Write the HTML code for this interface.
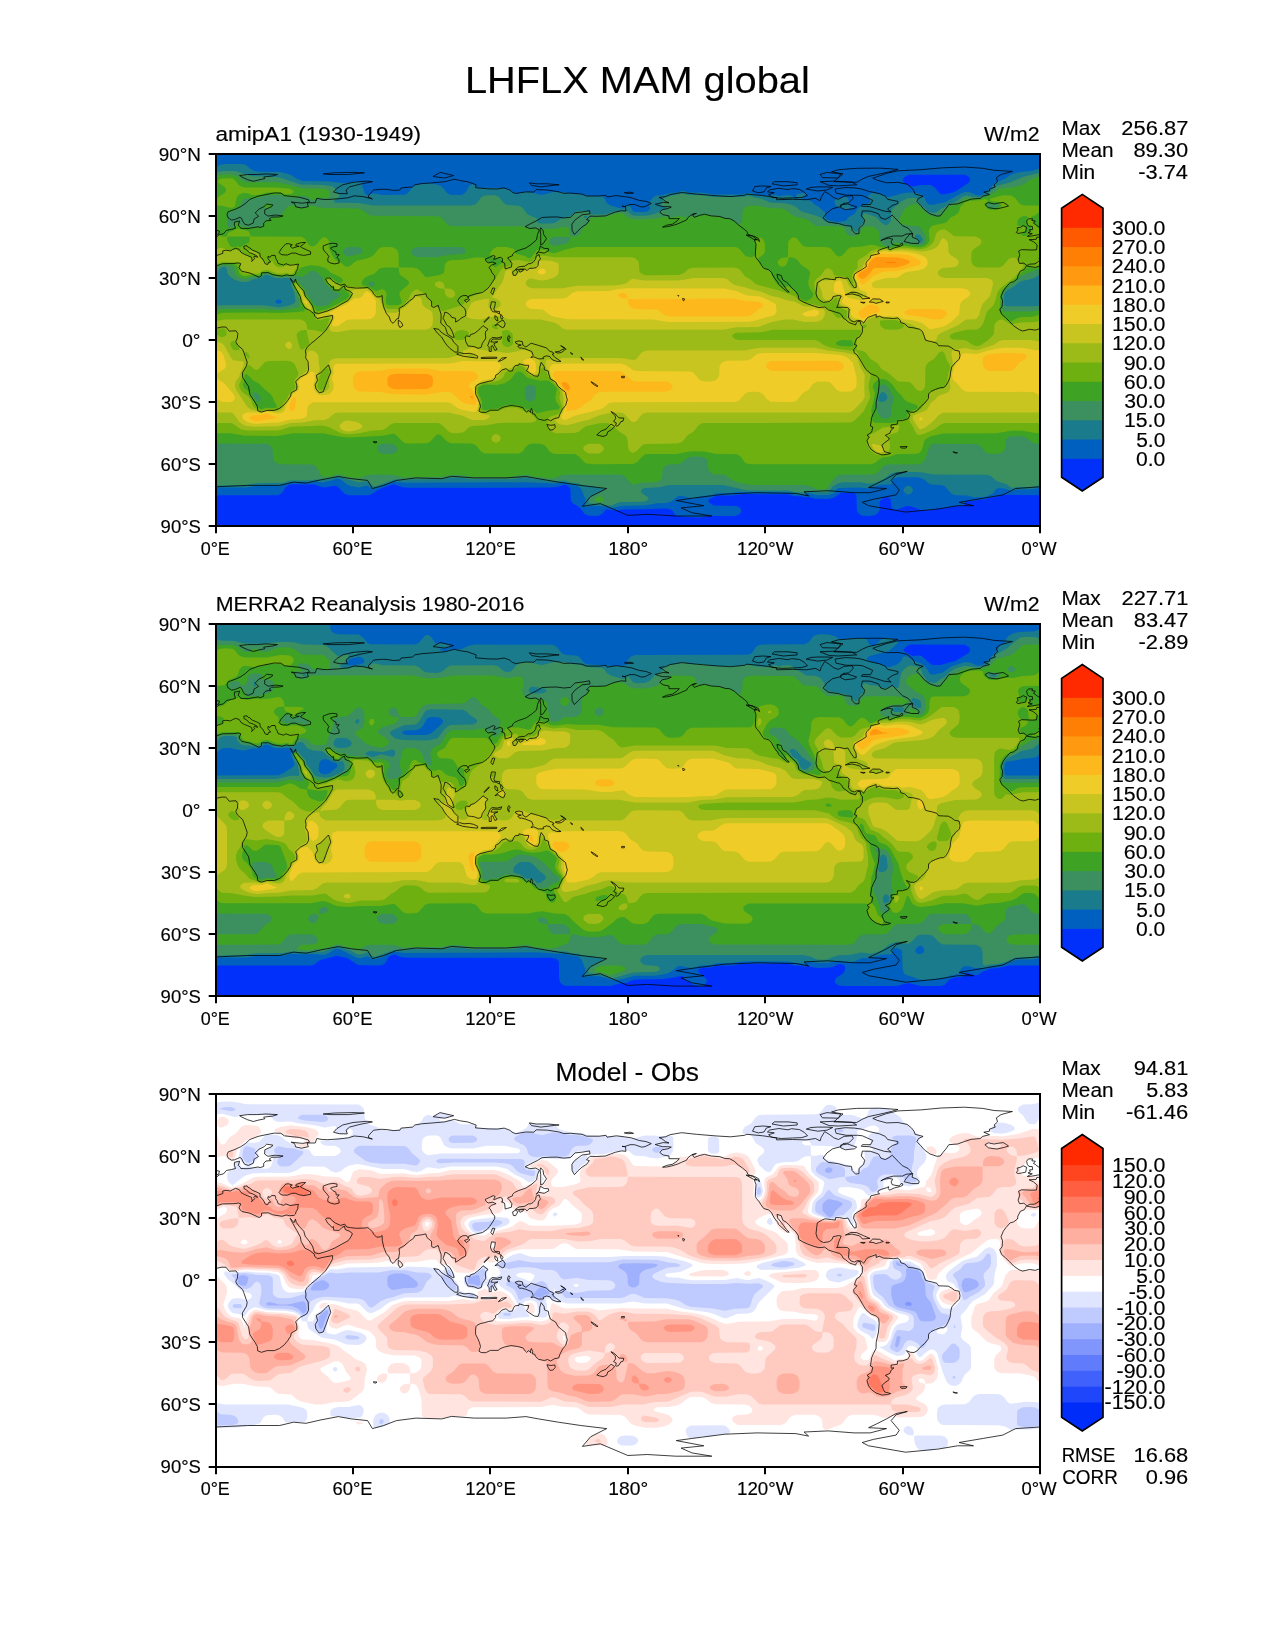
<!DOCTYPE html>
<html><head><meta charset="utf-8"><title>LHFLX MAM global</title>
<style>html,body{margin:0;padding:0;background:#fff}svg{display:block;will-change:transform}text{font-family:"Liberation Sans",sans-serif;fill:#000;stroke:#000;stroke-width:0.15px}</style>
</head><body>
<svg width="1275" height="1650" viewBox="0 0 1275 1650">
<rect width="1275" height="1650" fill="#fff"/>
<clipPath id="ax0"><rect x="215.6" y="153.78" width="824.3" height="372.57"/></clipPath><g clip-path="url(#ax0)" fill-rule="evenodd"><rect x="215.6" y="153.78" width="824.3" height="372.57" fill="#0030fa"/>
<path fill="#0060c0" d="M214.6 152.8 1040.9 152.8 1040.9 495.3 1002.9 494.8 996.9 496.7 990.9 497.4 984.9 499.5 978.9 499.6 972.9 500.9 966.9 500.8 965.3 501.3 964 505.3 962.9 506 950.9 506.4 944.9 508.3 936.9 508.4 932.9 509.8 928.9 510.3 920.9 510.1 912.9 506.9 908.9 506 904.9 506.5 896.8 509.8 894.8 509.8 892.8 508.9 891.5 507.3 890.5 499.3 888.1 497.3 884.8 497.1 881.5 499.3 879.8 501.3 879.5 509.3 879 511.3 877.7 513.3 874.8 515.3 868.8 516 862.8 515.7 860.8 515 858.6 513.3 857.3 511.3 856.8 509.3 856.5 495.3 854.4 493.3 850.8 492.6 840.8 492.7 834.8 497.3 830.8 498.6 826.8 499 814.8 498.7 808.8 497 804.8 497.2 800.8 496.3 794.8 496.2 788.8 494.4 786.8 494.2 742.8 494.1 732.8 495.5 718.8 495.5 714.8 496.4 708.8 499.3 708.7 501.3 710.1 503.3 712.8 505 714.8 505.5 736.8 506.1 739.2 507.3 740.9 509.3 741.3 511.3 740.3 513.3 737.4 515.3 734.8 515.9 708.8 516 700.8 517.6 686.8 516.9 676.8 515.7 674.8 514.5 672.9 511.3 670.8 509.4 664.8 508.4 644.8 509.3 622.7 509.4 614.7 510.4 606.7 509.2 604.7 510.7 602.7 513.5 600 515.3 596.7 516 588.7 515.8 584.7 514.1 579.5 507.3 572.7 503.3 571.3 501.3 570.7 499.3 570.5 489.3 569.6 487.3 566.8 485.3 564.7 484.7 556.7 487 550.7 487.6 408.7 487.7 402.7 487.2 394.7 484.4 392.7 484.3 378.9 489.3 370.7 494.8 366.7 495.3 352.6 495.3 348.6 495.2 344.6 493.7 338.2 487.3 336.6 486.2 334.6 485.8 324.6 487.4 320.6 486.8 314.6 484.4 292.6 484.2 288.6 485.1 285.3 487.3 283.3 491.3 281.7 493.3 278.6 495 276.6 495.3 214.6 495.3ZM908.9 174.7 904.8 176.8 903.3 178.8 902.9 180.8 904.7 182.8 908.9 185.4 910.9 186.3 912.9 186.5 920.9 184.9 930.9 185.1 934.9 187.4 939.1 192.8 940.9 194.1 942.9 194.5 952.9 192.5 956.7 190.8 968.6 182.8 970 180.8 970.1 178.8 968.9 176.8 964.9 174.7Z"/>
<path fill="#1a7b8c" d="M220.4 164.8 224.6 164.1 240.6 164.1 244.6 164.6 246.6 165.5 250.6 169 254.6 171.1 258.6 171.7 278.6 171.9 282.6 172.4 290.6 174.8 296.5 178.8 302.6 181 326.6 181.2 342.6 183 348.6 182.9 354.7 181.6 358.7 182 362.3 182.8 362.3 186.8 363.5 188.8 364.6 192.8 366.7 195.3 368.7 195.1 372.7 193.2 382.7 195.1 404.7 194.8 408 192.8 413 186.8 416.7 184.4 428.7 183.3 436.7 184.4 440.7 185.9 442.7 187.5 446.8 192.8 450.4 194.8 460.7 195 462.7 194.5 465.2 192.8 466.8 190.8 468.7 186.6 470.5 184.8 472.7 184.3 474.7 184.8 476.7 187 478.7 187.7 502.7 187.9 510.7 190.4 514.7 193.3 516.7 193.7 522.7 191.9 528.7 191.9 532.7 192.5 538.7 194.4 542.7 194.8 552.7 192.1 562.7 191.9 572.7 193.8 580.7 193.9 586.7 195.8 600.7 196.3 602.7 196.9 604.7 198.8 606.7 202.9 610.7 205.4 618.7 207.7 622.7 208.4 624.7 207.5 626.7 205.6 628.8 205.6 630.9 206.9 632.8 210.9 634.8 211.9 636.8 212.1 644.8 212 648.3 210.9 650.2 208.9 650.1 206.9 648.8 204.9 649 202.9 652.8 197.7 654.8 196.2 656.8 195.6 660.8 195.6 670.8 193 676.8 192.5 682.8 190.8 688.8 192.5 702.8 192.7 714.8 194.6 740.8 194.6 748.8 192.9 752.8 193.4 756.8 195 766.8 195.8 774.8 195.2 780.8 196.2 782.8 195.4 788.8 195.2 790.8 195.4 794 196.8 794.7 198.8 796.8 198.9 798.7 198.8 795.9 196.8 796.4 194.8 802.8 192.8 804.8 193.4 805.5 194.8 802.8 197.9 801.1 198.8 810.8 201 814.8 204.5 819 206.9 824.8 212.2 825.5 214.9 825.2 216.9 826 218.9 828.8 220.2 836.8 222 845.5 220.9 848.8 217.1 854.8 213.8 857.4 208.9 861.8 204.9 869.7 202.9 870.5 200.9 868.8 198.8 868 196.8 868.8 194.8 872.8 192.5 882.8 194.4 886.8 196.8 888.8 197.2 900.8 193.8 906.9 192.7 910.9 192.6 918.9 193.7 921.8 194.8 923.8 196.8 926.9 203.1 928.9 204.6 930.9 205 932.9 204.7 944.9 202.2 960.9 193.6 964.9 192.1 968.9 192.1 976.9 195.3 978.9 195.5 981.6 194.8 985.3 192.8 994.9 183.2 996.9 181.9 1005 178.8 1010.9 174.7 1018.9 172.3 1032.9 170.8 1038.7 168.8 1040.9 167.2 1040.9 487.6 1036.9 488.6 1030.9 489.3 1016.9 489.5 1012.9 490.6 1010.9 490.6 1002.9 488.3 998.9 488.1 995.9 489.3 993.4 493.3 986.9 496.2 984.9 496.9 973.6 497.3 966.9 495.6 956.9 495.3 952.9 494.5 950.9 493.3 944.9 486.3 940.9 485 930.9 484.5 928.4 483.3 923.8 479.3 920.9 477.9 916.9 477.3 898.8 477.3 894.8 478 892.8 479.2 891.9 481.3 891.8 483.3 890.8 484.5 880.8 484.7 872.8 486.7 868.8 488.5 858.8 487.6 838.8 488 836.3 489.3 835.5 491.3 833.9 493.3 828.8 495 816.8 495.2 808.8 493.3 806.8 493.7 804.8 494.9 794.8 494.2 790.8 492.8 786.8 492.3 742.8 492 736.8 492.1 730.8 493.1 716.8 493.2 710.8 495.2 700.8 496.3 694.8 498.2 690.8 498.2 682.8 496.1 678.8 495.9 676.1 497.3 671.9 501.3 666.8 502.9 656.8 503.2 644.8 505.6 622.7 505.7 612.7 507.8 600.7 505.9 590.7 505.9 586.7 506.7 584.7 505.8 584.4 505.3 585.5 501.3 585.4 499.3 581.5 489.3 579.4 487.3 576.7 485.8 570.7 484.7 564.7 482.5 554.7 483.4 526.7 482.3 404.7 482.8 394.7 481.7 384.7 484.8 374.7 488.7 372.7 488.7 366.7 485.4 362.7 486.8 358.7 487.4 350.6 486.1 346.6 484.2 340.7 479.3 336.6 478.6 330.6 480.8 322.6 482.5 316.6 481.6 310.6 482.3 290.6 482.4 284.6 484.6 276.6 485.5 258.6 485.5 246.6 487.4 218.6 487.5 214.6 488.2 214.6 168.6ZM276.6 300 275.4 301 275.6 303 278.6 303.8 281.5 303 281.7 301 280.6 300.1 278.6 299.4ZM836.7 198.8 844.8 197 846.8 197.6 848.2 198.8 848.6 200.9 848.1 202.9 849.5 204.9 850.8 206.5 853.7 206.9 852.8 208.8 850.8 207.5 849.3 208.9 846.8 209.6 844.8 209.3 837.6 206.9 835.5 204.9 834.6 202.9 834.4 200.9ZM904.8 487.3 906.9 486 908.9 485.8 910.9 486.6 912.9 489.3 912.8 491.3 910.9 493.6 908.9 494.5 906.9 494.2 905.3 493.3 903.7 491.3 903.6 489.3Z"/>
<path fill="#3c9060" d="M215.4 172.8 222.6 171 234.6 171.1 238.6 171.9 246.6 174.8 252.6 176.2 278.6 177.3 300.6 184.4 322.6 184.9 330.6 186 333.3 186.8 334.6 188.1 336.2 192.8 339 194.8 339.1 196.8 333.4 200.9 334.6 202.2 336.6 202.8 358.7 203 372.7 205.5 470.7 205.5 474.7 204.6 476.7 203.2 480.7 198 482.7 196.3 486.7 195.2 494.7 195.3 498.8 196.8 503.7 202.9 506.7 204.9 518.7 205.8 520.7 206.6 522.7 208.1 526.3 212.9 528.7 214.9 536.7 218.2 538.1 222.9 540.7 223.5 550.7 223.5 554.7 222.9 561.1 218.9 570.7 216.1 576.7 211.6 580.7 210.9 586.7 211 588.7 211.8 590.7 214.4 592.7 214.6 604.7 214.5 614.7 211.2 622.7 210.7 626.7 211.1 631.9 214.9 634.8 215.7 644.8 215.8 650.5 214.9 656.8 213.2 660.8 210.4 666.7 208.9 666.7 206.9 660.6 204.9 663.6 198.8 664.8 197.8 672.8 195.2 678.8 194.6 682.8 193.3 688.8 195 702.8 195.2 712.8 197 742.8 197 748.8 195.7 754.8 197.7 761.5 198.8 770.8 202.7 784.8 203.2 792 204.9 796.1 206.9 800.6 210.9 802.8 212.1 813.9 214.9 818.8 216.7 820.8 217.6 824.3 220.9 826.8 222.2 830.8 222.6 834.8 223.8 842.8 224.3 844.8 225.3 848.8 225.9 851.2 226.9 854.2 230.9 856.8 231.7 857.6 230.9 858.9 226.9 863.1 222.9 863.9 220.9 862.7 214.9 864.8 213.2 876.1 216.9 881.8 222.9 884.8 225 886.8 225.1 888.8 223.8 890.7 220.9 891.3 210.9 892.2 208.9 902.2 200.9 906.9 198.4 912.9 197.8 916.9 198.6 919.4 202.9 926.9 210.4 928.9 211.8 930.9 212.5 934.9 212.8 936.9 212 940.8 208.9 944.9 207.1 948.9 203.7 952.9 202.8 956.9 201 962.9 196.5 966.9 195.6 972.9 196.9 978.9 197.2 980.9 196.9 986.7 194.8 996.9 185.7 1009.3 182.8 1023.6 176.8 1040.9 172.4 1040.9 272.5 1036.9 276.4 1034.9 277.6 1030.9 279.1 1020.9 281.2 1018 283 1014.9 286.1 1006.9 290.4 1004.7 293 1004 295 1003.8 299 1004.5 305 1004.9 305.7 1006.9 306.3 1032.9 306.3 1040.9 305.6 1040.9 485.1 1030.9 486.9 1016.9 487.1 1012.9 487.9 1010.9 487.6 1006.9 484.3 996.9 481.3 990.9 476.1 986.9 474.7 934.9 474.6 918.9 472 896.8 472.1 890.8 473.6 883.5 479.3 874.8 483 868.8 483.7 860.8 482.3 842.8 482.3 838.8 482.9 832.8 486.3 828.8 491.3 824.8 492.2 816.8 492.1 806.8 490.7 802.8 492.6 794.8 492.3 788.8 490.6 748.8 490.5 740.9 489.3 736.8 487.9 722.8 485 668.8 485.1 658.8 487.3 644.8 488.1 642 489.3 640.8 491.3 641.9 493.3 647.9 497.3 648.6 499.3 645.9 501.3 642.8 501.8 620.7 502.1 616.7 503.1 612.7 505.1 610.7 505.5 606.7 505.2 602.7 504.3 590.7 503.6 588.7 503 588.6 499.3 589.6 497.3 594.7 493.9 602.2 491.3 604.3 489.3 602.7 488.3 596.7 487.6 592.7 486.3 582.7 485.5 578.7 483.6 570.7 482.5 564.7 480.6 556.7 481.3 546.7 480.7 540.7 479.3 532.7 478.9 528.7 477.5 526.7 477.4 520.7 477.5 516.7 478.5 508.7 479.2 470.7 479.2 460.7 477.5 450.7 477.4 442.7 479.2 410.7 479.2 404.7 480.2 394.7 479.6 374.7 486.5 372.7 486 368.7 481.8 366.7 481.2 358.7 482.3 344.6 478.6 340.6 476.7 336.6 476.4 330.6 478.5 322.6 479.8 316.6 479.4 310.6 480.3 290.6 480.4 282.6 482.7 256.6 483.1 244.6 485 214.6 485.4 214.6 305.8 222.6 305.3 264.6 305.3 278.6 307.5 282.8 307 290.9 305 294.6 303 295.5 301 294.6 293.4 291.1 285 291.6 279 286.6 277.7 282.6 278.3 274.6 277.9 268.6 275.1 266.6 274.7 264.6 274.8 260.6 277.9 254.6 278.8 248.6 281.5 244.6 282.1 240.6 281.7 234.6 279.7 230.7 277 228.6 275 227.5 273 227 269 225.3 267 224.6 266.8 222.1 267 219.7 269 214.6 274.6 214.6 173ZM584.7 216.1 583.8 216.9 584.7 218.1 586.7 217.7 587.3 216.9 586.7 215.7ZM880.8 392.7 878.6 397.2 878.4 399.2 878.8 401.3 880.8 402.1 884.8 401.4 886.9 399.2 887.4 397.2 886.8 395.1 884.8 392.7 882.8 392ZM916.9 234.6 915.5 234.9 914.7 236.9 916.9 238.4 918.9 242.1 920.9 242.8 922.7 240.9 922.5 238.9 920.9 236.1 918.9 234.7Z"/>
<path fill="#3ea224" d="M220.7 174.8 230.6 174.5 234.6 175.2 238.1 176.8 242.8 180.8 246.6 182.1 276.6 182.3 290.6 185.1 302.6 188.5 324.6 188.8 328.9 190.8 329.9 192.8 330 194.8 329.4 196.8 328.6 197.2 324.6 198.5 318.6 197.2 316.6 197.8 314.6 199.5 312.6 200.2 306.6 196.5 302.6 195.7 294.6 197.4 286.6 197 280.6 195.2 268.6 195.1 254.6 198.4 244.6 198.5 241.9 200.9 240.8 204.9 238.6 207.6 234.6 210.5 230.6 211.2 227.9 212.9 227 216.9 227.1 224.9 227.5 226.9 230.6 228 233 226.9 233.9 222.9 236.6 222.1 238.6 223.1 240.6 225.6 242.6 226.7 252.6 227.4 256.6 227 260.6 227.3 262.6 225.6 264.6 222.2 266.6 220.3 270.6 218.1 276.6 216.8 280.5 214.9 282.7 212.9 286.6 207.8 288.6 206.3 292.6 205.2 294.6 205.6 298.6 207.5 304.6 207.9 306.6 207.5 310.6 205.2 318.6 207.3 324.6 208.1 358.7 208.4 363.8 210.9 368.7 215 372.7 215.8 438.7 216.2 442.7 218.5 445.9 222.9 448.1 224.9 452.7 226.2 520.7 226.2 522.7 226.3 528.7 228.3 542.7 229.1 554.7 228.7 564.7 226.7 566.7 227 568.7 228.6 570.7 236.8 576.7 236.2 579 234.9 580.8 232.9 582.1 228.9 583.5 226.9 588.6 222.9 590.2 218.9 592.7 217.3 604.7 217 616.7 213.3 620.7 213 622.7 213.3 626.7 216.9 630.8 218.8 634.8 219.5 644.8 219.5 656.8 218.4 664.8 216.5 670.8 217.6 678.8 216.1 686.8 217.5 690.8 216.3 694.8 216.7 704.8 214 710.8 215.8 716.8 215.9 722.8 217.8 728.8 218.4 732.8 220.3 736.8 223.4 738.8 224.1 741.5 222.9 742.1 220.9 742.6 210.9 744.8 207.6 748.8 205.7 756.8 205.6 768.8 207.9 780.8 208.3 783.7 208.9 787.4 210.9 792.8 215.4 796.8 217 806.8 219.3 809.8 220.9 814.4 224.9 816.8 225.9 840.8 226.2 842.7 226.9 844.7 228.9 846.4 232.9 848.3 234.9 850.8 235.9 856.8 235.4 858.8 234.3 860 232.9 861.7 228.9 864.8 226.7 868.8 226.2 872.8 226.5 874.8 227.4 878.5 230.9 879.4 232.9 879.7 238.9 881.4 242.9 883.2 244.9 886.8 245.7 888.8 246.7 890.8 246.9 894.8 242.5 896.8 242.5 900.8 243.5 912.9 244.2 918.9 245.5 922.9 244.5 925.1 242.9 926.1 240.9 926.1 238.9 924.9 235.2 920.9 228 918.9 226.6 904.9 225.1 900.8 223.2 899.1 220.9 899.3 218.9 903 210.9 904.9 208.7 908.9 205.7 914.9 204 916.9 204.5 926.9 213.6 928.9 214.7 934.9 216.4 938.9 216.4 940.9 215.6 942.9 212.5 948.9 206.7 950.9 205.5 958.9 203.5 964.9 199.1 966.9 198.6 978.9 198.4 986.9 196.6 993.8 192.8 998.9 189.1 1014.9 187 1020.9 185.6 1024.9 183.7 1028.5 180.8 1032.2 178.8 1040.9 175.9 1040.9 267.8 1020.9 276.1 1014.9 281.7 1009.9 285 1004.9 289.4 1002.6 293 1001.9 299 1002.1 309 1002.9 310.7 1004.9 311.6 1032.9 311.5 1040.9 309.8 1040.9 443.6 1034.9 443.4 1032.9 442.7 1025.6 437.2 1022.9 436.2 1010.9 436.3 1008.5 437.2 1006.3 439.2 1005.6 441.2 1005.4 447.2 1004.9 449.2 1003.6 451.2 1000.7 453.2 994.9 453.9 988.9 453.7 986.9 453 984.5 451.2 980.9 446.3 976.9 443.9 932.9 443.8 930.9 444.8 929.2 447.2 925.3 459.2 922.9 462.2 920.9 463.5 916.9 464.2 886.8 464.5 882.8 466.6 877 473.3 872.8 474.5 842.8 474.6 838.8 475.2 836.8 476.2 832.8 480 826.8 488.6 824.8 489.5 820.8 489.6 816.8 489.3 810.8 486.4 804.8 485.1 750.8 484.9 736.8 482.1 732.8 480.4 725.9 475.3 722.8 474.6 714.8 474.5 710.8 472.8 708.2 469.3 707.8 461.3 706.8 459.2 703.6 457.2 698.8 456.6 692.8 456.6 689.2 457.2 685.6 459.2 680.9 463.3 678.8 464 668.8 464.4 666.2 465.3 663.7 467.3 662.6 469.3 662 477.3 661.2 479.3 658.5 481.3 654.8 482.2 642.8 482.6 634.8 484.2 632.8 484.2 630.8 483.3 624.7 476.3 622.7 475.2 618.7 474.6 566.7 474.6 560.7 475.6 554.7 478 548.7 478.6 540.7 477.1 534.7 476.9 530.7 475.5 526.7 475 520.7 475.1 510.7 476.9 504.7 477 472.7 477 460.7 475.1 450.7 475 440.7 477 410.7 477 404.7 477.7 392.7 474.7 372.7 474.6 366.7 475.5 358.7 478.3 346.6 476.8 340.6 474.6 336.6 474.5 330.6 476.4 324.6 476.9 322.6 476.5 320.9 475.3 317.1 467.3 314.6 465.3 312.6 464.5 280.6 464.2 276.6 463.1 274.4 461.3 273.3 459.2 272.6 449.2 271.7 447.2 269.8 445.2 266.6 443.8 214.6 443.6 214.6 310.3 220.6 309.2 226.6 309 264.6 309 278.6 310.2 290 309 298.6 307.2 300 305 298.9 299 297 293 295.4 291 292.8 285 292.8 283 294.4 281 296.6 280.1 298.6 281.4 300.6 284.7 304.6 289 305.9 291 306.6 294.4 310.6 299 312.6 302.6 314.6 305.2 316.6 306.1 324.6 306.1 328 305 332.6 300.7 339.3 297 340.6 295 340.2 293 334.6 292 328.6 286.7 323.3 281 322.6 277.8 322 277 318 273 314.6 271.1 312.6 270.8 310.6 271.3 302.6 277 296.6 276.1 290.6 276.8 286.6 275.9 282.6 276.5 276.6 276.5 266.6 272.9 264.6 273 260.6 276 252.6 276.8 244.6 278.9 240.6 278 236.2 275 235.1 273 234.1 267 232.6 266.1 227.4 265 222.6 264.8 214.6 268.5 214.6 176.6ZM344.6 248.6 342.9 250.9 343.2 252.9 346.6 256.1 348.6 256.4 358.7 254.3 361.7 252.9 362.8 250.9 360.7 248.1 356.7 247 348.6 247ZM368.7 282.5 368.5 285 370.7 286 372.7 286.5 374.1 285 374.3 283 372.7 281.7 370.7 281.4ZM380.7 444.3 378.7 445.5 377.2 447.2 376.9 449.2 377.9 451.2 380.7 453.2 384.7 453.9 392.7 453.7 394.7 452.9 396.7 451.4 397.5 449.2 396.7 447.2 392.7 444.1 384.7 443.6ZM414.7 247.8 412.9 248.9 411.4 250.9 411.3 252.9 412.5 254.9 414.7 256.4 418.7 257.2 436.7 257.2 448.7 254.8 460.7 254.3 464.7 252.9 465.8 250.9 464.8 248.9 462.7 247.6 458.7 246.9 418.7 246.9ZM528.7 384.8 525.3 387.1 524.8 389.1 524.8 395.1 525 397.2 526.7 400.2 528.7 401.4 530.7 401.5 532.7 400.8 534.6 399.2 535.7 397.2 536.1 389.1 535.3 387.1 532.7 385.2ZM554.7 236.7 550.7 238.2 549 240.9 549.5 242.9 550.7 244.3 552.7 245.7 554.7 246 564.7 243.9 567.4 242.9 569.6 240.9 570.6 236.9ZM880.8 385 878.5 387.1 877.9 389.1 877.8 393.1 876 399.2 876.1 407.2 878.8 414.9 880.6 417.2 884.8 418.7 886.8 418.6 890.1 417.2 891 415.2 891.1 409.2 893.2 401.2 893.5 397.2 889.6 389.1 886.8 385.7 884.8 384.5 882.8 384.3ZM988.9 202.7 987 204.9 988 206.9 990.9 208 996.9 207.7 998.2 206.9 998.9 204.9 996.9 203.7ZM252.6 392.8 252.9 395.1 256.6 401.6 258.6 402.6 259.9 401.2 260.6 399.2 260.5 397.2 259.2 395.1 256.6 393 254.6 392.2ZM265.2 204.9 266.6 203.7 268.6 203.3 270.6 203.8 271.7 204.9 271.6 206.9 270.6 207.9 264.6 208.8 263.9 206.9ZM596.5 497.3 598.7 496.6 600.7 496.6 602.1 497.3 603.8 499.3 603.9 501.3 598.7 502 594.8 501.3 594.4 499.3Z"/>
<path fill="#6eb010" d="M220.5 178.8 224.6 178.3 232.6 178.6 235.5 180.8 238.6 184.9 240.6 186.3 244.6 187.6 276.6 187.6 288.6 188.6 290.6 189 293.5 190.8 293.2 192.8 290.6 194 286.6 194.4 280.6 192.6 266.6 192.6 260.6 194.5 254.6 195.2 252.6 195 246.6 193 242.6 193 238.9 194.8 237.1 196.8 235.7 200.9 235.4 204.9 234.5 206.9 232.6 207.8 228.6 207.4 222.6 205.9 216.6 205.5 215.6 204.9 215.7 202.9 216.8 198.8 218.6 196.8 224.6 193 226 190.8 225.8 188.8 224.4 186.8 218.4 182.8 217.8 180.8ZM997.3 196.8 1002.9 195.2 1010.9 195.4 1014.9 197.6 1018.9 202.9 1021.9 204.9 1024.9 205.5 1038.9 205.5 1039.9 206.9 1039.4 210.9 1038.3 212.9 1035.8 214.9 1031 216.9 1031.6 218.9 1034.9 223.9 1037.7 226.9 1040.9 232.4 1040.9 266 1034.9 267.9 1032.9 268.1 1028.9 267.3 1026.9 268 1018.9 274.9 1014.9 279.7 1008.9 283.8 1004.9 287.2 1002 291 1000.3 295 1000.2 305 999.3 309 999.5 311 1002.5 315 1010.9 321.4 1012.6 321 1014.9 319.3 1018.9 317.6 1022.9 316.9 1032.9 316.7 1040.9 314.2 1040.9 433.2 1034.9 433 1022.9 430.7 1014.9 430.6 1008.9 430.9 996.9 433.2 942.9 433.4 930.9 436.2 925.6 439.2 924.2 441.2 922 449.2 920.9 451.6 918.9 453.3 916.9 453.8 896.8 454.2 888.8 456.7 882.8 457.6 879.4 459.2 874.8 463.1 870.8 464.2 750.8 464.2 746.8 463.5 744.8 462.2 740.8 457 738.8 455.2 736.8 454.3 714.8 453.8 704.8 451.6 694.8 451.3 688.8 451.5 676.8 453.9 646.8 454 644.8 454.6 642.8 456 636.8 462.2 632.8 464.1 594.7 464.3 586.7 463.6 584.7 462.4 578.7 456.3 574.7 454.1 556.7 453.9 552.7 453.4 549.5 451.2 544.7 445.3 540.7 443.7 532.7 443.6 528.7 444.6 526.7 446.1 522.7 451.4 518.7 453.6 484.7 453.6 480.8 451.2 476.7 445.9 474.7 444.5 470.7 443.6 450.7 443.3 446.7 441.2 440.8 435.2 438.7 434.2 435.8 435.2 430.9 441.2 427.1 443.2 408.7 443.6 404.7 443 402.1 441.2 396.7 435.6 394.7 434.3 392.7 433.8 382.7 435.7 348.6 437.4 338.6 436.5 324.6 433.6 320.6 433.2 292.6 433.2 280.6 435.6 276.6 435.9 244.6 435.8 230.6 433.2 214.6 433.2 214.6 315 222.6 312.7 264.6 312.6 278.6 313.1 294.6 312.3 304.6 311.2 304.6 309 301.1 303 298.2 293 295.5 289 293.8 285 294 283 294.6 282.2 296.6 281.9 302.9 289 304.1 291 305.4 295 308.9 299 312.6 305.4 316.6 310.7 318.6 310.9 326.6 309.2 331.6 307 346.6 299.2 348.8 297 349.4 295 348.6 292.9 342.6 288.4 338.6 290.4 334.6 290 331.9 287 328.6 284.7 325.5 281 325.4 279 326.6 277.2 328.6 276.8 332.6 278.8 336.6 282 338.6 283 340.6 283.2 343.1 281 342.4 279 340.6 277.3 331.2 273 326.7 269 324.6 267.7 318.6 265.9 310.6 265.3 302.6 267.1 300.6 268.1 296.3 273 292.6 275.5 290.6 275.6 286.6 274.5 282.6 275.4 276.6 275.3 268.6 272 266.6 271.7 262.6 272.3 260.6 274.3 258.6 275.3 250.6 275.2 244.6 276.2 241.2 275 239.2 273 237.8 267 236.6 264.9 232.6 264 222.6 263.6 214.6 266.4 214.6 229 215.4 230.9 218.6 234.7 220.6 236.2 222.6 236.6 226.6 236.7 228 232.9 234.6 229.9 236.6 228.3 247.9 230.9 249.6 232.9 250.6 236.6 300.6 236.8 302.6 237.3 305 238.9 309.1 244.9 310.6 246 312.6 246.3 314.6 245.8 316.6 244.3 320.9 238.9 322.6 237.7 324.6 237.3 326.6 238 329.2 240.9 329.5 242.9 328.6 247.3 331 252.9 334.4 258.9 336.6 260.6 340.6 262.3 344.6 266 346.6 266.8 348.6 266.6 350.6 265.4 353.3 262.9 356.7 260.8 366.7 258.5 370.8 256.9 373.7 254.9 378.5 248.9 380.7 247.6 384.7 246.9 392.7 247.2 396.7 249.4 398.5 252.9 398.8 267 400.7 267.6 412.7 267.6 416.7 268.2 420.4 271 424.7 276.3 426.7 277.2 438.7 275.3 442.7 273.7 443.6 273 444.4 271 444.7 265 445.5 262.9 448.1 260.9 450.7 260.2 462.7 259.8 474.7 257.4 482.7 257.4 484.7 258.4 486.7 261.3 492.3 262.9 493.9 267 494.7 267.2 496.7 266.5 501.7 262.9 501.8 260.9 500.9 258.9 498.7 258.1 494.7 258.1 492.7 256.4 489.8 254.9 490.2 252.9 492.7 249.2 496.7 247.1 506.7 247 512.7 248.4 514.7 250 515.1 252.9 516.7 254.1 524.7 256 528.7 258.2 530.7 258.1 536.7 250.4 538.7 249.3 544.7 249.7 550.7 252.8 554.7 253.2 564.7 249.7 576.7 247.1 580.7 246.9 734.8 247 736.8 247.3 739.6 248.9 744.8 255.2 746.8 256.5 750.8 257.2 752.8 256.9 754.8 255.1 755.6 252.9 755.8 244.9 755 240.9 756.3 238.9 758.8 237.6 760.8 237.6 762.9 238.9 764.8 242.4 765 250.9 764.3 252.9 762.9 254.9 758.8 257.7 758.1 258.9 758.6 260.9 762.6 267 768.8 270.4 770.8 272.3 774.8 281 776.8 283.3 782.8 287.3 784.8 287.8 786.8 286.4 788.8 286.3 795.2 291 798.1 295 798.9 297 800.8 298.8 804.8 300.6 806.8 300.8 810.5 299 812.8 296.6 813.3 295 813.1 293 810 289 808.5 285 808.4 281 810.2 273 809.5 271 807.5 269 801.3 265 796.8 259.2 792.8 257.5 788.8 257.3 786.8 263.9 784.8 266 782.8 266.8 780.8 266.5 778.8 265.2 777.6 262.9 777.9 260.9 780.8 258.3 788 256.9 788.2 242.9 788.8 240.9 790.8 238.5 792.8 237.5 794.8 237.5 796.8 238.6 802.1 244.9 804.8 246.5 808.8 246.9 824.8 246.9 828.8 247.5 831.2 248.9 836.1 254.9 838.8 256.4 840.8 256.3 842.8 255.1 847.9 248.9 850.8 247.3 860.8 246.8 870.8 244.7 874.8 245 880.8 247.3 884.8 247.2 890.8 248.4 898.8 245.7 904.9 245.7 916.9 247.3 920.9 247.3 924.9 245.9 928.5 242.9 929.4 240.9 929.6 238.9 928.7 230.9 929.3 228.9 930.8 226.9 932.9 225.6 944.8 222.9 946.9 221.7 950.9 217.3 955.7 214.9 958.2 212.9 959.3 210.9 960.3 206.9 964.9 202.4 968.8 200.9 980.9 200 984.9 198.9 986.9 199.5 987.7 200.9 985.5 202.9 985 204.9 985.5 206.9 986.9 208.3 988.9 209.5 990.9 209.9 996.9 209.7 1000.7 206.9 1001.6 204.9 998.9 202 990.4 200.9 990 198.8ZM1022.9 216.2 1020.9 217 1018.6 218.9 1017.5 220.9 1017.3 224.9 1018.9 226.1 1022.9 226.1 1025 226.9 1025.7 228.9 1025.3 230.9 1024.9 231.6 1022.2 232.9 1021.3 234.9 1022.9 235.9 1024.9 235.9 1026.9 235.3 1028.9 233.4 1031.3 228.9 1031 226.9 1028.1 224.9 1026.9 222.9 1026.8 220.9 1028.5 216.9 1024.9 216ZM244.6 374.9 244.4 379.1 243.1 385.1 243.6 387.1 248.6 391.6 250.1 395.1 253 399.2 256.6 406.3 260.6 409.3 262.6 409.2 264.6 408.1 266.6 407.8 274.6 407.9 276.8 407.2 276.5 405.2 274.2 401.2 272.7 397.2 270.6 394.1 264.3 389.1 258.6 383.3 252.6 380.1 246.6 373.8ZM228.6 236.6 227 236.9 227.5 240.9 230.6 246.4 232.6 247.3 236.6 246.5 240.6 247.2 244.6 244.3 248.7 242.9 249.6 240.9 249.9 236.9 248.6 236.6ZM380.7 268.3 378.7 269.5 374.7 273.4 366.7 276.5 364.7 277.8 362.3 281 361.8 283 362.2 285 368.7 287.3 374.7 290.6 376.7 290.9 380.7 289.4 382.7 289.3 384.7 290.3 386.6 293 385.7 301 386.7 304.5 388.7 305.2 398.7 305 401.8 303 401.6 301 399.4 295 399.5 293 400.7 291 407.9 285 409.1 283 408.5 281 400.4 275 399.3 273 398.7 267.5 384.7 267.6ZM516.7 372.2 514.7 373.9 510.7 379.5 504.7 383.2 496.7 384.9 484.7 384.6 482.5 385.1 479 387.1 478.2 389.1 478.3 393.1 481.9 401.2 482.2 409.2 482.7 409.8 486.7 410.2 492.7 408.7 496.7 408.8 504.7 405.4 508.7 404.9 516.7 405 518.7 405.4 526.7 409.5 530.7 409.2 532.7 409.6 536.7 413.4 548.7 410.5 558.9 409.2 560 407.2 556 401.2 555.3 397.2 556.9 389.1 554.7 385.7 552.7 383.7 548.7 380.8 546.7 380.4 540.7 380.8 528.7 378.3 526.3 377.1 522.7 373 520.7 371.9 518.7 371.6ZM838.8 340.7 835.8 343.1 837 345.1 840.8 345.9 850.8 346.5 852.8 345.7 853.2 345.1 852.8 343 851.9 341.1 850.8 340.2 842.8 340.1ZM880.8 378.9 878.8 379.4 876.3 381.1 874.8 382.3 873.1 385.1 872.8 387.3 875.1 393.1 873.1 403.2 871.3 409.2 871.7 417.2 872.8 421.5 874.8 422.8 890.8 423 894.8 422.6 898.8 419.8 904.9 419.5 906.9 418.4 907.5 417.2 907.6 413.2 908.9 411.6 916.3 409.2 917.9 407.2 916.9 405.2 906.9 401.4 904.9 399.9 900.8 394.7 896.8 390.9 892.8 385.1 888.8 381.2 884.8 379.1ZM906.9 429 906.9 429.5 907.8 429.2ZM1040.3 200.9 1040.9 199.4 1040.9 205.5 1039.9 204.9ZM214.6 206.9 214.6 205.5 215.6 206.9 214.6 211.8Z"/>
<path fill="#9cbb18" d="M938.3 230.9 940.9 229.7 944.9 229.6 947.6 230.9 952.9 235.2 954.9 236.2 974.9 236.6 977 236.9 980.4 238.9 981.6 240.9 980.9 243.8 978.9 245.8 973.8 248.9 972.2 250.9 971.4 252.9 971.2 258.9 971.8 262.9 973.1 265 976 267 978.9 267.6 998.9 267.4 1002.9 265.7 1008.9 258.7 1012.9 257.4 1014.9 257.5 1016.9 259.1 1020 262.9 1023.2 265 1023.5 267 1017.9 273 1014.9 277.3 1001.8 287 998.9 290.1 997.3 293 994.5 303 992.9 305.7 986.9 311.8 983.4 323 980.8 327 976.9 329.4 966.9 329.8 954.9 332.5 950.1 335.1 949.6 337.1 950.9 338.6 952.9 339.6 964.9 340.3 966.9 340.9 972.6 345.1 976.9 346.2 981 345.1 988.9 339.4 992.9 335.5 994 333.1 994.4 325 995.3 323 998.9 320 1000.9 319.4 1002.9 319.8 1010.9 324.6 1020.9 322.4 1034.9 321.9 1040.9 320.9 1040.9 330.6 1040.2 333.1 1040.9 334.4 1040.9 422.9 944.9 422.9 940.9 424.6 934.4 429.2 922.9 434.3 918.9 435.1 916.9 434.2 914.9 431.3 912.9 426.4 909.4 421.2 910.1 415.2 911.1 413.2 914.9 412.2 920.7 409.2 924.9 403.3 928.4 397.2 928.5 395.1 929.4 393.1 930.9 391.8 934.9 389.9 942.9 388.6 944.9 387.1 946.9 382.6 948.4 373.1 949.8 369.1 950 367.1 949.8 365.1 947.2 361.1 944.3 353.1 942.9 351.6 940.9 351.6 938.8 353.1 933.9 359.1 928.9 362.1 926.9 364.1 925.6 367.1 925.4 369.1 925 387.1 922.9 390.3 920.9 391.1 918.9 391 915.9 389.1 912.9 385 910.9 383.1 908.9 382 898.8 381.4 896.8 380.6 888.8 373.3 881.5 369.1 877.4 363.1 870.4 359.1 866.8 353.8 864.8 351.9 862.8 350.9 856.8 350.1 856.4 341.1 857 339.1 860.9 333.1 861.3 331.1 860.8 330.1 858.8 329.8 852.8 329.7 772.8 329.8 760.8 332.2 736.8 332.7 734.8 333.3 732.4 335.1 732.6 337.1 734.8 339 738.8 340 814.8 340.1 818.8 341.3 823.8 345.1 829.1 347.1 836.8 348.7 856.8 351.3 864.8 367.1 869.7 373.1 870.5 375.1 870.5 377.1 868.9 383.1 868.5 387.1 870.4 397.2 863.7 411.2 854.8 420.3 850.8 422.6 702.8 423.1 698.8 425.1 693.9 431.2 687.6 435.2 682.8 441.2 680.8 442.6 676.8 443.5 644.8 443.9 642.2 445.2 636.2 451.2 632.8 452.9 630.8 452.1 628.4 449.2 627.5 439.2 626.8 437.2 625.2 435.2 618.9 431.2 614.7 427.3 610.7 426.9 608.7 423.5 608 423.2 600.7 422.9 586.7 426.1 584.2 427.2 578.7 431.7 574.7 433.1 556.7 433.2 554.7 433 551.3 431.2 548 427.2 547.6 423.2 548 419.2 549.4 417.2 550.7 416.4 556.7 414.7 558.7 413.4 560.7 411 562.4 407.2 559.7 399.2 559.4 397.2 560.1 393.1 559.2 389.1 556.1 385.1 548.3 377.1 546.7 372.6 542.7 367.1 541.1 369.1 540.5 373.1 539.4 375.1 536.7 376.8 534.7 376.9 530.7 375.6 528.7 374.4 527.5 373.1 524.7 367.8 520.7 365.8 516.7 366.7 512.7 370.2 506.7 371.7 504.9 373.1 503.5 377.1 501.4 379.1 498.7 380.5 490.7 382.8 484.7 382.8 479.3 385.1 477.1 387.1 476.7 388.3 476.8 393.1 480.3 401.2 480.2 409.2 481 411.2 482.7 412 488.7 412.1 492.7 410.9 498.7 411 506.7 407.5 516.7 407.5 520.9 409.2 526.7 412.5 530.7 412.4 536.3 419.2 535.6 421.2 532.7 422.3 528.7 422.8 498.7 422.9 486.7 425.2 472.7 425.9 469.1 427.2 464.9 431.2 462.7 432.5 456.7 433.2 450.7 432.7 448.3 431.2 442.4 425.2 438.7 423.1 394.7 422.9 390.7 424.3 386.7 427.7 382.7 429.9 370.7 430.7 360.7 432.9 348.6 434.3 344.6 434 340.6 432.9 328.6 427 322.6 425.5 290.6 426.7 280.6 430 276.6 430.6 246.6 430.6 240.6 429.2 232.6 423.6 230.6 423 214.6 422.9 214.6 321.3 224.6 319.4 300.6 319.6 304.1 321 306 323 306.8 325 307.2 329 308.6 329.7 314.6 330.2 322.6 332.2 324.6 331.3 326.1 329 329.6 319 328.6 318.2 326.6 318.1 320.6 319.9 316.6 319.4 314.4 317 314.5 315 316.6 313.3 325.6 311 330.6 309 346.5 301 348.6 299.3 350.7 297 351.3 295 350.6 292.4 346.3 289 345.6 287 346.6 285.7 350.6 287.1 358.7 287 368.7 288.4 372.3 291 376.7 295.4 380.7 295.9 381.8 297 384.7 306.9 386.7 308.6 388.7 309 396.7 308.9 404.1 305 408.5 299 411.3 293 414.7 289.9 416.7 289.3 424.7 293.4 426.3 295 428.7 299.1 430.9 301 432.7 305.4 436.7 306.2 439.9 309 440.7 310.4 442.7 311.2 462.7 305.1 467.8 299 470.5 297 478.7 294.1 486.7 289 490.7 283.8 495.3 279 501.6 269 504.7 266.8 508.7 266.6 510.7 265.2 511.7 260.9 512.7 260.2 518.7 260 530.7 262.2 533 260.9 536.7 256.8 538.7 255.9 542.7 255.4 554.7 257.2 630.8 257.3 634.8 258.1 638 260.9 638.9 262.9 639.4 271 640.6 273 644.5 275 646.8 275.3 678.8 275.1 683.9 273 688.8 268.7 692.8 267.7 732.8 267.6 736.8 268 738.8 269 740.8 270.8 744.8 275.9 750.8 279.7 754.3 283 757.9 285 780.8 290.9 790.8 294.7 794.8 296.3 798.8 300.2 804.8 303.1 812.8 304.2 818.8 306.1 822.8 305.6 824.8 306.3 830.8 311 836.8 317.6 838.8 318 840.8 317.2 842.8 317.5 844.8 318.9 846.8 319.4 847.2 319 846.6 315 847.1 311 840.8 307.7 837.8 305 837 303 837.8 299 836.8 298.1 834.8 298.5 830.8 301.8 828.8 302.8 824.8 303 822.8 302.6 820.8 301 817.6 297 814.7 287 814.2 283 816.4 279 821.3 275 824.8 269.8 826.8 268.6 828.8 268.5 830.8 269.4 832.5 271 834 275 834.8 275.5 846.8 277.3 849 279 850.8 282.1 852.8 284.1 853.5 283 853.1 281 852 279 851.9 275 854.8 270.4 856.8 269 857.8 267 857.3 262.9 857.9 260.9 859.8 258.9 866.6 254.9 870.8 251 876.8 249.3 884.8 248.3 890.8 249.5 894.8 248.4 900.8 247.5 908.9 247.9 918.9 249.3 924.9 248.4 928.9 246.6 932.8 242.9 933.9 240.9 936.4 232.9ZM218.6 328.8 216.2 331.1 215.9 333.1 217 335.1 220.6 336.9 222.6 337.1 224.6 336.6 226.5 335.1 226.6 331.1 224.6 328.4 222.6 328.2ZM232.6 340.7 230.5 343.1 230.5 345.1 231.3 347.1 232.6 349 234.6 350.2 238.6 349.9 239.6 349.1 238.8 347.1 234.6 341.6ZM244.6 352.3 244.3 353.1 245.3 355.1 248.6 358.7 249.5 357.1 248.6 354 246.6 352.1ZM268.6 360.9 264.6 362.3 258.7 369.1 256.6 370 254.6 369.6 250.6 365.7 248.6 365 246.6 366.9 242.4 373.1 242.1 377.1 239.1 385.1 239.2 387.1 241.5 391.1 244.6 393.9 246.6 394.7 250.8 399.2 252.7 405.2 253.9 407.2 260.6 410.9 266.6 409.5 276.6 409.9 278.5 409.2 280.6 407.5 283.3 403.2 286.7 399.2 289.7 393.1 291.5 391.1 294.8 389.1 295.5 387.1 294.2 383.1 294.2 381.1 298.2 375.1 298.4 373.1 295.1 365.1 293.5 363.1 290.6 361.3 286.6 360.8ZM300.6 330.4 297.2 333.1 296.5 335.1 299.5 347.1 300.6 349 302.6 349.8 308.7 345.1 309.6 343.1 307.9 337.1 306.6 329.7ZM324.6 368.7 318.7 377.1 318.7 381.1 317.6 385.1 317.6 387.1 318.6 389.5 320.6 390.3 322.6 389.9 325.2 387.1 326.8 379.1 329.1 373.1 329.2 371.1 328.4 369.1 326.6 367.6ZM458.7 330.5 456.7 331.2 454.6 333.1 454.1 337.1 454.9 339.1 456.7 339.9 462.7 339.9 468.5 335.1 469.1 333.1 466.7 331.1 462.7 330.1ZM492.7 304.7 492.7 305.2 493.1 305ZM502.7 330.8 502.2 331.1 501.9 333.1 502.6 337.1 502 343.1 502.9 345.1 504.7 346.3 506.7 347.1 508.7 347 512.2 345.1 513.1 343.1 512.8 335.1 511.8 333.1 508.7 330.6 506.7 330ZM862.8 324.8 862.3 325 862.2 327 862.8 328.6 864.8 328.1 866.1 327 867.1 325ZM880.8 320.5 879.9 321 880.2 325 881.5 327 884.8 329.2 888.8 329.7 896.8 329.6 900.8 328.7 903.8 327 903.7 325 896.8 320.2 888.8 320ZM492.7 324.4 491.9 325 492 327 492.7 327.9 495.1 329 498.8 329 494.7 324ZM217.5 248.9 220.6 247.6 230.6 250.5 236.6 249.8 242.6 253.6 248.6 256.2 252.6 258.6 255 256.9 255 254.9 254.6 254.2 250.6 253.4 248.5 250.9 248.6 250.5 250.6 250.3 256.6 252.8 258.6 254.4 261.6 258.9 266.6 263.8 268.6 264 270.5 262.9 270.6 261.8 272.6 261 273.2 262.9 274.7 265 276.6 266.5 278.6 267.3 282.6 267 286.6 265.5 294.6 264.2 296.2 265 296.8 267 293.4 273 290.6 273.9 286.6 272.7 282.6 273.6 276.6 273.5 268.6 270.1 266.6 269.9 262.6 270.4 258.6 273.5 244.6 273.2 241.9 271 240.6 267.9 240.3 265 239.5 262.9 238.6 262.2 222.6 261.8 216.6 263.9 214.6 263.9 214.6 260.6 215.8 252.9 216.3 250.9ZM1040.6 250.9 1040.9 250.2 1040.9 263.9 1038.9 263.9 1036.6 262.9 1038.9 260.6ZM270.4 258.9 271.5 258.9 270.6 260.2ZM328.3 279 332.6 280.7 336.6 284 339.4 285 340.6 287 338.6 289 335.8 289 332.6 285.9 328.5 283 327.1 281ZM435 283 438.7 281.2 440.7 281.4 442.7 282.4 444.3 285 444.7 288.5 450.7 288.8 454 291 455.2 293 454.7 295.8 452.7 297.6 450.7 298.1 447.7 297 445.8 295 444.9 293 444.6 289 438.7 287.9 436.7 287 434.8 285ZM294.9 285 296.6 283.4 303.1 291 304.1 295 309.2 301 313.4 309 313.5 311 312.6 312.1 310.6 311.8 308.6 310.7 302.6 303.9 299.4 293 296.5 289ZM897.1 425.2 899 425.2 899.5 427.2 898.1 431.2 896.8 432.5 890.8 434.2 888.9 435.2 888.6 437.2 889.3 439.2 890.2 447.2 888 453.2 880.8 454.9 876.8 454.8 874.8 453.9 870.2 449.2 867.4 445.2 867.4 441.2 868.8 435.8 870.8 434.2 874.8 432.6 882.8 427.4 890.8 426.6ZM493.1 435.2 494.7 434.3 496.7 434 499.1 435.2 500.6 437.2 500.7 438.8 499.5 441.2 496.7 442.7 494.7 442.5 492.7 441.2 491.5 439.2 491.6 437.2ZM585.1 445.2 588.7 443.7 598.7 443.8 600.7 444.6 602.7 446.2 603.5 447.2 603.9 449.2 602.7 451.4 598.7 453.6 588.7 453.6 584.9 451.2 583.4 449.2 583.4 447.2Z"/>
<path fill="#c8c420" d="M941.9 238.9 942.9 238.2 944.9 238.9 946.9 240.9 948 242.9 948.5 250.9 949.1 252.9 950.9 255.2 956.9 259.1 958.4 260.9 958.8 262.9 957.8 265 954.9 267 942.9 267.9 940.9 268.7 938.3 271 937.7 273 938.9 275.3 940.9 277 944.9 277.9 986.9 278.1 990.9 279.5 992.5 281 993.3 283 990.3 295 988.9 297.4 982.9 303.5 981.3 307 979.2 315 976.9 318.5 974.9 319.3 966.9 319.6 964.9 320.3 958.5 325 940.9 333.1 937.9 335.1 936.8 339.1 935.3 341.1 930.9 341.9 928.9 341.5 924.9 337.8 923 333.1 918.9 328.5 910.9 324.2 902.9 321.7 900.8 320.7 898.8 318.8 896.8 318.1 884.8 318.1 878.8 316.9 874.8 316.8 868.5 319 864.8 322.2 862.8 322.3 858.8 320.7 852.8 320.5 850.8 318.8 848.8 315 848.7 313 849.3 311 849 309 842.8 306.4 840.8 305 839.3 303 840.2 297 838.8 296.2 834.8 296.1 828.8 300 826.8 300.2 823.8 299 822.7 297 821.6 291 819.1 285 819.2 283 820.8 281.3 822.8 280.6 832.8 279.9 838.8 278.1 842.8 278.5 844.8 279.1 846.8 280.8 848.6 285 850.8 287.8 852.8 288.6 854.8 288.1 855.9 285 855.3 281 853.5 277 853.6 275 854.6 273 862.7 267 864.1 262.9 865.4 260.9 872.8 253.6 877.9 250.9 884.8 249.5 890.8 250.6 900.8 249.3 908.9 249.8 920.9 251.5 926.9 250.9 932.9 249.2 936.9 246.9 938.5 244.9 940.9 239.9ZM852.8 290 850.8 291.6 850.5 293 850.8 293.4 860.8 297.6 863.6 297 862.8 295ZM540.4 260.9 542.7 260.2 552.4 260.9 557.8 262.9 558.9 265 558.6 273 557.5 275 554.7 277.3 546.7 279.9 540.7 280.4 530.7 278.6 528.7 279.1 526.4 281 525.6 283 526.2 285 528.7 287.3 532.7 288.3 562.7 288.3 576.7 285.7 612.7 285.4 620.7 284.7 624.7 283.7 626.6 283 630.8 279.6 632.8 278.7 644.8 280.5 676.8 280.6 682.8 280.1 692.8 278 722.8 278 726.8 279 731.4 283 734.9 285 744.8 287.2 752.8 289.8 760.8 291.5 770.8 295.8 778.8 297.5 786.8 300.2 794.8 301.8 802.8 305.8 804.8 306.4 812.8 306.6 818.8 308.3 822.8 308.8 824.9 311 824.9 315 822.7 319 820.8 320.5 816.8 321.8 804.8 321.9 792.8 319.5 784.8 319.4 770.8 322.2 758.8 326.9 736.8 327.2 724.8 329.5 720.8 329.7 566.7 329.7 562.7 328.5 558.7 325 554.7 322.7 540.7 319.5 508.7 319.2 500.7 316.5 496.7 315.8 480.7 319.4 472.7 319.1 468.7 318.1 467.1 317 466.3 315 466.6 313 470.3 305 471.6 303 474.7 301.3 484.7 299 488.7 298.8 489.2 299 489.1 301 488.2 305 488.6 307 490.7 309.3 492.7 309.9 494.7 309.6 499.3 307 500.6 305 500.7 303 499.6 301 496.7 299.1 491.1 297 492.7 296.4 498.7 287 501.9 283 503.5 279 504.9 273 505.7 271 506.7 270.2 510.7 269.3 511.8 271 511.5 273 512.5 275 514.7 276.1 516.7 275.2 518.8 273 522.9 271 535.5 267 536.7 265.9 538.7 262.1ZM298.2 289 298.6 288.2 299.5 289 298.6 289.8ZM362.6 289 366.7 289 368.7 289.8 372.7 293 374.7 296 376.7 297.8 380 299 383.2 309 386.7 312.2 388.7 312.7 396.7 312.7 398.7 312 401.6 309 406.7 305.7 414.7 297.1 416.7 296.6 420 297 421.6 299 421.9 303 422.7 305.1 424.7 307.3 431 311 432.5 313 433.1 319 432.5 325 431.2 327 428.7 328.9 424.7 329.7 350.6 329.7 338.6 332 334.6 332.1 330.6 331 329.4 329 329.6 325 331.9 319 331.7 317 330.6 316.3 326.6 316 320.6 317.9 318.6 317.8 316.8 317 317 315 322.6 313 326.6 312.2 348.4 301 352.2 297 352.9 295 352.2 291 352.6 290 354.7 289.4ZM299.7 291 300.6 290 304 297 306.6 299.4 308.6 302.2 311 307 311.3 309 310.6 309.5 308.6 308.9 306.6 307.1 303.4 303 301.5 295 300.6 294ZM999.3 341.1 1002.9 340.1 1030.9 340.1 1040.9 342 1040.9 412.5 942.9 412.8 938.9 415 933 421.2 925.9 427.2 920.9 429.5 918.9 428.7 912.9 419.2 912.6 417.2 913.4 415.2 924.9 411.1 927.2 409.2 930.9 402.8 934.9 399.7 937 397.2 940.2 395.1 946.9 392.9 948.9 391.3 950.2 389.1 950.6 387.1 949.8 383.1 950 375.1 951.4 371.1 953 363.1 951.4 355.1 952 351.1 952.9 350.2 964.9 348.1 974.9 350 978.9 349.8 993.3 345.1ZM214.6 343.1 214.6 341.6 220.6 342.8 222.6 343.8 224.6 346.1 230.6 357 232.6 359.7 234.6 360.6 242.6 361.2 244 363.1 243.2 367.1 240.3 373.1 239.1 377.1 236 381.1 235 385.1 235.1 387.1 236.9 391.1 247.6 407.2 250.6 409.2 260.6 412.1 262.6 411.9 266.6 410.5 276.6 411.5 280.6 410.2 282.6 408.3 291.8 393.1 297 389.1 297.5 387.1 296.2 383.1 296.6 380.5 300.6 376 306.9 371.1 307.7 369.1 307.6 363.1 306.1 359.1 306.1 355.1 306.6 353.4 308.5 351.1 310.6 350.5 313.8 351.1 316.6 353 318 355.1 318.5 357.1 318.7 363.1 320 369.1 316.6 377.1 316.7 381.1 315.9 383.1 315.5 387.1 315.9 389.1 317.4 391.1 320.6 392.6 322.6 392.6 326 391.1 328.2 389.1 329.3 387.1 329.1 379.1 331.2 373.1 331.4 371.1 328.7 363.1 330.6 360.3 332.8 359.1 336.6 358.2 448.7 358 456.7 355.4 460.7 355.6 463.6 355.1 463.6 353.1 462.7 351.1 472.7 346.9 478.7 349.4 486.7 350.6 490.7 351.8 496.7 351.4 506.7 352.9 512.7 352.3 522.7 350 526.7 350.3 528.7 350.9 530.7 352.4 532.5 355.1 534.7 356.8 538.7 358.7 540.1 361.1 538.8 367.1 538.6 371.1 538.1 373.1 536.7 374.7 534.7 375.2 530.7 374 527.8 371.1 526.3 367.1 522.7 364.5 518.7 363.5 514.7 365.2 510.7 368.5 504.7 368.8 501.6 371.1 497.7 377.1 491.4 381.1 482.7 382.1 476.7 385.8 475.8 387.1 475.6 391.1 476.5 395.1 479.3 401.2 479.2 411.2 480.7 413.1 482.7 413.9 489.6 415.2 489.5 417.2 486.9 419.2 484.7 419.9 472.7 420 469.9 419.2 462.7 415.7 448.7 412.6 338.6 412.5 334.6 413.3 328.6 418.3 324.6 419.9 314.6 420.2 302.6 422.6 290.6 423 278.6 426.2 254.6 426.8 246.6 425.9 242.6 424.4 238.6 421.2 234.6 415.2 232.6 413.1 230.6 412.6 214.6 412.5ZM466.7 354.7 465.8 355.1 470.7 357.3 474.6 357.1 475.1 355.1 470.7 354ZM286 343.1 288.6 341.4 290.6 342.1 292.1 345.1 291.8 347.1 290.6 348.8 288.6 349.2 285.8 347.1 285.2 345.1ZM751.9 349.1 760.8 347.8 814.8 347.8 826.8 350.2 844.8 352.6 854.8 355.1 856.9 357.1 860.2 367.1 864.8 375.1 864.3 387.1 864.7 397.2 862.8 400.6 854.6 409.2 850.8 412 848.8 412.4 646.8 412.6 642.8 413.8 640.8 415.5 636.8 420.7 634.8 421.9 632.8 422 630.8 421.1 624.7 414.2 622.7 413.1 618.7 412.6 608.7 413.3 598.7 415.4 588.7 419.7 580.7 421.4 572.7 424.1 566.7 425.2 560.7 424.6 557.6 423.2 555.5 421.2 555.6 419.2 558.7 416.7 563.2 409.2 563.7 405.2 563.3 399.2 562.5 393.1 561.7 391.1 558.7 386.7 549.9 377.1 549 373.1 545.9 367.1 545.4 363.1 545.9 361.1 546.7 360.1 548.7 359.2 556.7 361 558.7 360.3 560.7 358.5 562.7 358.1 618.7 358.1 624.7 358.4 632.8 360.1 634.8 359.8 636.8 358.6 640.8 353.4 642.8 351.7 646.8 350.5 744.8 350.4ZM344.2 421.2 348.6 420.4 356.7 422 359.4 423.2 362 425.2 362.3 427.2 359.3 429.2 352.6 430.9 348.6 431.6 344.6 430.9 341.3 429.2 339.7 427.2 339.9 425.2 340.6 423.9ZM871.6 445.2 872.8 443.8 878.8 444.9 880.8 446 882.8 448.2 883.2 451.2 880.8 452.7 876.8 452.1 873.9 449.2Z"/>
<path fill="#f0cc28" d="M884.3 250.9 890.8 251.9 894.8 251.3 906.9 251.7 914 252.9 920.7 254.9 924.9 256.8 926.8 258.9 927.8 262.9 927.3 265 926.1 267 922.9 269.2 918.9 270.3 906.9 272 904.2 273 898.8 276.8 896.8 277.7 886.8 278.1 874.8 280.9 872.3 283 871.8 285 872.8 287.3 876.8 288.3 960.9 288.3 966.3 289 969.2 291 970.2 293 969.9 295 968.2 297 962.9 300.2 960.5 303 959.9 305 959.4 313 958.4 315 952.2 321 946.6 325 942.9 326.7 930.9 329.2 928.9 328.8 924.8 325 920.9 322.5 912.9 320.2 902.9 319.2 898.8 316.8 896.8 316.2 884.8 316.2 874.8 314.9 866.8 318.3 864.8 320.4 862.8 320.7 858.8 318.9 854.8 318.2 852.8 317.2 851.2 315 850.7 313 851.1 309 849.8 307 848.8 306.1 845.3 305 842.3 303 842 301 844 297 842.6 295 840.8 294.1 834.7 293 833.9 291 833.9 285 834.5 283 836.8 281 838.8 280.4 841.5 281 845.5 295 848.8 298 860.8 300.4 864.8 299.6 867.2 297 867 293 864.8 291.4 860.8 289.9 858.8 288.1 857.6 283 854.8 277 854.8 275 856.8 272.1 862.1 269 864.4 267 865.7 262.9 872.8 255.4 878.8 252.2ZM870.8 300.3 870.8 301.3 876.8 303.5 879.1 303 881.6 301 880.8 300 878.8 299.2 872.8 299.3ZM540.2 269 542.7 268.4 544.7 269.5 545.9 271 545.7 273 542.7 274.5 540.7 274.4 537.9 273 537.8 271ZM618.1 289 626.7 288.3 724.8 288.6 736.8 291.2 746.8 295.5 758.8 296.3 762.8 297.6 774.2 303 776 305 776.5 311 776 313 774.2 315 772.8 315.8 762.8 318.2 754.8 320.8 748.8 321.8 668.8 322 652.8 319.4 566.7 319.3 554.7 316.8 550.7 315.5 542.7 309.6 530.7 308.7 527.4 307 525.9 305 525.8 303 527 301 530.7 298.9 562.7 298.6 566.7 297.6 572.1 293 576.7 291.2 608.7 290.9ZM364.2 293 366.7 291.1 370.4 293 376.1 301 375.7 313 375.1 315 373.6 317 370.7 318.9 368.7 319.3 350.6 319.4 346.6 319.9 338.6 325.7 334.6 326.6 332.6 326 332.2 325 332.3 323 334.1 319 334.4 317 332.6 314.8 328.7 313 346.6 304.1 354.7 298.3 358.7 298.2 360.7 297.5 362.7 295.8ZM304.4 301 304.6 300.2 306.6 301.8 307.1 303 306.6 304.6 304.6 302.2ZM808.5 311 814.8 309.5 818.8 311 819.1 313 818.1 315 814.8 316.5 806.8 316.4 802.7 315 802.7 313ZM995.4 349.1 1002.9 347.8 1020.9 347.8 1026.9 348.4 1034.9 350.2 1040.9 350.4 1040.9 398.4 1036.9 393.5 1032.9 391.9 968.9 391.8 964.9 391.3 961.6 389.1 958.7 385.1 952.9 379.6 952 375.1 954.3 367.1 956.9 362.2 959.4 359.1 960.9 354.8 962.9 353.7 964.9 353.3 976.9 353.9 986.9 350.9ZM214.6 351.1 214.6 350.4 216.6 350.4 220.6 351.2 223.5 355.1 226.2 365.1 225.9 367.1 224.4 369.1 218.2 373.1 216.8 375.1 216.7 377.1 218.6 379.8 224.6 383.6 228.9 389.1 232.6 392.8 234.9 397.2 234.6 399.3 232.6 401.6 228.6 402.2 220.6 401.6 217.2 399.2 214.6 395.5ZM762.3 353.1 814.8 353 838.8 354.7 842.8 355.6 846.3 357.1 849.2 359.1 852.8 363.1 856.5 377.1 856.7 383.1 856.1 387.1 854.8 389.1 850.8 391.5 840.8 391.7 836.8 390.1 830.8 383.1 828.8 382.1 824.8 381.5 816.8 381.8 812.8 384.1 808.8 389.4 802.8 393.2 796.8 400.2 794.8 401.4 790.8 402.1 770.8 401.8 766.8 399.3 763.8 395.1 760.8 392.7 758.8 392 752.8 391.8 748.8 392 745.8 393.1 738.8 400.8 734.8 402.1 612.7 402.2 608.7 403.2 604.2 407.2 600.7 409.2 574.7 415.8 567.3 419.2 564.7 419.9 561.8 419.2 561.1 417.2 564.4 409.2 566.4 399.2 565.8 397.2 564.2 393.1 561.7 389.1 551.3 377.1 549.5 369.1 550.7 365.8 552.7 364.2 554.7 364 558.7 364.1 564.7 363.4 620.7 363.5 625.9 365.1 632.8 370.1 636.8 371.1 690.8 371.4 693.8 373.1 698.7 379.1 700.8 380.6 704.8 381.4 710.8 381.4 714.8 380.7 717.1 379.1 718.6 377.1 719.2 375.1 719.5 367.1 720.8 364.1 722.8 362.1 726.8 360.8 746.8 360.6 750.8 359 756.8 354.3ZM526.2 359.1 530.7 358.6 534.7 361.1 535.6 363.1 536 369.1 535.9 371.1 534.7 373.1 532.7 373.2 530.7 372.5 528.7 370.1 527.9 367.1 523.8 363.1 523 361.1ZM462 361.1 494.7 361.2 496.7 361.6 498.7 362.8 500.9 365.1 500.9 367.1 495.4 375.1 493.9 377.1 491.4 379.1 482.7 380.5 475.4 385.1 474.4 387.1 475 393.1 478.5 403.2 476.7 410.6 474.7 412 472.7 412 460.7 409.4 456.2 407.2 450.7 403 446.7 402.2 316.6 402.2 312.6 402.6 308.8 405.2 307.6 407.2 307.3 409.2 307 415.2 305.7 417.2 300.6 419 290.6 419.4 278.6 422.6 266.6 423 256.6 424 251.2 423.2 246.6 421.6 243.3 419.2 242.2 417.2 242.4 415.2 244.2 413.2 246.6 412.5 256.6 412.6 260.6 413.2 266.6 411.6 278.6 413.6 282.6 412.4 284.6 410.3 286.2 405.2 292.6 394.4 297.6 391.1 298.9 389.1 299.4 387.1 298.3 383.1 298.4 381.1 300.6 378.7 308.6 373.7 310.6 371.8 312.6 371.5 314.8 373.1 314.6 380.5 313.7 383.1 313.4 387.1 313.7 389.1 316.3 393.1 318.6 394.7 322.6 395.3 328.6 394.4 330.7 393.1 333.4 389.1 333.8 385.1 332 379.1 331.9 377.1 333.5 373.1 333.4 367.1 334.4 365.1 336.6 363.8 448.7 363.4 454.7 362.8ZM920.1 417.2 921.6 417.2 922.9 419.2 920.9 420.6 918.8 419.2Z"/>
<path fill="#fdb81c" d="M876.2 254.9 880.8 253.6 882.8 253.6 906.9 254.8 910.9 255.9 917.5 258.9 920.3 260.9 921 262.9 919.1 265 916.9 265.8 898.8 270.5 894.8 271.2 884.8 271.5 880.8 272.5 872.8 276.5 864.8 283.8 862.8 284.5 860.8 283.4 856.8 278 856 275 857.3 273 864.8 268.2 865.9 267 867.1 262.9 868.8 260.9 872.8 256.9ZM620.3 293 624.3 293 627 295 627.6 297 626.7 298.6 622.7 298.4 619.6 297 618.3 295ZM627.8 299 734.8 298.7 746.8 301.2 758.8 301.7 761.9 303 763.3 305 762.4 307 756.8 310.5 751.5 315 746.8 316.5 670.8 316.6 666.8 316.1 664.3 315 658.8 310.4 656.8 309.5 636.8 309 632.8 308.4 630.4 307 628.8 305 628.1 303ZM867.9 305 872.8 304.5 878.8 306.8 879.6 309 879.5 311 878.8 311.9 870.8 314.2 862.8 318.5 860.3 317 858.5 315 858.1 313 859.4 311 864.8 307.6ZM905.3 311 906.9 310 910.9 309.1 940.9 309.1 944.9 310.4 946.9 313 946.6 315 942.9 318.6 940.9 319.2 932.9 319.3 920.9 316.8 906.4 315 904.2 313ZM1001.9 353.1 1020.9 353.2 1022.9 353.5 1026.2 355.1 1026.8 357.1 1025.4 359.1 1019.2 363.1 1014.4 369.1 1010.9 370.9 990.9 371.1 986.9 370.2 984.9 368.7 982.9 365.1 982.7 359.1 983.4 357.1 986.1 355.1 988.9 354.3ZM770.8 361.1 836.8 360.8 838.8 361.2 841.9 363.1 843.6 365.1 843.9 367.1 842.6 369.1 840.8 370.3 836.8 371.1 772.8 371.1 768.8 369.9 766.3 367.1 766.2 365.1 767.4 363.1ZM530.5 365.1 530.9 365.1 531.5 367.1 531.4 369.1 530.7 369.5ZM388.9 369.1 394.7 368.5 426.7 368.6 440.7 371.1 470.7 371.1 474.7 372.1 477.8 375.1 478.1 377.1 477.2 379.1 470.7 383 469 385.1 469.3 387.1 472.7 389.9 476.7 400.6 476.7 403.6 474.7 404.7 472.7 404.7 466.7 403.7 462.7 402.4 458.5 399.2 452.7 393.2 448.7 391.9 440.7 391.9 426.7 394.4 392.7 394.3 380.7 392 358.7 391.5 354.9 389.1 353.6 387.1 353 383.1 353.2 377.1 353.9 375.1 356.7 372.3 360.7 371.2 380.7 371ZM552.7 373.1 554.7 371.4 556.7 371.1 618.7 371.1 622.7 372.2 629.9 379.1 632.8 380.9 636.8 381.5 666.8 381.6 670.8 383.4 672.2 385.1 672.6 387.1 671.6 389.1 668.8 391.1 664.8 391.8 602.7 391.8 598.7 392.3 596.7 393.2 594.7 395.1 590.7 400.2 584.7 403.9 580.7 407.5 576.7 409.5 566.7 411.3 566.5 407.2 568.5 401.2 568.3 397.2 564.5 391.1 553.2 377.1 552.5 375.1ZM294.3 397.2 295.1 397.2 295.7 399.2 295.4 407.2 294.4 409.2 292.6 410.7 290.6 410.9 289.7 409.2 289 405.2 292.6 398.3ZM253.1 415.2 262.6 414.8 266.6 413.3 272.6 416 277.2 417.2 274.6 418.3 256.6 421.2 254.6 421 250.4 419.2 249.5 417.2Z"/>
<path fill="#ff9a10" d="M876.1 256.9 898.8 257.6 904.9 258.9 908.9 260.6 909.4 260.9 909.7 262.9 905.3 265 896.8 267.4 874.8 267.9 872.8 269 870.3 273 864.8 278.3 862.8 279.1 860.8 278.5 858.8 277 857.8 275 859.1 273 866.2 269 867.7 267 869 262.9 872.8 258.9ZM390.3 375.1 392.7 374.2 396.7 373.8 426.7 374 430.2 375.1 432.4 377.1 433 379.1 432.7 385.1 431.3 387.1 426.7 389 396.7 389.2 392.7 388.8 389.2 387.1 387.7 385.1 387.4 379.1 388 377.1ZM561.5 383.1 562.7 382.1 564.7 381.9 566.7 382.6 568.7 384.4 569.9 387.1 569.7 389.1 568.7 390.8 566.7 390.5 564.7 388.9 562.1 385.1ZM469.9 397.2 470.7 396.1 472.7 396.2 473.1 397.2 472.7 398.7Z"/>
<path fill="#ff7f05" d="M884.7 262.9 886.8 262.1 890.8 261.9 894.8 262.1 897 262.9 890.8 263.3Z"/><path d="M202.1 266.0L200.0 269.5L196.1 271.1L193.6 275.9L193.2 278.8L189.3 281.7L185.8 282.7L181.7 287.3L179.0 291.0L176.7 296.6L178.3 300.7L177.8 306.5L175.5 309.6L177.4 314.4L181.3 317.7L185.4 321.6L189.3 325.8L195.0 329.7L198.4 331.0L205.3 329.3L211.0 330.1L217.9 327.9L221.8 327.0L225.9 327.0L229.3 331.2L231.6 331.0L236.0 330.8L237.8 333.4L237.4 338.0L235.7 341.5L237.6 345.0L242.6 349.4L243.8 352.5L247.2 362.2L246.5 365.9L242.4 372.8L242.6 377.3L246.3 383.1L248.6 386.6L249.9 394.5L252.9 399.1L255.0 402.2L257.3 406.3L257.7 410.6L261.4 412.1L267.1 410.4L274.4 410.4L279.5 408.4L284.3 404.6L287.7 400.5L290.7 396.0L291.2 392.8L296.7 389.7L296.9 385.6L295.7 381.5L300.3 377.1L306.7 373.8L308.6 370.1L308.1 361.8L305.6 357.7L306.0 354.6L305.4 350.4L307.2 347.3L310.6 343.8L314.1 341.1L320.9 335.3L325.5 330.8L330.1 323.5L332.6 318.5L332.6 315.4L323.2 317.1L317.5 318.5L314.7 316.3L314.3 314.0L309.9 310.5L304.9 308.0L301.2 301.4L300.3 296.6L296.9 290.4L292.3 282.3L290.2 278.2L293.9 282.5L295.5 279.0L296.2 282.1L299.6 286.7L303.8 291.0L305.1 296.0L309.0 300.7L312.5 305.9L314.5 312.5L318.6 313.6L327.1 311.1L335.1 307.8L342.0 303.8L347.9 300.7L350.2 297.8L352.5 293.5L349.8 291.2L345.2 289.4L344.5 285.8L342.0 287.3L339.2 290.2L333.7 290.0L333.5 286.5L331.9 287.3L330.3 285.2L327.8 283.1L325.5 279.0L326.9 278.0L330.1 278.0L332.1 280.5L335.8 283.1L340.8 285.2L344.7 284.0L346.8 286.9L350.7 287.5L356.4 288.1L363.3 287.9L367.9 287.5L369.7 289.1L372.4 291.4L373.6 293.9L376.6 297.0L380.5 296.6L382.1 295.4L382.3 300.3L383.7 306.9L386.2 313.2L389.2 316.9L390.8 321.4L393.1 323.3L394.7 321.6L396.9 318.7L398.5 318.7L399.5 312.5L399.0 308.4L404.0 305.7L409.8 300.7L413.7 298.0L414.8 295.6L418.2 295.1L422.4 294.5L425.8 293.7L426.9 297.2L431.5 301.2L431.7 306.5L434.0 307.4L438.2 305.3L439.3 309.0L441.1 314.2L441.1 318.3L440.7 323.1L445.3 327.2L447.5 334.1L452.6 337.4L454.2 337.2L452.4 331.8L449.8 327.2L446.6 325.0L444.6 320.8L443.0 318.3L444.3 314.8L444.8 312.3L446.9 312.5L450.3 315.0L451.7 317.3L455.6 318.3L455.6 322.1L459.5 319.8L460.6 318.5L465.6 315.8L465.9 312.1L464.7 308.4L460.6 304.9L457.6 300.7L459.9 297.2L462.9 295.6L466.8 295.6L468.2 298.0L468.8 296.0L475.5 293.9L482.4 292.5L487.4 288.9L489.7 286.2L492.7 281.7L494.7 278.4L494.7 275.9L492.0 272.8L490.4 269.1L488.8 267.6L491.5 265.1L496.1 263.5L492.7 262.0L488.1 262.9L485.8 260.8L485.3 259.1L489.2 257.5L493.3 255.4L495.2 256.4L493.6 259.3L494.3 259.5L497.9 257.9L500.4 257.3L502.3 258.3L502.5 261.4L501.4 261.6L504.6 263.1L505.2 268.9L507.5 268.2L511.4 267.0L511.9 263.5L509.6 260.2L507.5 257.9L512.6 255.6L512.6 254.2L514.6 252.3L518.5 250.4L525.9 248.0L532.0 243.8L536.6 239.7L537.5 234.5L539.4 229.9L535.7 227.9L529.7 228.5L525.2 226.6L530.9 223.5L537.3 220.4L541.9 217.5L548.8 217.1L556.8 216.9L563.6 217.9L570.5 217.3L575.1 212.8L582.6 211.9L589.5 210.7L590.0 213.8L582.0 214.8L574.6 220.4L571.9 224.2L572.1 230.4L574.4 234.5L578.1 230.6L582.0 227.1L586.8 223.9L589.3 220.4L586.5 219.6L590.0 216.1L596.4 216.3L605.5 215.9L610.6 213.8L615.2 212.1L621.6 210.7L625.9 211.1L625.5 206.6L622.0 206.1L624.3 206.6L630.0 204.5L634.6 204.5L641.5 207.0L644.9 206.6L651.3 203.5L646.1 201.4L639.2 200.4L631.2 197.7L624.3 196.6L616.3 195.6L607.1 197.0L606.0 195.2L599.1 196.0L586.5 196.0L582.0 194.1L570.5 193.1L563.6 193.3L559.1 191.9L547.6 190.0L536.2 189.6L533.9 192.1L525.9 191.9L515.6 193.5L512.1 192.1L509.8 190.0L504.1 187.9L497.2 189.0L488.1 188.8L475.5 187.7L476.2 184.8L467.5 181.7L460.6 180.7L454.4 179.2L444.6 181.7L433.1 182.8L421.7 183.6L414.8 184.8L412.5 186.9L401.1 187.9L399.9 190.0L393.1 190.4L387.3 189.4L381.6 189.2L373.6 190.0L368.8 195.2L368.3 197.2L372.4 198.9L363.3 196.6L354.1 195.8L348.4 197.7L339.2 198.7L327.8 199.5L322.1 199.3L316.8 198.3L315.2 202.8L307.2 202.8L308.3 206.6L301.5 208.0L295.7 206.8L294.6 203.5L291.2 202.0L302.6 203.2L309.5 202.0L308.3 199.7L299.2 197.2L291.2 196.4L284.3 195.6L280.9 193.1L274.4 192.9L266.0 194.6L258.0 196.2L249.9 199.3L245.4 203.5L240.8 206.6L235.1 209.3L228.2 211.7L227.0 214.8L228.2 217.9L231.6 220.0L234.6 219.6L239.9 217.3L241.5 218.2L242.6 220.8L244.7 224.2L248.3 225.2L253.2 223.1L254.1 219.0L258.6 216.3L255.2 212.8L259.1 209.0L264.1 206.6L266.7 204.1L272.8 204.9L271.7 206.6L264.8 209.7L264.6 213.8L268.0 216.1L275.1 215.0L283.1 215.9L279.7 216.9L271.7 217.1L269.2 219.0L271.2 220.4L266.0 220.8L263.7 223.1L263.7 226.2L260.2 227.5L258.0 226.8L248.1 228.5L240.8 228.3L240.3 227.3L238.3 225.2L239.6 221.0L234.4 222.1L234.4 225.2L235.5 228.3L231.6 229.3L226.4 230.4L223.6 233.7L219.3 234.7L216.1 237.2L212.6 237.2L211.9 239.3L204.8 239.7L209.2 241.7L212.9 244.9L212.2 249.8L207.6 250.0L197.3 249.6L194.3 251.1L195.5 254.8L193.8 260.0L195.2 263.5L199.6 263.1L201.9 265.1L203.2 265.3L205.5 264.1L210.6 263.9L214.2 261.6L215.6 260.0L214.9 258.3L217.4 255.2L222.9 253.3L222.7 250.9L225.9 250.2L230.5 250.9L232.8 249.4L235.7 248.2L239.2 249.4L241.0 252.3L244.5 254.4L247.7 255.6L251.5 257.3L252.2 260.4L251.5 261.4L253.6 259.8L254.8 258.3L253.6 257.3L254.5 256.2L257.7 257.3L256.8 255.8L252.2 253.5L249.3 252.7L246.7 249.8L244.0 248.4L243.8 246.1L247.0 245.7L247.7 246.9L249.9 248.0L252.2 250.0L256.8 251.9L260.0 253.5L260.0 256.7L261.9 258.1L263.7 260.8L265.3 263.9L267.8 264.5L268.5 262.4L270.6 262.0L269.4 260.4L267.8 258.3L268.0 256.4L270.1 257.3L271.5 255.4L275.1 255.4L275.6 257.3L275.6 258.3L277.0 260.4L278.1 263.5L280.2 264.1L283.6 265.1L285.9 263.7L290.0 265.3L293.5 264.9L297.1 264.3L298.5 264.1L297.8 266.6L297.8 268.7L296.0 271.8L295.5 273.8L294.1 275.3L289.6 275.5L286.6 274.9L282.0 276.1L272.8 274.7L268.3 272.6L261.6 272.8L261.4 275.9L259.1 277.3L249.9 273.0L241.9 271.3L240.3 269.7L239.0 267.6L240.8 263.7L238.5 262.9L233.9 263.5L222.5 263.7L215.6 266.0L211.0 267.4ZM1026.4 266.0L1024.3 269.5L1020.4 271.1L1017.9 275.9L1017.5 278.8L1013.6 281.7L1010.1 282.7L1006.0 287.3L1003.3 291.0L1001.0 296.6L1002.6 300.7L1002.1 306.5L999.8 309.6L1001.7 314.4L1005.6 317.7L1009.7 321.6L1013.6 325.8L1019.3 329.7L1022.7 331.0L1029.6 329.3L1035.3 330.1L1042.2 327.9L1046.1 327.0L1050.2 327.0L1053.6 331.2L1055.9 331.0L1060.3 330.8L1062.1 333.4L1061.7 338.0L1060.0 341.5L1061.9 345.0L1066.9 349.4L1068.1 352.5L1071.5 362.2L1070.8 365.9L1066.7 372.8L1066.9 377.3L1070.6 383.1L1072.9 386.6L1074.2 394.5L1077.2 399.1L1079.3 402.2L1081.6 406.3L1082.0 410.6L1085.7 412.1L1091.4 410.4L1098.7 410.4L1103.8 408.4L1108.6 404.6L1112.0 400.5L1115.0 396.0L1115.5 392.8L1121.0 389.7L1121.2 385.6L1120.0 381.5L1124.6 377.1L1131.0 373.8L1132.9 370.1L1132.4 361.8L1129.9 357.7L1130.3 354.6L1129.7 350.4L1131.5 347.3L1134.9 343.8L1138.4 341.1L1145.2 335.3L1149.8 330.8L1154.4 323.5L1156.9 318.5L1156.9 315.4L1147.5 317.1L1141.8 318.5L1139.0 316.3L1138.6 314.0L1134.2 310.5L1129.2 308.0L1125.5 301.4L1124.6 296.6L1121.2 290.4L1116.6 282.3L1114.5 278.2L1118.2 282.5L1119.8 279.0L1120.5 282.1L1123.9 286.7L1128.1 291.0L1129.4 296.0L1133.3 300.7L1136.8 305.9L1138.8 312.5L1142.9 313.6L1151.4 311.1L1159.4 307.8L1166.3 303.8L1172.2 300.7L1174.5 297.8L1176.8 293.5L1174.1 291.2L1169.5 289.4L1168.8 285.8L1166.3 287.3L1163.5 290.2L1158.0 290.0L1157.8 286.5L1156.2 287.3L1154.6 285.2L1152.1 283.1L1149.8 279.0L1151.2 278.0L1154.4 278.0L1156.4 280.5L1160.1 283.1L1165.1 285.2L1169.0 284.0L1171.1 286.9L1175.0 287.5L1180.7 288.1L1187.6 287.9L1192.2 287.5L1194.0 289.1L1196.7 291.4L1197.9 293.9L1200.9 297.0L1204.8 296.6L1206.4 295.4L1206.6 300.3L1208.0 306.9L1210.5 313.2L1213.5 316.9L1215.1 321.4L1217.4 323.3L1219.0 321.6L1221.2 318.7L1222.8 318.7L1223.8 312.5L1223.3 308.4L1228.3 305.7L1234.1 300.7L1238.0 298.0L1239.1 295.6L1242.5 295.1L1246.7 294.5L1250.1 293.7L1251.2 297.2L1255.8 301.2L1256.0 306.5L1258.3 307.4L1262.5 305.3L1263.6 309.0L1265.4 314.2L1265.4 318.3L1265.0 323.1L1269.6 327.2L1271.8 334.1L1276.9 337.4L1278.5 337.2L1276.7 331.8L1274.1 327.2L1270.9 325.0L1268.9 320.8L1267.3 318.3L1268.6 314.8L1269.1 312.3L1271.2 312.5L1274.6 315.0L1276.0 317.3L1279.9 318.3L1279.9 322.1L1283.8 319.8L1284.9 318.5L1289.9 315.8L1290.2 312.1L1289.0 308.4L1284.9 304.9L1281.9 300.7L1284.2 297.2L1287.2 295.6L1291.1 295.6L1292.5 298.0L1293.1 296.0L1299.8 293.9L1306.7 292.5L1311.7 288.9L1314.0 286.2L1317.0 281.7L1319.0 278.4L1319.0 275.9L1316.3 272.8L1314.7 269.1L1313.1 267.6L1315.8 265.1L1320.4 263.5L1317.0 262.0L1312.4 262.9L1310.1 260.8L1309.6 259.1L1313.5 257.5L1317.6 255.4L1319.5 256.4L1317.9 259.3L1318.6 259.5L1322.2 257.9L1324.7 257.3L1326.6 258.3L1326.8 261.4L1325.7 261.6L1328.9 263.1L1329.5 268.9L1331.8 268.2L1335.7 267.0L1336.2 263.5L1333.9 260.2L1331.8 257.9L1336.9 255.6L1336.9 254.2L1338.9 252.3L1342.8 250.4L1350.2 248.0L1356.3 243.8L1360.9 239.7L1361.8 234.5L1363.7 229.9L1360.0 227.9L1354.0 228.5L1349.5 226.6L1355.2 223.5L1361.6 220.4L1366.2 217.5L1373.1 217.1L1381.1 216.9L1387.9 217.9L1394.8 217.3L1399.4 212.8L1406.9 211.9L1413.8 210.7L1414.3 213.8L1406.3 214.8L1398.9 220.4L1396.2 224.2L1396.4 230.4L1398.7 234.5L1402.4 230.6L1406.3 227.1L1411.1 223.9L1413.6 220.4L1410.8 219.6L1414.3 216.1L1420.7 216.3L1429.8 215.9L1434.9 213.8L1439.5 212.1L1445.9 210.7L1450.2 211.1L1449.8 206.6L1446.3 206.1L1448.6 206.6L1454.3 204.5L1458.9 204.5L1465.8 207.0L1469.2 206.6L1475.6 203.5L1470.4 201.4L1463.5 200.4L1455.5 197.7L1448.6 196.6L1440.6 195.6L1431.4 197.0L1430.3 195.2L1423.4 196.0L1410.8 196.0L1406.3 194.1L1394.8 193.1L1387.9 193.3L1383.4 191.9L1371.9 190.0L1360.5 189.6L1358.2 192.1L1350.2 191.9L1339.9 193.5L1336.4 192.1L1334.1 190.0L1328.4 187.9L1321.5 189.0L1312.4 188.8L1299.8 187.7L1300.5 184.8L1291.8 181.7L1284.9 180.7L1278.7 179.2L1268.9 181.7L1257.4 182.8L1246.0 183.6L1239.1 184.8L1236.8 186.9L1225.4 187.9L1224.2 190.0L1217.4 190.4L1211.6 189.4L1205.9 189.2L1197.9 190.0L1193.1 195.2L1192.6 197.2L1196.7 198.9L1187.6 196.6L1178.4 195.8L1172.7 197.7L1163.5 198.7L1152.1 199.5L1146.4 199.3L1141.1 198.3L1139.5 202.8L1131.5 202.8L1132.6 206.6L1125.8 208.0L1120.0 206.8L1118.9 203.5L1115.5 202.0L1126.9 203.2L1133.8 202.0L1132.6 199.7L1123.5 197.2L1115.5 196.4L1108.6 195.6L1105.2 193.1L1098.7 192.9L1090.3 194.6L1082.3 196.2L1074.2 199.3L1069.7 203.5L1065.1 206.6L1059.4 209.3L1052.5 211.7L1051.3 214.8L1052.5 217.9L1055.9 220.0L1058.9 219.6L1064.2 217.3L1065.8 218.2L1066.9 220.8L1069.0 224.2L1072.6 225.2L1077.5 223.1L1078.4 219.0L1082.9 216.3L1079.5 212.8L1083.4 209.0L1088.4 206.6L1091.0 204.1L1097.1 204.9L1096.0 206.6L1089.1 209.7L1088.9 213.8L1092.3 216.1L1099.4 215.0L1107.4 215.9L1104.0 216.9L1096.0 217.1L1093.5 219.0L1095.5 220.4L1090.3 220.8L1088.0 223.1L1088.0 226.2L1084.5 227.5L1082.3 226.8L1072.4 228.5L1065.1 228.3L1064.6 227.3L1062.6 225.2L1063.9 221.0L1058.7 222.1L1058.7 225.2L1059.8 228.3L1055.9 229.3L1050.7 230.4L1047.9 233.7L1043.6 234.7L1040.4 237.2L1036.9 237.2L1036.2 239.3L1029.1 239.7L1033.5 241.7L1037.2 244.9L1036.5 249.8L1031.9 250.0L1021.6 249.6L1018.6 251.1L1019.8 254.8L1018.1 260.0L1019.5 263.5L1023.9 263.1L1026.2 265.1L1027.5 265.3L1029.8 264.1L1034.9 263.9L1038.5 261.6L1039.9 260.0L1039.2 258.3L1041.7 255.2L1047.2 253.3L1047.0 250.9L1050.2 250.2L1054.8 250.9L1057.1 249.4L1060.0 248.2L1063.5 249.4L1065.3 252.3L1068.8 254.4L1072.0 255.6L1075.8 257.3L1076.5 260.4L1075.8 261.4L1077.9 259.8L1079.1 258.3L1077.9 257.3L1078.8 256.2L1082.0 257.3L1081.1 255.8L1076.5 253.5L1073.6 252.7L1071.0 249.8L1068.3 248.4L1068.1 246.1L1071.3 245.7L1072.0 246.9L1074.2 248.0L1076.5 250.0L1081.1 251.9L1084.3 253.5L1084.3 256.7L1086.2 258.1L1088.0 260.8L1089.6 263.9L1092.1 264.5L1092.8 262.4L1094.9 262.0L1093.7 260.4L1092.1 258.3L1092.3 256.4L1094.4 257.3L1095.8 255.4L1099.4 255.4L1099.9 257.3L1099.9 258.3L1101.3 260.4L1102.4 263.5L1104.5 264.1L1107.9 265.1L1110.2 263.7L1114.3 265.3L1117.8 264.9L1121.4 264.3L1122.8 264.1L1122.1 266.6L1122.1 268.7L1120.3 271.8L1119.8 273.8L1118.4 275.3L1113.9 275.5L1110.9 274.9L1106.3 276.1L1097.1 274.7L1092.6 272.6L1085.9 272.8L1085.7 275.9L1083.4 277.3L1074.2 273.0L1066.2 271.3L1064.6 269.7L1063.3 267.6L1065.1 263.7L1062.8 262.9L1058.2 263.5L1046.8 263.7L1039.9 266.0L1035.3 267.4ZM282.0 254.8L287.3 255.0L291.8 253.1L295.7 253.1L299.2 254.6L303.8 255.4L310.6 254.2L310.6 251.7L306.5 249.8L302.6 248.0L300.3 246.5L303.1 244.4L305.6 242.4L301.5 242.6L296.2 244.2L295.7 245.7L299.2 246.3L296.4 246.9L292.5 248.2L290.0 246.1L292.3 244.9L288.4 243.6L285.9 243.8L283.6 246.3L281.1 249.0L279.7 251.5L279.0 252.3L279.7 253.3ZM323.2 245.9L328.9 243.8L332.8 243.2L337.0 243.8L337.0 246.3L333.1 246.9L330.5 248.0L333.1 250.6L335.8 251.9L336.3 254.8L339.2 254.6L337.0 257.3L338.8 259.5L339.2 262.9L334.7 263.9L330.8 263.1L327.8 261.4L327.8 258.7L328.9 256.4L326.7 253.5L324.4 251.1L323.2 249.0ZM203.0 236.4L207.6 236.0L213.3 234.9L218.6 234.1L219.5 231.0L216.3 230.4L215.1 227.3L211.9 225.2L211.0 224.2L209.2 223.3L211.0 221.0L207.6 220.6L208.3 218.8L204.2 218.8L202.3 221.0L203.0 224.2L204.6 226.2L208.0 226.4L208.3 229.5L205.3 229.7L206.0 231.8L203.7 232.8L208.0 233.7L205.8 234.5ZM1027.3 236.4L1031.9 236.0L1037.6 234.9L1042.9 234.1L1043.8 231.0L1040.6 230.4L1039.4 227.3L1036.2 225.2L1035.3 224.2L1033.5 223.3L1035.3 221.0L1031.9 220.6L1032.6 218.8L1028.5 218.8L1026.6 221.0L1027.3 224.2L1028.9 226.2L1032.3 226.4L1032.6 229.5L1029.6 229.7L1030.3 231.8L1028.0 232.8L1032.3 233.7L1030.1 234.5ZM1025.7 232.0L1026.2 229.3L1026.6 227.1L1023.2 225.6L1020.4 227.3L1017.0 227.9L1018.1 229.9L1016.3 232.4L1018.1 233.5L1021.6 232.8ZM988.4 207.6L984.9 204.5L988.4 202.6L994.1 203.9L998.7 203.0L1003.3 202.4L1006.7 204.5L1008.5 205.9L1004.4 207.2L997.1 208.8L993.0 208.4ZM239.6 175.5L247.7 174.5L256.8 174.5L266.0 173.9L277.4 174.5L272.8 175.9L263.7 177.0L264.8 178.6L258.0 180.1L253.4 181.3L247.7 179.7L241.9 177.0ZM333.5 192.1L337.0 188.3L342.7 184.8L353.0 182.3L366.7 181.1L372.4 181.7L359.9 184.2L349.5 186.9L346.1 190.0L347.3 193.7L339.2 193.5ZM433.1 176.5L440.0 172.4L453.7 175.5L444.6 178.0ZM323.2 173.9L334.7 172.8L353.0 172.4L364.4 172.8L348.4 174.5L330.1 174.5ZM529.3 182.8L536.2 183.8L547.6 183.8L559.1 184.8L554.5 185.2L540.7 186.9L531.6 185.4ZM624.3 192.7L630.0 192.1L633.5 193.1L627.8 193.5ZM540.7 227.7L543.0 230.4L543.7 234.5L546.5 238.6L543.0 243.8L540.7 244.9L540.7 240.7L540.7 234.5L540.1 229.7ZM536.2 254.2L539.1 250.6L540.3 246.1L544.2 248.4L548.3 248.6L548.8 250.6L544.2 253.1L538.5 252.1ZM515.6 269.1L519.0 266.8L524.7 266.2L528.8 263.5L530.0 263.9L533.2 262.2L535.5 259.3L536.2 256.0L539.1 254.6L539.6 257.3L540.7 258.3L538.5 261.4L538.0 265.6L536.2 267.6L533.4 268.2L529.3 268.4L527.0 270.7L525.2 269.1L521.3 269.1L515.6 269.7ZM512.6 271.8L513.3 275.3L515.6 275.5L517.8 271.8L515.6 269.9ZM518.5 270.7L520.1 272.2L523.1 270.7L523.6 269.3L520.1 269.7ZM492.7 287.9L494.9 288.3L492.7 294.5L490.8 292.5ZM464.5 300.3L468.6 298.7L469.8 299.7L466.3 302.4ZM398.3 320.0L401.5 322.5L402.9 325.6L399.9 327.6L398.3 324.5ZM491.5 301.8L495.4 302.0L494.9 305.9L493.8 309.0L494.9 311.1L499.5 311.5L499.5 314.0L496.1 312.1L492.7 311.7L491.5 310.1L490.4 306.9ZM494.9 325.6L498.4 322.5L503.0 320.0L505.2 323.5L504.1 327.0L502.5 327.6L499.5 326.0L498.4 324.5ZM500.7 314.2L503.0 317.3L501.8 319.4L500.7 317.7ZM484.2 322.5L489.2 317.7L488.8 316.7L484.2 321.6ZM494.9 315.6L497.2 317.3L497.9 321.0L496.1 320.2L494.9 318.3ZM465.2 337.0L466.6 335.9L469.8 336.5L470.4 334.7L474.3 333.4L477.8 330.8L480.1 328.7L483.0 325.6L485.1 327.2L488.1 329.3L485.8 331.2L485.3 333.9L485.8 338.0L484.6 340.1L482.4 343.2L481.2 347.3L478.2 348.3L474.3 346.7L471.4 346.3L467.9 345.9L465.6 341.1ZM433.8 328.5L438.8 329.3L441.1 332.2L445.3 334.9L448.0 336.3L452.1 339.0L453.7 342.1L457.9 346.3L457.9 352.1L454.9 352.1L449.8 348.3L446.9 345.2L444.6 342.1L441.6 337.0L437.7 333.4ZM456.7 354.1L459.5 352.5L464.0 353.7L469.3 353.3L473.7 354.3L477.8 356.2L477.5 358.1L469.8 357.2L462.9 356.2ZM481.2 357.5L488.1 357.2L496.8 357.2L496.8 358.3L488.1 358.5L481.2 358.5ZM498.4 361.4L501.8 358.1L506.4 357.5L501.8 360.3ZM489.2 351.4L489.2 347.3L487.6 345.9L489.9 339.7L492.2 337.4L497.2 338.0L501.8 336.8L500.7 339.2L492.7 339.0L490.8 341.9L493.8 342.1L497.9 341.7L493.8 343.8L495.4 346.9L497.2 349.4L494.9 350.4L493.8 348.3L492.7 345.7L491.1 346.1L491.3 351.4ZM507.5 338.0L508.7 335.5L510.3 337.0L508.7 339.0L509.4 341.7L508.0 340.7ZM515.6 341.7L519.0 340.9L522.4 341.7L522.9 345.2L525.9 347.1L531.1 343.2L538.5 345.4L546.5 347.9L549.4 351.0L553.3 352.5L554.0 353.9L552.2 354.1L554.5 357.0L560.9 361.4L556.8 361.4L552.2 359.7L549.9 356.6L546.5 355.8L543.0 357.2L543.7 358.7L538.5 358.9L533.9 356.8L530.9 357.5L533.2 355.2L531.6 351.4L525.9 349.2L521.3 347.9L519.7 348.3L517.8 346.1L521.3 345.0L518.5 344.6L515.6 343.0ZM555.2 351.9L559.1 351.4L563.6 348.8L564.3 350.4L561.3 352.5L557.9 353.1ZM560.7 345.7L564.8 347.9L565.9 349.8L564.8 348.3ZM570.5 352.5L572.8 354.1L571.7 354.3ZM580.8 357.2L583.8 360.1L582.0 359.7ZM591.1 381.7L594.5 383.5L598.0 386.2L596.8 386.4L592.3 383.5ZM621.6 376.3L624.5 376.3L624.3 377.7L621.6 377.7ZM682.7 298.3L685.0 299.3L683.4 300.9L682.7 299.3ZM677.7 295.4L678.8 295.6L678.6 296.2ZM476.9 385.2L480.1 383.5L483.5 382.7L488.1 381.5L492.7 380.6L495.6 377.3L495.6 375.3L498.6 373.6L501.8 370.1L505.9 368.6L509.1 371.1L512.3 370.9L514.0 367.0L515.1 365.7L519.0 365.1L519.2 363.7L524.7 365.3L528.8 365.3L528.1 368.0L526.5 370.7L529.3 372.8L534.3 375.9L538.0 376.3L539.6 372.1L539.8 367.0L541.2 362.4L544.2 366.6L544.4 369.7L548.3 371.1L548.8 374.2L550.4 379.0L555.6 381.9L557.9 386.2L561.3 389.1L565.5 392.4L566.4 396.6L567.3 399.7L565.7 405.3L562.5 409.0L559.7 414.6L558.8 417.7L554.5 418.5L550.6 420.8L547.6 419.3L544.2 420.4L538.5 419.1L535.7 416.4L534.6 414.0L532.3 413.8L532.7 411.5L531.4 408.4L530.4 410.4L530.9 412.7L528.8 410.4L526.5 412.1L525.2 410.9L522.9 407.7L517.8 406.3L511.0 405.5L504.1 406.9L499.5 408.8L498.4 410.2L490.4 410.2L485.8 412.5L481.2 412.3L478.9 411.1L480.5 406.3L479.4 402.2L477.8 398.4L475.7 394.3L475.5 390.8L475.9 386.6ZM546.9 424.5L551.0 425.3L554.9 424.7L555.2 427.4L552.9 429.9L549.9 430.1L548.3 427.6ZM611.0 411.5L614.7 413.5L617.4 416.2L619.0 417.9L623.9 418.1L622.9 421.2L620.9 421.6L619.0 424.9L616.8 426.2L615.6 425.5L616.3 422.9L613.6 421.4L615.6 418.7L615.2 415.6L611.7 412.5ZM611.0 424.1L614.7 426.4L611.3 429.9L607.8 431.8L606.7 435.1L603.2 436.5L599.6 435.7L596.8 434.9L601.0 431.1L606.0 429.1L608.3 426.6ZM328.5 364.9L330.8 372.1L328.9 376.3L325.5 385.6L323.2 391.8L319.1 392.8L315.9 388.7L315.2 384.6L317.5 380.4L316.3 375.3L320.9 372.6L325.5 368.0ZM215.6 486.8L247.7 485.4L279.7 485.4L293.5 482.1L306.0 483.1L320.9 479.8L338.3 476.5L351.4 478.7L367.6 480.4L372.4 488.5L383.7 485.4L396.5 480.4L416.0 477.9L441.8 478.7L451.4 476.3L474.3 477.9L506.4 477.9L525.9 476.5L538.5 478.7L558.4 482.1L580.8 485.4L606.7 488.5L590.7 496.5L582.4 506.3L600.3 503.6L627.8 515.4L647.2 514.3L675.8 516.0L711.8 516.0L691.9 512.7L681.1 507.9L703.8 505.7L676.3 500.5L692.3 498.2L724.8 494.1L757.1 492.7L795.8 493.4L808.6 495.9L804.1 491.8L828.1 490.7L854.0 492.7L870.2 492.7L886.5 488.5L868.6 487.5L876.6 483.7L886.5 478.7L896.1 473.4L907.3 471.3L896.1 474.6L891.1 480.4L899.3 490.1L896.1 494.9L873.4 499.2L862.2 502.3L868.6 505.7L905.7 512.1L938.0 509.0L957.5 505.7L973.5 505.7L959.1 502.3L983.3 498.2L1002.8 494.9L1015.6 488.5L1039.9 486.8M681.6 192.5L696.4 194.1L717.0 195.8L730.8 196.6L744.5 195.2L746.8 194.1L762.8 195.6L776.6 197.7L776.6 199.7L792.6 199.3L806.3 199.7L815.5 198.3L820.1 200.8L821.2 197.2L824.7 191.5L829.2 194.1L833.8 197.7L838.4 199.3L844.1 196.2L852.1 195.6L853.3 198.3L848.7 202.8L843.0 203.5L840.7 206.6L832.7 208.6L827.0 212.8L823.1 217.9L828.1 222.1L838.4 223.5L845.3 225.6L851.5 226.2L852.1 230.4L855.6 233.9L859.0 233.5L859.0 228.3L863.6 224.2L864.7 220.0L861.3 215.9L862.4 210.9L870.5 211.1L878.5 213.8L880.8 217.9L885.3 219.4L889.9 216.9L892.2 215.0L897.9 221.0L902.5 225.6L908.2 228.3L911.7 232.4L912.4 233.5L906.0 234.1L902.5 236.0L893.4 236.0L886.5 237.6L880.8 240.7L883.1 239.5L888.8 238.2L892.7 239.1L891.1 241.7L892.2 244.4L894.5 245.1L899.1 245.7L901.8 242.8L903.0 244.9L900.2 246.3L894.5 247.8L889.5 250.0L888.3 248.4L888.8 246.5L886.5 247.5L881.9 249.0L878.5 250.4L877.8 252.1L879.6 253.5L876.2 254.4L870.9 255.6L870.0 258.3L867.0 261.4L865.9 263.5L866.3 266.6L862.4 269.3L857.9 271.8L854.4 274.2L853.5 278.0L856.0 283.1L856.3 287.3L854.4 287.9L852.1 284.8L850.3 282.1L848.0 278.0L844.1 278.4L839.5 277.3L835.4 277.6L835.4 279.8L831.5 279.4L825.1 278.6L822.4 279.6L817.3 282.7L816.7 287.3L816.0 293.5L817.3 297.6L820.1 300.7L823.5 302.4L829.2 301.6L832.2 299.1L833.1 296.6L838.4 295.4L841.2 296.0L839.5 299.7L838.4 302.8L837.7 305.9L836.6 307.4L843.0 307.2L847.6 307.6L849.2 309.0L848.7 314.2L848.5 317.5L851.0 320.8L854.4 321.9L857.4 320.4L861.3 320.8L862.9 322.5L863.6 323.1L867.0 318.1L868.6 317.1L873.9 315.2L876.2 314.4L876.2 317.3L879.2 316.1L883.5 317.9L888.8 318.1L893.4 318.5L897.9 317.9L900.2 320.4L900.7 322.5L904.8 323.9L908.2 327.2L914.0 327.9L919.7 329.3L922.4 331.4L924.3 336.3L925.4 340.1L928.8 341.1L931.1 341.5L936.9 343.2L938.5 345.7L943.7 345.9L948.3 346.1L951.7 347.9L954.7 350.2L959.1 351.0L960.0 355.6L959.3 359.1L955.2 362.8L951.7 367.0L950.6 372.1L950.1 376.9L948.3 381.5L946.0 385.6L943.7 387.5L940.3 387.7L935.7 389.3L931.1 391.4L928.6 393.9L928.4 398.6L924.7 403.2L920.4 406.9L917.4 410.4L914.0 412.3L910.5 412.1L906.4 410.4L908.9 413.5L909.8 415.6L907.8 418.9L902.5 420.6L897.5 420.8L897.3 424.1L891.1 424.9L891.1 428.0L894.0 427.6L891.1 430.1L889.9 433.2L885.3 435.3L888.8 437.8L889.2 439.4L884.9 442.5L881.9 445.2L883.1 448.3L883.5 449.6L884.7 451.8L890.6 453.3L887.6 454.3L881.9 454.9L876.2 452.9L871.6 449.8L868.6 445.6L867.0 440.5L869.3 436.9L867.0 435.3L871.6 432.2L872.8 427.0L870.5 426.0L870.9 422.9L871.6 417.7L873.4 413.5L876.0 408.4L876.2 402.2L877.3 397.0L878.5 391.8L879.2 383.5L878.7 378.1L876.2 375.9L870.9 373.8L865.9 369.5L863.1 364.9L860.2 359.7L857.2 355.0L854.0 352.5L853.7 349.4L856.0 347.1L856.7 345.2L854.4 344.6L855.6 341.1L856.7 338.4L859.5 337.0L862.4 332.2L862.4 326.6L860.8 324.5L860.2 321.4L857.9 321.4L856.3 322.9L855.6 325.0L853.3 324.1L849.9 322.9L848.3 321.9L845.3 319.4L843.4 318.3L841.8 315.2L839.5 313.2L837.3 312.7L833.8 311.5L828.8 310.1L824.7 306.9L818.9 307.6L814.4 306.3L807.5 303.8L802.9 301.8L798.8 299.3L798.3 295.6L796.0 291.8L791.5 287.7L789.2 284.8L786.4 282.1L782.8 280.0L781.2 275.5L777.0 274.2L777.7 278.0L781.2 282.1L783.5 285.2L786.4 289.4L789.2 292.0L787.3 291.8L783.0 288.3L778.4 284.2L777.7 282.1L774.8 278.6L772.7 274.9L771.5 272.4L768.6 269.7L763.8 268.4L760.8 264.3L759.4 261.8L756.4 258.3L755.3 256.2L755.5 251.1L756.0 244.4L754.4 239.9L758.3 239.7L759.4 241.7L758.7 238.6L754.8 236.6L748.0 234.5L746.8 231.4L742.2 227.7L738.8 225.2L734.2 221.0L729.6 218.6L725.1 218.4L719.8 216.5L711.3 215.9L704.5 214.2L699.9 215.3L694.2 217.3L692.3 214.2L696.4 213.4L690.7 215.3L687.7 217.9L686.6 220.0L681.6 222.1L677.0 224.2L671.3 225.8L666.7 226.8L662.6 227.1L666.7 225.2L672.4 224.2L677.0 221.0L679.3 218.6L675.8 218.6L669.0 218.6L669.0 215.9L663.2 214.8L659.8 212.4L662.1 209.7L667.8 208.6L671.3 207.0L667.8 206.6L662.6 206.6L658.7 205.5L655.2 204.3L663.2 202.4L669.0 202.8L665.5 201.4L662.1 198.7L659.1 197.5L665.5 196.6L670.1 194.6L675.8 193.5ZM872.8 178.2L886.5 173.4L897.9 170.8L920.8 169.7L941.4 167.9L964.3 167.0L982.7 168.3L994.1 170.3L1012.4 171.4L1001.0 174.5L996.4 177.6L997.5 181.7L994.1 184.8L995.3 186.9L989.5 189.0L989.5 191.0L983.8 192.1L989.5 194.6L982.7 196.2L980.4 198.3L971.2 199.1L964.3 201.4L957.5 203.9L948.8 204.5L946.0 208.6L942.6 212.8L940.3 215.9L936.9 216.1L930.0 213.8L924.3 209.7L920.8 205.5L916.9 201.4L918.5 198.3L923.1 196.2L915.1 194.1L914.0 191.0L911.7 187.9L907.1 184.2L897.9 182.3L886.5 182.8L877.3 180.3ZM891.1 211.9L884.2 211.1L875.0 208.2L869.3 206.6L861.3 206.1L862.4 204.5L870.5 204.5L872.8 200.4L862.4 195.6L857.9 195.2L846.4 195.2L836.1 193.1L835.0 189.0L845.3 187.5L854.4 187.9L861.3 189.0L869.3 191.5L879.6 193.7L885.3 196.2L887.6 199.3L897.9 201.4L897.9 203.5L892.2 205.5L887.6 209.0ZM772.0 197.2L781.2 198.3L792.6 197.9L801.8 197.5L807.5 195.6L804.1 192.1L799.5 189.4L791.5 188.6L788.0 189.6L778.9 188.3L769.7 189.8L767.4 191.9L774.3 192.7L768.6 194.6ZM752.5 191.0L758.3 192.7L764.0 191.9L766.3 187.9L770.9 186.5L762.8 185.9L754.8 186.5ZM833.8 181.7L856.7 182.3L862.4 179.0L868.2 176.5L884.2 173.0L891.1 171.4L897.9 169.3L879.6 168.1L856.7 168.3L838.4 169.7L831.5 171.8L843.0 173.9L838.4 177.6ZM856.7 184.8L838.4 185.9L829.2 185.4L820.1 181.7L833.8 181.1L852.1 182.1ZM772.0 183.8L783.5 185.9L797.2 184.8L797.2 182.8L788.0 181.7L774.3 181.7ZM806.3 189.0L817.8 191.0L827.0 190.0L832.7 187.3L827.0 186.9L817.8 186.9L810.9 187.3ZM822.4 177.6L838.4 178.0L840.7 173.9L827.0 172.4L820.1 174.5ZM840.7 204.9L847.6 203.9L856.7 207.0L854.4 208.6L845.3 209.7L840.7 207.6ZM904.1 241.5L911.7 243.4L918.5 243.4L919.2 241.5L917.4 239.3L912.1 237.0L912.8 233.5L909.4 234.5L906.0 238.6ZM746.1 234.9L752.5 236.0L757.1 239.7L753.7 239.3ZM845.3 294.9L851.0 292.3L856.7 292.5L863.6 295.6L870.0 298.3L862.4 298.9L861.3 297.2L859.0 295.6L852.1 293.9L847.6 294.5ZM869.3 302.0L872.8 298.9L879.6 299.1L883.3 301.4L879.6 302.4L875.7 303.4L873.9 302.4ZM860.6 302.2L865.2 302.4L863.6 303.2ZM886.0 302.0L889.5 302.2L888.8 302.9L886.0 302.8ZM900.2 446.7L907.1 446.5L906.0 448.1L901.4 448.1ZM952.9 451.8L957.5 452.9L955.2 453.1ZM373.6 441.5L377.0 441.9L375.9 442.9L373.6 442.5Z" fill="none" stroke="#000" stroke-opacity="0.95" stroke-width="0.8"/></g>
<clipPath id="ax1"><rect x="215.6" y="623.87" width="824.3" height="372.57"/></clipPath><g clip-path="url(#ax1)" fill-rule="evenodd"><rect x="215.6" y="623.87" width="824.3" height="372.57" fill="#0030fa"/>
<path fill="#0060c0" d="M214.6 622.9 1040.9 622.9 1040.9 965.4 1008.9 965.6 996.9 968.3 990.9 968.4 988.9 969 986.9 970.2 982.9 971.4 978.9 974.6 976.9 975.3 972.9 974.8 966.9 972.6 965.7 973.4 964.9 975.4 962.9 976.7 954.9 977.6 950.9 978.7 949.6 979.4 944.9 984.7 940.9 986 920.9 986 908.9 983.1 906.1 983.4 898.8 985.6 894.8 986.1 844.8 986.1 838.7 985.4 835.8 983.4 834.8 981.4 835.2 979.4 836.8 977.4 842.8 973.6 844.5 971.4 845.2 967.4 844.6 965.4 840.8 964.1 838.8 964.1 834.8 966.2 830.8 967.5 820.8 968.1 814.8 967.7 808.8 965.9 804.8 966.7 800.8 965.8 794.8 965.6 786.8 963.6 742.8 963.8 732.8 965.6 716.8 965.8 710.8 967.6 702.8 967.8 698.8 969.3 697.9 971.4 704.9 977.4 706.6 979.4 706.9 981.4 704.4 985.4 702.8 986.4 700.8 986.6 692.8 984.6 688.8 981 685 979.4 682.8 976.1 680.8 975.9 670.8 978 662.8 979 634.8 979.6 630.8 980.7 626.7 982.9 620.7 983.2 610.7 985.9 564.7 985.8 561 983.4 559.7 981.4 559.1 977.4 558.7 961.4 556.7 959 550.7 957.8 406.7 957.7 400.7 956.9 394.7 954.5 390.7 955.4 388.2 957.4 386.4 961.4 384.7 963.4 382.7 964.7 378.7 965.4 358.7 965.1 356.7 964.3 348.6 958.8 344.6 957.4 336.6 955.8 328.6 958.1 321.7 959.4 318.6 961.1 314.6 964.4 310.6 965.4 214.6 965.4ZM910.9 644.6 908.9 645 905.9 646.9 903.9 648.9 903.4 650.9 910.9 655.3 912.9 656 918.9 655.4 920.9 655.7 922.9 656.9 930.9 664.2 932.9 665.1 940.9 665.1 948.9 662.4 955.5 660.9 966.9 654.1 968.6 652.9 970 650.9 970.1 648.9 968.9 646.9 964.9 644.8Z"/>
<path fill="#1a7b8c" d="M215.6 622.9 330.1 622.9 330.4 628.9 331.4 630.9 334.6 633.4 338.6 634.2 358.7 634.5 362.6 636.9 367.5 642.9 370.7 644.3 414.7 644.4 418.7 642.9 424.7 635.9 426.7 635.1 428.7 635.2 431.2 636.9 435.1 642.9 436.7 643.4 440.7 643 448.7 644.3 449.6 644.9 448.7 648 442.7 648.2 439.9 648.9 440.7 650.4 442.7 651.1 446.4 650.9 448.7 649.5 460.7 649.6 468.7 645.7 474.7 644.6 552.7 644.8 556.7 646.8 560.7 652 562.7 653.7 566.7 654.9 576.7 655.4 579.3 656.9 584.3 662.9 586.7 664.2 612.7 665.9 620.7 665.9 626.5 664.9 627.5 660.9 628.8 658.7 630.8 656.6 634.8 655.1 746.8 654.8 748.8 654.5 751.8 652.9 755.9 646.9 758.8 645.1 762.8 644.6 804.8 644.3 808.8 642.1 812.8 636.9 814.8 635.3 818.8 634.3 826.8 634.3 830.8 634.9 834.8 636.2 839.9 638.9 842.8 639.5 852.8 637.9 862.8 638.1 865.9 638.9 867.9 640.9 868.8 643.6 870.3 644.9 872.8 645.5 875.3 644.9 881.7 638.9 884.8 638.1 888.8 638 897.4 640.9 898 642.9 889.1 650.9 870.8 655.7 867.9 656.9 866.9 658.9 868.7 660.9 874.8 662.3 876.8 663.4 882.8 664.4 886.8 666.9 888.8 667.3 896.8 664.8 901.1 660.9 903 656.9 904.9 656.2 906.9 656.4 914.9 661.5 920.9 663.3 922.9 664.5 927 668.9 928.9 672.4 930.9 674.6 932.9 674.8 942.9 672.5 950.9 666.5 964.9 662.1 970.9 662.7 976.9 665.4 978.9 665.6 981.8 664.9 984.9 663.2 992.9 654.9 996.5 650.9 998.9 646.9 1000.9 645.1 1005.3 642.9 1005.9 638.9 1008.9 635.6 1012.9 633.6 1018.9 632.1 1032.9 631.5 1036.2 630.9 1039.2 628.9 1039.8 626.9 1039.9 622.9 1040.9 622.9 1040.9 752.6 1036.9 756.8 1034.9 757.8 1022.9 758.7 1016.9 760.2 1006.9 761.7 1004.9 763.5 1004.2 769.1 1004.9 774.7 1006.9 775.4 1040.9 775.4 1040.9 957.7 1036.9 958.7 1030.9 959.4 1016.9 959.6 1004.9 964.2 1000.9 965 998.9 965.9 990.9 966.5 984.9 968.3 974.9 968.1 968.9 966.2 964.9 966 962.9 966.9 960.9 969 959 973.4 956.9 974.3 948.9 975.9 944.9 977.9 936.9 978.4 930.9 980.1 926.9 980.2 918.9 979.5 912.9 976.9 906.9 975.2 904.1 973.4 902.6 969.4 902.1 951.4 900.7 949.4 896.8 947.8 894.8 948.1 892.8 949.4 891.8 953.4 890.8 954.6 880.8 954.8 876.8 956.2 872.8 956.8 868.8 958.6 862.8 958.1 852.8 962 848.8 962.1 838.8 960.7 828.8 962.8 818.8 963.1 806.8 961.6 804.8 963.1 802.8 963.5 794.8 963.1 788.8 961.4 744.8 961.3 736.8 962 732.8 963.1 716.8 963.2 710.8 965 698.8 965.8 694.8 967.7 692.8 968 688.8 967.8 680.8 965.9 678.8 966 676.8 966.9 671.4 971.4 666.9 973.4 662.8 974.5 654.8 975.7 634.8 975.8 622.7 979 614.7 980.2 610.7 979.6 600.7 976.4 590.7 976 586.7 977 584.7 976.6 583.7 975.4 585.3 971.4 585.4 969.4 581.5 959.4 579.4 957.4 576.7 956 568.7 955.2 564.7 953.8 556.7 953.8 540.7 952.6 528.7 952.3 404.7 952.9 394.7 951.8 390.7 953 382.7 956.9 374.7 959.3 372.7 959.1 368.7 956.8 366.7 956.6 360.7 958.3 356.7 957.8 340.8 949.4 336.6 948.7 334.6 949.3 328.6 953.3 324.6 954.8 320.6 954.8 314.6 954 302.6 954.3 290.6 953.8 284.6 955.5 258.6 955.6 246.6 957.5 218.6 957.6 214.6 958.3 214.6 775.4 278.6 775.2 283.5 773.1 292.6 767.2 294.4 765.1 294.3 763.1 291.1 755.1 291.1 753.1 292.6 749.1 286.6 747.8 282.6 748.3 274.6 748 268.3 745.1 266.6 744.8 264.6 744.9 260.6 748 252.6 748.6 244.6 750.5 240.6 750.2 230.6 748.1 222.6 748.3 218.6 750.6 214.6 754.9 214.6 629.1 215.5 626.9ZM324.6 759 322.6 759.5 320.6 761 319.3 763.1 318.6 769.1 318.8 771.1 320.3 773.1 324.6 774.4 329.8 773.1 336.6 767.6 337.7 765.1 335.9 763.1 332.6 762.1 328.6 760.1ZM358.7 656.9 350.6 658.4 348.4 660.9 347.5 664.9 348.6 665.4 358.7 664.5 363.8 662.9 364.2 660.9 363.4 658.9 360.9 656.9ZM428.7 717.5 426.7 719.2 422.7 726.3 420.7 728.2 416.7 729.9 404.7 730.6 403.4 731 401.9 733 404.7 734.6 406.7 734.9 422.7 735 426.7 734.9 431.5 733 440.7 725 442.4 723 443.1 721 441.9 719 438.7 717.3 432.7 717ZM918.9 946.1 917 947.4 915.5 949.4 915.4 951.4 917.2 953.4 918.9 954.1 920.9 954 922.9 952.9 924.1 951.4 924.4 949.4 922.9 946.8 920.9 945.8Z"/>
<path fill="#3c9060" d="M1024.6 636.9 1034.9 637.1 1040.9 639.3 1040.9 741.6 1036.9 745.6 1032.9 748.5 1020.9 751.2 1014.9 754.7 1006.9 758.4 1004.9 760.5 1002.9 763.9 1002.5 773.1 1003.3 777.1 1004.9 779 1040.9 779.1 1040.9 955.2 1030.9 957 1014.9 957.6 1006.5 961.4 998.9 963.8 988.9 964.7 984.9 965.6 983.8 965.4 982.7 963.4 982.6 953.4 982 949.4 980.8 947.4 978.9 945.8 974.9 944.7 942.9 944.4 938.9 942.2 934.4 937.3 930.9 934.9 922.9 934.4 918.9 935 916.9 936.1 911.8 941.4 908.9 943.5 906.9 943.8 896.8 942.2 892.8 942.9 888.8 944.8 883.2 949.4 874.8 953.1 868.8 953.8 864.8 952.8 860.8 952.6 850.8 954.8 838.8 955.3 832.8 956.9 827.7 959.4 824.8 959.8 816.8 959.5 810.8 956.5 802.8 955.1 646.8 955.1 642.8 956.4 640.8 958.5 640.3 959.4 640.4 961.4 641.9 963.4 644.8 965 656.8 965.9 659.3 967.4 660 969.4 657.3 971.4 654.8 971.8 632.8 972.4 615.8 977.4 612.7 977.9 610.7 977.7 600.7 974.5 588.7 973.2 588.3 971.4 588.6 969.4 589.6 967.4 594.7 964 601.8 961.4 603.9 959.4 602.7 958.6 596.7 957.7 592.7 956.4 582.7 955.6 578.7 953.7 570.7 953 566.7 951.6 546.7 950.8 540.7 949.4 532.7 949 528.7 947.6 520.7 947.6 516.7 948.6 508.7 949.3 470.7 949.2 460.7 947.6 450.7 947.5 442.7 949.2 410.7 949.3 404.7 950.3 394.7 949.7 374.7 956.9 372.7 956.2 368.7 952.5 366.7 952.4 362.7 954 358.7 954.6 356.7 954 350.6 950.6 344.6 948.6 342.5 947.4 336.6 946.6 322.6 951.8 316.6 951.4 310.6 952.3 302.6 952.3 290.6 951.4 282.6 953.1 256.6 953.2 244.6 955.1 214.6 955.5 214.6 779.1 276.6 779.1 290.6 775.7 298.6 775.9 299.3 775.1 298.7 769.1 297 763.1 295.4 761.1 292.8 755.1 292.9 753.1 294.6 751.1 296.6 750.7 298.6 751.9 300.6 754.9 304.6 759.1 305.9 761.1 306.6 764.5 310.6 769.1 314.6 775.3 316.6 776.3 324.6 777.7 330.6 777.1 340.3 773.1 342.6 771.6 344.6 769.1 344.7 767.1 344 763.1 342.6 761.1 338.6 761.5 334.6 760.9 328.6 756.6 322.6 751.2 312.6 750.5 308.6 749.1 306.6 747.5 303.5 743.1 300.6 741.9 298.6 742.3 294.6 745.9 292.6 746.7 286.6 746 282.6 746.6 276.6 746.6 266.6 743 264.6 743.1 260.6 746 258.6 746.6 254.6 746.5 248.6 745.4 244.6 745.4 240.6 744.3 237.5 741 236.5 737 232.6 736.1 224.6 736 220.8 737 214.6 743.7 214.6 638.4 220.6 640.5 234.6 641.1 244.6 643.6 262.6 643.7 278.6 641.9 288.6 641.9 294.6 642.6 302.6 644.4 324.6 645 327.9 646.9 336.6 655.3 338.6 655.9 340.6 655.8 346.6 654.3 349.1 654.9 344.6 662.3 340 664.9 340 666.9 344.6 668.6 348.6 668.6 352.6 667.3 354.7 667.2 362.7 666.9 366.7 667.4 372.7 663.4 374.7 663.3 382.7 665.2 414.7 665.4 418.7 666.9 423.3 670.9 426.7 672.5 436.7 672.9 438.7 672.7 442.7 671.1 447.6 666.9 450.7 665.5 492.7 665.3 496.7 665.8 498.8 666.9 503.5 670.9 506.7 672.2 508.7 672.1 511.5 670.9 516.5 664.9 520.7 662.4 522.7 662 530.7 662.2 538.7 664.5 542.7 664.9 552.7 662.2 562.7 662.1 572.7 663.9 580.7 664.7 584.7 666.6 586.7 667 600.7 667.7 604.3 668.9 606.7 672.9 610.7 675.5 622.7 679.1 624.7 678.9 626.7 676.7 628.8 676.6 632.8 682.2 636.8 683.3 644.8 683.1 649.6 681 654.9 674.9 656.8 673.5 660.8 672.2 662.1 670.9 662.8 668.9 664.8 666.5 670.8 664.4 676.8 663.9 682.8 662.1 688.8 663.9 702.8 664 712.8 665.9 742.8 665.9 748.8 664.2 756.8 666.6 762.8 667 768.8 666.7 774.8 665.3 776.8 665.5 778.8 666.5 780.8 666.5 782.8 665.5 788.8 665.3 790.8 665.5 792.8 666.9 793.8 668.9 798.8 670.8 804.8 674.8 806.8 675.4 814.8 675.7 818.8 676.9 820.8 678.5 824.3 683 824.8 688.4 826.8 690.7 836.8 692.9 842.8 693.4 850.8 696.5 854.7 701 856.8 701.2 858.8 697 862.8 692.8 863.6 691 863.5 689 862.4 685 862.8 683.9 864.8 683.2 870.8 685.2 876.8 685.8 880.8 687.7 884.8 688.8 890.8 686.5 892.8 686.6 896.8 688.6 898.9 687 899.9 679 901.4 672.9 904.3 668.9 908.9 665.7 910.9 665.4 919 666.9 921.1 668.9 923 674.9 926.9 680.3 928.9 681.9 934.9 682.9 936.9 682.1 940.7 679 944.9 677 948.9 672.8 954.4 668.9 956.9 668 964.9 665.7 978.9 667.4 986.7 664.9 990.9 659.8 996.9 654 1006.3 648.9 1018.2 638.9 1020.9 637.6ZM254.6 680.4 254.1 681 253.8 685 254.6 687.1 256 685ZM302.6 674.8 302 674.9 304.6 676.2 306.4 674.9 304.6 673.6ZM336.6 738.3 334.6 740.1 333.5 743.1 333.7 745.1 335.5 747.1 338.6 748 346.6 747.8 348.9 747.1 351.3 745.1 351.8 743.1 350.7 741 346.6 738.1 340.6 737.7ZM356.7 719.3 355.2 721 355.5 723 356.7 723.6 358.7 723.3 359.4 721 358.7 719.1ZM370.7 751 368.7 751.3 365.5 753.1 366.2 755.1 372.7 757.2 380.7 754.6 382.7 754.6 392.7 757 394.7 755.2 395.2 753.1 394.7 750.7 392.7 749.3 382.7 751.9ZM426.7 710.2 424.7 712.1 419.4 721 416.7 723.8 414.7 724.5 404.7 725 400.7 726.5 391.1 731 389.7 733 390.9 735 394.7 738.2 402.7 740.1 424.7 740.4 430.7 739.9 436.7 738.4 438.7 737 444.6 729 448.7 725.8 450.7 725 472.7 724.4 476.1 723 477.3 721 476.2 719 470.7 715.5 465.9 711 462.7 709.8 430.7 709.3ZM518.7 862.7 515.5 865.2 513.9 867.2 513.3 871.2 514.9 873.3 518.7 874.1 526.7 878.8 530.7 878.4 532.7 878.9 535.4 881.3 536.7 883.2 538.7 883.3 540.7 882.6 545.3 879.3 546.1 877.3 545 875.3 538.7 870.3 534 865.2 530.7 862.7 528.7 862.1 524.7 861.9 520.7 862.1ZM532.7 686.6 530.7 687 529 689 528.6 691 530.7 693.1 534.7 693.6 542.7 693.3 544.7 692.5 546.6 691 544.7 688.8ZM790.8 748.9 789.6 751.1 790.6 753.1 792.8 756.9 796.8 759.1 798.3 761.1 800.8 767.8 802.8 769.2 804.8 769.6 806.8 769.3 811.2 765.1 811.2 763.1 802 757.1 796.8 750.9 794.8 749.4 792.8 748.7ZM882.8 854.6 880.8 855.9 879.4 859.2 879.5 863.2 878.4 869.2 878.8 871.4 880.8 872.2 884.8 871.5 886.8 869.4 887.7 867.2 886.7 857.2 884.8 855ZM892.8 708.1 892.3 709 892.7 711 894.8 712.1 900.8 712.1 902.9 711.4 904.3 709 902.9 707.4 900.8 707.3 894.8 707.3ZM912.9 698.1 911.9 699 911.9 701 912.9 705.2 914.9 706.9 918.9 708.2 920.9 708.1 921.3 705 920.5 701 917.9 699ZM988.9 674.9 990.9 676 994.9 676.7 996.9 674.9 990.9 674.5ZM884.8 894.4 883 897.3 882.8 899.3 883 901.3 884.8 903.8 888.8 901.4 889.4 899.3 888.8 895.9 886.8 894.3ZM884.8 908 884.4 909.3 884.8 909.7 885.4 909.3ZM352.9 652.9 354.7 652.4 357 652.9 354.7 654.3Z"/>
<path fill="#3ea224" d="M214.6 644.9 232.6 644.8 238.1 646.9 242.9 650.9 246.6 652.1 250.6 651.3 252.6 649.2 254.6 648.7 256.7 648.9 258.6 650.2 262.6 651.5 266.6 652 278.6 647.4 288.6 647.3 293.9 648.9 300.6 653.8 302.6 654.6 322.6 655.1 324.6 655.7 328.4 658.9 329.6 660.9 330 662.9 329.9 666.9 328.2 668.9 324.6 670 318.6 668.1 316.6 668.6 314.6 669.9 312.6 668.8 308.6 664.8 304.6 663.3 300.6 663.4 298.6 664.4 297.1 666.9 300.2 668.9 301.5 670.9 300.6 671.8 296.6 671.2 294.6 671.7 293.6 672.9 294.2 674.9 296.6 677.6 300.6 679.1 306.6 678.8 310.6 675.7 312.6 675.5 412.7 675.6 424.7 677.9 430.7 678.3 440.7 678 452.7 675.6 492.7 675.6 506.7 678.1 510.7 677.8 518.7 676.2 520.7 676.7 522.7 678.3 524 681 522.1 691 522.7 693.4 524.7 696.7 526.7 698.2 528.7 698.8 540.7 699.3 545.4 701 546.7 702.1 547.5 705 547.9 711 550.2 719 551.2 721 552.7 722 554.7 722.2 558.6 721 564.7 717.3 574.7 716.9 576.7 716.5 579.3 715 581 713 581.7 711 582.2 699 583.4 697 587.6 693 588.6 691 588.8 689 590.7 686.4 604.7 685.9 614.7 682.6 620.7 682.2 624.1 683 628.8 686.7 632.8 688.3 646.8 688.4 656.8 686 658.8 684.8 661.1 681 666.8 679.8 670.8 675.8 672.8 675.6 690.8 675.9 692.8 676.8 694.8 678.6 696.6 683 698.8 684.9 704.8 684.1 710.8 685.9 716.8 686 722.8 687.9 728.8 688.5 732.8 690.4 736.8 693.5 738.8 694.2 740.8 693.6 742.1 691 742.8 680.5 744.8 677.7 746.8 676.4 752.8 675.6 792.8 676 794.9 677 802.8 684.6 804.8 685.5 814.8 686.1 816.8 686.7 818.8 688 824.8 694.6 826.8 695.7 828.8 696.1 838.8 695.6 840.8 695.9 842.8 696.8 844.8 699 846.8 703.5 848.8 705.3 850.8 706 856.8 705.3 858.8 704.2 861.6 699 864.8 696.7 868.8 696.3 894.8 696.3 900.8 697 906.9 699.5 907.8 701 906.8 703 902.9 704.6 890.8 704.8 886.8 706.9 884.8 707.3 881.9 709 880.5 711 880.2 713 880.7 715 882.8 716.1 890.8 717.4 896.8 715.4 906.9 714.5 910.3 713 909 711 909.1 709 910.9 708.7 916.6 711 916.9 713 918.9 715 920.9 714.7 922.9 713.5 924.9 711 925.4 705 924.8 699 922.9 695.6 914.6 691 906.9 684.1 906 681 906.9 678.3 908.9 676.1 914.9 673.9 916.9 673.8 918.9 675 926.9 683.7 928.9 684.8 934.9 686.5 938.9 686.5 940.9 685.7 942.9 682.7 950.7 674.9 956.8 672.9 962.9 669.7 966.9 668.6 980.9 668.5 986.9 667.5 988.9 666.6 996.9 658.8 1008.9 655.8 1012.9 654.1 1020.3 646.9 1022.9 645.1 1026.9 644.6 1040.9 644.6 1040.9 736.9 1034.9 739.5 1030.9 740.5 1026.9 743.4 1020.9 746.2 1014.9 751.8 1008.9 754.9 1004.9 758.1 1001.8 763.1 1001.4 765.1 1001.2 779.1 1002.9 781.9 1004.9 782.7 1040.9 782.6 1040.9 913.7 1034.9 913.4 1032.9 912.8 1030.7 911.3 1025.8 905.3 1022.9 903.9 1008.9 907.1 1006.3 909.3 1005.6 911.3 1005.4 917.3 1004.9 919.3 1003.6 921.3 996.9 925.8 992.5 931.3 990.9 932.8 988.9 933.6 986.9 933.3 984.9 932 981.4 927.3 978.9 925.2 971.2 923.3 970.8 919.3 970 917.3 966.9 914.5 962.9 913.7 932.9 913.7 930.9 914.1 928.4 915.3 923.5 921.3 920.9 923.2 916.9 924 896.8 924.3 892.8 926.8 889.5 931.3 886.8 933.4 882.8 934.3 862.8 934.6 858.8 936.8 855.4 941.4 853.2 943.4 848.8 944.7 714.8 944.5 710.8 942.9 709.4 941.4 708.8 939.4 709.6 937.3 710.8 936.1 715.4 933.3 717.6 931.3 717.7 929.3 716.8 928.6 714.8 927.3 700.8 924.1 686.8 924 680.8 924.1 677.1 925.3 674.8 927.3 672 931.3 668.8 933.7 666.8 934.2 656.8 934.6 654.8 935.3 652.2 937.3 649.4 941.4 647.2 943.4 642.8 944.7 622.7 944.5 618.7 942.6 614.7 937.3 612.7 935.6 610.7 935 600.7 936.8 590.7 937 584.7 936.6 574.7 934.5 570.7 934.4 570.1 939.4 569.1 941.4 567.1 943.4 554.7 948 550.7 948.5 546.7 948.6 540.7 947.2 534.7 947 530.7 945.6 526.7 945.1 520.7 945.2 510.7 947 504.7 947.1 472.7 947.1 460.7 945.2 450.7 945.1 440.7 947.1 410.7 947.1 404.7 947.7 392.7 944.8 372.7 944.7 368.7 945.1 364.7 946.2 358.7 950 352.6 948 346.6 946.9 340.6 944.7 336.6 944.6 330.6 946.8 322.6 948.8 320.6 949.1 316.6 948.7 310.6 950.2 304.6 950.3 297.7 949.4 297.7 947.4 300.6 945.4 302.6 944.8 310.6 944.7 314.6 944 316.6 942.7 317.6 941.4 317.9 939.4 317 937.3 314.6 935.4 312.6 934.6 296.6 934.3 290.6 934.6 288.6 935.2 285.9 937.3 283 941.4 280.8 943.4 276.6 944.6 214.6 944.7 214.6 934.3 252.6 934.3 256.6 933.7 259.8 931.3 264.6 925.5 270.6 921.6 271.9 919.3 271.5 917.3 269.7 915.3 266.6 913.9 264.6 913.7 214.6 913.6 214.6 782.6 276.6 782.6 290.6 779.4 300.6 781.2 302.6 781.1 304.1 779.1 301 773.1 298.2 763.1 295.5 759.1 293.8 755.1 294 753.1 294.6 752.4 296.6 752.1 302.9 759.1 304.1 761.1 305.4 765.1 308.9 769.1 312.6 775.5 314.6 778 316.6 779.4 324.6 779.9 328.6 779.3 344.9 773.1 347.3 771.1 349.5 767.1 349.7 765.1 349 763.1 344.6 758.3 342.6 757.8 338.6 760.1 336.6 760.2 334.6 759.6 332.1 757.1 328.6 754.8 325.2 751.1 324.8 749.1 325.5 747.1 326.6 745.9 338.6 752.7 340.6 753.4 344.6 753.3 348.6 755.8 358.7 756.3 366.7 757.3 368.7 757.8 372.7 759.9 374.7 760.1 380.7 758.8 384.7 759.6 387.3 761.1 388.7 762.5 389.7 765.1 389.3 767.1 386.3 773.1 386.7 777.5 388.7 778.8 394.7 779.1 396.7 778.6 398.7 777.1 401.2 775.1 402.4 773.1 399.9 767.1 399.4 763.1 402.5 751.1 404.7 748.7 406.7 748.1 414.7 748.2 418.7 749.7 421.6 753.1 424.7 761.1 428.7 765 430.7 765.7 432.2 763.1 430.5 755.1 431 751.1 432.2 749.1 434.5 747.1 440.7 743.7 447.4 733 450.7 730.5 454.7 730 472.7 729.9 482.7 728.3 484.7 729 486.7 731.2 490.7 732 492.6 733 494.7 737 500.4 733 500.9 731 499.8 727 500.6 721 499.2 719 493 715 488.2 709 481.9 705 476.7 698.7 474.7 697.4 472.7 697.1 470.7 697.9 464.7 703 462.7 703.6 428.7 704 424.7 704.9 420.7 707.8 416.7 714.9 414.7 716.5 412.7 717 400.7 717 398.7 715 397.9 711 396.5 709 394.7 707.8 392.7 707.4 390.7 708.2 388.4 711 388.7 713.2 390 715 392.7 716.5 398.2 717 398.6 719 397.8 721 395.7 723 392.7 724.4 382.8 727 379.9 729 378.1 731 377.9 733 384.7 737.1 388.6 741 389 743.1 387.7 745.1 382.7 747.5 378.7 747.5 368.7 745 365.1 743.1 361.1 739 356 735 354.8 733 356.2 731 360.7 729.1 362.7 727.2 363.7 725 364.4 721 364.3 713 363.7 711 360.7 707.9 358.7 707.3 356.7 707.9 355.2 709 350.6 713.8 346.6 716.6 336.6 717.3 333.8 719 333.2 721 333.1 725 329 735 326.7 743.1 324.6 745.1 313.7 745.1 310.6 743.1 308.6 740.6 306.6 739.1 302.6 738.1 300.6 738.2 298.6 739.3 292.6 745.3 290.6 745.6 286.6 744.6 282.6 745.5 276.6 745.4 268.6 742.1 266.6 741.7 262.6 742.4 259.5 745.1 256.6 745.5 248.6 743.3 242.6 742.3 241 741 239.6 739 238.6 735 236.6 734.2 222.6 734.2 214.6 737.5ZM250.6 674 248.6 675.4 246.6 681.9 244.6 684.9 242.6 685.5 240.6 684.5 238.6 681.7 237 681 232.6 681.4 229.6 683 228.5 685 228.6 687 230.6 689.3 232.6 689.7 238.6 687 240.6 686.7 242.6 689 245.7 695 246.6 695.7 252.6 696.5 256.6 695.7 260.6 696.2 264.6 693.9 268.6 692.9 270.6 691.9 273.6 689 274.8 687 272.3 681 268.6 679.4 266.6 679.2 262.6 679.9 261.7 679 262.4 674.9 260.6 673.8 254.6 673.2ZM298.6 715 294.6 718.6 292.6 718.6 288.6 715.3 286.6 715 284.6 715.6 282.6 718 282 721 284.6 722.8 286.6 723.3 298.6 722.9 304.6 724.5 309.2 723 308.7 721 302.6 718.1 301.7 717 301.4 715 300.6 714.4ZM516.7 855.1 506.7 861.5 480.7 862 479.8 863.2 479.8 865.2 480.7 868.6 482 871.2 482.7 879.8 486.7 880.3 492.7 878.8 496.7 878.7 504.7 874.8 506.7 874.5 516.7 875.6 518.7 876.1 526.7 880.8 530.7 880.5 532.1 881.3 534.7 885.5 537.7 887.3 542.7 888.8 548.3 887.3 552.7 883.6 556.7 882.3 558.7 881 559.6 879.3 559.1 877.3 554.7 874.5 544.7 863.6 536.7 857.8 532.7 856.3 528.7 855.6 520.7 854.6ZM596.7 708.2 594.5 711 594.6 713 596.7 715.5 598.7 716.2 600.7 715.9 603.6 713 603.7 711 602.5 709 600.7 707.8 598.7 707.4ZM770.8 728.6 769.4 731 769.3 733 770.8 734.6 775.7 737 777.8 739 784.8 750.9 788.8 753.9 790.8 757.1 796 761.1 799.6 769.1 803.2 771.1 806.8 771.8 811.1 771.1 812.8 770 814.7 767.1 814.8 763 804.8 748.2 798.3 741 796 739 790.8 735.9 786.8 730.8 784.8 728.9 782.8 727.9 774.8 727.4 772.8 727.6ZM874.8 847.2 874.5 849.2 877.5 853.2 877.1 857.2 877.5 863.2 875.9 869.2 875.6 879.3 873.5 885.3 873.5 889.3 874.3 893.3 876.5 897.3 877.9 901.3 880.6 911.3 882.8 913.5 884.8 913.4 886.8 912.8 888.3 911.3 888.8 909.3 887.2 905.3 890.9 901.3 891.2 895.3 892.9 891.3 891.5 887.3 891.1 881.3 893.6 867.2 891 857.2 888.8 853.2 886.8 850.9 884.8 849.5 878.8 848.8ZM902.9 916.7 901.4 917.3 902.9 918.8 905 917.3ZM988.9 671.5 987.1 672.9 986.4 674.9 987.7 677 988.9 677.7 992.9 678.3 996.9 678 998.7 677 999.9 674.9 998.9 673.4 996.9 672.6 992.9 672.5ZM1008.9 666.8 1007.2 668.9 1007.9 670.9 1010.9 672.2 1014.7 670.9 1015.3 668.9 1013.7 666.9 1010.9 666.1ZM252.6 862.5 252.3 865.2 256.6 875.3 260.4 879.3 262.6 879.3 264.6 878.2 266.6 877.9 274.6 878 276.8 877.3 276.5 875.3 274.2 871.2 272.6 867 271.5 865.2 269.3 863.2 264.6 861.9 254.6 861.9ZM310.6 915 308.5 917.3 308.2 919.3 308.6 920.3 310.6 922.6 312.6 923.3 314.6 922.8 316.7 921.3 317.9 919.3 318.6 915.3 316.6 913.7 312.6 914.1ZM322.6 907 319.6 909.3 318.7 913.3 320.6 913.6 324.6 913.2 327.7 911.3 328.3 909.3 326.6 907.6 324.6 906.8ZM380.7 914.3 378.7 915.6 377.2 917.3 376.9 919.3 377.9 921.3 380.7 923.3 384.7 924 392.7 923.7 394.7 923 396.7 921.4 397.5 919.3 396.7 917.3 392.7 914.1 384.7 913.7ZM540.7 917.2 537.8 919.3 538.2 921.3 540.7 923.1 546.7 924 547.6 925.3 548.7 930.4 551.8 933.3 554.7 934.2 564.7 934.3 568.7 934.3 570.5 933.3 569.7 929.3 568.3 927.3 564.7 924.6 560.7 924 548.7 924 547.6 923.3 547.4 921.3 546.5 919.3 543.4 917.3ZM579.9 683 582.7 683 581.4 685 578.7 686.3 577.7 685ZM564.4 697 566.7 697.1 568.7 698.7 569.4 701 568.7 703.6 566.7 705.4 564.7 706 562.7 705.4 560.7 703.5 560 701 561 699ZM940.4 925.3 942.9 924.3 950.9 924 970.9 924 971.2 925.3 970.7 929.3 969.6 931.3 967.1 933.3 962.9 934.3 956.9 934.3 944.9 934.3 942.9 933.8 939.5 931.3 938.1 929.3 938.4 927.3ZM1009.7 935.3 1014.9 934.4 1040.9 934.3 1040.9 944.7 1014.9 944.7 1010.9 944.2 1008.9 943.2 1007 941.4 1006.4 939.4 1007.2 937.3ZM596.5 967.4 602.7 965.6 620.7 965.5 624.7 967.2 625.5 969.4 622.9 971.4 616.7 973.1 612.7 975.1 610.7 975.5 602.7 972.9 594.8 971.4 594.4 969.4Z"/>
<path fill="#6eb010" d="M219.4 648.9 224.6 648.3 232.6 648.7 235.5 650.9 238.6 655 240.6 656.3 244.6 657.6 266.6 657.6 280.6 655 288.6 655.2 290.6 655.9 292.6 657.5 293.7 658.9 293.9 660.9 290.9 664.9 288.6 665.8 284.6 665.4 280.6 664 268.6 663.9 266.6 664 262.6 665.4 254.6 666.9 244.6 665.7 242.6 666.3 239.7 668.9 237.8 674.9 235.9 677 228.6 680.2 224.6 684.7 222.6 685.6 214.6 686 214.6 671.6 215.5 668.9 215.7 652.9 216.3 650.9ZM1040.6 650.9 1040.9 686 1028.9 685.8 1022.9 686.2 1020.9 687 1018.9 688.7 1017.9 691 1019.2 695 1018.2 701 1018.9 702.7 1024.9 701.7 1026.9 699.4 1028.9 699.1 1029.8 705 1030.9 706.1 1034.9 706.1 1038.9 704.6 1040.9 704.8 1040.9 715.8 1038.9 715.2 1036.9 716.3 1034.9 719.3 1032.9 719.9 1028.9 719.7 1028 711 1026.9 709 1024.9 707.6 1022.9 707.2 1020.9 707.7 1018.9 709.5 1017.9 711 1017.6 713 1018.9 717 1020.9 719 1022.9 719.8 1026.9 720.2 1028 721 1027.6 723 1026.2 725 1024.9 726.1 1020.9 727.7 1019.5 729 1019.3 731 1020.9 732.7 1025.8 735 1025.7 737 1022.8 741 1015.7 749.1 1012.9 751.3 1006.9 754.1 1003.5 757.1 1002.1 759.1 1000.1 763.1 999.8 765.1 999.8 775.1 999.2 779.1 999.3 781.1 1002.9 786 1008.9 790.7 1010.9 791.6 1012.6 791.1 1016.9 788.3 1020.9 787.2 1040.9 786.9 1040.9 899.8 1034.9 894 1030.9 893 1024.9 893 1022.9 893.5 1016.9 897.9 1012.9 900 998.9 903.1 988.9 903.5 976.9 905.8 962.9 903.3 944.9 903.3 932.9 905.7 920.9 906.9 916.9 906.3 912.9 904.2 910.9 901.3 908.9 896.8 906.9 895.9 903.1 907.3 900.8 910.8 896.8 913.1 892.8 912.5 890 907.3 889.7 905.3 892.3 901.3 892.8 895.3 895.9 893.3 898.8 890.3 900.8 890 904.9 890.6 906.9 889.8 907.1 887.3 903.7 881.3 900.9 873.3 898.2 863.2 890.8 849.5 886.8 845.3 878.8 842 876.3 837.2 874.8 835.6 866.3 833.2 864.9 831.2 863.3 825.2 860.8 823.6 859.6 825.2 860.8 829.6 862.8 832.6 863.9 833.2 865.4 837.2 869.4 843.2 870.8 852.3 872.8 858.6 875 863.2 872.9 873.3 871.4 877.3 869.8 895.3 871.5 899.3 872.1 903.3 874.8 906.8 878 915.3 883.1 919.3 883.6 921.3 882.9 923.3 880.8 924.2 878.8 924.3 876.1 923.3 868.8 916 867.9 913.3 867.8 905.3 866.8 903.9 864.8 903.4 748.8 903.5 744.8 905.4 743.5 907.3 743.3 909.3 744.8 911.6 750.8 915.4 752.3 917.3 752.7 919.3 750.8 922.2 746.8 923.8 724.8 923.6 712.8 920.8 709.5 919.3 704.8 915.2 700.8 913.8 658.8 913.7 654.8 914.6 652.8 916.1 648.8 921.3 646.8 922.9 642.8 924 636.8 924 632.8 923.4 630.8 922.3 624.9 917.3 620.7 916.9 616.7 918.9 612.7 922.8 602.7 930.1 598.7 931.5 590.7 931.7 586.7 931.2 582.6 929.3 573.3 921.3 568.7 916.3 564.7 913.9 554.7 913.5 542.7 911.2 536.7 911.8 528.7 913.6 486.7 913.6 484.6 913.3 481.1 911.3 476.7 905.6 474.7 904.2 470.7 903.3 428.7 903.4 424.7 905 419.4 911.3 416.7 913.1 408.7 913.6 404.7 913.1 402.1 911.3 396.7 905.7 394.7 904.3 392.7 903.9 380.7 905.9 360.7 906 346.6 906.9 336.6 906 326.6 901.8 322.6 901 310.6 903.3 224.6 903.3 220.6 902.7 218.6 901.7 214.6 897.5 214.6 786.9 276.6 786.9 280.6 786.4 288.6 783.6 290.6 783.4 295.2 785.1 300.6 788.8 306.6 789.5 307.9 795.1 309.1 797.1 311.8 799.1 318.6 801.3 320.6 801.5 322.6 800.9 324.9 799.1 326.6 796 327.7 791.1 326.6 790 318.6 790.7 307.3 789.1 307.5 787.1 309.7 783.1 302.1 773.1 299.4 763.1 296.5 759.1 294.9 755.1 296.6 753.6 303.1 761.1 304.1 765.1 309.2 771.1 314.6 781.4 316.6 782.4 326.6 781.4 338.2 777.1 346.6 776 348.4 775.1 349.8 773.1 351.7 767.1 351.2 763.1 348.8 759.1 352.6 758.1 358.7 758.1 366.7 758.6 374.7 762.5 380.7 762.5 382.7 763.2 383.8 765.1 383.9 775.1 384.6 779.1 392.7 789.9 394.7 790 396.7 788.8 398.5 785.1 400.2 779.1 405.3 775.1 408.8 769.1 410.8 763.1 412.7 760.6 414.7 759.7 416.7 760.5 418.7 762.2 424.7 764.2 428.7 768.7 430.7 769.7 434.7 770.9 438.7 769.6 440.7 769.9 446.5 775.1 454.7 777.2 456.7 778.2 458.4 781.1 459.2 785.1 460.7 786.1 462.7 785.8 464.7 782.5 464.9 779.1 463.7 769.1 462.7 768 458.7 767.7 457.6 767.1 454.7 761.8 452.7 759.8 448.7 758.5 440.7 758.2 438.7 757.3 437.2 755.1 437.1 753.1 438.7 751.3 444.7 748 448.7 741 450.7 738.7 452.7 737.8 486.7 738 492.7 743.5 494.7 744 496.7 743 499.2 739 502.8 735 504.1 733 504.7 729.9 506.7 728.2 510.7 727.4 518.7 727.5 528.7 729.7 530.7 729 534.7 723.1 536.7 721.2 538.7 720.9 544.7 722 550.4 725 552.7 725.6 556.7 725.5 566.7 723.9 576.7 724.7 598.7 724.8 612.7 727.3 654.8 727.5 659.1 729 664 735 666.8 737 670.8 737.7 678.8 737.5 682.8 735.4 686.8 730.2 690.8 727.7 750.8 727.2 752.8 725.3 754.6 721 755.2 715 754.9 711 756.1 709 760.8 706.1 766.8 704.6 770.8 704.2 774.8 705.4 776.9 707 778.3 709 778.9 713 778.2 715 776.6 717 770.8 720 767.6 723 763.2 731 762.7 733 763 735 764.3 737 770.8 740.5 772.8 742.4 776 751.1 782.8 758.6 784.8 760 786.3 759.1 786.3 755.1 786.8 754.8 790.9 759.1 794.1 761.1 796.7 765.1 797.9 769.1 798.8 770.1 802.8 772.3 806.8 773.4 810.8 773.6 818.8 775.6 820.2 775.1 820.9 773.1 817.8 767.1 814.8 756.2 809.3 745.1 808.4 741 810.8 731 811.2 723 812.8 719.8 814.8 718.1 818.8 717 838.8 717.2 842.7 719 847.5 725 848.8 726 850.8 726.4 853.4 725 858.8 719.4 860.8 718.1 862.8 717.8 865.6 719 869.5 723 870.8 723.2 876.5 721 878.8 719.6 884.8 718.4 890.8 719.3 894.8 718 900.8 717 908.9 717.1 918.9 718 920.9 717.6 924.9 715.6 927.8 713 929.3 709 929.5 703 930.3 699 930.9 697.8 932.9 696.5 962.9 696.3 966.9 695.4 968.9 694 970.3 691 969.5 689 961.4 683 960.2 681 959.8 679 960.1 677 961.7 674.9 963.8 672.9 966.9 671.4 976.9 670.3 981.9 670.9 982.9 671.8 983.6 674.9 984.9 677 988.9 679.8 990.9 680.1 996.9 680 1002.9 677.4 1012.9 678 1022.9 675.9 1032.9 675.5 1035.1 674.9 1038 672.9 1039.3 670.9 1039.8 668.9 1040 652.9ZM246.6 845.1 244.6 845.4 242.3 853.2 242 857.2 242.9 859.2 244.6 861.2 246.6 862.4 251.3 869.2 252.8 875.3 254.1 877.3 260.6 881 266.6 879.6 276.6 879.9 278.5 879.3 280.6 877.5 283.3 873.3 286.7 869.2 287.2 867.2 286.6 862.8 280.6 846.8 278.6 845.3 276.6 844.9 266.6 844.4 264.2 845.2 258.6 849.7 256.6 850.7 254.6 850.9 252.6 850.2 249.6 847.2ZM508.7 851.1 504.7 852.6 498.7 853.8 490.7 854.7 484.7 854.6 482.5 855.2 478.7 857.4 477.9 859.2 477.5 863.2 480.4 871.2 480.5 879.3 481.4 881.3 484.7 882.3 488.7 882.2 492.7 881 496.7 881.1 498.7 880.6 504.7 876.9 506.7 876.4 516.7 876.9 521.8 879.3 526.7 882.8 528.7 882.7 530.7 883.3 531.6 885.3 534.7 888.2 546.5 893.3 546.3 897.3 547.1 899.3 550.7 902.5 552.7 902.8 554.7 901.7 556 899.3 556.1 897.3 553.6 891.3 553.9 889.3 558.7 885.2 561.8 879.3 561.9 877.3 560.7 875.5 558.2 873.3 555.6 869.2 554.9 865.2 556.8 859.2 556.1 857.2 554.5 855.2 548.7 850.9 546.7 850.5 538.7 852.3 532.7 852.8 526.7 852.1 518.7 849.4 514.7 849.5ZM602.7 895.1 596.7 897 595.1 899.3 596.7 901.2 604.7 899.8 607 897.3 607.1 895.3ZM826.8 803.6 825.1 805.1 826.8 806.4 828.8 807 830.8 806.4 831.8 805.1 828.8 803.3ZM838.8 810.9 837.5 813.2 838.2 815.2 840.8 816.5 850.8 817.6 852.9 817.2 853.4 815.2 852.8 812.9 850.8 810.3 842.8 810.2ZM278.1 697 280.6 697.6 282.6 699.4 283.6 701 284.6 706.7 300.6 706.9 304.6 709 300.6 710.5 294.6 714.9 292.6 714.9 290.6 713.1 284.9 711 284.3 707 282.6 706.7 278.6 707 276.6 707.9 275.2 709 273.9 711 274.6 713.9 278.3 717 279.2 723 280.6 724.4 286.6 726.2 290.6 725.4 298.6 725.4 305.7 729 306.2 731 304.7 733 298.6 735.1 292.6 743.4 290.6 743.9 286.6 742.9 282.6 743.8 276.6 743.7 268.6 740.3 266.6 740 262.6 740.4 258.6 743.6 254.6 743.3 250.6 741.7 244.6 740.5 242.6 739.6 240.1 733 238.6 731.9 222.6 732.2 214.6 734.7 214.6 731.3 216.1 727 218.6 724.5 222.6 723 223.9 719 222.6 717.6 214.6 715.2 214.6 704.6 217 705 218.6 706.5 220.6 706.5 223.9 705 229 701 236.6 697.4 242.6 699.2 246.6 699.8 256.6 698.7 260.6 699.3 268.6 698.7ZM370.4 719 372.7 718.7 374.5 721 374.2 723 372.7 724.7 370.7 725.5 369.3 723 369.4 721ZM1040.4 727 1040.9 726.4 1040.9 734.4 1032.9 735.9 1031.4 735 1034.9 734.1 1038.9 731.3ZM380.3 743.1 380.7 742.6 380.9 743.1ZM327.7 749.1 328.6 748.9 332.6 750.8 336.6 753.7 339.6 755.1 340.3 757.1 338.6 758.7 337.3 759.1 334.6 758 332.6 755.9 328.5 753.1 326.9 751.1Z"/>
<path fill="#9cbb18" d="M942.7 707 953.7 707 956.9 708.4 959 711 959.8 717 959 723 957.6 725 950.4 731 949.5 733 950.3 735 952.9 736.9 956.9 737.7 1016.9 737.7 1018.9 738.1 1019.7 739 1019.2 741 1015.2 747.1 1012.9 749.2 1008.9 750.1 1000.9 748.5 998.9 748.8 995.7 751.1 994.6 753.1 994.1 757.1 994.2 793.1 994.9 795.4 996.9 797.9 998.9 798.9 1000.9 798.9 1002.9 797.8 1005.2 795.1 1006.9 794.2 1010.9 794.9 1022.9 792.3 1040.9 792.2 1040.9 888.6 1038.9 887.1 1034.9 885.5 1022.9 885.4 1018.2 887.3 1010.9 892.5 1008.9 892.9 988.9 893.2 986.9 893.9 979.8 899.3 976.9 900 974.1 899.3 966.9 893.9 964.9 893.6 954.9 895.4 942.9 895.8 930.9 900.7 922.9 902.7 918.9 902.6 916.9 901.5 914.8 899.3 912.9 895.3 911.4 891.3 910.5 885.3 911 883.3 917.1 879.3 918.2 877.3 916.9 875.2 908.9 871.8 906.9 869.6 906.1 867.2 906.9 864 912 859.2 913 857.2 912.6 855.2 910.9 853.2 908.9 852.1 898.8 851.4 896.8 850.2 892.8 844.9 889.1 841.2 883.5 837.2 879.2 833.2 870.4 829.2 864.8 820 862.8 818.5 858.8 817.6 856.8 815.4 856.2 813.2 856.8 809.5 860.8 803.5 862.8 802 872.8 797.8 876.8 797.2 884.8 797.2 896.8 799.4 900.8 798.8 903.8 797.1 903.9 795.1 896.8 790.2 884.8 790 874.8 787.1 868.8 789 864.8 792.3 860.8 791.9 858.8 792.3 858.3 793.1 859.8 795.1 860.1 797.1 858.8 799.6 840.8 799.7 832.8 797.8 826.8 797.4 816.8 799.5 806.8 799.9 798.8 801.7 792.8 802.5 726.8 802.6 704.8 803.7 698.8 805.1 698.3 807.2 700.8 809.3 704.8 810.1 814.8 810.2 828.8 813.4 833.6 817.2 838.8 820 850.8 823 854.8 824.8 856.8 827 859.7 835.2 860.9 837.2 864.8 841.2 865.9 843.2 868.1 857.2 868.1 865.2 864.8 878.7 863.5 881.3 858.6 885.3 854.8 890.3 850.8 892.7 646.8 893 642.8 894.2 640.8 896 636.8 901.1 634.8 902.4 628.8 903.3 627.7 901.3 626.9 897.3 625.5 895.3 622.7 893.4 617.3 891.3 614 887.3 610.7 885.9 608.7 886.1 600.7 889.6 590.7 891.9 584.7 894 574.7 896.4 572.7 897.3 566.7 902.1 564.7 902.2 562.7 900.3 557.3 891.3 557.6 889.3 559.3 887.3 563.2 879.3 562.7 875.9 559.7 871.2 558.1 867.2 559.5 861.2 559.4 859.2 556.6 855.2 549.9 849.2 548.3 847.2 546.7 842.8 542.7 838.8 540.5 845.2 538.7 847.3 534.7 849.2 530.7 849.9 526.7 848.9 523.8 847.2 520.7 843.3 517.8 841.2 516.7 840.9 512.7 841.8 506.7 841.6 504.7 841.9 502.7 843.2 499.9 847.2 492.7 851.9 490.7 852.7 483.5 853.2 478.7 855.7 476.7 858.6 476.3 863.2 479.5 871.2 479.7 881.3 480.7 882.8 482.7 883.8 489.7 885.3 490.1 887.3 488.7 889.9 486.7 891.7 484.7 892.6 428.7 892.8 424.7 891.3 420 887.3 416.7 885.8 406.7 885.3 404.7 885.5 400.4 887.3 395.8 891.3 390.7 894.3 384.7 899.2 382.7 900 378.7 900.6 360.7 900.6 350.6 902.7 346.6 903 336.6 900.8 333.3 899.3 326.6 894.3 324.6 893.6 312.6 895.5 290.6 895.6 278.6 896.5 254.6 897 240.6 895.1 232.6 893.2 222.6 892.7 220.6 891.9 214.6 887.1 214.6 792.2 278.6 792.3 282.6 793.8 286.6 797.6 292.6 801.3 300.6 809.1 306.6 811.5 310.6 811.4 316.6 808.4 325.5 801.1 327.2 799.1 331.9 789.1 332.1 787.1 330.6 785.9 326.6 785.4 321 787.1 319 787.1 318.5 785.1 326.6 784 327.2 783.1 336.6 779.6 338.6 779.4 346.6 781.4 350.6 780.6 352.6 779.4 354.5 777.1 355.5 773.1 354 765.1 352.4 761.1 354.7 760.1 356.7 760 366.7 760.4 368.7 761 376.7 766.9 380.7 768.4 382.5 779.1 385.9 785.1 390.7 791.7 392.7 792.8 395 793.1 398.7 796.9 400.7 797.7 402.7 796.7 403.8 795.1 403.3 793.1 400.2 789.1 402.3 781.1 408.4 777.1 414.7 767.5 420.7 765.8 422.7 765.8 424.7 766.7 426.7 769.6 431 773.1 432.7 776.4 436.7 776.8 438.7 778.5 440.7 781.5 442.7 782.3 446.7 781.7 450.7 782.3 452.7 784 456.7 789.8 458.7 790.2 462.7 788.9 465.3 787.1 467.6 783.1 470.7 773 472.7 769.5 487 759.1 490.3 753.1 494.1 749.1 498.7 745.7 502.3 739 504.7 736.8 508.7 736.1 512.7 733.9 514.7 733.6 518.4 735 518.1 739 520.7 739.3 524.7 737.6 528.7 737.2 530.7 736.2 534.7 735.9 535.9 735 540.1 727 540.7 726.4 542.7 726 552.7 728.4 564.7 727.6 576.7 729.9 596.7 730.1 600.7 730.8 604.5 733 608.7 736.7 612.9 739 618.7 745.9 620.7 747.1 622.7 747.4 634.8 745.4 710.8 745.4 716.8 745.8 726.8 748 746.8 748.2 750.8 749.8 754.3 753.1 758.8 755.4 770.8 758.1 778.8 759 784.8 762.6 786.8 763 790.8 761.2 793.6 763.1 794.9 765.1 795.9 769.1 798.8 772.1 802.8 773.9 810.8 775.5 816.8 777.7 818.8 778 822.8 777.2 826.8 778.4 830 781.1 832.1 787.1 834.8 790.3 838.8 791.7 842.8 790.9 846 791.1 848.8 792.6 850.8 794.4 852.8 795.1 854.8 794.3 856.1 793.1 852.8 792.1 850.8 790.7 849.6 789.1 847.7 785.1 847.9 781.1 846.9 779.1 842.8 777.7 838 773.1 838.8 769.1 836.8 767.3 834.8 767.7 828.8 771.5 825.8 771.1 823.5 769.1 821.6 761.1 818.8 754.5 818 749.1 815.2 745.1 814.5 743.1 814.8 741 816.8 737.8 824.8 729.5 826.8 728.4 828.8 728.2 830.8 729.1 836.8 735.2 840.8 737.5 850.8 737.5 854.8 735.8 858.6 731 860.8 729.1 868.8 727.1 872.8 724.2 878.8 721.6 884.8 720.3 890.8 720.7 894.8 719.7 900.8 719.1 908.9 719.3 916.9 720.5 920.9 720.5 926.9 718 934.2 713 940.9 707.7ZM942.9 821.7 940.3 825.2 937.1 837.2 936.9 839.2 938.9 841.2 946.9 841 948.9 839.8 951 835.2 950.9 832.4 947 823.2 944.9 821.5ZM232.6 810.8 230.6 811.5 228.8 813.2 228.2 815.2 229.4 817.2 232.6 819.8 234.6 820.4 238.6 819.7 239 819.2 238.4 817.2 234.6 812.4ZM246.6 839.1 244.6 839.7 241.3 843.2 240.3 847.2 237.4 851.2 236 855.2 236 859.2 236.9 863.2 238.6 867.2 240 869.2 244.6 872.9 248.6 878 250.6 879.3 260.6 882.2 262.6 882 266.6 880.6 276.6 881.6 280.6 880.3 282.6 878.4 288.5 869.2 290.6 862.9 292.6 860.7 294.9 859.2 295.4 857.2 294.7 855.2 292.6 852.2 288.9 849.2 286.6 845.2 284.7 843.2 280.6 841.6 266.6 838.9 256.6 840.5ZM460.7 800.8 456.7 802.9 455.6 805.1 455.4 807.2 456.7 809.5 460.7 810.1 462.7 809.5 464.2 807.2 468.1 803.1 466.7 801.2 464.7 800.6ZM492.7 772.9 490.5 775.1 490.7 775.9 492.7 777 494.7 775.1 493.6 773.1ZM930.9 842.1 927.3 845.2 926.7 847.2 928.9 850.1 930.9 850.9 932.9 850.8 935.3 849.2 936.3 847.2 936.8 843.2 934.9 841.2ZM768.3 711 770.8 710.6 771.3 711 771.1 713 768.8 713.4 767.8 713ZM758.4 719 758.8 718 760.8 718.4 761.6 721 760.8 724 758.8 725.9 757.5 725 757.3 723ZM523.1 735 524.7 734.5 527.2 735 526.7 735.6 524.7 735.8ZM336.4 757.1 336.6 756.7 337.1 757.1ZM298.2 759.1 298.6 758.3 299.5 759.1 298.6 759.9ZM299.7 761.1 300.6 760 304 767.1 306.6 769.5 308.6 772.3 310.9 777.1 310.6 779.5 308.6 778.9 306.6 777.2 303.3 773.1 301.5 765.1 300.6 764.1ZM505.2 879.3 508.7 878.7 516.7 879 517.7 879.3 519.7 881.3 518.7 882.2 516.7 882.5 506.7 882.3 504.3 881.3ZM894.4 897.3 894.8 896.4 896.8 895.7 898.8 896.3 899.2 897.3 898.9 899.3 896.8 902.3 894.8 902.4ZM620.2 905.3 622.7 903.8 626.7 903.3 627.6 905.3 627.2 907.3 625.7 909.3 622.7 910.3 620.7 910.2 618.8 909.3 618.5 907.3ZM585.1 915.3 588.7 913.8 598.7 913.9 600.7 914.6 602.7 916.4 603.4 917.3 603.4 919.3 601.9 921.3 598.7 923.5 594.7 924 588.7 923.7 584.9 921.3 583.4 919.3 583.4 917.3Z"/>
<path fill="#c8c420" d="M935.7 719 942.9 717.7 945.6 719 946.9 721 946.6 723 944.9 725.2 938.9 729.9 935 735 932.4 737 928.9 738.6 922.9 739.9 898.8 742 893.2 743.1 884.8 748.3 874.6 751.1 872.3 753.1 871.8 755.1 872.6 757.1 874.8 758.2 876.8 758.4 976.9 758.7 980.8 761.1 982 763.1 982.6 767.1 982.4 773.1 981.7 775.1 980.1 777.1 973.8 781.1 972.4 783.1 972.3 785.1 974.9 788.3 979.6 791.1 981.3 793.1 981.7 795.1 980.7 797.1 976.9 799.5 954.9 800 940.9 803.2 937.9 805.1 937 807.2 936.8 815.2 932.9 827.7 930.9 830.4 922.9 838.2 920.9 839.8 916.9 841.2 898.8 841.1 896.8 840.4 886.4 831.2 880.8 828.5 874.8 827 872.8 825.5 868.3 813.2 868.3 807.2 869.5 805.1 872.9 803.1 876.8 802.5 882.8 802.5 886.8 803.1 888.8 804.2 894.8 809 896.8 809.9 906.9 809.9 908.9 808.9 910.1 807.2 911.6 799.1 912.6 797.1 912.9 795.1 910.4 793.1 902.4 791.1 898.8 788.6 896.8 788.2 884.8 788.1 874.8 785.2 870.8 786.3 866.8 788.4 864.8 790.5 862.8 790.8 858.8 789.3 854.8 789.3 852.8 788.7 850.6 785.1 850.5 779.1 848.8 776.9 844.8 775.1 842 773.1 841.4 771.1 842.8 767.1 840.9 765.1 834.3 763.1 833.4 751.1 832.8 750.2 828.8 749.7 826.8 748.7 824.2 745.1 823.6 743.1 824.7 741 826.8 739.4 828.8 739.2 830.8 740.4 833.2 743.1 834.8 748.2 838.8 748.2 842.8 749 845 751.1 845.4 763.1 845.8 765.1 847.5 767.1 850.8 768.6 862.8 770.1 865.7 769.1 867.2 767.1 867.5 765.1 867.1 763.1 864.8 761.6 858 759.1 856.8 757.5 855.6 753.1 853.3 749.1 852.9 745.1 853.6 743.1 854.8 741.9 862.9 737 864.2 733 865.7 731 872.8 725.5 874.8 724.4 880.8 722.9 888.8 722.8 898.8 721.4 908.9 721.7 920.9 724.4 924.9 723.3 930.9 720.3ZM870.8 769 869.4 771.1 870.8 772.5 876.8 774.2 879.9 773.1 881.7 771.1 880.8 769.9 878.8 769.1ZM542 731 544.7 730.6 554.7 731.6 562.7 731.2 566.7 731.9 569 733 570.3 735 570.1 743.1 568.7 745.3 566.7 746.9 564.7 747.8 554.7 748.2 542.7 750.6 518.7 751 514.3 753.1 509.7 757.1 506.7 758.2 498.7 758.2 493 755.1 494.7 752.7 501.1 749.1 502.3 747.1 504.1 741 505.6 739 512.7 737.5 513.9 739 512.6 743.1 514.7 745.6 516.7 744.5 518.7 742.1 522.7 740.7 528.7 739.6 530.7 738.6 536.7 737.5 539.6 733ZM633 751.1 638.8 750.7 712.8 750.8 716.8 752 724.8 755.5 736.8 758.2 746.8 758.5 758.8 761.1 768.8 765.3 780.8 768.2 785.8 771.1 790.6 777.1 792.8 778.4 796.8 779.1 812.8 778.7 821.7 781.1 822.2 783.1 820.8 786.3 818.8 788.2 814.8 789.4 804.8 789.9 802.4 791.1 797.8 795.1 792.8 797 726.8 797.2 714.8 799.6 700.8 800.1 688.8 802.5 670.8 802.5 634.8 802.5 618.7 799.8 532.7 799.8 528.7 798.8 526.7 797.3 522.7 792 520.7 790.5 516.7 789.5 508.7 789.3 504.7 788.2 502.1 783.1 501.8 777.1 502.6 773.1 504.7 770.5 507.9 769.1 530.7 768.4 544.1 765.1 547.3 763.1 550.7 760 554.7 758.5 620.7 758.2 622.7 757.4 628.8 752.9ZM304.4 771.1 304.6 770.3 306.6 771.9 307.1 773.1 306.6 774.4 304.6 772.3ZM366.8 771.1 368.7 769.8 370.7 769.4 372.7 770.1 374 771.1 375.1 773.1 374.8 775.1 372.7 777.5 370.7 778.3 368.7 778 367.2 777.1 365.7 775.1 365.5 773.1ZM446.8 789.1 448.7 787.2 450.7 787.7 452.7 789.4 453.7 791.1 455 795.1 453.1 799.1 451.4 809.2 452.7 811.2 457 815.2 458.7 818.2 460.7 819.8 462.7 820 466.7 819 468.1 817.2 466.5 813.2 466.7 809.1 468.5 807.2 477.5 801.1 482.7 796.8 484.7 796.8 486.5 799.1 485.3 809.2 482.4 815.2 482.1 817.2 482.4 819.2 484.7 820.3 486.7 819.9 487.3 819.2 488.2 813.2 490.7 809.6 492.7 809 493.7 809.2 494.4 815.2 495.4 817.2 498.7 819.8 502.7 820.5 506.7 820.3 509.7 819.2 512 817.2 516 811.2 518.7 809.8 522.7 810.7 530.7 813.9 536.7 814.7 550.7 820.1 554.7 820.4 562.7 818.8 566.7 820.4 568.7 820.5 620.7 820.4 624.7 818.8 630.8 811.8 632.8 810.7 636.8 810.2 678.8 810.4 682.8 812.5 686.3 817.2 688.5 819.2 692.8 820.5 710.8 820.5 720.8 818.5 726.8 817.9 826.8 818.1 844.8 826.2 851.4 831.2 852.8 833.2 855.1 839.2 856.8 841.3 860.8 843.7 862.8 845.6 863.6 849.2 863.7 857.2 862.8 859.9 860.8 861.5 840.8 862 836.8 863.6 835.2 865.2 834.2 867.2 833.8 875.3 832.8 878.6 830.3 881.3 826.8 882.5 626.7 882.6 608.7 880.3 603.1 881.3 594.7 884 586.7 885.7 576.7 890 566.7 892.1 564.7 892 562.7 890.9 561.5 889.3 561.5 887.3 564.3 879.3 564.3 877.3 560.9 867.2 561.7 861.2 561.3 859.2 558.1 855.2 549.8 847.2 548.7 842.9 544.7 837.3 542.7 835.2 540.7 835.6 539.9 837.2 539.1 843.2 537.9 845.2 536.7 846.2 534.7 846.8 530.7 846.9 527.7 845.2 524.7 837.8 520.7 835 518.7 834.8 514.7 836.3 512.7 838.1 510.7 839 504.7 838.6 500.7 840.9 495.9 847.2 490.9 851.2 482.7 852.2 478.7 854.4 476.7 856.3 475.6 859.2 475.5 863.2 475.8 865.2 478.7 872 478.9 875.3 477.6 883.3 476.7 884.4 474.7 884.9 470.7 884.9 458.7 882.6 428.7 882.5 420.7 880.7 414.7 880 402.7 880.2 390.7 882.6 326.6 882.6 322.6 883.6 316.6 888.4 312.6 890 290.6 890.4 278.6 892.8 268.6 893 256.6 894.1 252.6 893.6 246.6 891.7 242 889.3 240.1 887.3 240.6 885.2 242.6 883.5 244.6 882.8 254.6 882.6 260.6 883.3 266.6 881.7 278.6 883.7 282.6 882.5 284 881.3 285.2 879.3 286.2 875.3 289.9 869.2 292.4 863.2 295.3 861.2 297.1 859.2 297.5 857.2 295.6 851.2 296.6 849.2 298.6 846.7 305.3 843.2 307 841.2 307.3 839.2 306.3 833.2 304.5 827.2 305.4 819.2 307.1 817.2 314.6 812.7 318.6 811.9 319.6 813.2 319.6 815.2 320.9 817.2 324.6 820 326.6 820.4 434.7 820.5 440.7 820.1 444.7 818.6 445.6 817.2 445.7 815.2 445.2 813.2 442.2 809.2 439.1 803.1 440.7 802.6 442.7 803.4 444.7 803.6 445.4 803.1 444.9 799.1 445.3 797.1 446.6 795.1ZM324.6 838.6 318.2 845.2 317.2 847.2 317.6 851.2 316.6 854.2 316.5 857.2 317.3 859.2 318.6 860.6 320.6 861.4 322.6 861 324.9 859.2 326.3 857.2 327.4 849.2 329.6 843.2 329.7 841.2 328.6 838.5 326.6 837.3ZM334.4 791.1 336.6 789.7 338.6 789.5 368.7 789.6 372.7 791 374.7 793.1 375.5 795.1 375.9 799.1 374.7 799.8 350.6 799.8 346.6 800.3 344.6 801.4 340 807.2 336.6 809.5 332.6 810.1 324.6 810.3 320.6 811.5 320.2 811.2 322.4 807.2 328 801.1 332.6 792.9ZM499.2 791.1 500.7 789.9 502.7 789.5 504.7 790 505.6 793.1 505.2 795.1 502.7 796.9 497.7 795.1 497.8 793.1ZM240 801.1 242.6 800.3 244.6 800.4 246.6 801.3 248.5 803.1 249.1 805.1 248.3 807.2 244.6 809.7 240.6 809.9 238.6 807.3 238.2 805.1 238.6 802.5ZM265.2 801.1 266.6 800.6 268.6 800.9 271.4 803.1 272 805.1 271.2 807.2 268.6 809.1 266.6 809.4 264.6 808.6 262.6 806.1 262.3 805.1 262.9 803.1ZM375.9 801.1 376.7 799.8 394.7 799.8 400.7 800.8 406.7 799.8 414.7 799.9 418.7 801.5 420.2 803.1 420.8 805.1 420 807.2 418.7 808.4 414.7 810 382.7 810 380 809.2 377.5 807.2 376.4 805.1ZM963.9 811.2 968.9 810.2 1030.9 810.2 1034.9 810.7 1036.9 811.8 1040.9 815.9 1040.9 875.8 1038.9 877.8 1034.9 879.6 1020.9 880.2 1008.9 882.6 966.9 882.7 962.9 884.2 959.4 887.3 954.9 889.8 942.9 890.3 936.5 891.3 932.9 892.3 925.7 897.3 922.9 898.5 920.9 898.9 918.9 898.1 916.9 895.4 915.3 891.3 914.3 887.3 914.6 885.3 916.2 883.3 922.7 879.3 924.7 877.3 928.8 867.2 929 865.2 930.9 862.3 932.9 860.7 936.9 858.8 942.9 857.7 945.1 855.2 946.9 852.1 949.9 843.2 958 829.2 959 823.2 958.5 817.2 960.9 813.6ZM286 813.2 288.6 811.3 290.6 811.4 293.1 813.2 294.5 815.2 294.2 817.2 292.6 818.8 290.6 819.9 284.6 820.5 284.4 817.2ZM214.6 815.2 214.6 813.7 225.9 825.2 226.8 827.2 227 833.2 227 863.2 226.6 867.2 224.6 870.1 218.6 873.9 214.6 877.8ZM266.2 821.2 268.6 820.6 274.6 820.5 282.6 820.5 284.3 821.2 284.2 833.2 283.5 835.2 280.6 836.9 278.6 837.1 276.6 836.7 273.4 835.2 264.4 829.2 262.7 827.2 262.4 825.2 263.4 823.2ZM344 895.3 346.6 893.8 348.6 894.1 350.5 895.3 350.8 897.3 348.6 898.4 346.6 898.6 343.8 897.3Z"/>
<path fill="#f0cc28" d="M876.7 725 880.6 725 884.8 725.8 896.8 724.2 906.9 724.8 910.9 726 922 731 922.7 733 919.6 735 914.9 736.4 890.8 740 880.8 742.8 872.8 746.6 864.8 753.9 862.8 754.8 860.8 754.3 858.8 752.5 855 747.1 854.8 745.1 855.9 743.1 862.9 739 864.9 737 865.9 733 867.5 731 872.8 726.6ZM538.8 739 540.7 738.1 544.1 739 546 741 545.8 743.1 542.7 744.8 540.7 745.3 521.9 745.1 522.9 743.1 528.7 742 529.9 741 532.7 740.3 536.7 740ZM507.8 741 508.7 740.7 510 741 510.1 745.1 508.7 746.7 507.4 745.1 506.9 743.1ZM633.7 759.1 638.8 758.4 656.8 758.9 660.2 761.1 663.1 765.1 666.8 768 668.8 768.6 674.8 768.8 680.8 767.9 682.8 766.5 686.9 761.1 690.8 758.7 712.8 758.6 726.8 761.9 729.2 763.1 733.8 767.1 736.8 768.5 758.8 769 772.8 772.4 774.2 773.1 776 775.1 776.5 777.1 776.4 783.1 775.8 785.1 774.3 787.1 770.8 789.2 726.8 789.5 722.8 790.8 716.3 795.1 712.8 795.9 700.8 796.2 688.8 797.1 670.8 797.2 634.8 797 629.4 795.1 624.7 791.1 622.7 790.2 610.7 792 600.7 792.1 584.7 789.5 542.7 789.3 540.7 788.7 538.4 787.1 536.9 785.1 536.3 783.1 536.2 777.1 536.7 775.1 538.5 773.1 542.7 771.5 556.7 768.8 620.7 768.6 624.7 767.1 630.8 761ZM896.8 769.1 952.9 768.9 956.9 770.5 959 773.1 959.7 777.1 959.6 783.1 959 785.1 957.5 787.1 950.9 791.4 946.7 795.1 942.9 796.9 930.9 799.3 928.9 798.9 926.9 797.4 924.3 793.1 920.9 790.1 912.9 787.5 908.9 787 902.9 787.7 896.8 786.2 884.8 786 874.8 782.4 870.8 784.1 862.8 788.7 859.8 787.1 858 785.1 858 783.1 858.8 781.7 860.8 780.1 862.8 779.4 882.8 779.1 886.8 778.2 888.8 776.8 893.3 771.1ZM917.2 801.1 918.9 799.7 920.9 800 922.9 801.5 923.7 803.1 922.9 808.3 920.9 809.4 918.9 808.6 917.2 805.1ZM308.9 821.2 310.6 820.7 312.6 821 314.6 822.2 317.5 825.2 318.4 827.2 318.6 833.2 318 837.2 316.6 839.3 312.6 841.1 310.6 838.9 309.1 835.2 307.1 827.2 307.8 823.2ZM965.1 821.2 970.9 820.5 1032.9 820.8 1034.9 821.6 1038.8 825.2 1039.9 829.2 1039.7 835.2 1038.9 837.2 1037.3 839.2 1034.9 840.6 1030.9 841.2 1014.9 841.2 1010.9 841.7 1008.2 843.2 1003.3 849.2 1000.9 850.8 996.9 851.5 976.9 851.9 974.2 853.2 969.3 859.2 966.9 861 962.9 861.9 954.9 861.7 952.9 861.1 950.2 859.2 949.1 857.2 949.3 855.2 951.8 845.2 952.9 843.3 958.8 837.2 961.1 829.2 961.7 825.2 962.9 822.5ZM728.1 823.2 826.8 823.3 831.4 825.2 840.8 832.2 843.9 835.2 845.2 839.2 845.1 845.2 844.5 847.2 842.8 849.4 840.8 850.5 838.8 850.7 836.1 849.2 830.8 842.9 828.8 842.1 826.8 842.2 824.8 843.4 820.2 849.2 816.8 851.2 782.8 851.8 779.6 853.2 774.7 859.2 770.8 861.6 748.8 861.7 744.8 859.9 738.8 852.9 734.8 851.6 724.8 851.1 721.6 849.2 716.8 843.2 714.8 842 710.8 841.2 702.8 841 699.1 839.2 697.7 837.2 697.5 835.2 698.7 833.2 700.8 831.8 702.8 831.1 710.8 830.8 714.8 830.1 721 825.2 724.8 823.5ZM214.6 827.2 214.6 825.4 215.4 827.2 215.6 831.2 215.4 835.2 214.6 837.3ZM526.1 829.2 528.7 828.5 532.7 828.6 536.7 830.2 537.7 831.2 538.1 833.2 537.4 841.2 536.7 843.5 534.7 844.7 532.7 844.6 530.7 844.3 528.7 842.5 527 837.2 523.1 833.2 522.7 831.2ZM336.1 831.2 494.1 831.2 496.7 831.6 499.2 833.2 500.9 835.2 500.7 837.2 495.7 843.2 493.2 847.2 491 849.2 482.7 850.5 476.1 855.2 475.1 857.2 474.6 863.2 477.6 873.3 476.7 878.5 474.7 879.6 471.7 879.3 468 877.3 466.5 875.3 463.5 865.2 460.7 862.4 458.7 862 442.7 861.9 438.7 862.3 436.7 863.2 434.7 864.9 430.7 870.1 426.7 872 302.6 872.4 298.6 874 292.6 880.8 290.6 881 289.7 879.3 289 875.3 292.6 866.5 294.6 864 298 861.2 299.1 859.2 299.4 857.2 298.2 853.2 298.1 851.2 300.6 848.4 304.6 847 307.6 847.2 312.6 851.9 314.3 859.2 315.3 861.2 318.6 864 324.6 864.5 328.1 863.2 330.6 861.3 332.6 857.2 332.5 855.2 330.9 849.2 332.7 841.2 331.6 835.2 332.6 832.9ZM562.5 831.2 616.7 830.9 622.7 831.4 625.5 833.2 630.3 839.2 636.8 843.3 640.8 848.5 642.8 850.3 646.8 851.5 666.8 851.7 670.5 853.2 672.4 855.2 673.3 857.2 673.5 863.2 673.1 867.2 671.9 869.2 669.4 871.2 664.8 872.2 600.7 872.3 596.7 873.7 592.8 877.3 588.7 879.4 574.7 882.5 566.7 882.2 566.1 877.3 564.1 869.2 564.2 861.2 563.5 859.2 562.1 857.2 551.3 847.2 549.7 841.2 548 837.2 548 835.2 548.7 833.7 550.7 832.3 558.7 832.9ZM253.1 885.3 262.6 884.8 266.6 883.3 272.6 886.1 277.3 887.3 274.6 888.4 256.6 891.3 254.6 891.1 250.4 889.3 249.5 887.3ZM919.6 887.3 920.9 886.5 922.9 887 923 889.3 920.9 890.5 919.7 889.3Z"/>
<path fill="#fdb81c" d="M874 727 876.8 726.5 884.8 728.4 898.8 727.7 904.9 729 908.9 730.7 909.4 731 909.7 733 902.9 735.3 884.8 737.8 876.8 739.4 872.8 741.1 864.8 748.4 862.8 749.4 860.8 749 858.8 747.8 856.8 745.1 858.1 743.1 865.2 739 866.5 737 867.4 733 869.1 731ZM596.1 781.1 598.7 779.6 600.7 779.2 608.7 779.2 612.7 780.4 614.7 783.1 613.5 785.1 610.7 786.3 600.7 786.6 596.2 785.1 595 783.1ZM529.1 835.2 530.7 834.4 532.7 836.5 533.2 839.2 532.7 841.2 530.6 841.2ZM367.1 843.2 368.7 842.1 372.7 841.2 414.7 841.3 418.7 842.9 420.7 845.2 421.6 849.2 421.5 855.2 421.1 857.2 419.8 859.2 416.9 861.2 414.7 861.8 370.7 861.7 368.7 861 366.3 859.2 365.1 857.2 364.6 855.2 364.7 847.2 365.4 845.2ZM552.6 843.2 554.7 841.4 564.7 841.5 567.8 843.2 569.3 845.2 569.4 847.2 568.2 849.2 566.7 850.4 564.7 851.4 560.7 852.1 558.2 851.2 553.2 847.2 552.4 845.2ZM470.5 853.2 472.7 852.2 474.7 853.2 473.2 857.2 472.9 863.2 473.6 867.2 474.7 869 474.7 870.8 472.7 870.7 470.7 867.3 468.6 859.2 468.3 857.2 468.7 855.2Z"/>
<path fill="#ff9a10" d="M874 729 876.5 729 882.8 732.2 889.3 733 870.8 735.4 870 735 869.8 733 871.3 731Z"/><path d="M202.1 736.1L200.0 739.6L196.1 741.2L193.6 746.0L193.2 748.9L189.3 751.8L185.8 752.8L181.7 757.4L179.0 761.1L176.7 766.7L178.3 770.8L177.8 776.6L175.5 779.7L177.4 784.5L181.3 787.8L185.4 791.7L189.3 795.9L195.0 799.8L198.4 801.0L205.3 799.4L211.0 800.2L217.9 797.9L221.8 797.1L225.9 797.1L229.3 801.3L231.6 801.0L236.0 800.8L237.8 803.5L237.4 808.1L235.7 811.6L237.6 815.1L242.6 819.5L243.8 822.6L247.2 832.3L246.5 836.0L242.4 842.9L242.6 847.4L246.3 853.2L248.6 856.7L249.9 864.6L252.9 869.1L255.0 872.2L257.3 876.4L257.7 880.7L261.4 882.2L267.1 880.5L274.4 880.5L279.5 878.5L284.3 874.7L287.7 870.6L290.7 866.0L291.2 862.9L296.7 859.8L296.9 855.7L295.7 851.6L300.3 847.2L306.7 843.9L308.6 840.2L308.1 831.9L305.6 827.7L306.0 824.6L305.4 820.5L307.2 817.4L310.6 813.9L314.1 811.2L320.9 805.4L325.5 800.8L330.1 793.6L332.6 788.6L332.6 785.5L323.2 787.2L317.5 788.6L314.7 786.4L314.3 784.1L309.9 780.6L304.9 778.1L301.2 771.4L300.3 766.7L296.9 760.5L292.3 752.4L290.2 748.3L293.9 752.6L295.5 749.1L296.2 752.2L299.6 756.8L303.8 761.1L305.1 766.1L309.0 770.8L312.5 776.0L314.5 782.6L318.6 783.7L327.1 781.2L335.1 777.9L342.0 773.9L347.9 770.8L350.2 767.9L352.5 763.6L349.8 761.3L345.2 759.4L344.5 755.9L342.0 757.4L339.2 760.3L333.7 760.1L333.5 756.5L331.9 757.4L330.3 755.3L327.8 753.2L325.5 749.1L326.9 748.1L330.1 748.1L332.1 750.5L335.8 753.2L340.8 755.3L344.7 754.1L346.8 757.0L350.7 757.6L356.4 758.2L363.3 758.0L367.9 757.6L369.7 759.2L372.4 761.5L373.6 764.0L376.6 767.1L380.5 766.7L382.1 765.4L382.3 770.4L383.7 777.0L386.2 783.2L389.2 787.0L390.8 791.5L393.1 793.4L394.7 791.7L396.9 788.8L398.5 788.8L399.5 782.6L399.0 778.5L404.0 775.8L409.8 770.8L413.7 768.1L414.8 765.7L418.2 765.2L422.4 764.6L425.8 763.8L426.9 767.3L431.5 771.2L431.7 776.6L434.0 777.5L438.2 775.4L439.3 779.1L441.1 784.3L441.1 788.4L440.7 793.2L445.3 797.3L447.5 804.2L452.6 807.5L454.2 807.3L452.4 801.9L449.8 797.3L446.6 795.0L444.6 790.9L443.0 788.4L444.3 784.9L444.8 782.4L446.9 782.6L450.3 785.1L451.7 787.4L455.6 788.4L455.6 792.1L459.5 789.9L460.6 788.6L465.6 785.9L465.9 782.2L464.7 778.5L460.6 775.0L457.6 770.8L459.9 767.3L462.9 765.7L466.8 765.7L468.2 768.1L468.8 766.1L475.5 764.0L482.4 762.5L487.4 759.0L489.7 756.3L492.7 751.8L494.7 748.5L494.7 746.0L492.0 742.9L490.4 739.2L488.8 737.7L491.5 735.2L496.1 733.6L492.7 732.1L488.1 733.0L485.8 730.9L485.3 729.2L489.2 727.6L493.3 725.5L495.2 726.5L493.6 729.4L494.3 729.6L497.9 728.0L500.4 727.4L502.3 728.4L502.5 731.5L501.4 731.7L504.6 733.2L505.2 739.0L507.5 738.3L511.4 737.1L511.9 733.6L509.6 730.3L507.5 728.0L512.6 725.7L512.6 724.3L514.6 722.4L518.5 720.5L525.9 718.0L532.0 713.9L536.6 709.8L537.5 704.6L539.4 700.0L535.7 698.0L529.7 698.6L525.2 696.7L530.9 693.6L537.3 690.5L541.9 687.6L548.8 687.2L556.8 687.0L563.6 688.0L570.5 687.4L575.1 682.9L582.6 682.0L589.5 680.8L590.0 683.9L582.0 684.9L574.6 690.5L571.9 694.2L572.1 700.5L574.4 704.6L578.1 700.7L582.0 697.1L586.8 694.0L589.3 690.5L586.5 689.7L590.0 686.2L596.4 686.4L605.5 686.0L610.6 683.9L615.2 682.2L621.6 680.8L625.9 681.2L625.5 676.7L622.0 676.2L624.3 676.7L630.0 674.6L634.6 674.6L641.5 677.1L644.9 676.7L651.3 673.5L646.1 671.5L639.2 670.4L631.2 667.8L624.3 666.7L616.3 665.7L607.1 667.1L606.0 665.3L599.1 666.1L586.5 666.1L582.0 664.2L570.5 663.2L563.6 663.4L559.1 662.0L547.6 660.1L536.2 659.7L533.9 662.2L525.9 662.0L515.6 663.6L512.1 662.2L509.8 660.1L504.1 658.0L497.2 659.1L488.1 658.9L475.5 657.8L476.2 654.9L467.5 651.8L460.6 650.8L454.4 649.3L444.6 651.8L433.1 652.8L421.7 653.7L414.8 654.9L412.5 657.0L401.1 658.0L399.9 660.1L393.1 660.5L387.3 659.5L381.6 659.3L373.6 660.1L368.8 665.3L368.3 667.3L372.4 669.0L363.3 666.7L354.1 665.9L348.4 667.8L339.2 668.8L327.8 669.6L322.1 669.4L316.8 668.4L315.2 672.9L307.2 672.9L308.3 676.7L301.5 678.1L295.7 676.9L294.6 673.5L291.2 672.1L302.6 673.3L309.5 672.1L308.3 669.8L299.2 667.3L291.2 666.5L284.3 665.7L280.9 663.2L274.4 663.0L266.0 664.6L258.0 666.3L249.9 669.4L245.4 673.5L240.8 676.7L235.1 679.3L228.2 681.8L227.0 684.9L228.2 688.0L231.6 690.1L234.6 689.7L239.9 687.4L241.5 688.2L242.6 690.9L244.7 694.2L248.3 695.3L253.2 693.2L254.1 689.1L258.6 686.4L255.2 682.9L259.1 679.1L264.1 676.7L266.7 674.2L272.8 675.0L271.7 676.7L264.8 679.8L264.6 683.9L268.0 686.2L275.1 685.1L283.1 686.0L279.7 687.0L271.7 687.2L269.2 689.1L271.2 690.5L266.0 690.9L263.7 693.2L263.7 696.3L260.2 697.6L258.0 696.9L248.1 698.6L240.8 698.4L240.3 697.3L238.3 695.3L239.6 691.1L234.4 692.2L234.4 695.3L235.5 698.4L231.6 699.4L226.4 700.5L223.6 703.8L219.3 704.8L216.1 707.3L212.6 707.3L211.9 709.4L204.8 709.8L209.2 711.8L212.9 714.9L212.2 719.9L207.6 720.1L197.3 719.7L194.3 721.2L195.5 724.9L193.8 730.1L195.2 733.6L199.6 733.2L201.9 735.2L203.2 735.4L205.5 734.2L210.6 734.0L214.2 731.7L215.6 730.1L214.9 728.4L217.4 725.3L222.9 723.4L222.7 720.9L225.9 720.3L230.5 720.9L232.8 719.5L235.7 718.3L239.2 719.5L241.0 722.4L244.5 724.5L247.7 725.7L251.5 727.4L252.2 730.5L251.5 731.5L253.6 729.8L254.8 728.4L253.6 727.4L254.5 726.3L257.7 727.4L256.8 725.9L252.2 723.6L249.3 722.8L246.7 719.9L244.0 718.5L243.8 716.2L247.0 715.8L247.7 717.0L249.9 718.0L252.2 720.1L256.8 722.0L260.0 723.6L260.0 726.7L261.9 728.2L263.7 730.9L265.3 734.0L267.8 734.6L268.5 732.5L270.6 732.1L269.4 730.5L267.8 728.4L268.0 726.5L270.1 727.4L271.5 725.5L275.1 725.5L275.6 727.4L275.6 728.4L277.0 730.5L278.1 733.6L280.2 734.2L283.6 735.2L285.9 733.8L290.0 735.4L293.5 735.0L297.1 734.4L298.5 734.2L297.8 736.7L297.8 738.7L296.0 741.9L295.5 743.9L294.1 745.4L289.6 745.6L286.6 745.0L282.0 746.2L272.8 744.7L268.3 742.7L261.6 742.9L261.4 746.0L259.1 747.4L249.9 743.1L241.9 741.4L240.3 739.8L239.0 737.7L240.8 733.8L238.5 733.0L233.9 733.6L222.5 733.8L215.6 736.1L211.0 737.5ZM1026.4 736.1L1024.3 739.6L1020.4 741.2L1017.9 746.0L1017.5 748.9L1013.6 751.8L1010.1 752.8L1006.0 757.4L1003.3 761.1L1001.0 766.7L1002.6 770.8L1002.1 776.6L999.8 779.7L1001.7 784.5L1005.6 787.8L1009.7 791.7L1013.6 795.9L1019.3 799.8L1022.7 801.0L1029.6 799.4L1035.3 800.2L1042.2 797.9L1046.1 797.1L1050.2 797.1L1053.6 801.3L1055.9 801.0L1060.3 800.8L1062.1 803.5L1061.7 808.1L1060.0 811.6L1061.9 815.1L1066.9 819.5L1068.1 822.6L1071.5 832.3L1070.8 836.0L1066.7 842.9L1066.9 847.4L1070.6 853.2L1072.9 856.7L1074.2 864.6L1077.2 869.1L1079.3 872.2L1081.6 876.4L1082.0 880.7L1085.7 882.2L1091.4 880.5L1098.7 880.5L1103.8 878.5L1108.6 874.7L1112.0 870.6L1115.0 866.0L1115.5 862.9L1121.0 859.8L1121.2 855.7L1120.0 851.6L1124.6 847.2L1131.0 843.9L1132.9 840.2L1132.4 831.9L1129.9 827.7L1130.3 824.6L1129.7 820.5L1131.5 817.4L1134.9 813.9L1138.4 811.2L1145.2 805.4L1149.8 800.8L1154.4 793.6L1156.9 788.6L1156.9 785.5L1147.5 787.2L1141.8 788.6L1139.0 786.4L1138.6 784.1L1134.2 780.6L1129.2 778.1L1125.5 771.4L1124.6 766.7L1121.2 760.5L1116.6 752.4L1114.5 748.3L1118.2 752.6L1119.8 749.1L1120.5 752.2L1123.9 756.8L1128.1 761.1L1129.4 766.1L1133.3 770.8L1136.8 776.0L1138.8 782.6L1142.9 783.7L1151.4 781.2L1159.4 777.9L1166.3 773.9L1172.2 770.8L1174.5 767.9L1176.8 763.6L1174.1 761.3L1169.5 759.4L1168.8 755.9L1166.3 757.4L1163.5 760.3L1158.0 760.1L1157.8 756.5L1156.2 757.4L1154.6 755.3L1152.1 753.2L1149.8 749.1L1151.2 748.1L1154.4 748.1L1156.4 750.5L1160.1 753.2L1165.1 755.3L1169.0 754.1L1171.1 757.0L1175.0 757.6L1180.7 758.2L1187.6 758.0L1192.2 757.6L1194.0 759.2L1196.7 761.5L1197.9 764.0L1200.9 767.1L1204.8 766.7L1206.4 765.4L1206.6 770.4L1208.0 777.0L1210.5 783.2L1213.5 787.0L1215.1 791.5L1217.4 793.4L1219.0 791.7L1221.2 788.8L1222.8 788.8L1223.8 782.6L1223.3 778.5L1228.3 775.8L1234.1 770.8L1238.0 768.1L1239.1 765.7L1242.5 765.2L1246.7 764.6L1250.1 763.8L1251.2 767.3L1255.8 771.2L1256.0 776.6L1258.3 777.5L1262.5 775.4L1263.6 779.1L1265.4 784.3L1265.4 788.4L1265.0 793.2L1269.6 797.3L1271.8 804.2L1276.9 807.5L1278.5 807.3L1276.7 801.9L1274.1 797.3L1270.9 795.0L1268.9 790.9L1267.3 788.4L1268.6 784.9L1269.1 782.4L1271.2 782.6L1274.6 785.1L1276.0 787.4L1279.9 788.4L1279.9 792.1L1283.8 789.9L1284.9 788.6L1289.9 785.9L1290.2 782.2L1289.0 778.5L1284.9 775.0L1281.9 770.8L1284.2 767.3L1287.2 765.7L1291.1 765.7L1292.5 768.1L1293.1 766.1L1299.8 764.0L1306.7 762.5L1311.7 759.0L1314.0 756.3L1317.0 751.8L1319.0 748.5L1319.0 746.0L1316.3 742.9L1314.7 739.2L1313.1 737.7L1315.8 735.2L1320.4 733.6L1317.0 732.1L1312.4 733.0L1310.1 730.9L1309.6 729.2L1313.5 727.6L1317.6 725.5L1319.5 726.5L1317.9 729.4L1318.6 729.6L1322.2 728.0L1324.7 727.4L1326.6 728.4L1326.8 731.5L1325.7 731.7L1328.9 733.2L1329.5 739.0L1331.8 738.3L1335.7 737.1L1336.2 733.6L1333.9 730.3L1331.8 728.0L1336.9 725.7L1336.9 724.3L1338.9 722.4L1342.8 720.5L1350.2 718.0L1356.3 713.9L1360.9 709.8L1361.8 704.6L1363.7 700.0L1360.0 698.0L1354.0 698.6L1349.5 696.7L1355.2 693.6L1361.6 690.5L1366.2 687.6L1373.1 687.2L1381.1 687.0L1387.9 688.0L1394.8 687.4L1399.4 682.9L1406.9 682.0L1413.8 680.8L1414.3 683.9L1406.3 684.9L1398.9 690.5L1396.2 694.2L1396.4 700.5L1398.7 704.6L1402.4 700.7L1406.3 697.1L1411.1 694.0L1413.6 690.5L1410.8 689.7L1414.3 686.2L1420.7 686.4L1429.8 686.0L1434.9 683.9L1439.5 682.2L1445.9 680.8L1450.2 681.2L1449.8 676.7L1446.3 676.2L1448.6 676.7L1454.3 674.6L1458.9 674.6L1465.8 677.1L1469.2 676.7L1475.6 673.5L1470.4 671.5L1463.5 670.4L1455.5 667.8L1448.6 666.7L1440.6 665.7L1431.4 667.1L1430.3 665.3L1423.4 666.1L1410.8 666.1L1406.3 664.2L1394.8 663.2L1387.9 663.4L1383.4 662.0L1371.9 660.1L1360.5 659.7L1358.2 662.2L1350.2 662.0L1339.9 663.6L1336.4 662.2L1334.1 660.1L1328.4 658.0L1321.5 659.1L1312.4 658.9L1299.8 657.8L1300.5 654.9L1291.8 651.8L1284.9 650.8L1278.7 649.3L1268.9 651.8L1257.4 652.8L1246.0 653.7L1239.1 654.9L1236.8 657.0L1225.4 658.0L1224.2 660.1L1217.4 660.5L1211.6 659.5L1205.9 659.3L1197.9 660.1L1193.1 665.3L1192.6 667.3L1196.7 669.0L1187.6 666.7L1178.4 665.9L1172.7 667.8L1163.5 668.8L1152.1 669.6L1146.4 669.4L1141.1 668.4L1139.5 672.9L1131.5 672.9L1132.6 676.7L1125.8 678.1L1120.0 676.9L1118.9 673.5L1115.5 672.1L1126.9 673.3L1133.8 672.1L1132.6 669.8L1123.5 667.3L1115.5 666.5L1108.6 665.7L1105.2 663.2L1098.7 663.0L1090.3 664.6L1082.3 666.3L1074.2 669.4L1069.7 673.5L1065.1 676.7L1059.4 679.3L1052.5 681.8L1051.3 684.9L1052.5 688.0L1055.9 690.1L1058.9 689.7L1064.2 687.4L1065.8 688.2L1066.9 690.9L1069.0 694.2L1072.6 695.3L1077.5 693.2L1078.4 689.1L1082.9 686.4L1079.5 682.9L1083.4 679.1L1088.4 676.7L1091.0 674.2L1097.1 675.0L1096.0 676.7L1089.1 679.8L1088.9 683.9L1092.3 686.2L1099.4 685.1L1107.4 686.0L1104.0 687.0L1096.0 687.2L1093.5 689.1L1095.5 690.5L1090.3 690.9L1088.0 693.2L1088.0 696.3L1084.5 697.6L1082.3 696.9L1072.4 698.6L1065.1 698.4L1064.6 697.3L1062.6 695.3L1063.9 691.1L1058.7 692.2L1058.7 695.3L1059.8 698.4L1055.9 699.4L1050.7 700.5L1047.9 703.8L1043.6 704.8L1040.4 707.3L1036.9 707.3L1036.2 709.4L1029.1 709.8L1033.5 711.8L1037.2 714.9L1036.5 719.9L1031.9 720.1L1021.6 719.7L1018.6 721.2L1019.8 724.9L1018.1 730.1L1019.5 733.6L1023.9 733.2L1026.2 735.2L1027.5 735.4L1029.8 734.2L1034.9 734.0L1038.5 731.7L1039.9 730.1L1039.2 728.4L1041.7 725.3L1047.2 723.4L1047.0 720.9L1050.2 720.3L1054.8 720.9L1057.1 719.5L1060.0 718.3L1063.5 719.5L1065.3 722.4L1068.8 724.5L1072.0 725.7L1075.8 727.4L1076.5 730.5L1075.8 731.5L1077.9 729.8L1079.1 728.4L1077.9 727.4L1078.8 726.3L1082.0 727.4L1081.1 725.9L1076.5 723.6L1073.6 722.8L1071.0 719.9L1068.3 718.5L1068.1 716.2L1071.3 715.8L1072.0 717.0L1074.2 718.0L1076.5 720.1L1081.1 722.0L1084.3 723.6L1084.3 726.7L1086.2 728.2L1088.0 730.9L1089.6 734.0L1092.1 734.6L1092.8 732.5L1094.9 732.1L1093.7 730.5L1092.1 728.4L1092.3 726.5L1094.4 727.4L1095.8 725.5L1099.4 725.5L1099.9 727.4L1099.9 728.4L1101.3 730.5L1102.4 733.6L1104.5 734.2L1107.9 735.2L1110.2 733.8L1114.3 735.4L1117.8 735.0L1121.4 734.4L1122.8 734.2L1122.1 736.7L1122.1 738.7L1120.3 741.9L1119.8 743.9L1118.4 745.4L1113.9 745.6L1110.9 745.0L1106.3 746.2L1097.1 744.7L1092.6 742.7L1085.9 742.9L1085.7 746.0L1083.4 747.4L1074.2 743.1L1066.2 741.4L1064.6 739.8L1063.3 737.7L1065.1 733.8L1062.8 733.0L1058.2 733.6L1046.8 733.8L1039.9 736.1L1035.3 737.5ZM282.0 724.9L287.3 725.1L291.8 723.2L295.7 723.2L299.2 724.7L303.8 725.5L310.6 724.3L310.6 721.8L306.5 719.9L302.6 718.0L300.3 716.6L303.1 714.5L305.6 712.5L301.5 712.7L296.2 714.3L295.7 715.8L299.2 716.4L296.4 717.0L292.5 718.3L290.0 716.2L292.3 714.9L288.4 713.7L285.9 713.9L283.6 716.4L281.1 719.1L279.7 721.6L279.0 722.4L279.7 723.4ZM323.2 716.0L328.9 713.9L332.8 713.3L337.0 713.9L337.0 716.4L333.1 717.0L330.5 718.0L333.1 720.7L335.8 722.0L336.3 724.9L339.2 724.7L337.0 727.4L338.8 729.6L339.2 733.0L334.7 734.0L330.8 733.2L327.8 731.5L327.8 728.8L328.9 726.5L326.7 723.6L324.4 721.2L323.2 719.1ZM203.0 706.5L207.6 706.0L213.3 705.0L218.6 704.2L219.5 701.1L216.3 700.5L215.1 697.3L211.9 695.3L211.0 694.2L209.2 693.4L211.0 691.1L207.6 690.7L208.3 688.9L204.2 688.9L202.3 691.1L203.0 694.2L204.6 696.3L208.0 696.5L208.3 699.6L205.3 699.8L206.0 701.9L203.7 702.9L208.0 703.8L205.8 704.6ZM1027.3 706.5L1031.9 706.0L1037.6 705.0L1042.9 704.2L1043.8 701.1L1040.6 700.5L1039.4 697.3L1036.2 695.3L1035.3 694.2L1033.5 693.4L1035.3 691.1L1031.9 690.7L1032.6 688.9L1028.5 688.9L1026.6 691.1L1027.3 694.2L1028.9 696.3L1032.3 696.5L1032.6 699.6L1029.6 699.8L1030.3 701.9L1028.0 702.9L1032.3 703.8L1030.1 704.6ZM1025.7 702.1L1026.2 699.4L1026.6 697.1L1023.2 695.7L1020.4 697.3L1017.0 698.0L1018.1 700.0L1016.3 702.5L1018.1 703.6L1021.6 702.9ZM988.4 677.7L984.9 674.6L988.4 672.7L994.1 674.0L998.7 673.1L1003.3 672.5L1006.7 674.6L1008.5 676.0L1004.4 677.3L997.1 678.9L993.0 678.5ZM239.6 645.6L247.7 644.6L256.8 644.6L266.0 643.9L277.4 644.6L272.8 646.0L263.7 647.1L264.8 648.7L258.0 650.2L253.4 651.4L247.7 649.7L241.9 647.1ZM333.5 662.2L337.0 658.4L342.7 654.9L353.0 652.4L366.7 651.2L372.4 651.8L359.9 654.3L349.5 657.0L346.1 660.1L347.3 663.8L339.2 663.6ZM433.1 646.6L440.0 642.5L453.7 645.6L444.6 648.1ZM323.2 643.9L334.7 642.9L353.0 642.5L364.4 642.9L348.4 644.6L330.1 644.6ZM529.3 652.8L536.2 653.9L547.6 653.9L559.1 654.9L554.5 655.3L540.7 657.0L531.6 655.5ZM624.3 662.8L630.0 662.2L633.5 663.2L627.8 663.6ZM540.7 697.8L543.0 700.5L543.7 704.6L546.5 708.7L543.0 713.9L540.7 714.9L540.7 710.8L540.7 704.6L540.1 699.8ZM536.2 724.3L539.1 720.7L540.3 716.2L544.2 718.5L548.3 718.7L548.8 720.7L544.2 723.2L538.5 722.2ZM515.6 739.2L519.0 736.9L524.7 736.3L528.8 733.6L530.0 734.0L533.2 732.3L535.5 729.4L536.2 726.1L539.1 724.7L539.6 727.4L540.7 728.4L538.5 731.5L538.0 735.6L536.2 737.7L533.4 738.3L529.3 738.5L527.0 740.8L525.2 739.2L521.3 739.2L515.6 739.8ZM512.6 741.9L513.3 745.4L515.6 745.6L517.8 741.9L515.6 740.0ZM518.5 740.8L520.1 742.3L523.1 740.8L523.6 739.4L520.1 739.8ZM492.7 758.0L494.9 758.4L492.7 764.6L490.8 762.5ZM464.5 770.4L468.6 768.8L469.8 769.8L466.3 772.5ZM398.3 790.1L401.5 792.6L402.9 795.7L399.9 797.7L398.3 794.6ZM491.5 771.9L495.4 772.1L494.9 776.0L493.8 779.1L494.9 781.2L499.5 781.6L499.5 784.1L496.1 782.2L492.7 781.8L491.5 780.1L490.4 777.0ZM494.9 795.7L498.4 792.6L503.0 790.1L505.2 793.6L504.1 797.1L502.5 797.7L499.5 796.1L498.4 794.6ZM500.7 784.3L503.0 787.4L501.8 789.5L500.7 787.8ZM484.2 792.6L489.2 787.8L488.8 786.8L484.2 791.7ZM494.9 785.7L497.2 787.4L497.9 791.1L496.1 790.3L494.9 788.4ZM465.2 807.1L466.6 806.0L469.8 806.6L470.4 804.8L474.3 803.5L477.8 800.8L480.1 798.8L483.0 795.7L485.1 797.3L488.1 799.4L485.8 801.3L485.3 803.9L485.8 808.1L484.6 810.2L482.4 813.3L481.2 817.4L478.2 818.4L474.3 816.8L471.4 816.4L467.9 816.0L465.6 811.2ZM433.8 798.6L438.8 799.4L441.1 802.3L445.3 805.0L448.0 806.4L452.1 809.1L453.7 812.2L457.9 816.4L457.9 822.2L454.9 822.2L449.8 818.4L446.9 815.3L444.6 812.2L441.6 807.1L437.7 803.5ZM456.7 824.2L459.5 822.6L464.0 823.8L469.3 823.4L473.7 824.4L477.8 826.3L477.5 828.2L469.8 827.3L462.9 826.3ZM481.2 827.5L488.1 827.3L496.8 827.3L496.8 828.4L488.1 828.6L481.2 828.6ZM498.4 831.5L501.8 828.2L506.4 827.5L501.8 830.4ZM489.2 821.5L489.2 817.4L487.6 816.0L489.9 809.7L492.2 807.5L497.2 808.1L501.8 806.8L500.7 809.3L492.7 809.1L490.8 812.0L493.8 812.2L497.9 811.8L493.8 813.9L495.4 817.0L497.2 819.5L494.9 820.5L493.8 818.4L492.7 815.7L491.1 816.2L491.3 821.5ZM507.5 808.1L508.7 805.6L510.3 807.1L508.7 809.1L509.4 811.8L508.0 810.8ZM515.6 811.8L519.0 811.0L522.4 811.8L522.9 815.3L525.9 817.2L531.1 813.3L538.5 815.5L546.5 818.0L549.4 821.1L553.3 822.6L554.0 824.0L552.2 824.2L554.5 827.1L560.9 831.5L556.8 831.5L552.2 829.8L549.9 826.7L546.5 825.9L543.0 827.3L543.7 828.8L538.5 829.0L533.9 826.9L530.9 827.5L533.2 825.3L531.6 821.5L525.9 819.3L521.3 818.0L519.7 818.4L517.8 816.2L521.3 815.1L518.5 814.7L515.6 813.1ZM555.2 822.0L559.1 821.5L563.6 818.8L564.3 820.5L561.3 822.6L557.9 823.2ZM560.7 815.7L564.8 818.0L565.9 819.9L564.8 818.4ZM570.5 822.6L572.8 824.2L571.7 824.4ZM580.8 827.3L583.8 830.2L582.0 829.8ZM591.1 851.8L594.5 853.6L598.0 856.3L596.8 856.5L592.3 853.6ZM621.6 846.4L624.5 846.4L624.3 847.8L621.6 847.8ZM682.7 768.3L685.0 769.4L683.4 771.0L682.7 769.4ZM677.7 765.4L678.8 765.7L678.6 766.3ZM476.9 855.3L480.1 853.6L483.5 852.8L488.1 851.6L492.7 850.7L495.6 847.4L495.6 845.3L498.6 843.7L501.8 840.2L505.9 838.7L509.1 841.2L512.3 841.0L514.0 837.1L515.1 835.8L519.0 835.2L519.2 833.8L524.7 835.4L528.8 835.4L528.1 838.1L526.5 840.8L529.3 842.9L534.3 846.0L538.0 846.4L539.6 842.2L539.8 837.1L541.2 832.5L544.2 836.6L544.4 839.8L548.3 841.2L548.8 844.3L550.4 849.1L555.6 852.0L557.9 856.3L561.3 859.2L565.5 862.5L566.4 866.7L567.3 869.8L565.7 875.4L562.5 879.1L559.7 884.7L558.8 887.8L554.5 888.6L550.6 890.9L547.6 889.4L544.2 890.5L538.5 889.2L535.7 886.5L534.6 884.0L532.3 883.8L532.7 881.6L531.4 878.5L530.4 880.5L530.9 882.8L528.8 880.5L526.5 882.2L525.2 880.9L522.9 877.8L517.8 876.4L511.0 875.6L504.1 877.0L499.5 878.9L498.4 880.3L490.4 880.3L485.8 882.6L481.2 882.4L478.9 881.2L480.5 876.4L479.4 872.2L477.8 868.5L475.7 864.4L475.5 860.9L475.9 856.7ZM546.9 894.6L551.0 895.4L554.9 894.8L555.2 897.5L552.9 900.0L549.9 900.2L548.3 897.7ZM611.0 881.6L614.7 883.6L617.4 886.3L619.0 888.0L623.9 888.2L622.9 891.3L620.9 891.7L619.0 895.0L616.8 896.3L615.6 895.6L616.3 892.9L613.6 891.5L615.6 888.8L615.2 885.7L611.7 882.6ZM611.0 894.2L614.7 896.5L611.3 900.0L607.8 901.8L606.7 905.2L603.2 906.6L599.6 905.8L596.8 905.0L601.0 901.2L606.0 899.2L608.3 896.7ZM328.5 835.0L330.8 842.2L328.9 846.4L325.5 855.7L323.2 861.9L319.1 862.9L315.9 858.8L315.2 854.7L317.5 850.5L316.3 845.3L320.9 842.7L325.5 838.1ZM215.6 956.9L247.7 955.5L279.7 955.5L293.5 952.1L306.0 953.2L320.9 949.9L338.3 946.6L351.4 948.8L367.6 950.5L372.4 958.6L383.7 955.5L396.5 950.5L416.0 948.0L441.8 948.8L451.4 946.4L474.3 948.0L506.4 948.0L525.9 946.6L538.5 948.8L558.4 952.1L580.8 955.5L606.7 958.6L590.7 966.6L582.4 976.4L600.3 973.7L627.8 985.5L647.2 984.4L675.8 986.1L711.8 986.1L691.9 982.8L681.1 978.0L703.8 975.7L676.3 970.6L692.3 968.3L724.8 964.2L757.1 962.8L795.8 963.5L808.6 966.0L804.1 961.9L828.1 960.8L854.0 962.8L870.2 962.8L886.5 958.6L868.6 957.6L876.6 953.8L886.5 948.8L896.1 943.5L907.3 941.4L896.1 944.7L891.1 950.5L899.3 960.2L896.1 965.0L873.4 969.3L862.2 972.4L868.6 975.7L905.7 982.2L938.0 979.1L957.5 975.7L973.5 975.7L959.1 972.4L983.3 968.3L1002.8 965.0L1015.6 958.6L1039.9 956.9M681.6 662.6L696.4 664.2L717.0 665.9L730.8 666.7L744.5 665.3L746.8 664.2L762.8 665.7L776.6 667.8L776.6 669.8L792.6 669.4L806.3 669.8L815.5 668.4L820.1 670.9L821.2 667.3L824.7 661.5L829.2 664.2L833.8 667.8L838.4 669.4L844.1 666.3L852.1 665.7L853.3 668.4L848.7 672.9L843.0 673.5L840.7 676.7L832.7 678.7L827.0 682.9L823.1 688.0L828.1 692.2L838.4 693.6L845.3 695.7L851.5 696.3L852.1 700.5L855.6 704.0L859.0 703.6L859.0 698.4L863.6 694.2L864.7 690.1L861.3 686.0L862.4 681.0L870.5 681.2L878.5 683.9L880.8 688.0L885.3 689.5L889.9 687.0L892.2 685.1L897.9 691.1L902.5 695.7L908.2 698.4L911.7 702.5L912.4 703.6L906.0 704.2L902.5 706.0L893.4 706.0L886.5 707.7L880.8 710.8L883.1 709.6L888.8 708.3L892.7 709.1L891.1 711.8L892.2 714.5L894.5 715.1L899.1 715.8L901.8 712.9L903.0 714.9L900.2 716.4L894.5 717.8L889.5 720.1L888.3 718.5L888.8 716.6L886.5 717.6L881.9 719.1L878.5 720.5L877.8 722.2L879.6 723.6L876.2 724.5L870.9 725.7L870.0 728.4L867.0 731.5L865.9 733.6L866.3 736.7L862.4 739.4L857.9 741.9L854.4 744.3L853.5 748.1L856.0 753.2L856.3 757.4L854.4 758.0L852.1 754.9L850.3 752.2L848.0 748.1L844.1 748.5L839.5 747.4L835.4 747.6L835.4 749.9L831.5 749.5L825.1 748.7L822.4 749.7L817.3 752.8L816.7 757.4L816.0 763.6L817.3 767.7L820.1 770.8L823.5 772.5L829.2 771.7L832.2 769.2L833.1 766.7L838.4 765.4L841.2 766.1L839.5 769.8L838.4 772.9L837.7 776.0L836.6 777.5L843.0 777.2L847.6 777.7L849.2 779.1L848.7 784.3L848.5 787.6L851.0 790.9L854.4 791.9L857.4 790.5L861.3 790.9L862.9 792.6L863.6 793.2L867.0 788.2L868.6 787.2L873.9 785.3L876.2 784.5L876.2 787.4L879.2 786.1L883.5 788.0L888.8 788.2L893.4 788.6L897.9 788.0L900.2 790.5L900.7 792.6L904.8 794.0L908.2 797.3L914.0 797.9L919.7 799.4L922.4 801.5L924.3 806.4L925.4 810.2L928.8 811.2L931.1 811.6L936.9 813.3L938.5 815.7L943.7 816.0L948.3 816.2L951.7 818.0L954.7 820.3L959.1 821.1L960.0 825.7L959.3 829.2L955.2 832.9L951.7 837.1L950.6 842.2L950.1 847.0L948.3 851.6L946.0 855.7L943.7 857.6L940.3 857.8L935.7 859.4L931.1 861.5L928.6 864.0L928.4 868.7L924.7 873.3L920.4 877.0L917.4 880.5L914.0 882.4L910.5 882.2L906.4 880.5L908.9 883.6L909.8 885.7L907.8 889.0L902.5 890.7L897.5 890.9L897.3 894.2L891.1 895.0L891.1 898.1L894.0 897.7L891.1 900.2L889.9 903.3L885.3 905.4L888.8 907.9L889.2 909.5L884.9 912.6L881.9 915.3L883.1 918.4L883.5 919.6L884.7 921.9L890.6 923.4L887.6 924.4L881.9 925.0L876.2 923.0L871.6 919.9L868.6 915.7L867.0 910.5L869.3 907.0L867.0 905.4L871.6 902.3L872.8 897.1L870.5 896.1L870.9 892.9L871.6 887.8L873.4 883.6L876.0 878.5L876.2 872.2L877.3 867.1L878.5 861.9L879.2 853.6L878.7 848.2L876.2 846.0L870.9 843.9L865.9 839.5L863.1 835.0L860.2 829.8L857.2 825.1L854.0 822.6L853.7 819.5L856.0 817.2L856.7 815.3L854.4 814.7L855.6 811.2L856.7 808.5L859.5 807.1L862.4 802.3L862.4 796.7L860.8 794.6L860.2 791.5L857.9 791.5L856.3 793.0L855.6 795.0L853.3 794.2L849.9 793.0L848.3 791.9L845.3 789.5L843.4 788.4L841.8 785.3L839.5 783.2L837.3 782.8L833.8 781.6L828.8 780.1L824.7 777.0L818.9 777.7L814.4 776.4L807.5 773.9L802.9 771.9L798.8 769.4L798.3 765.7L796.0 761.9L791.5 757.8L789.2 754.9L786.4 752.2L782.8 750.1L781.2 745.6L777.0 744.3L777.7 748.1L781.2 752.2L783.5 755.3L786.4 759.4L789.2 762.1L787.3 761.9L783.0 758.4L778.4 754.3L777.7 752.2L774.8 748.7L772.7 745.0L771.5 742.5L768.6 739.8L763.8 738.5L760.8 734.4L759.4 731.9L756.4 728.4L755.3 726.3L755.5 721.2L756.0 714.5L754.4 710.0L758.3 709.8L759.4 711.8L758.7 708.7L754.8 706.7L748.0 704.6L746.8 701.5L742.2 697.8L738.8 695.3L734.2 691.1L729.6 688.7L725.1 688.4L719.8 686.6L711.3 686.0L704.5 684.3L699.9 685.3L694.2 687.4L692.3 684.3L696.4 683.5L690.7 685.3L687.7 688.0L686.6 690.1L681.6 692.2L677.0 694.2L671.3 695.9L666.7 696.9L662.6 697.1L666.7 695.3L672.4 694.2L677.0 691.1L679.3 688.7L675.8 688.7L669.0 688.7L669.0 686.0L663.2 684.9L659.8 682.4L662.1 679.8L667.8 678.7L671.3 677.1L667.8 676.7L662.6 676.7L658.7 675.6L655.2 674.4L663.2 672.5L669.0 672.9L665.5 671.5L662.1 668.8L659.1 667.5L665.5 666.7L670.1 664.6L675.8 663.6ZM872.8 648.3L886.5 643.5L897.9 640.8L920.8 639.8L941.4 637.9L964.3 637.1L982.7 638.4L994.1 640.4L1012.4 641.5L1001.0 644.6L996.4 647.7L997.5 651.8L994.1 654.9L995.3 657.0L989.5 659.1L989.5 661.1L983.8 662.2L989.5 664.6L982.7 666.3L980.4 668.4L971.2 669.2L964.3 671.5L957.5 674.0L948.8 674.6L946.0 678.7L942.6 682.9L940.3 686.0L936.9 686.2L930.0 683.9L924.3 679.8L920.8 675.6L916.9 671.5L918.5 668.4L923.1 666.3L915.1 664.2L914.0 661.1L911.7 658.0L907.1 654.3L897.9 652.4L886.5 652.8L877.3 650.4ZM891.1 682.0L884.2 681.2L875.0 678.3L869.3 676.7L861.3 676.2L862.4 674.6L870.5 674.6L872.8 670.4L862.4 665.7L857.9 665.3L846.4 665.3L836.1 663.2L835.0 659.1L845.3 657.6L854.4 658.0L861.3 659.1L869.3 661.5L879.6 663.8L885.3 666.3L887.6 669.4L897.9 671.5L897.9 673.5L892.2 675.6L887.6 679.1ZM772.0 667.3L781.2 668.4L792.6 668.0L801.8 667.5L807.5 665.7L804.1 662.2L799.5 659.5L791.5 658.6L788.0 659.7L778.9 658.4L769.7 659.9L767.4 662.0L774.3 662.8L768.6 664.6ZM752.5 661.1L758.3 662.8L764.0 662.0L766.3 658.0L770.9 656.6L762.8 656.0L754.8 656.6ZM833.8 651.8L856.7 652.4L862.4 649.1L868.2 646.6L884.2 643.1L891.1 641.5L897.9 639.4L879.6 638.2L856.7 638.4L838.4 639.8L831.5 641.9L843.0 643.9L838.4 647.7ZM856.7 654.9L838.4 656.0L829.2 655.5L820.1 651.8L833.8 651.2L852.1 652.2ZM772.0 653.9L783.5 656.0L797.2 654.9L797.2 652.8L788.0 651.8L774.3 651.8ZM806.3 659.1L817.8 661.1L827.0 660.1L832.7 657.4L827.0 657.0L817.8 657.0L810.9 657.4ZM822.4 647.7L838.4 648.1L840.7 643.9L827.0 642.5L820.1 644.6ZM840.7 675.0L847.6 674.0L856.7 677.1L854.4 678.7L845.3 679.8L840.7 677.7ZM904.1 711.6L911.7 713.5L918.5 713.5L919.2 711.6L917.4 709.4L912.1 707.1L912.8 703.6L909.4 704.6L906.0 708.7ZM746.1 705.0L752.5 706.0L757.1 709.8L753.7 709.4ZM845.3 765.0L851.0 762.3L856.7 762.5L863.6 765.7L870.0 768.3L862.4 769.0L861.3 767.3L859.0 765.7L852.1 764.0L847.6 764.6ZM869.3 772.1L872.8 769.0L879.6 769.2L883.3 771.4L879.6 772.5L875.7 773.5L873.9 772.5ZM860.6 772.3L865.2 772.5L863.6 773.3ZM886.0 772.1L889.5 772.3L888.8 773.0L886.0 772.9ZM900.2 916.8L907.1 916.5L906.0 918.2L901.4 918.2ZM952.9 921.9L957.5 923.0L955.2 923.2ZM373.6 911.6L377.0 912.0L375.9 913.0L373.6 912.6Z" fill="none" stroke="#000" stroke-opacity="0.95" stroke-width="0.8"/></g>
<clipPath id="ax2"><rect x="215.6" y="1093.95" width="824.3" height="372.57"/></clipPath><g clip-path="url(#ax2)" fill-rule="evenodd"><rect x="215.6" y="1093.95" width="824.3" height="372.57" fill="#8096fc"/>
<path fill="#9fb0fd" d="M214.6 1092.9 1040.9 1092.9 1040.9 1467.5 214.6 1467.5ZM906.9 1302.1 905.2 1303.3 905.5 1305.3 908.9 1306.1 911.7 1305.3 911.5 1303.3 910.9 1302.7 908.9 1301.8ZM966.9 1284.9 966.5 1285.2 966.9 1285.7 967.7 1285.2Z"/>
<path fill="#bfcafe" d="M214.6 1092.9 1040.9 1092.9 1040.9 1467.5 214.6 1467.5ZM242.6 1275.2 240.6 1275.4 238.6 1276.8 237.8 1281.2 238.3 1283.2 240.6 1285.3 244.6 1285.8 245.8 1285.2 247.2 1283.2 248.5 1277.2 244.7 1275.2ZM302.6 1301.2 290.6 1304 286.6 1304.5 278.6 1304.6 275 1303.3 268.6 1302 266.3 1303.3 267 1305.3 268.6 1305.6 286.6 1305.6 292.6 1306.3 298.6 1308.9 302.6 1313.2 304.6 1312.9 306.2 1311.3 306.9 1309.3 305.5 1303.3 304.6 1301.8ZM320.6 1280.6 314.6 1283.2 312.6 1285.6 310.5 1289.2 310.6 1289.8 312.6 1290.5 322.6 1290.5 326.6 1289.2 328.6 1287.2 329.2 1285.2 328.4 1283.2 324.6 1280.5 322.6 1280.2ZM390.7 1274.5 389.1 1275.2 387.5 1277.2 387.3 1281.2 387.7 1285.2 388.7 1287.2 390.9 1289.2 392.7 1289.9 394.7 1289.8 402.7 1288.2 414.7 1287.7 416.7 1286.7 417.8 1285.2 417.7 1283.2 416.7 1281.4 408.7 1275.2 402.7 1273.6 394.7 1273.6ZM476.7 1275.1 470 1277.2 468.7 1278.1 467.9 1279.2 467.8 1281.2 468.7 1283.5 474.7 1284.6 476.7 1285.5 478.7 1285.7 479.4 1285.2 480.3 1283.2 480.1 1279.2 478.7 1275.5ZM538.7 1288.5 533.8 1293.3 533.9 1295.3 536.7 1296.8 540.7 1297.8 544.7 1294.7 548.7 1293.9 549.4 1293.3 546.7 1290.3 542.7 1287.6 540.7 1287.4ZM618.7 1265.1 618.7 1267.5 624.7 1271.6 626.7 1273.8 627.7 1277.2 627.8 1283.2 628.5 1285.2 630.8 1286.9 632.8 1287.5 635.3 1287.2 638.4 1285.2 639.1 1283.2 639.5 1275.2 640.5 1273.2 642.6 1271.2 646.8 1269.2 654.9 1267.2 658.1 1265.2 656.8 1264.3 652.8 1263.5 634.8 1263.2 622.7 1263.6ZM826.8 1168 825.6 1169.1 824.8 1171.1 826.8 1172.7 829.4 1173.1 832.4 1171.1 832.3 1169.1 830.8 1167.8 828.8 1167.3ZM896.8 1261.7 896.1 1263.2 896.8 1265.3 900.8 1266.2 902.9 1265.6 903 1265.2 900.8 1264.7ZM906.9 1268.4 906 1269.2 906.3 1275.2 904.9 1279.6 902.9 1281.8 900.8 1282.8 892.7 1285.2 891.3 1287.2 891.3 1295.3 893.6 1303.3 894.8 1305.3 898 1307.3 912.9 1310.9 914.9 1311.8 916.5 1313.3 918.9 1318.7 920.9 1321 926.9 1321.6 932.9 1321 935.2 1319.3 935.9 1317.3 935.5 1315.3 930.9 1302.4 926.5 1297.3 925.7 1295.3 925 1283.2 921.8 1277.2 920.9 1273.2 918.9 1271 916.9 1270ZM964.9 1278.3 962.9 1279.9 962.2 1281.2 961.4 1285.2 962.9 1290.4 964.9 1292.4 968.9 1291.6 974.9 1288.8 977.4 1287.2 978.8 1285.2 978.6 1283.2 977.3 1281.2 974.9 1279.5 968.9 1278.1ZM324.6 1311.3 320.3 1315.3 318.9 1317.3 318.3 1325.3 320.6 1329.3 322.6 1327.7 323.9 1323.3 328.1 1313.3 328.2 1311.3 326.6 1310.1ZM828.8 1198.9 826.8 1199.9 823.4 1203.1 822.5 1205.1 822.4 1209.1 822.8 1211.1 826.5 1215.1 828.8 1216.7 830.8 1216.9 833.4 1215.1 835.2 1211.1 842.1 1205.1 842.4 1203.1 838.3 1201.1ZM896.8 1336.8 895 1345.3 896 1347.3 896.8 1347.7 898.8 1345 900.8 1337.3 898.8 1335.9Z"/>
<path fill="#dfe5fe" d="M214.6 1092.9 1040.9 1092.9 1040.9 1411.4 1038.8 1409.4 1034.9 1407.5 1030.9 1407.1 1022.9 1407.3 1018.4 1409.4 1017.2 1411.4 1017 1417.4 1017 1423.5 1017.7 1425.5 1020.9 1426.6 1024.9 1427.2 1030.9 1427.1 1040.9 1425.3 1040.9 1467.5 214.6 1467.5 214.6 1425.6 232.6 1425.1 237.8 1423.5 238.3 1421.5 237.9 1419.4 236.6 1417.5 234.6 1415.9 230.6 1414.8 220.6 1414.2 218.6 1413.1 214.6 1409.5ZM220.6 1108.3 219.6 1109 230.6 1111.3 234.1 1111 235.5 1109 232.6 1107.4 230.6 1107.1 224.6 1107.2ZM246.6 1146.2 244.6 1147.1 243.5 1149 242.4 1155 242.5 1157 244.7 1161.1 246.6 1162.5 248.6 1163 250.6 1162.3 252.4 1161.1 255.2 1157 255.3 1149 248.6 1146.4ZM276.6 1146.9 274.6 1149 274 1151 275.1 1153 278.6 1155.2 279.8 1157 277.2 1161.1 277.4 1163.1 278.4 1165.1 280.6 1166.3 286.6 1166.4 290.6 1165.4 302 1155 303.3 1153 302.9 1151 298.6 1150.2 294.6 1148.4 286.6 1147.9 278.6 1146.3ZM302.6 1114.8 300.6 1115.3 298.3 1117 298.5 1119 304.6 1120.5 322.6 1121.9 326.8 1121 328.4 1119 326.6 1116.1 322.6 1114.7ZM356.7 1146.9 354.4 1149 353.8 1151 354.7 1153.1 365.8 1161.1 370.7 1162.6 382.7 1163.7 404.7 1163.8 414.7 1165.5 416.7 1165.2 418.7 1163.7 420.2 1161.1 418.7 1158.7 411.8 1153 408.7 1148.7 406.7 1147 404.7 1146.1 362.7 1145.7 358.7 1146ZM440.7 1158.8 438.7 1159.1 435.8 1161.1 438 1163.1 440.7 1163.3 454.7 1162.4 494.7 1162.4 504.7 1163.3 508.7 1164 512.7 1165.9 516.8 1171.1 520.3 1173.1 532.7 1176.6 534.7 1175 535.2 1173.1 535.2 1171.1 534.7 1170.8 526.7 1170.1 525.3 1169.1 524 1167.1 524.8 1163.1 524.5 1161.1 522.7 1159.6 520.7 1159ZM450.7 1135.9 448.7 1138.2 448.8 1141 450.7 1142.5 452.7 1142.9 472.7 1142.8 476.6 1141 477.3 1139 475.8 1137 472.7 1135.6 454.7 1135.4ZM524.7 1132.8 522.7 1133 514.9 1137 514.2 1139 515.3 1141 524.7 1145.7 526.7 1148.5 528.1 1153 529.3 1155 530.7 1156 534.7 1157.1 536.7 1157.2 542.7 1156.1 554.7 1156.8 564.7 1156.5 568.5 1155 571.8 1149 574.7 1146.6 576.7 1145.9 586.7 1145.5 588.7 1145 591.5 1143 592.8 1141 592.6 1139 580.7 1135.4 566.7 1134.4 561.7 1133 552.7 1132.4 542.7 1135 538.7 1134.6 530.7 1132.4ZM656.8 1147 654.8 1147.2 652.8 1148.5 652.3 1149 652.5 1151 654.8 1152.4 656.8 1152.9 658.8 1152 660.8 1149.8 664.2 1149 660.8 1147.2ZM758.8 1186.2 756.8 1190.2 756.6 1193.1 756.8 1193.9 758.8 1195.3 760.8 1193.2 761.1 1191.1 760.8 1189.1ZM782.8 1261.1 773.6 1263.2 770.6 1265.2 774.8 1266.7 780.8 1267.6 785.9 1267.2 793.8 1265.2 794.3 1263.2 792.8 1262.5 788.8 1261.5ZM820.8 1162.8 816.8 1166.8 815.9 1169.1 815.9 1171.1 817.5 1173.1 818.8 1173.9 828.8 1178.9 830.8 1179 840.8 1176.9 844.8 1176.7 845.2 1171.1 844.8 1169.1 842.8 1166.9 840.8 1165.8 834.8 1164.4 830.8 1162.9 822.8 1162ZM840.8 1128.8 838.8 1129.1 837.2 1131 838.8 1132.6 842.8 1132.1 844 1131ZM892.8 1136.7 892.1 1137 892.7 1139 894.8 1140 895.7 1141 896 1143 892.1 1147 890.9 1149 890.1 1155 888.4 1157 884.8 1158.9 880.8 1157.8 876.8 1155.9 873.4 1157 871.9 1159 868.8 1165.7 866.8 1167.4 862.8 1169.1 858.8 1174.3 856.8 1175.4 845.3 1177.1 845.5 1179.1 846.6 1181.1 850.7 1183.1 860.8 1184.2 864.8 1185.2 868.2 1187.1 870.8 1191.1 872.8 1191.9 875.9 1191.1 877.5 1189.1 878 1187.1 877.2 1181.1 877.9 1179.1 879.3 1177.1 882.8 1174.9 884.8 1174.4 892.8 1174.3 900.8 1175.9 903.1 1177.1 905.9 1181.1 908.9 1182.5 914.9 1182.3 916.6 1181.1 915.2 1179.1 912.4 1177.1 911.5 1171.1 911.9 1167.1 913.7 1161.1 914.1 1151 916.1 1141 916.3 1139 915.6 1137 910.9 1135.5 908.9 1135.4 896.8 1135.5ZM950.9 1344.4 946.9 1349.5 942.9 1353.6 942.2 1355.3 942 1357.4 942.9 1360.9 944.9 1362.8 950.9 1363 954.9 1362.4 956.9 1361.3 958.6 1359.4 959.5 1357.4 959.7 1351.3 958.9 1347.3 954.9 1343.7 952.9 1343.4ZM986.9 1254 983 1259.2 980 1261.2 976.9 1262.2 966.9 1263.3 964.9 1264.1 963.3 1265.2 960.4 1269.2 954.1 1273.2 952.7 1275.2 957.3 1281.2 958.6 1287.2 961.7 1293.3 962.9 1299.2 964.9 1300.1 966.9 1299 970.9 1296.2 978.9 1292 984 1287.2 985 1285.2 985.1 1283.2 983.4 1275.2 984.1 1273.2 989.8 1267.2 991.1 1263.2 990.7 1255.2 988.9 1253.3ZM386.7 1271.1 378.7 1272.5 348.6 1272.6 336.6 1273.4 330.6 1272.6 328.6 1272.9 314.6 1280.9 307.3 1289.2 304.6 1294 290.6 1298 286.6 1298.3 278.6 1298 276.4 1297.3 273.7 1295.3 272.9 1293.3 272.8 1279.2 272.4 1277.2 268.8 1275.2 256.6 1274.9 244.6 1273.1 232.6 1274.6 231.5 1275.2 234.6 1278.3 235.8 1283.2 238.6 1286.1 242.6 1288.5 246.6 1288.9 250.6 1287.6 254.6 1282.7 256.6 1281.5 258.6 1282.2 259.7 1283.2 260.9 1285.2 261.3 1287.2 261.4 1293.3 259.1 1303.3 260 1305.3 263.3 1307.3 268.6 1308.5 282.6 1308.7 292.6 1309.7 298.6 1312.4 302.6 1316 304.6 1315.4 307.5 1313.3 309.4 1309.3 309.2 1305.3 310.6 1301.2 316.6 1298.3 322.6 1297 326.6 1296.8 358.7 1298.4 362.7 1299.7 364.7 1301.1 368.7 1306.6 370.7 1307.6 372.7 1307.2 380.5 1301.3 386.7 1298.4 392.7 1297.3 404.7 1293.3 416.7 1292.8 420.7 1291.3 422.9 1289.2 426.7 1281.4 431.4 1277.2 431.5 1275.2 428.7 1273.2 426.7 1272.8 416.7 1272.4 404.7 1270.1 400.7 1270.5 392.7 1270ZM448.7 1269.2 447.6 1271.2 447.9 1273.2 446.8 1275.2 440.6 1275.2 442.2 1279.2 446.7 1286 448.7 1287.7 454.7 1290.7 456.3 1289.2 456.3 1287.2 455.6 1285.2 450.7 1279.2 450.2 1277.2 451.3 1275.2 451.1 1273.2ZM492.7 1220.7 488.7 1221.8 474.7 1222.6 472.7 1223.8 472.2 1225.2 472.5 1227.2 473.4 1229.2 474.7 1230.3 476.7 1231.1 478.7 1231.2 484.7 1229.2 490.7 1226.2 494.7 1226.6 498.7 1225.5 502.4 1223.1 501.2 1221.1 498.7 1220.2 496.7 1219.8ZM514.7 1261 506.7 1262.8 502.7 1262.1 500.7 1262.7 500 1263.2 499.6 1265.2 502.7 1267.1 508.7 1268.9 518.7 1267.3 528.7 1267.2 534.7 1267.8 542.7 1269.7 552.7 1270.1 556.7 1272.1 560.7 1277.4 562.7 1279 564.7 1279.6 576.7 1277.8 588.7 1280.1 608.7 1280.3 612.7 1281.5 614.6 1283.2 615.4 1285.2 614.7 1287.4 612.8 1289.2 610.7 1290.2 588.7 1290.7 576.7 1293.1 568.7 1292 566.7 1291.1 564.7 1288.9 562.7 1288 560.9 1289.2 559.9 1291.3 560.7 1293.2 562.7 1294.4 564.7 1297.2 566.7 1298 620.7 1298.1 624.3 1297.3 630.8 1294.1 634.8 1293.7 644.8 1297.9 666.8 1298.3 674.8 1299.5 680 1301.3 686.1 1305.3 690.8 1306.7 712.8 1308.5 724.8 1310.7 734.8 1308.8 746.8 1308.3 748.8 1307.5 750.5 1305.3 752.2 1299.3 754 1295.3 755.5 1293.3 762.6 1287.2 762.8 1285.2 758.8 1283.3 748.8 1283.8 736.8 1283 724.8 1283.9 692.8 1283.9 666.8 1282.7 660.8 1281.7 654.5 1279.2 652.4 1277.2 652.3 1275.2 654.8 1273.2 666.8 1267.8 670.8 1267.2 676.8 1267 678.8 1266.6 680.9 1265.2 676.8 1263.3 668.8 1262.4 656.8 1259.7 622.7 1259.6 610.7 1262 606.7 1262.2 532.7 1262.4 528.7 1262.1 518.7 1260.1ZM828.8 1189.7 826.8 1191.4 822.8 1197 817.4 1201.1 815.9 1203.1 815.2 1207.1 815.3 1211.1 816.8 1213.1 825.1 1217.1 828.8 1218.3 832.8 1218.1 836.8 1216.1 843.6 1215.1 850.8 1207.7 852 1205.1 851.9 1203.1 850.2 1201.1 848.8 1200.5 834.8 1195.4ZM862.8 1323.3 862 1325.3 862.8 1327.6 872.8 1330.9 874.8 1330.2 875.4 1327.3 874.8 1324.7 864.8 1322.7ZM894.8 1260.3 893.1 1261.2 892.6 1263.2 893.4 1267.2 894.8 1268.9 898.8 1270.7 900.8 1272.2 901.8 1275.2 900.9 1277.2 898.3 1279.2 894.8 1279.8 890.8 1278.3 887.8 1275.2 884.8 1273.9 874.8 1274.6 874 1275.2 873.1 1277.2 873.3 1283.2 874.1 1287.2 874.8 1289.3 876.8 1292 882.8 1297 888.8 1305.3 896.8 1309.8 908.9 1312.9 912.6 1315.3 913.6 1317.3 913.9 1319.3 913.9 1325.3 913.4 1327.3 912.1 1329.3 908.9 1331.2 898.8 1329.8 896.8 1330.6 894.8 1333.4 889.8 1347.3 891 1349.3 894.2 1351.3 896.8 1352.2 898.8 1351.8 901.7 1349.3 904.7 1343.3 906.6 1341.3 908.9 1340.2 910.9 1340.2 916.9 1342.8 919.6 1345.3 920.9 1347.4 922.9 1348.3 925.5 1345.3 928.8 1337.3 928.9 1335.3 931.4 1331.3 936.9 1327.5 940.9 1326.8 944.1 1325.3 948 1321.3 949.4 1319.3 949.7 1317.3 948.9 1315.2 946.9 1314.1 942.9 1313.5 940.9 1312.4 938.3 1309.3 933.7 1299.3 932.7 1295.3 933.2 1291.3 934.5 1287.2 934.1 1285.2 928.9 1283.1 926.9 1281.6 923.7 1277.2 922.7 1273.2 920.9 1270.7 918.9 1268.7 914.2 1267.2 908.9 1264.4 900.8 1262.1 898.8 1260.5 896.8 1259.8ZM952.9 1376.3 952.5 1377.4 952.9 1378.3 954.9 1378.8 955.5 1377.4 954.9 1375.8ZM954.9 1324.8 954.1 1325.3 953.5 1327.3 954.9 1328.8 955.5 1327.3ZM232.6 1305.3 233 1307.3 234.6 1308.1 240.6 1308.3 242 1307.3 241.8 1305.3 240.6 1304.1 234.6 1304ZM326.6 1308 317.8 1315.3 316.7 1317.3 316.7 1321.3 315.7 1323.3 315.6 1327.3 316.4 1329.3 318.1 1331.3 320.6 1332.4 322.6 1331.9 324.6 1328.3 325.7 1323.3 329.7 1313.3 329.9 1311.3 329 1309.3 328.6 1308.6ZM348.6 1335.1 346.6 1335.4 344.6 1337.3 347.9 1339.3 352.6 1339.6 357.6 1339.3 358.7 1338.7 359.5 1337.3 356.7 1335.9ZM380.7 1419.1 379.2 1421.5 379.5 1423.5 380.7 1424.1 382.8 1423.5 383.8 1421.5 382.7 1419.2ZM482.7 1268.5 476.7 1272.9 466.6 1277.2 465.8 1279.2 465.8 1281.2 466.2 1283.2 468 1285.2 470.7 1286.2 474.7 1286.6 476.7 1287.5 478.7 1287.7 480.7 1286.9 482.8 1283.2 484.6 1277.2 485 1269.2ZM490.7 1282.1 488.6 1285.2 490.7 1287.5 493 1285.2 493.1 1283.2 492.7 1282.6ZM504.7 1312.8 503.4 1313.3 503.4 1315.3 504.7 1315.8 508.7 1316.1 511.1 1315.3 510.6 1313.3ZM508.7 1279.1 506.2 1283.2 506.3 1285.2 512.7 1288.4 514.7 1290 516.5 1293.3 518.7 1299.6 520.7 1299.9 524.7 1297.7 528.7 1296.9 530.7 1297.1 536.7 1299.3 540 1301.3 540.7 1302.5 542.7 1300.9 544.3 1297.3 546.7 1296.2 548.7 1296.4 552.7 1298.6 555.1 1299.3 555 1297.3 552.7 1293.3 548.9 1289.2 546 1283.2 543 1281.2 540.7 1281.3 532.7 1284.6 528.7 1284.9 518.7 1281.5 512.7 1281.8 510.7 1281ZM836.8 1274.9 836.8 1275.5 838.8 1276.5 840.8 1276.2 842.2 1275.2 840.8 1273.8 838.8 1273.5ZM468.7 1294.9 467.8 1295.3 469.7 1297.3 474 1297.3 474.2 1295.3 472.7 1294.7Z"/>
<path fill="#ffffff" d="M214.6 1092.9 1040.9 1092.9 1040.9 1102.3 1032.9 1104.2 1022.9 1104.6 1019 1107 1018 1109 1018.3 1111 1020 1113 1022.9 1115.2 1026.9 1121.8 1028.9 1123.5 1030.9 1124.3 1034.9 1124.2 1036.7 1123 1039.5 1117 1040.9 1115.3 1040.9 1402.9 1034.9 1401.9 1024.9 1401.8 1010.9 1403.7 1008.9 1403 1007.1 1401.4 1004.3 1397.4 1000.9 1394.8 996.9 1394.1 978.9 1394.1 974.7 1395.4 972.5 1397.4 968.9 1402.2 964.9 1404.2 944.9 1404.5 940.9 1405.4 938.5 1407.4 937.3 1409.4 936.9 1415.4 937.2 1419.4 938 1421.5 939.9 1423.5 942.9 1424.9 998.9 1425.2 1004.9 1426.5 1010.9 1429.8 1012.9 1430 1016.9 1429.3 1030.9 1429.6 1040.9 1427.8 1040.9 1467.5 214.6 1467.5 214.6 1428.4 218.6 1427.7 236.6 1427.4 252.6 1425.4 259.2 1423.5 261.3 1421.5 263.3 1417.4 266.2 1415.4 268.6 1414.9 276.6 1414.8 279.5 1415.4 282.4 1417.4 284.6 1421.6 286.6 1422.5 302.6 1422.1 305 1421.5 306.6 1419.9 307.2 1417.4 307 1411.4 305.8 1409.4 302 1407.4 288.6 1404.5 224.6 1404.4 214.6 1402.5 214.6 1118.4 217 1115 218.6 1114.1 222.6 1113.7 234.6 1116.9 246.6 1114.6 262.6 1114.7 268.6 1115.7 270.6 1116.5 275 1121 278.6 1122 290.6 1121.6 298.6 1123.2 314.6 1125.3 324.6 1127.4 334.6 1126 336.4 1127 335.1 1129 334.8 1131 336.6 1133.5 338.6 1134 344.6 1133.8 346.2 1133 348.6 1129.2 350.6 1128.7 352.7 1131 352.7 1133 351.3 1135 348.6 1137.2 346.6 1137.8 338.6 1138 332.6 1140.3 320.6 1141 320.8 1143 323.6 1145 326.6 1145.7 334.6 1145.8 338.6 1147.5 340.1 1149 340.7 1151 339.9 1153 337.4 1155 334.6 1155.9 314.6 1155.9 312.5 1155 310.1 1151 308.6 1149.5 298.6 1148.2 292.6 1144 286.1 1141 282.2 1137 276.6 1135.1 266.6 1134.6 264.6 1135.9 260 1141 258.6 1141.9 254.6 1142.7 248.6 1142.5 246.6 1143.1 241.6 1147 240.3 1149 238.6 1157 242.8 1163.1 247.4 1167.1 242.6 1167.6 241.4 1167.1 240.6 1165.9 240.1 1163.1 238.6 1161.6 236.6 1161.5 233.8 1163.1 233.5 1165.1 234 1167.1 233.1 1169.1 229.3 1171.1 227.6 1173.1 227.1 1177.1 228 1181.1 230.6 1184.1 232.6 1185.3 243.1 1177.1 246.9 1175.1 252.6 1173.5 266.6 1172.7 288.7 1173.1 295.4 1171.1 302.6 1166.7 306.6 1166.4 324.6 1166.8 326.6 1167.7 330.8 1171.1 334.6 1172.5 336.6 1172.6 341.2 1171.1 344.6 1167.9 348.6 1165.8 356.7 1164.1 360.7 1164.4 382.7 1168.9 402.7 1169 406.7 1169.7 412.7 1171.6 416.7 1172.1 420.8 1171.1 426.7 1167.6 428.7 1167.2 438.7 1168.7 450.7 1166.5 496.7 1166.6 506.7 1168.8 514.7 1174.5 522.7 1178.2 528.7 1182.4 532.7 1181.5 534.7 1180 536.6 1177.1 536.9 1175.1 538.7 1171.4 540.7 1171.7 541.1 1171.1 538.7 1170.9 534.7 1168.9 528.7 1168.4 526.5 1167.1 527 1165.1 528.7 1163.4 540.7 1158.4 544.7 1158.2 556.7 1159.2 568.7 1158.7 570.7 1158.2 575.3 1153 576.7 1151.9 578.7 1151.3 586.7 1151.4 588.7 1152.1 590.7 1154.2 592.7 1154.4 604.7 1154 614.7 1151.3 626.7 1150.4 628.8 1151.1 632.8 1154.6 634.8 1155.7 644.8 1156.3 650.8 1157.8 656.8 1158.4 668.8 1156.3 670.4 1155 672.9 1151 673.5 1145 673.2 1137 670.8 1135.7 660.8 1136.2 654.8 1135.4 644.8 1135.5 634.8 1138.3 628.8 1137.9 622.7 1136.1 600.7 1136 588.7 1134.9 580.7 1132.8 572.7 1132.6 564.5 1131 558.9 1129 555.2 1125 552.7 1123.5 542.7 1124.5 534.7 1123.7 530.7 1122.2 529.3 1123 527 1127 524.9 1129 516.7 1132.9 514.7 1132.7 510.7 1130.4 502.7 1128.1 478.7 1127.9 476.7 1127.2 474.7 1124.9 472.7 1124.2 460.7 1124.2 454.7 1121 450.7 1119.9 448.7 1119.7 446.7 1121.1 444.7 1121.5 440.7 1121.3 440 1121 439.3 1119 442.7 1118.2 448.7 1118 449.6 1115 448.7 1114.4 440.7 1113.1 432.7 1115.9 428.7 1115.1 426.7 1115.3 423.9 1117 421.6 1121 419.5 1123 410.7 1127.5 402.7 1128.1 396.7 1129.9 382.7 1129.8 376.7 1126.9 370.7 1124.9 368.7 1123.4 364.8 1119 363.8 1109 362.5 1107 358.7 1104.6 246.6 1104.3 236.6 1102.2 230.6 1101.6 220.6 1101.8 214.6 1102.8ZM710.8 1136.6 709.2 1137 708 1139 707.9 1149 708.3 1151 710.8 1153.4 714.8 1153.7 718.4 1153 719.3 1151 719.1 1139 716.8 1136.9 714.8 1136.4ZM828.8 1104.8 826.8 1105.2 824.8 1106.5 821.6 1111 818.8 1113.4 816.8 1114.3 762.8 1114.7 758.8 1115.2 755.9 1117 751.8 1123 744.8 1127 742.8 1130.1 742.6 1133 744.8 1134.2 748.8 1134.5 750.8 1135.5 752.3 1137 755.6 1143 761.7 1147 763.7 1149 764.3 1151 763.5 1153 758.8 1157 757.6 1159 757.3 1161.1 758.8 1164.5 760.8 1166.7 765.6 1171.1 766.8 1171.6 768.8 1171.9 770.8 1171.5 774.7 1165.1 776.8 1163.6 782.8 1162.2 792.8 1162 796.8 1161.4 804.8 1156.5 810.8 1156.1 811 1169.1 811.4 1171.1 814.8 1175.2 823.5 1181.1 824.3 1183.1 823 1189.1 821.5 1193.1 814.8 1199.6 812.6 1203.1 811.5 1211.1 812.4 1213.1 815.8 1215.1 828.8 1219.3 832.8 1219.2 838.8 1217.1 846.8 1217.8 848.6 1219.1 850.8 1223.9 852.8 1225.2 853.9 1223.1 852.4 1219.1 852 1215.1 853 1213.1 856.7 1209.1 857.1 1207.1 855.9 1201.1 852.8 1198.2 843.5 1195.1 839.1 1193.1 837.9 1191.1 838.8 1188.4 840.8 1187.3 848.8 1187.1 858.8 1188.7 862.8 1190.3 867.4 1195.1 868.8 1195.7 875.9 1193.1 883 1189.1 883.6 1187.1 883.2 1183.1 884.1 1181.1 884.8 1180.5 888.8 1179.7 892.8 1177.4 896.8 1177.8 898.7 1179.1 900.8 1184.2 902.1 1185.1 908.9 1186.6 916.9 1184.6 918.8 1183.1 919.8 1181.1 919.4 1179.1 917.1 1175.1 917.4 1171.1 918.9 1168.2 924.9 1161.9 926.6 1157 926.4 1155 919.3 1143 919.1 1141 920.9 1136.9 919.3 1135 914.9 1132.2 906.9 1124.2 902.9 1121.3 900.3 1117 894 1113 889 1109 882.8 1108 874.8 1108 870.8 1108.8 868.4 1111 867.5 1115 865.9 1117 862.8 1118.8 852.8 1115.1 840.8 1114.7 836.8 1113.7 836 1113 835.8 1111 836.9 1109 835.6 1107 832.8 1105.6ZM988.9 1247.2 984.9 1249 976.9 1256.7 964.9 1260 960.9 1262 950.9 1269.4 947 1273.2 946 1275.2 945.8 1277.2 946.9 1280.3 948.9 1281.9 952.9 1283.2 954.9 1285.5 955.5 1287.2 958.9 1290.1 960.2 1293.3 960.4 1299.3 959.6 1301.3 954.9 1306.4 950.9 1308.4 944.9 1308.6 942.9 1308 940.9 1306.2 936.9 1299.3 936 1295.3 936.9 1292.4 940 1287.2 934.9 1282.7 928.6 1281.2 925 1277.2 924 1273.2 920.9 1268.5 918.9 1266.6 910.9 1262 908.9 1261.4 902.9 1261.4 898.8 1259.1 896.8 1258.7 893.8 1259.2 890.1 1261.2 888.8 1267 886.8 1269.2 874.8 1271.3 871.6 1273.2 870.2 1275.2 869.9 1277.2 870.4 1283.2 871.9 1291.3 873.5 1295.3 880.8 1300.2 884.4 1305.3 886.6 1307.3 896.8 1312.4 906.7 1315.3 908.9 1317.3 908.9 1319.3 906.9 1321.9 898.8 1324.1 896.8 1325 894.8 1327.2 892.7 1331.3 890.2 1339.3 886.8 1344.3 884.8 1345.7 879.1 1347.3 882.8 1348.9 890.8 1353.6 896.8 1356 903.1 1355.3 904.9 1353.8 906.9 1348 908.9 1345.8 912.9 1345.9 916.5 1347.3 916.9 1349.3 916.2 1351.3 916.5 1353.3 918.9 1356.9 920.9 1357.1 924.9 1353.2 928.9 1350.3 930.9 1349.6 932.9 1349.7 934.9 1350.5 937.2 1353.3 942.9 1372.7 946.5 1381.4 948 1383.4 950.9 1385.3 954.9 1386 957 1385.4 960.1 1383.4 961.5 1381.4 964.1 1375.4 970.2 1369.4 971 1367.4 971.2 1363.4 970.8 1347.3 968.9 1344.5 962.9 1339.9 960.9 1337.3 960.8 1335.3 962.4 1327.3 960.6 1317.3 960.9 1315.3 966.9 1308.8 969.1 1305.3 972.7 1301.3 984.9 1294.2 993.2 1285.2 994 1283.2 994.4 1275.2 996.9 1265.2 996.8 1255.2 995.5 1251.2 994.1 1249.2 990.9 1247.4ZM998.9 1122.5 994.9 1124.2 990.9 1128.4 990.4 1129 990.3 1131 990.9 1131.6 993.9 1133 1000.9 1133.8 1005.8 1133 1012.6 1131 1015 1129 1014.3 1127 1010.9 1124.8 1004.9 1123.1ZM1032.9 1213 1030.9 1214.6 1030.5 1215.1 1030.9 1215.6 1032.9 1216.8 1034.9 1216.3 1036.3 1215.1 1035.6 1213.1ZM382.7 1267.1 348.6 1267.4 336.6 1269.6 330.6 1269.1 324.6 1273.6 314.6 1278.9 308.6 1286.2 304.6 1290.4 302.6 1291.7 290.6 1292.8 286.6 1292.1 283.1 1289.2 281.4 1285.2 279.9 1277.2 278.8 1275.2 276.6 1274.2 268.6 1272.8 256.6 1272.5 246.6 1271.6 230.6 1272.6 225.5 1271.2 224.6 1271.6 224.3 1273.2 224.7 1275.2 227.8 1279.2 232.6 1282.8 240.6 1290 244.6 1291.9 249.9 1293.3 251.8 1295.3 251.6 1297.3 250.6 1298.5 246.6 1300.6 240.6 1298.3 234.6 1298.3 232.6 1298.8 230.6 1300.2 228.4 1303.3 227.8 1305.3 228.1 1307.3 230.6 1311.3 232.6 1313 238.6 1313.9 242.6 1315.9 244.6 1316.2 248.6 1310.6 252.6 1307.9 254.6 1307.3 256.6 1307.4 266.6 1310.2 286.6 1311 294.6 1312.5 299.4 1315.3 302 1321.3 306.6 1321.6 307.9 1327.3 309.1 1329.3 321.2 1337.3 324.6 1338.3 334.6 1339.6 346.6 1344.5 356.7 1345 360.7 1344.4 364.7 1342.1 366.4 1339.3 366.5 1337.3 365.2 1335.3 360.7 1332.7 348.6 1330 344.6 1330.6 336.6 1334.1 334.6 1334.4 328.6 1333.4 326.6 1332.4 326.4 1329.3 327.2 1323.3 328.2 1319.3 330.9 1313.3 331.1 1311.3 328.6 1306.7 326.6 1306.5 316.6 1313.8 315.1 1315.3 314 1319.3 312.6 1321.4 307.2 1321.3 308.1 1317.3 312.5 1311.3 315.4 1305.3 317 1303.3 320.6 1300.9 322.6 1300.2 326.6 1299.9 336.6 1301.1 348.6 1303.4 356.7 1303.6 358.7 1304 360.6 1305.3 366.7 1311.5 368.7 1312.7 370.7 1313.1 372.7 1312.7 380.7 1309 386.7 1304 390.7 1301.8 404.7 1297.6 448.7 1297.2 454.7 1295.6 458.7 1296.8 464.7 1296.9 470.7 1298.8 474.7 1298.5 476.7 1297.3 476.4 1295.3 474.7 1293.5 472.7 1292.6 464.7 1292.7 460.7 1290.9 459.3 1289.2 458.5 1285.2 457.4 1283.2 454.2 1279.2 454.4 1275.2 453.7 1273.2 450.7 1268.6 448.7 1266.8 446.7 1266.7 445.8 1267.2 444.7 1269.1 442.7 1270.9 436.7 1268.3 426.7 1267.3 406.7 1266.6 400.7 1268.6 394.7 1266.5ZM496.7 1217 472.7 1219.9 470.2 1221.1 468.7 1222.9 468.5 1225.2 470.4 1229.2 472.7 1231.7 474.7 1232.7 478.7 1233.2 482.7 1232.5 488.7 1229.7 490.7 1229.8 492.7 1230.9 496.7 1228.6 506.7 1225.3 509.3 1223.1 509.8 1221.1 508.9 1219.1 506.7 1217.8ZM512.7 1255.1 508.7 1256.9 505.2 1259.2 500.7 1260.3 497.1 1263.2 495.8 1265.2 496.8 1267.2 499.1 1269.2 500.6 1273.2 499.3 1275.2 496.7 1276.6 490.7 1277.6 488.7 1279.4 487.3 1279.2 487.1 1273.2 488 1269.2 487.1 1267.2 484.7 1265.8 482.7 1266.2 476.7 1271.6 472.7 1273.5 466.7 1275.3 464.4 1277.2 463.8 1279.2 464.2 1283.2 465.3 1285.2 468.7 1287.7 476.7 1289 480.7 1288.6 482.4 1287.2 484.7 1283.9 486.7 1285.6 487.3 1287.2 488.7 1288.9 490.7 1290.2 492.7 1289.5 496.5 1289.2 497.4 1287.2 496.7 1285 498.7 1283.5 499.5 1285.2 501.6 1287.2 511.4 1293.3 517.3 1303.3 517.9 1305.3 514.9 1309.3 512.7 1310.9 504.7 1310.4 500.7 1312.2 498 1315.3 497.8 1317.3 498.7 1318.2 500.7 1318.8 508.7 1319.3 518.7 1317.5 528.7 1317.1 529.4 1315.3 527.3 1313.3 524.7 1307.6 522.8 1305.3 522.8 1303.3 524.9 1301.3 530.7 1300 534.8 1301.3 536.7 1303.3 537.8 1307.3 537.6 1315.3 538.3 1317.3 540.7 1317.7 545.2 1317.3 546.7 1316.6 547.5 1315.3 547.5 1313.3 546.6 1309.3 547 1305.3 545.7 1299.3 546.7 1298.2 548.7 1298.2 556.7 1302.2 558.7 1302.4 560.7 1301.7 566.7 1303.4 620.7 1303.5 632.8 1301.6 644.8 1303.4 666.8 1303.6 684.8 1309 708.8 1312.5 714.8 1314.3 722.8 1317.8 724.8 1318.4 726.8 1318.2 736.8 1314.1 748.8 1313.6 752.8 1312 755.3 1309.3 758.8 1302.4 774.1 1287.2 774.2 1285.2 771.5 1283.2 762.8 1279.2 758.8 1278.1 748.8 1280 744.8 1279.7 736.8 1278 724.8 1280.1 692.8 1280.2 686.8 1279.6 678.8 1277.7 668 1277.2 664.9 1275.2 667.3 1273.2 676.8 1272.6 680.8 1271.8 690.7 1267.2 692.8 1265.2 690.2 1263.2 684.7 1261.2 664.8 1256.6 654.8 1256 624.7 1255.9 608.7 1256.9 532.7 1256.9 528.7 1256.2 520.7 1253.3 518.7 1253.2ZM542.7 1176.6 542 1179.1 542.7 1180.5 544.2 1179.1ZM554.7 1212.5 553.3 1213.1 552.7 1215.1 554.7 1216.7 557.2 1215.1 557.1 1213.1ZM582.7 1156 580.7 1157.7 574.7 1160.3 572.3 1163.1 571.7 1169.1 572.7 1171.8 574.7 1172.8 576.7 1171.4 580.7 1166.3 584.7 1163.7 586.7 1161.6 587.7 1157 586.7 1155.1 584.7 1155.1ZM758.8 1179.9 756.8 1181.4 756.4 1183.1 755.1 1195.1 756.8 1197.2 758.8 1197.8 760.8 1196.7 762 1195.1 763.1 1191.1 760.8 1181.8ZM768.8 1218.3 767 1221.1 767 1223.1 768.8 1224.5 770.8 1225 772.8 1223.2 772.3 1221.1 770.8 1217.9ZM778.8 1259 761.6 1263.2 756.9 1265.2 756.8 1267.2 758.8 1268.9 760.8 1269.7 782.8 1269.8 798.8 1267.7 806.2 1265.2 804.6 1263.2 794.8 1258 792.8 1257.4ZM830.8 1268.9 828.8 1269.8 826.8 1271.7 825.7 1275.2 826.2 1277.2 828.8 1280.4 834.8 1282.1 838.8 1282.5 842.8 1281.3 852.8 1277.4 856.7 1275.2 858.3 1273.2 858.6 1271.2 856.8 1270 850.8 1269.6 840.8 1267.6 836.8 1267.7ZM862.8 1312.9 860.8 1314.7 858.6 1319.3 857.2 1325.3 857.6 1327.3 860.8 1330.8 869.1 1335.3 872.8 1339.3 874.8 1336.7 876.5 1333.3 878 1325.3 877.4 1323.3 874.8 1320 868.8 1317 864.8 1313.5ZM904.9 1427.4 903.6 1429.5 903.7 1431.5 905.2 1433.5 908.9 1435.2 912.9 1435.5 913.9 1433.5 913.7 1431.5 913.1 1429.5 911.6 1427.5 908.9 1426 906.9 1426.2ZM926.9 1435.5 914.9 1435.5 914 1437.5 914.9 1443.5 916.8 1447.5 918.9 1449.5 922.9 1450.5 930.9 1450.4 936.9 1448.6 944.9 1447.9 947.6 1445.5 948.1 1441.5 947.4 1439.5 944.9 1436.8 940.9 1435.5ZM334.6 1367 333.8 1367.4 332.5 1369.4 334.6 1371.6 336.6 1371.3 337.4 1369.4 336.7 1367.4ZM356.7 1405.3 348.6 1406.9 338.6 1407.1 334.6 1407.7 331.5 1409.4 330.3 1411.4 330.4 1415.4 332.6 1416.6 340.6 1416.5 346.6 1418.3 360.4 1417.4 362.3 1415.4 363.2 1413.4 363.8 1409.4 362.8 1407.4 360.7 1405.6 358.7 1405ZM378.7 1413.1 375.2 1415.4 373.3 1419.4 373.2 1425.5 374.7 1427.7 376.7 1428.1 382.7 1427.1 388.7 1423.5 389.8 1421.5 389.3 1417.4 386.7 1414.2 382.7 1412.6ZM620.7 1436.3 619 1437.5 617.4 1439.5 617.1 1441.5 617.9 1443.5 620.7 1445.3 624.7 1445.8 632.8 1445.6 636.8 1443.6 638.1 1441.5 638 1439.5 636.8 1437.7 632.8 1435.7 624.7 1435.5ZM690.8 1425.4 687.3 1427.5 685.9 1429.5 685.6 1431.5 686.9 1435.5 688.9 1437.5 690.8 1438.2 694.8 1438.4 700.8 1436.5 710.8 1436.4 716.8 1434.5 726.8 1434 728.5 1433.5 730.2 1431.5 729.4 1429.5 726.8 1426.9 724.8 1425.6 722.8 1425.2ZM867.4 1127 870.8 1125.8 874.8 1125.5 877.7 1127 879 1129 879.1 1131 876.8 1132.2 872.8 1132.5 868.8 1135 868 1137 869 1139 871 1141 870.9 1143 868.2 1145 869.9 1147 873.2 1149 872.8 1150 871.3 1151 866.8 1150.2 865.1 1151 864.4 1153 865.1 1159 864.9 1161.1 863.8 1163.1 859.3 1167.1 856.8 1171.4 854.7 1171.1 850.8 1166.6 842.8 1163.4 836.8 1162.5 832.8 1161.1 826.8 1160 825.4 1159 822.8 1154.8 812.8 1156 810.9 1155 810.8 1145.5 804.8 1145.2 801.8 1143 802.8 1141 806.8 1140.8 808.8 1141.3 810.7 1143 810.9 1145 812.8 1145.7 828.8 1145.9 840.8 1148.1 844.8 1149.5 848.8 1149.5 852.8 1148.2 854.3 1147 854.4 1145 856.6 1139 857.2 1131 858.8 1130.1 862.8 1129.5ZM802.4 1135 804.8 1134.5 805.1 1135 802.8 1135.4ZM424.7 1137 428.7 1135.5 436.7 1135.4 438.7 1136 440.7 1138.1 443.9 1145 446.7 1147.1 450.7 1148.3 472.7 1148.4 486.7 1145.7 504.7 1145.7 518.7 1148.8 520.4 1151 518.7 1152.9 516.7 1153.3 440.7 1153.4 428.7 1155.2 426.7 1154.8 424.7 1153.5 422.5 1151 421.8 1149 422 1141 422.8 1139ZM264.5 1145 266.6 1143.7 268.6 1143.5 270.6 1144.3 271.2 1145 270.6 1147.4 266.9 1149 264.9 1151 265.2 1153 273.3 1157 272.3 1163.1 270.6 1166.8 268.6 1168.3 266.6 1168.8 260.6 1168.4 256.6 1167.4 252.6 1167.7 249.6 1167.1 254.2 1163.1 257.1 1159 258.2 1157 258 1153 258.6 1150.7 260.6 1148.1ZM518 1273.2 522.7 1272.6 530.7 1272.9 534.5 1275.2 534.3 1277.2 531.4 1281.2 528.7 1281.3 524.7 1279 518.8 1277.2 516.7 1275.9 515.9 1275.2ZM486.4 1281.2 486.7 1279.5 487.1 1281.2 486.7 1282.5ZM573.2 1285.2 574.7 1284.2 576.7 1283.8 579.3 1285.2 576.7 1287.1 574.7 1286.6ZM553.9 1289.2 555 1289.2 555.7 1291.3 554.7 1292ZM946.8 1327.3 947.5 1329.3 946.8 1331.3 944.9 1333.4 942.9 1334.2 940.9 1334.2 937.7 1333.3 936.9 1332.5 936.5 1331.3 938.8 1329.3 942.9 1328.8Z"/>
<path fill="#ffe4e0" d="M220.2 1117 224 1117 227.7 1119 228.9 1121 228.6 1122.7 226.6 1125.4 222.6 1127.2 220.6 1127.4 218.6 1126.8 217.6 1125 217.4 1121 218 1119ZM241.1 1127 244.6 1125.3 246.6 1125 256.6 1125.7 258.8 1127 260.4 1129 261.1 1131 260.8 1133 254.6 1137.3 250.6 1138.3 246.6 1140.5 238.6 1146.9 237.2 1149 235.4 1157 234.4 1159 232.6 1160.5 230.6 1160.8 228.6 1159.9 224.6 1155.8 222.6 1155.9 214.6 1158 214.6 1129.4 216.6 1132.2 219 1141 220.6 1143.7 222.6 1144.7 224.6 1144.1 225.7 1143 228.1 1139 230 1137 236.3 1133ZM280.5 1127 290.6 1125.2 306.6 1127.2 313.9 1129 317.5 1131 318.5 1133 318.2 1135 316.6 1136.8 314.3 1141 312.6 1142.2 308.6 1142.7 307.1 1147 304.6 1147.7 300.6 1147.3 296.6 1145 295.6 1143 296.6 1142.3 298.6 1143.9 300.6 1144.2 302.6 1143.6 305.4 1141 303.5 1139 300.6 1138.5 294.6 1138.8 290.6 1137.2 286.6 1136.4 282.6 1134.1 274.1 1131 275.2 1129ZM1032.4 1129 1036.9 1128.9 1038.9 1129.4 1040.9 1132.2 1040.9 1157.6 1028.7 1159 1026.3 1161.1 1024.9 1164.1 1021 1167.1 1020.1 1169.1 1020.3 1171.1 1021 1173.1 1022.9 1175.6 1036.9 1176.5 1038.7 1177.1 1036.9 1177.9 1036.3 1179.1 1036.7 1181.1 1040.9 1181.9 1040.9 1209.4 1034.9 1210.2 1026.9 1209.6 1022.9 1210.8 1020 1213.1 1018.6 1215.1 1016.9 1221.1 1017.2 1223.1 1018.3 1225.2 1020.9 1227.4 1024.9 1228.5 1030.9 1228.5 1032.9 1228.2 1034.9 1227.2 1038.8 1221.1 1040.9 1218.9 1040.9 1268 1038.4 1265.2 1032.9 1263.3 1022.9 1263.3 1016.9 1264.5 1012.9 1265.9 1010.9 1265.9 1008.9 1264.7 1003.4 1259.2 1000.6 1255.2 999.1 1251.2 1000.3 1243.2 998.9 1239.3 990.9 1238.9 986.9 1240.4 971.1 1253.2 958.9 1259 946.9 1265.8 939 1273.2 937.5 1275.2 936.4 1279.2 930.9 1280 928.7 1279.2 926.8 1277.2 925.8 1273.2 921.9 1265.2 919.8 1263.2 916.9 1261.6 908.9 1258.7 902.9 1259.7 898.8 1258.1 896.8 1257.9 890.8 1259 888.8 1260 887 1261.2 885.5 1265.2 882.8 1266.8 872.8 1269.3 868.8 1272.3 867.2 1275.2 868.6 1287.2 870.6 1295.3 871.9 1297.3 878.8 1301.9 882.9 1307.3 884.8 1308.8 893.6 1313.3 896.7 1315.3 898.5 1317.3 891.1 1327.3 888.4 1337.3 886.8 1340.2 884.8 1341.8 878.8 1342.2 876.8 1340.7 876.4 1339.3 879.5 1325.3 879 1323.3 876.8 1319.6 874.8 1317.5 868.8 1314.3 860.8 1306.4 858.8 1307.3 853.8 1317.3 853.1 1323.3 853.4 1327.3 854.4 1329.3 856.8 1332.1 864.5 1337.3 865.5 1339.3 867.6 1347.3 866.8 1349.9 862.7 1353.3 861.2 1355.3 860.7 1357.4 862.8 1359.8 866.8 1360.2 868.8 1359.6 871.5 1353.3 873.1 1351.3 874.8 1350.3 878.5 1351.3 894.8 1360.5 898.8 1359.3 906.9 1358.2 908 1357.4 908.3 1353.3 908.9 1352.4 910.9 1351.9 912.9 1353.1 916.6 1359.4 918.9 1360.8 920.9 1360.8 922.9 1359.9 928.9 1354.4 930.9 1353.6 932.9 1354.3 935.1 1357.4 937.9 1367.4 937.8 1375.4 936.4 1379.4 932.9 1382.7 930.9 1383.4 926.9 1383.7 925.3 1383.4 925.1 1381.4 923.8 1379.4 920.9 1378.3 918.5 1379.4 918.9 1381.5 920.9 1383.1 924.9 1383.7 925.2 1387.4 923.5 1391.4 916.4 1397.4 916.1 1399.4 918.9 1401.3 924.9 1404 926.9 1406.2 927.9 1409.4 926.6 1413.4 924.6 1415.4 920.9 1417 898.8 1417.4 892.8 1415.5 888.7 1417.4 884.8 1418 876.8 1415.5 872.8 1414.8 852.8 1414.8 848.8 1416.1 846.8 1417.8 842.8 1423 840.8 1424.4 826.8 1429.8 824.8 1429.5 822.6 1427.5 822.3 1421.5 821.8 1419.4 820.5 1417.4 817.6 1415.4 814.8 1414.8 796.8 1414.8 792.8 1415.5 789.9 1417.4 785 1423.5 780.8 1425 738.8 1425 736.8 1424.6 732.9 1421.5 732 1419.4 732.8 1417.4 734.8 1415.8 736.8 1415 746.8 1414.6 750.8 1412.9 752.2 1411.4 752.4 1409.4 751.1 1407.4 748.8 1405.6 744.8 1404.5 714.8 1404.3 710.8 1402.7 706.9 1399.4 703.2 1397.4 700.8 1396.9 694.8 1396.8 690.8 1397 688.8 1397.8 686 1399.4 681.1 1403.4 676.8 1405.4 668.8 1406.9 656.8 1407.3 653.3 1409.4 655.3 1411.4 664.8 1413.7 668.8 1415.2 671.6 1417.4 672.6 1419.4 672.2 1421.5 668.8 1424.6 664.8 1426.2 656.8 1427.7 644.8 1427.7 634.8 1425.6 630.7 1423.5 624.7 1416.5 620.7 1414.9 588.7 1414.6 584.7 1413 580.5 1409.4 576.7 1407.6 562.7 1406.8 552.7 1405 540.7 1407 472.7 1407.3 468.5 1409.4 466.7 1414.9 464.7 1416.3 448.7 1416.5 442.7 1418.4 426.7 1418.2 423.9 1417.4 421.9 1415.4 421.4 1399.4 418.7 1389.4 416.7 1385.7 414.7 1384.3 410.7 1383.7 409.5 1389.4 408.7 1390.8 406.7 1392.7 404.7 1393.4 402.7 1392.9 400.8 1391.4 399.8 1389.4 400.1 1387.4 402.7 1384.9 404.7 1384.1 410.2 1383.4 409.8 1373.4 388.7 1373.4 387.4 1371.4 388.2 1367.4 390.7 1364.5 394.7 1363.1 402.7 1363.1 404.7 1363.4 408 1365.4 409.4 1367.4 410.7 1373.4 414.7 1373 416.7 1372.2 420 1369.4 421.2 1367.4 421.6 1361.4 421.3 1359.4 419.8 1357.4 414.7 1355.5 392.7 1355.2 383.3 1353.3 379.3 1351.3 377.2 1349.3 376.2 1347.3 375.8 1339.3 375.2 1337.3 371.7 1333.3 368.7 1330.9 364.7 1329.4 356.7 1327.6 348.6 1324.7 344.6 1325.4 336.6 1328.7 332.6 1328.1 330.6 1327.1 329.2 1325.3 328.8 1323.3 329.4 1319.3 331.9 1313.3 332.1 1311.3 329.6 1305.3 330.6 1303.7 336.6 1304.7 346.6 1308.3 356.7 1310.6 358.7 1311.8 366.7 1319.4 368.7 1320.5 370.7 1320.5 384.7 1311.9 392 1305.3 402.7 1301.5 406.7 1301 448.7 1300.9 462.7 1299.1 470.7 1300.4 474.7 1300.2 476.9 1299.3 478.6 1297.3 477.7 1293.3 478.3 1291.3 480.7 1290.6 484.7 1288.6 490.7 1292.4 498.7 1290.9 500.7 1291.2 505.2 1293.3 508.7 1295.6 514.5 1303.3 515 1305.3 512.5 1309.3 508.7 1309.7 504.7 1308.8 500.7 1310.4 497.4 1313.3 495.7 1315.3 494.2 1319.3 494.7 1320.2 496.7 1321.5 506.7 1321.6 522.7 1320.3 530.7 1320.4 540.7 1321.4 546.7 1320.3 548.7 1318.9 549.4 1317.3 550 1309.3 551.7 1303.3 552.7 1302.9 561.4 1307.3 564.7 1308.4 586.7 1307.8 592.7 1308.5 598.7 1310.4 620.7 1307.9 634.8 1308.6 666.8 1308.8 678.8 1311.2 692.8 1312.9 700.8 1314.5 709.6 1317.3 722.8 1323.2 726.8 1324 738.8 1321.7 768.8 1321.6 782.8 1318.9 804.8 1318.9 814.8 1320.7 816.8 1320.2 818.4 1317.3 817.5 1315.3 814.8 1314.2 804.8 1314 792.8 1311.5 784.8 1311.3 780.8 1310.4 778.8 1308.9 776.8 1305.3 776.6 1299.3 777.7 1295.3 780.8 1292.2 782.8 1291 792.8 1290.4 802.8 1288.1 836.8 1288 842.8 1287 852.8 1281.7 859.6 1275.2 861.1 1273.2 861.3 1271.2 860.5 1267.2 858.8 1265.3 852.8 1265.6 844.8 1263.8 828.8 1262.5 816.8 1263 806.8 1260 800.8 1257.2 798.1 1255.2 796 1251.2 795.2 1237.2 794.8 1235.1 793.6 1233.2 790.8 1230.9 788.8 1231.3 786.8 1232.8 784.8 1232.5 780.8 1230 778.8 1227.9 772.8 1216.6 770.8 1214.3 768.8 1213.8 764.9 1215.1 757.5 1219.1 755.4 1221.1 755.3 1223.1 757.8 1225.2 768.8 1230.1 774.8 1232 776.8 1233.3 780.8 1237.3 785.8 1241.2 787.3 1243.2 787.9 1245.2 787.9 1251.2 786.9 1253.2 782.8 1255.2 762.8 1260.1 744.8 1263.6 720.8 1264.2 704.8 1263.6 700.8 1262.8 666.8 1251.9 632.8 1251.6 618.7 1249.2 576.7 1249 574.7 1248.3 568.7 1244.3 564.7 1243 560.7 1244.1 554.7 1248.3 552.7 1249 520.7 1249.2 512.4 1251.2 507.5 1253.2 503.1 1257.2 500.7 1258.2 498.7 1258.2 496.7 1256.9 495.3 1257.2 494.5 1259.2 495 1261.2 492.7 1262.8 488.7 1262.2 486.7 1260.8 482.7 1263.4 477.6 1269.2 475 1271.2 468.7 1272.9 456.7 1272.5 454.7 1271.3 451.8 1267.2 448.7 1264.4 446.7 1264.1 442.7 1265.4 440.7 1264.6 439.1 1263.2 436.7 1259.9 434.7 1259.5 428.7 1259.7 416.7 1262 406.7 1262.1 404.7 1262.9 403.7 1265.2 400.7 1267.1 398.7 1266.3 394.9 1263.2 392.7 1262.9 388.7 1261.2 386.7 1261.1 380.7 1262.2 372.7 1262.9 346.6 1263.4 338.6 1265.7 330.6 1266.9 326.3 1271.2 322.6 1273.6 312.8 1275.2 310.9 1281.2 308.6 1284.7 304.6 1288.1 302.6 1289.1 300.6 1289.2 292.6 1288.4 288.6 1286.8 285.7 1283.2 282.3 1275.2 278.6 1272.3 268.6 1270.9 246.6 1270.1 242.6 1270.2 236.6 1271.2 230.6 1271.1 228.6 1270.4 224.6 1267.5 218.6 1268.2 216.6 1268 214.6 1265.8 214.6 1221 218.6 1217.3 225.7 1213.1 226.8 1211.1 227 1209.1 225.3 1207.1 222.6 1206.9 218.6 1208.9 214.6 1209.8 214.6 1181.5 222.6 1183.4 230.6 1187.6 232.6 1187.8 243.5 1183.1 250.6 1178.9 254.6 1177.2 258.6 1176.8 288.6 1176.7 302.6 1174.2 312.6 1174.2 324.6 1176.5 337.4 1177.1 340.6 1178 346.6 1182.2 348.6 1181.9 350.5 1179.1 352.5 1173.1 354.4 1171.1 358.7 1169.3 370.7 1170.3 380.7 1173.7 382.7 1173.9 402.7 1173.3 416.7 1175.2 428.7 1173.2 438.7 1173.1 450.7 1170.1 492.7 1169.9 498.7 1170.7 506.7 1173.9 519.7 1181.1 521.4 1183.1 522.7 1186.2 524.7 1186.6 534.7 1182.2 538.1 1179.1 538.7 1174.6 539.7 1175.1 539 1177.1 541 1183.1 542.7 1184.6 545 1183.1 546.4 1181.1 546.5 1179.1 545.9 1177.1 544.2 1175.1 542.7 1170.1 540.7 1168.7 529.9 1167.1 529.7 1165.1 540.7 1160.4 542.7 1160.1 547.5 1161.1 548.7 1161.9 556.7 1168.6 558.1 1171.1 557.8 1173.1 552.7 1178.6 551.4 1181.1 551.1 1183.1 551.6 1185.1 552.7 1186.4 554.7 1187 562.7 1187.1 574.7 1184.5 578.9 1183.1 580.7 1181.1 579.7 1175.1 580.4 1171.1 582.7 1167.8 588.5 1163.1 590.7 1157.6 592.7 1156.6 604.7 1156 608.7 1154.6 614.7 1153.7 620.7 1154 624.3 1155 626.7 1156.8 628.9 1159 632.8 1164.7 634.8 1166 664.8 1166.4 668.8 1165.6 674.8 1162.4 676.9 1161.1 678.8 1157.4 680.8 1156.6 684.8 1157.2 690.8 1155.2 694.8 1155.5 702.8 1153.4 704.8 1153.4 710.8 1155.8 718.8 1156 722.8 1157.1 724.8 1156.6 730.8 1153.6 736.8 1152.6 744.8 1154.2 748.8 1156.9 755.1 1169.1 755.7 1171.1 755.3 1173.1 752.9 1177.1 752.4 1179.1 754 1185.1 753 1195.1 753.7 1197.1 756.8 1199.8 758.8 1200.6 760.8 1199.8 764 1195.1 764.9 1191.1 764.1 1183.1 764.8 1179.1 766.8 1176.9 772.8 1174.3 778.5 1167.1 780.8 1165.8 784.8 1165.1 796.8 1165.2 802.8 1165.8 804.8 1166.9 808.5 1173.1 810.3 1175.1 817.5 1181.1 818.9 1183.1 818.3 1191.1 817.3 1193.1 812 1199.1 809.7 1203.1 807.8 1211.1 808.3 1213.1 810.8 1215.1 814.8 1216.7 826.8 1219.8 832.8 1219.9 838.8 1217.9 844.8 1218.8 847.2 1221.1 848.8 1225.8 850.8 1227.7 852.8 1228.1 854.8 1227.5 855.8 1225.2 855.3 1221.1 853.6 1217.1 853.7 1215.1 854.8 1213 859.3 1209.1 860.6 1207.1 861.2 1201.1 862.8 1199 866.8 1198.8 874.8 1194.4 880.8 1192.7 888.8 1191.6 894.8 1189.5 898.8 1189.2 906.9 1190.2 910.9 1190.1 920.9 1187.5 924.9 1187.1 926.3 1181.1 930.9 1175.7 932.1 1173.1 934.4 1165.1 936.3 1161.1 937 1157 942.9 1152.9 944.9 1152.6 950.9 1153.2 954.9 1152.9 958.4 1151 959.5 1149 959.3 1147 956.5 1145 950.9 1143 949.1 1141 949.5 1139 952.9 1135.9 958.9 1133.8 964.9 1132.9 968.9 1133.4 976.9 1136.4 978.9 1136.7 984.9 1135.5 1002.9 1136.4 1018.9 1133.8ZM482.7 1296.2 481.7 1297.3 484.7 1298.5 490.7 1298.2 493.8 1297.3 492.7 1296.4 490.7 1296 484.7 1295.7ZM562.7 1335.6 562.9 1339.3 564.7 1340.9 565.3 1339.3 564.7 1336.1ZM576.7 1356.9 575.8 1357.4 574.7 1359.4 575.8 1361.4 576.7 1362.3 580.7 1363 586.7 1362.5 590.5 1359.4 590.7 1357.4 586.7 1355.8ZM758.8 1346.3 757.8 1347.3 757.8 1349.3 758.8 1350.8 760.8 1350.8 762.6 1349.3 763 1347.3 760.8 1346.1ZM242.6 1240 241 1241.2 240.7 1243.2 242.6 1244.2 244.6 1244.5 247.6 1243.2 247.4 1241.2 246.6 1240.5 244.6 1239.6ZM278.6 1240 277.5 1241.2 277.6 1243.2 278.6 1243.7 281.5 1243.2 281.7 1241.2 280.6 1240.3ZM426.7 1221.7 425.2 1223.1 425.3 1225.2 426.7 1226.7 428.7 1226 429.5 1223.1 428.7 1222.1ZM542.7 1186.6 540.7 1187.1 539.7 1189.1 539.6 1191.1 540.7 1192.3 544.7 1192.9 546.7 1192.3 548.4 1191.1 548.7 1189.1 546.7 1187.6ZM564.7 1198.8 562.7 1200.7 560.2 1205.1 558.7 1206.2 552.7 1208.6 549.6 1211.1 548.1 1213.1 546.3 1217.1 544.7 1219.2 542.7 1220.3 538.7 1220.4 530.7 1218.3 528.7 1216.7 527.1 1213.1 524.7 1211.9 518.7 1210.8 514.7 1211.7 513.6 1209.1 509 1203.1 506.7 1201.5 504.7 1201.6 503.7 1203.1 502.7 1209.8 502 1211.1 499.2 1213.1 492.7 1214.3 484.7 1214.8 470.7 1217.6 467.5 1219.1 465.3 1221.1 464.4 1223.1 464.7 1225.2 467.3 1229.2 472.7 1233.9 476.7 1235.1 482.7 1235.6 484.7 1235.4 488.7 1232.9 492.7 1233.5 496.7 1230.9 508.7 1228.1 512.7 1226.2 518.7 1221.4 520.7 1221.2 522.7 1221.5 529.2 1225.2 532.7 1225.7 552.7 1225.8 574.7 1224.7 580.2 1223.1 581.7 1221.1 581.9 1215.1 581.3 1213.1 578.7 1210.2 572.7 1205.5 568.7 1201.1 566.7 1199.5ZM926.9 1187.1 925.7 1189.1 926.9 1191.1 928.9 1192.1 930.9 1192 931.4 1191.1 930.9 1188.8 928.9 1187.4ZM974.9 1208.7 964.9 1210.8 960.8 1213.1 959.9 1215.1 959.8 1219.1 959.9 1221.1 960.8 1223.1 964.6 1225.2 966.9 1225.1 970.5 1223.1 974.9 1219.3 978.9 1217 980.9 1215.3 981.8 1213.1 980.9 1210.7 978.9 1209 976.9 1208.4ZM492.7 1243.1 490.6 1245.2 492.7 1247.3 494.5 1245.2ZM930.9 1229.1 921 1231.2 917.3 1233.2 918.3 1235.2 920.9 1235.8 928.9 1236 932.9 1235.2 935.2 1233.2 934.8 1231.2 932.9 1229.6ZM927.3 1147 930.9 1146.2 933.3 1147 935.5 1149 936.5 1151 936.7 1153 934.9 1154.8 929.8 1153 927.8 1151 926.7 1149ZM214.6 1271.2 214.6 1270.7 216.4 1275.2 225.9 1285.2 226.8 1287.2 227 1293.3 223.6 1303.3 223.5 1305.3 224.8 1309.3 227.3 1313.3 230.6 1316.3 232.6 1317.2 238.6 1318.2 241 1319.3 243.2 1323.3 244.6 1329.2 245.3 1323.3 248.4 1315.3 250.6 1312.3 254.6 1309.9 256.6 1309.7 266.6 1311.9 286.6 1313 296.6 1315 298.7 1317.3 297.5 1321.3 299.7 1327.3 299.7 1329.3 298.4 1333.3 298.4 1335.3 300.6 1338.4 302.6 1339.4 312.6 1339.9 330.6 1343.5 336.5 1345.3 340.1 1347.3 344.6 1351.2 350.6 1354.9 354.7 1358.7 361.7 1361.4 364.8 1363.4 366.2 1365.4 367 1369.4 364.7 1379.4 364.3 1387.4 363.8 1389.4 362.5 1391.4 352.3 1399.4 348.6 1401.2 344.6 1401.8 334.6 1402 322.6 1404.4 314.6 1404.4 300.6 1401.3 296.8 1399.4 292.6 1395.6 290.6 1394.6 278.6 1393.8 276.6 1392.9 270.6 1387.7 268.6 1386.9 254.6 1386.3 242.6 1383.8 234.6 1383.8 222.6 1386.1 218.6 1385.5 216.6 1384.5 214.6 1382.6ZM334.6 1361.2 321.3 1367.4 320.3 1369.4 321.3 1371.4 326.6 1375.5 332.6 1381.7 334.6 1382.8 336.6 1383 346.6 1381 350.6 1379.4 350.8 1377.4 345.8 1371.4 343.3 1365.4 341.9 1363.4 338.6 1361.3ZM698.3 1271.2 704.8 1269.9 722.8 1269.9 726.8 1270.9 729 1273.2 727.9 1275.2 722.8 1276.4 692.8 1276.2 688.8 1275.2 690.2 1273.2ZM746.3 1271.2 748.8 1271.3 750.8 1272.9 750.5 1275.2 748.8 1275.7 745.2 1275.2 744.1 1273.2ZM793.4 1271.2 804.8 1270 814.8 1270 817.5 1271.2 818.7 1273.2 819 1275.2 818.6 1277.2 817.3 1279.2 814.8 1280.9 808.8 1282.4 800.8 1282.9 782.8 1282.7 770.3 1277.2 768.5 1275.2 772.6 1273.2 774.8 1272.9ZM1009 1271.2 1010.9 1270.2 1014.9 1269.4 1020.9 1270.3 1036.9 1270.2 1038.9 1270.7 1040.9 1275.4 1040.9 1384.5 1038.9 1382.6 1035.3 1377.4 1032.9 1376.1 1020.9 1373.4 1000.9 1373.2 996.9 1371.5 995.1 1369.4 994.3 1367.4 994.2 1359.4 994.7 1357.4 996 1355.3 1000.9 1350.4 1001.4 1347.3 998.9 1345.2 990.9 1343.3 986.5 1341.3 978.9 1333.8 973.1 1329.3 971.8 1327.3 971.2 1323.3 971.4 1317.3 974.9 1306.2 976.9 1304.2 984.9 1302.1 988.9 1300.2 993.3 1293.3 1000.6 1287.2 1002.2 1285.2 1005.5 1275.2ZM947.2 1289.2 950.9 1288 952.9 1288.3 956.9 1290.4 958.9 1292.5 959.3 1297.3 959 1299.3 956.9 1302.1 952.9 1304.8 948.9 1304.7 942.9 1302.8 940.9 1300.5 939.3 1297.3 939.1 1295.3 940.9 1292.3 942.9 1290.8ZM322.6 1303.3 324.6 1302.8 328.4 1303.3 326.6 1304.1 326.1 1305.3 322.6 1307.9 320.6 1308.8 319.2 1307.3 320 1305.3ZM527.1 1303.3 530.7 1302.8 532.7 1303.7 534 1305.3 534.6 1307.3 534.6 1311.3 533.5 1313.3 530.7 1313.5 528.3 1311.3 527.3 1307.3 526 1305.3ZM378.6 1375.4 382.7 1373.6 386.7 1373.4 387.3 1375.4 386.5 1379.4 384.7 1381.7 382.7 1382.8 380.7 1382.8 378.2 1381.4 377 1379.4 377.1 1377.4ZM356.4 1421.5 362.7 1422.8 363.2 1423.5 358.7 1424.4 356.3 1423.5ZM593.1 1435.5 596.7 1434.1 600.7 1433.6 604.7 1435.4 607.3 1439.5 607.6 1443.5 606.7 1445 604.7 1445.8 590.7 1445 586.7 1445.4 586.1 1443.5 587.9 1439.5 589.5 1437.5Z"/>
<path fill="#ffcac0" d="M290.1 1129 300.6 1129.4 305.9 1131 307.9 1133 309.2 1137 308.6 1137.5 302.6 1136.4 296.6 1136.6 286 1133 285.7 1131ZM1028.8 1137 1032.9 1136.3 1034.9 1137.3 1036 1139 1038.8 1149 1038.3 1151 1036.9 1152 1032.9 1153.5 1022.9 1155.7 1018.9 1156 1017 1155 1016.6 1151 1015.6 1149 1013.3 1147 1010.9 1146.4 1008.9 1146.9 1006.8 1149 1006.8 1151 1008.2 1153 1010.9 1155.1 1012.9 1155.8 1016.9 1156 1016.6 1161.1 1014.2 1171.1 1014.6 1175.1 1016.2 1181.1 1016.2 1183.1 1014.9 1185.3 1010.9 1186.9 1002.9 1187.1 998.9 1187.8 996.7 1189.1 991.9 1195.1 988.9 1196.9 976.9 1198.1 968.9 1203.7 954.9 1207.6 950.9 1210.7 944.9 1216.9 942.9 1218 938.9 1219.4 930.7 1221.1 908 1231.2 904.8 1233.2 904.1 1235.2 905.5 1237.2 910.9 1239.8 918.9 1241.3 928.9 1241.5 936.9 1240.6 942.9 1238.7 945.4 1237.2 950.2 1231.2 952.9 1229.4 954.9 1229.2 964.9 1231 976.9 1229.1 978.9 1229.7 980.7 1231.2 981.4 1233.2 980.6 1235.2 976.9 1238.3 974.9 1238.8 966.9 1238.9 964.9 1239.4 962 1241.2 960.5 1243.2 959.9 1245.2 959.7 1251.2 958.9 1253.2 956.7 1255.2 940 1263.2 932.9 1268 930.9 1268.5 928.9 1266.6 926.6 1263.2 923.8 1261.2 912.9 1256.8 908.9 1255.8 906.9 1256 902.9 1257.5 896.8 1257 892.8 1257.6 880.8 1260.6 879.8 1261.2 878.7 1263.2 868.8 1268.3 864.8 1272.3 862.8 1269.7 861.4 1265.2 858.8 1263.5 850.8 1263.4 846.8 1261.9 834.8 1259.8 828.8 1257.7 826.8 1257.6 816.8 1259.2 808.8 1257.1 804.8 1255.5 802.2 1253.2 800.6 1249.2 799.4 1243.2 797.3 1239.2 796.5 1235.2 794.6 1231.2 790.8 1228.2 786.8 1223.8 784.2 1223.1 785.5 1227.2 784.8 1228.7 782.8 1227.8 780.5 1225.2 779.6 1223.1 782.7 1221.1 781.8 1217.1 780.8 1215.6 778.8 1214.8 776.8 1217.3 774.8 1216.2 772.8 1213.5 770.8 1212 764.6 1209.1 762.4 1207.1 761.7 1205.1 761.9 1203.1 766 1195.1 766.7 1191.1 766.8 1183.1 767.4 1181.1 768.8 1179.5 776.8 1176.5 778.8 1171.1 780.6 1169.1 782.8 1168 790.8 1167.7 796.8 1168.5 800.8 1170.4 802.8 1172 812.1 1181.1 813.5 1183.1 814.1 1185.1 814.3 1191.1 813.5 1193.1 807.6 1201.1 804.8 1207.4 802.4 1211.1 802.3 1213.1 809.7 1217.1 818.8 1219.4 830.8 1220.7 834.8 1220.2 838.8 1218.7 842.3 1219.1 845 1221.1 846.5 1227.2 848.8 1230.4 850.8 1231.4 854.8 1231.8 856.8 1230.9 857.6 1227.2 857.3 1223.1 854.9 1217.1 854.9 1215.1 855.9 1213.1 863.1 1207.1 864.6 1203.1 866.3 1201.1 874.8 1195.4 878.8 1194.7 886.8 1195.1 898.8 1193.3 918.9 1193.9 930.9 1196.9 932.9 1196.3 934.6 1195.1 936 1193.1 936.4 1191.1 934.6 1181.1 937.2 1171.1 939.2 1167.1 942.9 1163.8 950.9 1159.6 962.9 1157 966.9 1155.3 969.6 1153 970.6 1151 970 1147 966.9 1142.3 963.7 1141 964.2 1139 966.9 1138.7 978.9 1139.3 984.9 1138.7 988.9 1139.4 1002.9 1139.8 1020.9 1138.3ZM988.9 1141.7 987.1 1143 986.1 1145 987.1 1147 988.9 1148.3 992.9 1148.9 996.9 1148.7 1000.2 1147 1001.5 1145 998.9 1143.4 992.9 1142.9ZM230.4 1151 232.6 1150.9 233.3 1153 232.6 1157 230.6 1157.8 228.5 1155 228.7 1153ZM607.6 1157 610.7 1156.3 615.7 1157 621.5 1159 624 1161.1 625 1163.1 627.6 1173.1 627.7 1175.1 626.7 1176.7 590.7 1176.7 588.7 1176.2 586.7 1174.6 585.5 1171.1 586.3 1169.1 592.6 1163.1 594.6 1159 598.7 1158.2 604.7 1157.9ZM699.8 1157 704.8 1155.8 710.8 1157.8 716.8 1157.9 722.8 1159.5 728.8 1158.4 734.8 1156.6 738.8 1156.9 742.7 1159 744.5 1161.1 749 1169.1 749.5 1171.1 748.8 1173 742.8 1167.7 734.8 1164.7 732.8 1164.4 726.8 1166 722.8 1166.4 692.8 1166.4 686.8 1165.3 685.2 1163.1 686.9 1161.1 690.8 1158.2 694.8 1158.4ZM536.4 1165.1 540.7 1164.3 542.7 1164.7 546.3 1167.1 548.3 1169.1 549.4 1171.1 548.7 1174.2 546.7 1174.7 544.3 1169.1 542.7 1167.3 540.7 1166.2 538.7 1166.2ZM447.3 1175.1 454.7 1174.2 492.7 1174.2 496.7 1174.7 510.3 1181.1 512.8 1183.1 516.7 1189.1 520.7 1190.2 522.7 1189.8 530.7 1185.6 534.7 1184.6 536.7 1183.3 537.5 1185.1 536.2 1191.1 536.8 1193.1 538.7 1195.1 540.7 1195.8 550.7 1196.8 552.7 1197.4 554.6 1199.1 555.2 1201.1 554.5 1203.1 548.7 1207.8 542.7 1213.9 540.7 1214.6 536.7 1213.3 532.7 1209.8 530.9 1209.1 526.7 1209.3 522.7 1208.8 514.7 1205.8 512.7 1204.4 509.8 1201.1 506.7 1195.9 492.8 1201.1 493.7 1203.1 492.8 1205.1 488.7 1209.6 476.7 1213.2 466.7 1215.2 462.8 1217.1 460.7 1220.7 460.2 1223.1 461.3 1227.2 462.7 1229.6 464.7 1231.4 470.6 1235.2 472.7 1237.9 474.7 1239.3 482.7 1241.1 484.7 1240.8 489.4 1237.2 496.7 1233.2 510.7 1231.7 518.7 1229.3 530.7 1231.1 550.7 1231.2 564.7 1228.6 578.7 1228.1 589.9 1225.2 592.7 1223.1 593.3 1221.1 593.4 1215.1 592.7 1212.4 590.7 1209.7 584.8 1205.1 579.1 1199.1 573.9 1195.1 572.7 1193.1 573.9 1191.1 576.7 1190 588.7 1187.2 618.7 1187.1 622.7 1186.5 625.1 1185.1 626.7 1183.1 627.4 1181.1 627.7 1177.1 628.8 1176.8 736.8 1177 738.8 1177.7 740.7 1179.1 742.1 1183.1 742.2 1219.1 742.9 1223.1 744.8 1225.5 748.8 1228.7 760.8 1231.9 763.5 1233.2 769 1237.2 775.2 1243.2 776.5 1247.2 776.4 1251.2 775.2 1253.2 771.1 1255.2 758.8 1258.2 736.8 1260.8 712.8 1260.7 702.8 1259.6 694.6 1257.2 689 1255.2 679.3 1249.2 672.8 1247.3 666.8 1246.6 636.8 1246.5 632.8 1246 630.6 1245.2 624.7 1240.5 620.7 1239 600.7 1238.9 590.7 1241 580.7 1241.5 576.7 1241.3 564.7 1238.9 532.7 1238.9 528.7 1239.8 524.4 1243.2 520.3 1245.2 506.7 1249.9 499.9 1255.2 494.7 1255.6 490.7 1258.2 486.7 1256.5 484.7 1256.6 480.7 1258.3 477.5 1261.2 474.7 1269.2 472.7 1270 470.7 1270.1 456.7 1265.1 454.7 1263 452.6 1259.2 448.7 1254.9 446.7 1254.2 444.7 1254.9 442.7 1257.2 440.7 1255.4 436.7 1248.9 432.7 1249.5 428.7 1249.1 424.7 1250.8 419.5 1255.2 416.7 1256.3 400.7 1256.9 396.7 1259.6 394.7 1260.3 392.7 1260.1 388.7 1256.8 386.7 1256.3 370.7 1259.4 346.6 1259.9 334.6 1263.1 330.6 1265 326.6 1269.7 322.6 1272.4 320.6 1272.8 314.6 1271.7 312.6 1271.9 310.6 1273 309.1 1275.2 308.7 1281.2 307.8 1283.2 305.9 1285.2 302.6 1286.3 296.1 1285.2 290.6 1282.8 288.6 1280.8 283.8 1273.2 278.6 1270.1 268.6 1269.1 244.6 1268.5 236.6 1269.7 230.6 1269.7 224.6 1264.5 220.6 1262.1 214.6 1260.4 214.6 1243.9 218.6 1240.5 220.6 1239.7 222.6 1239.8 224.6 1240.9 229.8 1245.2 232.6 1246.4 242.6 1248.8 246.6 1248.4 256.7 1245.2 260.9 1243.2 264.6 1240.4 266.6 1239.9 268.6 1241.2 272.6 1245.3 276.6 1247.2 280.6 1247.5 286.6 1246.3 290.6 1244.8 292.5 1243.2 294.3 1239.2 297.1 1235.2 297.3 1233.2 286.6 1226.3 284.6 1223.1 283.2 1219.1 274.6 1217.6 269.5 1215.1 266.6 1214.3 264.6 1214.5 260.6 1217.5 258.6 1218 254.6 1218 250.6 1217.1 238.6 1218.1 238.4 1215.1 236.6 1207.1 227.5 1205.1 222.6 1205 218.6 1206.8 214.6 1207.8 214.6 1184.1 222.6 1186.3 230.1 1189.1 232.6 1189.2 236.6 1187.6 240.6 1187 244.6 1185 250.6 1184.1 255.4 1181.1 258.6 1180.6 292.6 1180.2 302.6 1179 310.6 1179.4 314.6 1180 322.6 1183.8 328.6 1183.6 334.6 1181 336.6 1181.4 344.6 1186.1 350.6 1188.1 351.8 1189.1 354.3 1193.1 356.7 1195 360.7 1195.8 368.7 1194 370.8 1193.1 372 1191.1 371.5 1189.1 368.7 1186.6 358.7 1184 357.3 1183.1 356.8 1181.1 357.6 1179.1 358.7 1177.8 360.7 1176.9 368.7 1176.9 380.7 1179.1 392.7 1176.9 402.7 1176.8 416.7 1177.9 428.7 1176.8 438.7 1176.7ZM490.7 1242.6 489.1 1245.2 489.3 1247.2 490.7 1248.6 492.7 1248.8 494.7 1247.2 495.7 1245.2 495.4 1243.2 494.7 1242.2 492.7 1241.7ZM654.8 1208.9 652 1211.1 650.7 1215.1 650.7 1221.1 651.4 1223.1 654.3 1225.2 658.8 1225.8 678.8 1225.8 690.8 1227.9 692.8 1227.2 695 1225.2 695.6 1223.1 694.8 1221.1 692.8 1219.3 690.8 1218.5 668.8 1218 664.8 1216.2 658.8 1209.3 656.8 1208.5ZM264.6 1188.7 262.5 1191.1 262.6 1195.1 264.6 1198.6 266.6 1198.8 268.6 1195.8 272.1 1193.1 271.8 1191.1 268.6 1188.2 266.6 1187.9ZM426.7 1219 423.3 1221.1 422.2 1223.1 422 1225.2 423.2 1229.2 424.7 1230.7 426.7 1231.2 428.7 1230.5 430.7 1228.4 432.3 1225.2 432.4 1223.1 430.7 1220.3 428.7 1219.1ZM1035.4 1185.1 1036.9 1184.1 1040.9 1184.6 1040.9 1207.4 1034.9 1208.4 1030.9 1207.5 1026.3 1205.1 1022.9 1201.1 1019.2 1199.1 1017.6 1193.1 1018.1 1191.1 1018.9 1190.1 1020.9 1189 1032.9 1188 1034.2 1187.1ZM997.9 1209.1 1000.9 1208.7 1004.2 1211.1 1008.8 1221.1 1008.8 1223.1 1007.3 1225.2 1002.9 1227.9 1000.9 1228.2 997.7 1227.2 995.5 1225.2 994.5 1223.1 994.5 1213.1 995.5 1211.1ZM230.1 1219.1 236.6 1218.2 238.5 1219.1 238.1 1223.1 237.1 1225.2 235 1227.2 232.6 1228.2 226.6 1228.5 222.6 1228.2 220.6 1227.1 219.5 1225.2 219.7 1223.1 220.6 1222.1 222.6 1220.9ZM1005.4 1239.2 1008.9 1238.9 1012.9 1239.8 1019.8 1245.2 1024.9 1246.4 1034.9 1246 1037.1 1245.2 1040.9 1242.2 1040.9 1260.8 1034.9 1259.7 1024.9 1259.6 1018.9 1260.5 1012.9 1263.1 1010.9 1263.3 1008.9 1262.1 1002.9 1255.9 1000.9 1251.2 1001 1249.2 1002.1 1247.2 1003.9 1241.2ZM782.1 1275.2 802.8 1274.1 804.8 1274.2 807.6 1275.2 805 1277.2 800.8 1277.5 783.5 1277.2ZM862.7 1275.2 864.1 1277.2 864.7 1279.2 868.8 1297.3 870.8 1299.6 877.1 1303.3 881.5 1309.3 890.8 1314.3 892.3 1315.3 893.3 1317.3 892.7 1319.3 887.3 1327.3 885.1 1337.3 882.8 1338.5 880.8 1338.5 879.1 1337.3 880.8 1325.3 880.4 1323.3 876.8 1317.3 870.8 1314.2 865.4 1309.3 862.8 1305.4 858.8 1301.3 852.6 1293.3 852.3 1291.3 854.5 1283.2 857.3 1279.2ZM1011.5 1281.2 1014.9 1280.3 1032.9 1280.5 1034.9 1281.3 1037.4 1283.2 1039.1 1285.2 1039.8 1287.2 1040 1303.3 1040.9 1306.2 1040.9 1374.5 1038.9 1372.6 1031.3 1369.4 1024.9 1364.3 1022.9 1363.4 1012.9 1362.9 1008.6 1361.4 1006.8 1359.4 1006.3 1357.4 1008.1 1349.3 1007.8 1347.3 1006.7 1345.3 1002.9 1341.8 995.2 1337.3 986.9 1330.5 983.8 1327.3 982.9 1325.3 982.9 1317.3 984.9 1313.7 986.9 1312.2 990.9 1311.3 998.9 1311.1 1010.9 1308.4 1013.7 1307.3 1015.4 1305.3 1014.6 1303.3 1012.9 1302 1010.9 1301.2 1000.9 1300.6 998.9 1299.3 998 1297.3 998.9 1294.8 1004.7 1291.3 1006.7 1289.2 1009.7 1283.2ZM214.6 1285.2 215.5 1287.2 216 1305.3 223.5 1315.3 225.8 1317.3 229.7 1319.3 236.3 1321.3 238.6 1323.2 241.9 1335.3 242.9 1337.3 244.6 1338.9 246.6 1339.2 248.6 1337.9 248.6 1333.3 247.6 1327.3 248.2 1323.3 251 1315.3 254.6 1312.2 258.6 1312.1 268.6 1313.9 280.6 1314.3 294.6 1316.5 296.4 1317.3 295.7 1321.3 298 1327.3 297.9 1329.3 293.9 1335.3 293.8 1337.3 294.6 1339.3 298.6 1343.1 302.6 1344.8 322.6 1346 327.8 1347.3 329.7 1349.3 330.1 1351.3 329.9 1355.3 329 1357.4 324.6 1360 300.6 1366.4 298.4 1367.4 290.6 1372.9 278.6 1374 271.6 1379.4 268.6 1380.6 260.6 1381.1 254.6 1380.5 250.6 1378.7 244.6 1374.2 240.6 1373.4 232.6 1373.7 230.6 1374.6 224.8 1379.4 222.6 1380.1 220.6 1379.8 214.6 1372.6ZM808.3 1293.3 836.8 1293.2 840.8 1293.7 844.2 1295.3 852.7 1303.3 853.2 1305.3 852.8 1307.3 850.8 1310.2 848.8 1311.1 838.8 1311.9 836.5 1313.3 835 1315.3 834.9 1317.3 836.8 1319.9 842.8 1323.8 847.1 1329.3 855.5 1337.3 856.6 1339.3 856.4 1347.3 854.6 1353.3 854.1 1357.4 855.3 1361.4 858.8 1364.4 862.8 1365.5 866.8 1365.4 870.9 1361.4 872.8 1357.5 874.8 1354.9 876.8 1355.4 880.8 1358 894.8 1363.6 896.8 1363.3 898.8 1361.3 900.8 1360.7 906.9 1360.3 910.9 1358.1 912.8 1359.4 914.9 1362.3 918.9 1363.9 920.9 1363.8 924.9 1362.3 928.9 1359 930.9 1358 932.4 1359.4 935 1367.4 934.4 1371.4 932.9 1373.9 930.9 1375.2 928.9 1375.2 922.9 1373.9 918.9 1373.7 913.6 1375.4 911.9 1377.4 911.5 1379.4 912.9 1387.4 912.6 1389.4 911.1 1391.4 906.9 1394.5 895.8 1397.4 892.6 1399.4 891.4 1401.4 891.1 1403.4 892.8 1404.4 906.9 1404.5 918.9 1407.3 921 1409.4 919.4 1411.4 916.9 1412 902.9 1412 895.1 1411.4 891.9 1409.4 890.8 1404.5 762.8 1404.4 758.8 1403.4 750.8 1395.8 746.8 1394.2 738.8 1394.1 726.8 1396.5 716.8 1396.7 712.8 1396.1 702.8 1391.9 698.8 1391.4 690.8 1391.7 670.8 1400.6 666.8 1401.7 654.8 1402 642.8 1404.4 622.7 1404.6 610.7 1407 588.7 1406.9 576.7 1402.3 564.7 1401.6 554.8 1397.4 552.7 1397.2 550.7 1397.5 544.7 1400.5 540.7 1401.7 472.7 1401.5 468.7 1399.8 463.9 1395.4 460.7 1394.2 430.7 1394 428.7 1393.7 426.7 1392.3 424.7 1388.3 422.7 1379.4 423.5 1377.4 430.6 1371.4 432.7 1368 433 1359.4 432.5 1357.4 431.2 1355.3 426.7 1352.4 418.7 1350.4 394.7 1349.9 390.7 1348.9 388.4 1347.3 387.5 1345.3 387.2 1339.3 386.7 1337.3 378.8 1329.3 377.5 1327.3 378 1325.3 379.8 1323.3 395.4 1309.3 398.2 1307.3 402.7 1305.2 406.7 1304.6 450.7 1304.5 472.7 1303.5 476.7 1302.7 480.7 1300.7 494.7 1299.9 496.7 1298.2 500.7 1301.9 502.7 1302.2 506.7 1301.3 511.6 1305.3 511.4 1307.3 508.7 1307.9 504.7 1306.9 502.7 1307.5 498.7 1309.7 494.7 1313 492.7 1313.6 486.7 1311.8 484.7 1311.7 481.6 1313.3 480.1 1315.3 480.2 1317.3 483 1321.3 490.7 1324.1 494.7 1325 522.7 1322.9 530.7 1323.1 540.7 1324.9 544.7 1324.8 548.7 1323.6 550.7 1322 551.8 1319.3 552.7 1313.4 554.7 1312.3 564.7 1313.7 576.7 1311.4 588.7 1311.8 592.7 1313.5 595 1315.3 598.7 1319.9 600.7 1320.3 608.7 1314.8 614.7 1312.7 620.7 1311.6 624.7 1311.8 634.8 1313.8 666.8 1313.9 690.8 1315.5 697.7 1317.3 702.7 1319.3 715.5 1325.3 718.2 1327.3 719.2 1329.3 719.8 1337.3 720.9 1339.3 723.4 1341.3 726.8 1342.3 746.8 1342.5 748.8 1343.2 750.2 1345.3 749.9 1349.3 748.8 1351.2 746.8 1352.4 716.8 1352.7 712.8 1353.3 709.9 1355.3 708.9 1357.4 709.2 1359.4 710.8 1361.2 714.8 1362.9 736.8 1363.4 740 1365.4 744.8 1371.3 746.8 1372.6 750.8 1373.4 756.8 1373.4 760.8 1372.5 764.2 1369.4 764.9 1367.4 765.4 1359.4 766.2 1357.4 774.8 1349.8 775.7 1347.3 774.8 1345.2 770.8 1342.3 766.8 1340.9 756.8 1339.1 754.7 1337.3 755.2 1335.3 757.3 1333.3 760.8 1332.1 770.8 1331.7 772.8 1330.9 780.1 1325.3 784.8 1324.4 804.8 1324.5 808.8 1326.1 814.8 1330.9 818.8 1331.9 820.8 1332 822.4 1331.3 822.7 1327.3 825 1317.3 824 1313.3 822.8 1311.7 820.8 1310.2 816.8 1308.8 804.8 1308.2 802.4 1307.3 800.2 1305.3 799.6 1303.3 799.9 1297.3 801.3 1295.3 802.8 1294.4ZM560.7 1322.8 559.1 1325.3 559.1 1329.3 557.2 1333.3 556.8 1337.3 557.7 1339.3 560.8 1343.3 562.7 1344.8 564.7 1344.8 567.2 1341.3 567.6 1339.3 567.3 1333.3 569.2 1327.3 568.4 1325.3 564.7 1322.4 562.7 1322.2ZM610.7 1343 608.7 1343.5 606.5 1345.3 605.4 1347.3 604.7 1352.9 588.7 1350.3 576.7 1352.7 572.7 1354 570.5 1355.3 568.7 1357.4 568.1 1359.4 568.2 1361.4 569.3 1365.4 570.5 1367.4 572.7 1369.1 576.7 1370.5 584.7 1370.7 588.7 1369.6 594.9 1363.4 603.8 1357.4 604.8 1353.3 610.7 1351.8 614 1349.3 615.1 1347.3 614.6 1345.3 612.7 1343.7ZM644.8 1353.1 641.2 1355.3 640.4 1357.4 641.3 1359.4 642.8 1360.9 644.8 1362.3 646.8 1362.9 678.8 1362.8 680.8 1362.1 682.8 1360.5 683.7 1359.4 684 1357.4 682.8 1355.1 678.8 1352.9ZM822.8 1332 821.9 1337.3 820.8 1339.3 812.8 1345.1 811.8 1347.3 812.8 1349.9 814.8 1351.6 816.8 1352.4 824.8 1352.7 828.8 1352.1 832.5 1349.3 833.5 1347.3 833.8 1339.3 832.5 1335.3 828.8 1332.6ZM947.5 1293.3 952.9 1291.3 956.9 1292.6 957.6 1295.3 957 1299.3 954.9 1301.4 952.9 1301.9 944.9 1298.4 943.5 1297.3 943.3 1295.3ZM334.3 1309.3 334.6 1308.9 336.6 1309.2 345.9 1313.3 349.5 1315.3 350.2 1317.3 338.6 1322.9 336.6 1323.5 332.6 1322.5 331.5 1321.3 330.8 1319.3ZM355.5 1367.4 356.7 1366.8 358.7 1366.7 359.6 1367.4 360.3 1369.4 358.7 1371.7 356.7 1371.1 355.2 1369.4ZM345.7 1387.4 348.6 1387.2 350.6 1388.6 351.1 1389.4 348.6 1392.3 346.6 1393 343.6 1391.4 343.2 1389.4ZM644.6 1415.4 655.3 1417.4 659.1 1419.4 657.8 1421.5 656.8 1421.9 652.8 1422.3 644.8 1422 643 1421.5 640.8 1419.4 641.3 1417.4 642.8 1416.1ZM595.8 1439.5 598.7 1439 599.8 1439.5 601 1441.5 598.7 1442.5 594.6 1441.5Z"/>
<path fill="#ffafa0" d="M986.7 1157 990.9 1156.1 998.9 1156.4 1003 1159 1004.3 1161.1 1004 1163.1 1002 1165.1 998.9 1166.2 982.9 1166.3 983.2 1161.1 984.3 1159ZM952.6 1167.1 956.9 1166.4 976.9 1166.4 980.9 1166.4 982.7 1167.1 982.6 1179.1 981.7 1183.1 978.9 1186 973.7 1189.1 966.9 1195.9 962.9 1197.4 956.9 1197.5 952.9 1198.2 950.9 1199.4 945.5 1205.1 935.8 1213.1 908.9 1225.4 894.8 1228.5 864.8 1228.4 862.8 1228.1 860.8 1226.9 856.3 1217.1 856.1 1215.1 857.3 1213.1 863 1209.1 864.8 1207.1 866.8 1202.6 874.8 1196.6 876.8 1196.3 886.8 1197.3 896.8 1196.2 908.9 1196.2 918.9 1197.4 930.9 1200.7 934.9 1200.2 936.9 1199.2 939 1197.1 940.5 1193.1 940 1181.1 940.9 1173.1 941.8 1171.1 942.9 1169.8 944.9 1168.8ZM784.4 1171.1 790.8 1170.7 794.8 1171.3 804.8 1179.4 808.2 1183.1 809.2 1185.1 810.2 1189.1 810.3 1191.1 809.7 1193.1 800.3 1205.1 794.8 1209.6 790.8 1210.5 776.8 1210.4 770.8 1209.3 767 1207.1 765.8 1205.1 765.7 1203.1 768 1195.1 769.3 1185.1 770.8 1182.2 772.8 1182.1 774.3 1183.1 778.8 1187.3 784.6 1191.1 788.5 1195.1 790.8 1196.3 794.8 1197 796.8 1196.5 798.4 1195.1 799 1193.1 798.7 1191.1 797.4 1189.1 794.8 1187.6 790.8 1186.3 788.8 1184.3 786.8 1177.9 782.8 1173.1ZM390.8 1181.1 396.7 1180.4 416.7 1180.9 438.7 1180.5 452.7 1179.5 494.7 1179.6 499 1181.1 501.1 1183.1 501.7 1185.1 501.8 1189.1 500.3 1193.1 498.6 1195.1 496.7 1196.3 494.7 1196.6 492.7 1195.9 486.7 1197.5 485.2 1199.1 485.1 1201.1 486.1 1203.1 485.5 1205.1 474.7 1209.6 470.7 1210.3 462.7 1210.5 460.2 1211.1 456.9 1213.1 456.1 1215.1 456.1 1223.1 458.7 1233.3 459.8 1235.2 465.2 1237.2 469.2 1243.2 469.8 1245.2 467.6 1253.2 465.3 1257.2 462.7 1259 458.7 1260.3 456.7 1259.8 452.7 1254 450.7 1252.1 446.7 1251.1 442.7 1251.7 438.7 1246.9 436.7 1245.7 432.6 1245.2 430 1237.2 430.4 1235.2 434.4 1227.2 435 1223.1 434.4 1221.1 432.7 1218.7 430.1 1217.1 426.7 1216.5 424.6 1217.1 421.7 1219.1 420.3 1221.1 417.7 1229.2 416.7 1230.4 412.1 1233.2 410.7 1235 409.4 1239.2 406 1245.2 398.7 1251 394.7 1251.9 382.7 1251.9 372.5 1255.2 368.7 1255.8 346.6 1256.3 334.6 1259.9 330.6 1263 325.7 1269.2 322.6 1271.2 314.6 1269.1 310.6 1269.6 308.6 1270.9 306.6 1273.5 304.6 1279.9 302.6 1281.9 300.6 1282 298.6 1281.5 292.6 1278.8 290.6 1277.4 285.1 1271.2 281.9 1269.2 278.6 1268 244.6 1266.8 232.6 1267.8 230.7 1267.2 228.6 1261.5 226.6 1259.2 222.6 1257.2 214.6 1255.9 214.6 1251.2 220.6 1249.9 232.6 1251.9 242.6 1252.7 246.6 1252 256.6 1249.1 266.6 1247.2 274.6 1249.7 278.6 1250.3 288.6 1249.4 294.8 1247.2 300.6 1241.8 301.9 1243.2 304.6 1244.7 307.1 1245.2 308.6 1244.2 310.6 1239.1 312.6 1239 316.5 1241.2 322.4 1249.2 324.6 1250.1 327.3 1249.2 329.2 1247.2 330.9 1243.2 332.3 1241.2 339.2 1237.2 340.3 1235.2 339 1233.2 326.1 1229.2 322.6 1227.6 316.1 1221.1 312.6 1219.1 310.6 1219.6 308.8 1221.1 305.8 1227.2 304.6 1228.6 302.6 1228.7 298.6 1225.7 294.6 1225.2 293.4 1223.1 293.9 1219.1 286.6 1216.1 276.6 1216.1 274.6 1215.6 268.6 1212.6 266.6 1212.3 262.6 1213.1 260.6 1215.4 258.6 1216.1 254.6 1215.8 248.6 1213.6 242.6 1212.5 240.9 1211.1 239.6 1209.1 238.6 1205 236.6 1204.2 222.6 1203.7 216.6 1206 214.6 1206.2 214.6 1186.6 230.6 1190.4 232.6 1190.4 236.6 1188.9 240.6 1189.2 242.6 1188.5 244.6 1186.9 246.6 1186.5 248.6 1187.1 256.6 1191.5 258.6 1193.4 262.1 1199.1 266.6 1203.1 269 1203.1 270.3 1201.1 270.6 1198.6 272.2 1199.1 273.3 1203.1 274.6 1204.9 276.6 1206.5 278.6 1207.2 280.6 1206.2 281.4 1205.1 280.7 1203.1 281 1201.1 282.4 1199.1 283 1197.1 280.6 1195.3 278.9 1193.1 278.6 1191.1 281.3 1185.1 284.6 1183 288.6 1182.6 292.6 1184.2 294.6 1184.2 298.6 1182 302.6 1181.4 305.1 1183.1 306.6 1185.3 312.9 1185.1 316.6 1187 320.6 1190.3 323.3 1187.1 324.6 1186.5 326.6 1187.8 328.6 1191.6 330.6 1192 332.6 1191.3 335.3 1189.1 338.6 1188.9 346.6 1190.9 354.2 1197.1 356.7 1198.1 360.7 1198.5 378.2 1197.1 379.3 1191.1 380.7 1188.2 386.5 1183.1ZM426.7 1188.8 425.7 1191.1 426.5 1193.1 428.7 1193.6 430.1 1193.1 431.4 1191.1 430.7 1189.6 428.7 1188.3ZM380.7 1198.9 379.9 1199.1 379.1 1201.1 378.9 1211.1 378 1215.1 376.7 1217.3 374.7 1219.1 370.3 1221.1 368.2 1223.1 367.9 1225.2 370.7 1227.7 372.7 1228.3 380.7 1225.7 383.8 1223.1 384.3 1221.1 384.3 1215.1 383.2 1205.1 382.7 1201.8ZM1037.3 1187.1 1038.9 1186.6 1040.9 1187.2 1040.9 1206 1034.9 1206.7 1032.9 1206.1 1029.4 1203.1 1025.2 1197.1 1021.3 1193.1 1024.3 1191.1 1034.9 1189.5ZM528.8 1189.1 530.7 1188.3 531.7 1189.1 532.3 1193.1 534.3 1199.1 533.4 1201.1 530.7 1202.2 520.7 1203.4 516.6 1203.1 513.1 1201.1 512.3 1199.1 512.7 1198.4 514.7 1197.6 520.7 1196.8 522.7 1195.6 526.2 1191.1ZM542.4 1199.1 544.7 1199.6 547.8 1201.1 548.4 1203.1 544.7 1207.2 542.7 1208.7 540.7 1209.2 538.7 1208.2 538 1207.1 537.2 1203.1 538.7 1200.7 540.7 1199.3ZM790.2 1219.1 794.8 1218.2 802.8 1218.2 814.8 1220.6 828.8 1221.6 832.8 1221.5 838.8 1219.7 840.8 1220.2 842.5 1221.1 844.7 1235.2 844.6 1237.2 842.7 1241.2 842.7 1243.2 844.8 1244.7 850.8 1245.9 852.8 1245.6 860.8 1241.8 866.8 1240.6 872.8 1241.8 876.8 1243.6 880.8 1242.5 884.8 1239.2 886.8 1239.8 888.8 1241.1 894.7 1247.2 899.9 1251.2 900.8 1253.2 898.9 1255.2 884.8 1258 878.8 1256.7 874.8 1256.5 873 1257.2 870.5 1259.2 868.1 1263.2 864.8 1265.7 858.8 1261.5 852.8 1259.3 848.8 1260.3 836.5 1257.2 832.8 1255.2 828.8 1250.8 826.8 1249.6 824.8 1249.5 822.8 1250.9 821.5 1253.2 818.8 1254.9 816.8 1255.3 814.8 1254.9 811.5 1253.2 806.8 1249.3 804.8 1247.1 802.5 1243.2 798.8 1239.2 797.9 1235.2 796.3 1231.2 792.3 1227.2 788.9 1221.1ZM712.7 1229.2 716.8 1228.5 730.8 1228.5 734.8 1228.6 736.8 1229.2 746.8 1237.5 748.8 1238.5 756.8 1238.9 760.8 1240.4 763.7 1243.2 764.8 1245.2 765 1251.2 763.7 1253.2 758.8 1255.1 748.8 1255.8 736.8 1258.1 712.8 1258 707.5 1257.2 700.6 1255.2 697.5 1253.2 696.6 1251.2 696.6 1245.2 697.2 1243.2 698.8 1241.1 704.8 1236.4 710.8 1230.2ZM564.4 1233.2 586.7 1231.6 588.7 1232 590.8 1233.2 588.7 1235.3 582.7 1235.9 569.2 1235.2ZM652.5 1233.2 654.8 1231.9 658.8 1231.2 676.8 1231.2 678.8 1231.4 682.7 1233.2 683.3 1235.2 681.5 1237.2 678.8 1238.5 658.8 1238.8 656.8 1238.6 653.8 1237.2 652.2 1235.2ZM496.2 1237.2 500.7 1237 506.7 1238.5 510.8 1241.2 510.9 1243.2 500.7 1249.8 496.5 1251.2 495.4 1249.2 496.7 1245.2 496.7 1243.2 494.7 1239.7 493.9 1239.2ZM916.8 1251.2 920.9 1249.4 940.9 1249.3 944.9 1250.6 946.5 1253.2 945.2 1255.2 942.9 1256.3 932.9 1258.7 930.9 1258.7 919 1255.2 916.3 1253.2ZM1003.8 1251.2 1004.9 1249.5 1006.9 1249.2 1010.9 1249.4 1020.9 1251.8 1024.9 1252.2 1034.9 1252 1040.9 1250.8 1040.9 1256.1 1032.9 1255.5 1020.9 1255.8 1014.9 1258.1 1010.9 1260.8 1008.9 1259.6 1004.7 1255.2ZM859.9 1281.2 860.8 1281.1 862.8 1284.3 866.7 1299.3 868.1 1301.3 874.8 1304.2 876.8 1306.5 879.2 1311.3 880.8 1312.4 886.8 1314.5 888.2 1315.3 889.4 1317.3 888.8 1319.3 884.8 1323.6 882.8 1323.6 880.8 1321.7 876.8 1315.6 870.8 1312.9 866.9 1309.3 862.8 1303.3 860.7 1301.3 857.3 1295.3 855.1 1293.3 854.4 1291.3 856.8 1284.7 858.8 1281.4ZM411.9 1309.3 418.7 1308.8 436.7 1308.8 444.7 1309.6 450.7 1311.5 458.7 1317.5 462.7 1319 470.7 1320.7 474.7 1322.7 476.2 1325.3 475.7 1331.3 476.2 1335.3 479.2 1341.3 479.6 1343.3 479.5 1347.3 478.7 1349.8 476.7 1351.7 472.7 1352.1 470.7 1351.2 466.7 1347.2 462.7 1345.3 438.7 1344.9 432.7 1344 426.7 1342 421 1337.3 416.7 1335 404.7 1332.3 394.7 1331.8 392.7 1331.1 390.3 1329.3 389 1327.3 389.5 1325.3 391.4 1323.3 396.6 1319.3 404.7 1311.5ZM1026.9 1311.3 1032.9 1311.5 1034.9 1312.3 1040.9 1316.8 1040.9 1349.3 1038.8 1347.3 1034.9 1345.4 1020.9 1344.7 1012.9 1342.8 1006.7 1337.3 1005.8 1335.3 1005.6 1321.3 1006.3 1317.3 1008.5 1315.3 1010.9 1314.3 1022.9 1311.5ZM254 1315.3 256.6 1314.1 258.6 1314.2 266.6 1316 278.6 1316.6 292.6 1319.4 296.9 1327.3 296.5 1329.3 292.6 1333.3 290.4 1337.3 289.6 1339.3 289.5 1341.3 290.5 1343.3 292.6 1345.3 304.6 1354.8 305.6 1357.4 303.6 1359.4 290.6 1365.2 276.6 1366.3 274.1 1367.4 266.6 1372.9 258.6 1373.3 254.6 1372.1 251.6 1369.4 250.4 1367.4 250 1365.4 249.3 1357.4 246.6 1354.1 242.6 1352.8 222.6 1352.5 218.6 1351 214.6 1347.4 214.6 1315.4 221.3 1319.3 226 1321.3 233.2 1323.3 235.9 1325.3 236.9 1327.3 238.6 1337.7 239.8 1341.3 241.4 1343.3 244.6 1344.6 248.6 1344 250.6 1343.1 251.7 1341.3 251.9 1339.3 250.4 1335.3 249.7 1327.3 251.2 1323.3 252.6 1317.3ZM334.5 1315.3 337.2 1315.3 337.5 1317.3 334.6 1317.9 333.9 1317.3ZM576.6 1315.3 584.7 1315.1 586.7 1315.2 588.7 1316.2 589.9 1317.3 590.9 1319.3 592.4 1327.3 591.4 1329.3 588.7 1331.2 582.7 1332 582 1333.3 581.7 1345.3 580.2 1347.3 576.7 1348.7 568.7 1350.5 564.7 1352.3 560.9 1355.3 558.7 1358.2 557.2 1359.4 556.6 1361.4 558.9 1367.4 560.7 1370.4 562.7 1372.2 566.7 1374.1 574.7 1375.8 588.7 1375.6 593.5 1373.4 598.7 1366.6 602.7 1365.2 606.7 1364.7 608.7 1364.9 610.7 1367.1 614.7 1366.2 616.1 1369.4 616.5 1377.4 617.1 1379.4 618.7 1381.5 620.7 1382.5 622.7 1382.1 624.4 1379.4 628 1363.4 630.8 1363.1 634.8 1364.5 642.8 1371.3 646.8 1373.3 654.8 1373.3 663.6 1371.4 668.8 1371 674.8 1371.9 679.3 1373.4 682.4 1375.4 684 1377.4 685 1381.4 684.5 1387.4 682.8 1389.4 678.8 1391.3 666.8 1393.9 656.8 1394.3 650.8 1395.8 644.8 1396.5 632.8 1394.3 622.7 1394.3 619.8 1395.4 615.2 1399.4 610.7 1401.5 590.7 1401.8 586.7 1401.2 576.7 1397 568.7 1395.4 560.7 1392.7 552.7 1391.2 549 1389.4 547.9 1387.4 547.6 1385.4 547 1363.4 545.3 1361.4 540.7 1359.9 536 1357.4 533.8 1355.3 531.9 1351.3 530.7 1350.7 526.7 1351.1 518.7 1346.8 508.7 1346.1 506.7 1345.5 504.2 1343.3 502.5 1339.3 501.8 1335.3 502.1 1329.3 504.3 1327.3 510.7 1326.3 528.7 1326.3 533.2 1327.3 533.9 1329.3 526.1 1335.3 525.4 1337.3 525.9 1339.3 528 1341.3 532.7 1342.3 550.7 1342.4 552.7 1342.8 560.7 1346.9 564.7 1347.8 566.7 1346.1 568.3 1343.3 570.7 1335.2 576.7 1332.4 580.7 1332 582 1331.3 581.6 1327.3 580.8 1325.3 574 1319.3 573.2 1317.3ZM619.4 1319.3 620.7 1317.3 622.7 1319.2 624.7 1318.6 626.7 1318.9 627.4 1321.3 624.5 1321.3 622.7 1319.8 620.7 1320ZM666.1 1319.3 688.8 1319.2 694.8 1320.9 704.1 1325.3 706.8 1327.3 707.8 1329.3 707.9 1331.3 707.4 1337.3 704.8 1340.7 700.8 1342.2 646.8 1342.3 643.3 1341.3 640.8 1339.3 636.8 1334.1 629.7 1329.3 627.9 1325.3 627.8 1323.3 628.8 1321.7 654.8 1321.6ZM619.8 1355.3 620.7 1354.5 622.7 1353.8 625.7 1355.3 627 1357.4 627.4 1359.4 627.4 1361.4 626.7 1362.6 624.7 1361.5 623 1359.4 619.7 1357.4ZM874.5 1361.4 876.8 1361.3 884.8 1363.1 894.8 1365.8 896.8 1365.8 900.8 1363.2 903.9 1363.4 904 1365.4 902.6 1369.4 902.5 1381.4 903.1 1383.4 904.9 1384.8 906 1387.4 904.9 1389 902.9 1390 896.8 1391.5 888.8 1396.1 884.8 1397 876.8 1396.4 872.8 1393.4 870.8 1392.6 868.8 1392.5 862.8 1393.6 860.8 1393.1 858.8 1391.6 857.3 1389.4 856.8 1387.4 856.7 1381.4 857.7 1377.4 860.8 1374.4 864.8 1373.2 868.8 1371.1 870 1369.4 870.8 1364.8 872.8 1362.3ZM462.1 1363.4 484.7 1363.4 488.2 1365.4 493 1371.4 496.7 1373.2 530.7 1373.8 533.5 1375.4 535.2 1377.4 535.9 1379.4 536.1 1385.4 535.5 1389.4 532.7 1392.7 528.7 1394 484.7 1393.8 480.8 1391.4 479.5 1389.4 478.7 1379.4 477.9 1377.4 474.7 1374.5 472.7 1374.2 470.1 1375.4 465.2 1381.4 462.7 1383 458.7 1383.7 452.7 1383.7 448.7 1382.7 446.9 1381.4 445.7 1379.4 445.8 1377.4 447.2 1375.4 453.4 1371.4 458.7 1365ZM928.6 1365.4 930.9 1366.1 931.2 1367.4 930.7 1369.4 928.9 1370.1 922.3 1369.4 922.5 1367.4ZM779.2 1375.4 782.8 1373.6 788.8 1373.4 792.8 1373.6 796.9 1375.4 798.5 1377.4 799.5 1381.4 799.4 1387.4 798.9 1389.4 797.6 1391.4 794.8 1393.3 790.8 1394.1 782.8 1393.8 778.8 1391.7 777.2 1389.4 776.7 1387.4 776.6 1381.4 777.5 1377.4ZM711 1385.4 714.8 1383.9 722.8 1383.8 726.8 1384.8 729.1 1387.4 728.5 1389.4 724.8 1391.1 714.8 1391.2 710.6 1389.4 709.6 1387.4Z"/>
<path fill="#ff9480" d="M950.6 1179.1 952.9 1177.7 954.9 1177.6 956.9 1178.6 958.7 1181.1 958.5 1183.1 956.9 1185.2 954.9 1186.2 952.9 1186.1 950.9 1184.9 949.5 1183.1 949.4 1181.1ZM793.7 1181.1 794.8 1179.4 796.6 1181.1 794.8 1182ZM300.2 1183.1 302.6 1183.4 303.8 1187.1 304.6 1187.7 312.6 1190.1 314.1 1191.1 318.3 1197.1 322.6 1199.6 326.6 1200.2 330.6 1201.5 334.6 1201.8 336.6 1201.2 340.6 1197.9 344.6 1197.5 350.6 1200 356.7 1201.5 368.7 1201.4 370.7 1201.9 372.3 1203.1 372.9 1205.1 372.9 1211.1 372.2 1213.1 370.7 1214.7 365.8 1217.1 363.5 1219.1 362.3 1221.1 361.7 1225.2 362.7 1227.2 372.7 1232.3 374.7 1232.4 384.7 1230.2 388.5 1227.2 389.6 1225.2 390.2 1221.1 390.2 1215.1 387.5 1203.1 387.4 1195.1 387.7 1193.1 388.9 1191.1 392.7 1187.9 396.7 1187.1 414.7 1187.4 417.2 1189.1 419.9 1195.1 421.3 1197.1 424.4 1199.1 426.7 1199.8 430.7 1199.7 440.7 1197.5 470.7 1197.5 474.7 1198.4 477.2 1201.1 476.2 1203.1 474.7 1204 470.7 1205.1 458.7 1205.5 452.7 1206.9 448 1209.1 446 1211.1 445.4 1213.1 446.2 1215.1 450 1219.1 451.2 1221.1 453.4 1235.2 454.7 1238.5 456.7 1240.4 460.7 1239.7 462.7 1240.4 463.1 1241.2 464.9 1249.2 464.5 1253.2 462.7 1255.8 460.7 1256.2 459.2 1255.2 458.4 1251.2 456.7 1248.2 454.7 1247.2 446.5 1245.2 438.7 1238.4 436.6 1235.2 436.5 1233.2 437.9 1225.2 437.2 1219.1 436.1 1217.1 433.6 1215.1 430.7 1214.1 426.7 1213.7 422.7 1214.5 420.7 1215.4 418.7 1217.1 416.4 1223.1 414.7 1225.4 404.7 1228.4 400.7 1231.2 399.5 1233.2 399.4 1235.2 402.3 1243.2 400.7 1245.3 396.7 1246.4 380.7 1246.6 368.7 1249.1 346.6 1249.5 344.6 1250.2 340.9 1253.2 337.2 1255.2 332.6 1256.8 324.6 1268.1 322.6 1268.6 318.6 1266.7 314.6 1265.9 308.6 1266.6 304.7 1269.2 302.6 1273.8 300.6 1276.2 296.9 1275.2 290.6 1272 284.6 1267.8 278.6 1265.4 252.6 1264.7 244.6 1264.1 241.2 1263.2 241.7 1261.2 242.6 1260.5 250.7 1255.2 256.6 1253 266.6 1252.2 278.6 1253.4 288.6 1252.9 294.6 1252.1 302.6 1249.6 308.6 1250.8 314.6 1250.7 320.6 1252.9 326.6 1252.9 346.6 1242 350.6 1237.9 351.5 1235.2 350.9 1233.2 348.6 1231 344.6 1228.4 342.6 1227.8 336.6 1229.2 334.6 1227.9 334 1227.2 333.2 1223.1 331.5 1221.1 328.6 1219.2 324.6 1217.8 322.6 1216.4 316.6 1210.3 312.6 1208.1 300.6 1207.6 298.6 1208.7 295 1213.1 292.6 1214.6 290.6 1214.8 286.6 1213.4 282.6 1214.1 276.6 1213.8 268.6 1210.3 266.6 1210.2 262.6 1210.9 258.6 1214 256.6 1214.1 242.6 1209.7 240.3 1203.1 238.6 1201.8 234.6 1202.2 222.6 1202 214.6 1204.3 214.6 1190.2 230.6 1192.2 232.6 1192.1 236.6 1190.8 240.6 1191.8 248.6 1190.7 250 1191.1 251.1 1193.1 248.6 1194 248.3 1195.1 249.3 1197.1 251.3 1199.1 252.6 1199.8 254.6 1199.1 256.6 1196.5 258.6 1197.7 264.6 1204.3 270.2 1207.1 272.6 1209.7 278.6 1211.3 282.6 1210.7 286.6 1209 294 1203.1 295.6 1201.1 295.7 1199.1 294.6 1196.9 290.6 1195.6 286.6 1195.4 281.5 1193.1 280.5 1191.1 282.1 1187.1 284.6 1184.7 286.6 1184.2 290.6 1184.9 292.6 1187.1 294.6 1187.1 296.6 1184.9ZM771.7 1191.1 772.8 1190.1 782.8 1198.1 786.8 1199.9 791.8 1201.1 794.3 1203.1 792.8 1204.4 788.8 1205 774.7 1205.1 770.8 1204.2 770 1203.1 769.7 1201.1 770.8 1192.6ZM1036.2 1191.1 1038.9 1190.2 1040.9 1190.6 1040.9 1204.1 1036.9 1204.3 1034.9 1203.7 1032.6 1201.1 1030.6 1195.1 1030.6 1193.1ZM873.4 1199.1 874.8 1198.5 884.8 1199.5 906.9 1198.8 916.9 1200.4 923.8 1203.1 925.2 1205.1 925.1 1211.1 923.7 1213.1 919.8 1215.1 911 1217.1 902.9 1219.8 896.8 1220.7 874.8 1220.9 864.8 1224.1 862.8 1223.8 860.8 1221.2 857.7 1215.1 859 1213.1 864.8 1209 868.4 1203.1ZM838.7 1221.1 839.9 1223.1 838.7 1227.2 836.8 1228.3 826.8 1229 823.7 1231.2 822.5 1235.2 822.2 1243.2 821.2 1245.2 818.8 1247.1 816.8 1247.2 810.8 1244.3 806.8 1243.3 801.5 1239.2 800.1 1237.2 798.8 1233.1 798.4 1227.2 799.2 1225.2 801.3 1223.1 804.8 1222.2 816.8 1223 822.8 1222.6 832.8 1222.9 834.8 1222.7ZM836.5 1237.2 838.9 1237.2 839.1 1239.2 837.6 1243.2 839 1245.2 842.8 1247.9 848 1249.2 850.8 1251.2 852.8 1251.8 864.8 1249.2 882.8 1249.2 886.8 1250.8 888.8 1252.7 889.3 1253.2 888.8 1255.2 884.8 1256 874.8 1253.4 872.8 1253.9 866.8 1257.9 864.8 1260.3 862.8 1260.9 858.8 1257.4 854.8 1255.6 850.8 1255.3 846.8 1256.1 840.8 1255.1 837 1253.2 834.3 1249.2 834.1 1241.2 834.5 1239.2ZM714.7 1239.2 732.8 1238.9 736.8 1239.6 740.8 1243.1 741.9 1245.2 742.1 1251.2 741 1253.2 735.1 1255.2 715.2 1255.2 710.8 1254 709.2 1253.2 708 1251.2 708.2 1245.2 710.8 1241.6ZM858.6 1291.3 860.8 1291.6 861.8 1293.3 862.8 1295.3 862.8 1299.3 860.8 1297.6 858.8 1293.3ZM867.5 1307.3 868.8 1305.3 872.8 1306.3 873.9 1307.3 874.6 1309.3 874.7 1311.3 872.8 1311.8 871.2 1311.3ZM413.2 1315.3 418.7 1314 436.7 1314 440.7 1314.8 450.7 1321.8 462.7 1324.8 464.7 1325.8 466.6 1327.3 467.4 1329.3 467.3 1335.3 466.5 1337.3 462.7 1339.3 444.7 1339.7 438.4 1339.3 434.2 1337.3 429.8 1333.3 426.7 1331.7 416.7 1329.3 412.1 1327.3 410.6 1325.3 410.3 1319.3 410.9 1317.3ZM881.6 1317.3 882.8 1316.9 883.8 1317.3 882.8 1317.9ZM256.4 1319.3 256.6 1318.5 258.6 1318.1 260.7 1319.3 261.1 1321.3 268.6 1322.6 271.7 1325.3 272.8 1329.3 272.6 1337.3 271.8 1339.3 269.6 1341.3 258.6 1344.8 256.6 1344.2 256.1 1343.3 252.8 1335.3 252.8 1333.3 259.5 1329.3 260.7 1327.3 261.4 1323.3 260.6 1321.5 258.6 1321.4ZM214.6 1323.3 230.6 1325.9 232.6 1326.7 233.9 1329.3 234.3 1335.3 233.7 1339.3 232.6 1341.4 230.6 1342.2 222.6 1342.2 214.6 1340.4ZM1020 1323.3 1022.9 1321.9 1030.9 1321.7 1040.9 1323.6 1040.9 1340.8 1034.9 1339.8 1022.9 1339.5 1018.4 1337.3 1017.2 1335.3 1017 1329.3 1018.2 1325.3ZM287.3 1325.3 290.6 1324.5 292.6 1324.7 295 1327.3 294.6 1329.4 288.6 1334 286.6 1332.7 285.2 1329.3 285.2 1327.3ZM666 1325.3 670.8 1324.4 688.8 1324.5 692.2 1325.3 694.6 1327.3 694.4 1329.3 690.8 1331.6 670.8 1332 666.8 1331.2 664.2 1329.3 663.7 1327.3ZM277 1353.3 280.6 1352.7 288.6 1352.9 292.6 1355.3 293.5 1357.4 291.4 1359.4 288.6 1360.1 280.6 1360.2 276.6 1359.6 274 1357.4 274.3 1355.3ZM873.6 1367.4 874.8 1366 884.8 1366.8 888.8 1367.6 891.3 1369.4 891.2 1371.4 887.6 1375.4 889.1 1379.4 890.1 1387.4 887.9 1393.4 882.8 1394.7 876.8 1394.1 868.3 1387.4 867.1 1385.4 866.6 1381.4 867.1 1377.4 867.9 1375.4 871.8 1371.4ZM634.2 1375.4 634.8 1375.3 637.4 1377.4 638.6 1379.4 639.1 1383.4 644.8 1384.1 647.5 1385.4 649 1387.4 648.3 1389.4 644.8 1390.7 642.8 1390.2 641.3 1389.4 639.8 1387.4 638.8 1383.6 634.8 1383.3 632.8 1382.2 631.5 1379.4 631.8 1377.4 632.8 1375.7ZM665.6 1377.4 668.8 1377 670 1377.4 671.9 1379.4 671.1 1381.4 668.8 1382.8 666.8 1382.7 664.8 1381.6 663.8 1379.4ZM573.7 1385.4 576.7 1384 578.7 1383.8 598.7 1384 600.7 1384.7 602.7 1386.4 603.5 1387.4 603.9 1389.4 602.7 1391.6 598.7 1393.8 588.7 1393.9 574.7 1390.5 572.8 1389.4 572.2 1387.4Z"/>
<path fill="#ff7a60" d="M284.4 1187.1 286.6 1186.2 288.6 1186.3 292.6 1189.4 294.6 1189.4 298.6 1186 300.6 1186.1 302.4 1189.1 306.8 1191.1 309.1 1193.1 304.6 1195.5 302.6 1195.4 298.6 1193.7 286.6 1192.9 283 1191.1ZM394.3 1199.1 396.7 1200.2 397.4 1201.1 397.8 1203.1 396.7 1205.2 394.7 1206.2 392.7 1204.9 392.1 1203.1 392.7 1200.1ZM880.9 1203.1 888.8 1202.1 906.9 1202.1 911 1203.1 911.7 1205.1 904.9 1209.9 901.4 1213.1 896.8 1215.2 874.8 1215.5 864.8 1217.1 862.8 1216.7 861.1 1215.1 861.8 1213.1 868.8 1207.4 874.8 1207ZM287.6 1261.2 290.6 1260.4 292.6 1261.2 294.2 1263.2 293.9 1265.2 290.6 1266.3 287.9 1265.2 286.4 1263.2ZM871.5 1375.4 874.8 1374.2 876.8 1375.2 878.8 1377.4 882.8 1387.8 883.3 1389.4 882.8 1391.9 880.8 1392.6 876.8 1391.8 870 1385.4 869.2 1383.4 869.2 1379.4 869.8 1377.4Z"/><path d="M202.1 1206.1L200.0 1209.7L196.1 1211.3L193.6 1216.1L193.2 1219.0L189.3 1221.9L185.8 1222.9L181.7 1227.5L179.0 1231.2L176.7 1236.8L178.3 1240.9L177.8 1246.7L175.5 1249.8L177.4 1254.6L181.3 1257.9L185.4 1261.8L189.3 1266.0L195.0 1269.9L198.4 1271.1L205.3 1269.5L211.0 1270.3L217.9 1268.0L221.8 1267.2L225.9 1267.2L229.3 1271.3L231.6 1271.1L236.0 1270.9L237.8 1273.6L237.4 1278.2L235.7 1281.7L237.6 1285.2L242.6 1289.5L243.8 1292.7L247.2 1302.4L246.5 1306.1L242.4 1312.9L242.6 1317.5L246.3 1323.3L248.6 1326.8L249.9 1334.7L252.9 1339.2L255.0 1342.3L257.3 1346.5L257.7 1350.8L261.4 1352.3L267.1 1350.6L274.4 1350.6L279.5 1348.5L284.3 1344.8L287.7 1340.7L290.7 1336.1L291.2 1333.0L296.7 1329.9L296.9 1325.8L295.7 1321.6L300.3 1317.3L306.7 1314.0L308.6 1310.2L308.1 1302.0L305.6 1297.8L306.0 1294.7L305.4 1290.6L307.2 1287.5L310.6 1284.0L314.1 1281.3L320.9 1275.5L325.5 1270.9L330.1 1263.7L332.6 1258.7L332.6 1255.6L323.2 1257.3L317.5 1258.7L314.7 1256.4L314.3 1254.2L309.9 1250.6L304.9 1248.2L301.2 1241.5L300.3 1236.8L296.9 1230.6L292.3 1222.5L290.2 1218.3L293.9 1222.7L295.5 1219.2L296.2 1222.3L299.6 1226.8L303.8 1231.2L305.1 1236.1L309.0 1240.9L312.5 1246.1L314.5 1252.7L318.6 1253.7L327.1 1251.3L335.1 1247.9L342.0 1244.0L347.9 1240.9L350.2 1238.0L352.5 1233.7L349.8 1231.4L345.2 1229.5L344.5 1226.0L342.0 1227.5L339.2 1230.4L333.7 1230.1L333.5 1226.6L331.9 1227.5L330.3 1225.4L327.8 1223.3L325.5 1219.2L326.9 1218.1L330.1 1218.1L332.1 1220.6L335.8 1223.3L340.8 1225.4L344.7 1224.1L346.8 1227.0L350.7 1227.7L356.4 1228.3L363.3 1228.1L367.9 1227.7L369.7 1229.3L372.4 1231.6L373.6 1234.1L376.6 1237.2L380.5 1236.8L382.1 1235.5L382.3 1240.5L383.7 1247.1L386.2 1253.3L389.2 1257.1L390.8 1261.6L393.1 1263.5L394.7 1261.8L396.9 1258.9L398.5 1258.9L399.5 1252.7L399.0 1248.6L404.0 1245.9L409.8 1240.9L413.7 1238.2L414.8 1235.7L418.2 1235.3L422.4 1234.7L425.8 1233.9L426.9 1237.4L431.5 1241.3L431.7 1246.7L434.0 1247.5L438.2 1245.5L439.3 1249.2L441.1 1254.4L441.1 1258.5L440.7 1263.3L445.3 1267.4L447.5 1274.2L452.6 1277.5L454.2 1277.3L452.4 1272.0L449.8 1267.4L446.6 1265.1L444.6 1261.0L443.0 1258.5L444.3 1255.0L444.8 1252.5L446.9 1252.7L450.3 1255.2L451.7 1257.5L455.6 1258.5L455.6 1262.2L459.5 1260.0L460.6 1258.7L465.6 1256.0L465.9 1252.3L464.7 1248.6L460.6 1245.0L457.6 1240.9L459.9 1237.4L462.9 1235.7L466.8 1235.7L468.2 1238.2L468.8 1236.1L475.5 1234.1L482.4 1232.6L487.4 1229.1L489.7 1226.4L492.7 1221.9L494.7 1218.6L494.7 1216.1L492.0 1213.0L490.4 1209.2L488.8 1207.8L491.5 1205.3L496.1 1203.7L492.7 1202.2L488.1 1203.0L485.8 1201.0L485.3 1199.3L489.2 1197.6L493.3 1195.6L495.2 1196.6L493.6 1199.5L494.3 1199.7L497.9 1198.1L500.4 1197.4L502.3 1198.5L502.5 1201.6L501.4 1201.8L504.6 1203.2L505.2 1209.0L507.5 1208.4L511.4 1207.2L511.9 1203.7L509.6 1200.3L507.5 1198.1L512.6 1195.8L512.6 1194.3L514.6 1192.5L518.5 1190.6L525.9 1188.1L532.0 1184.0L536.6 1179.8L537.5 1174.7L539.4 1170.1L535.7 1168.1L529.7 1168.7L525.2 1166.8L530.9 1163.7L537.3 1160.6L541.9 1157.7L548.8 1157.3L556.8 1157.1L563.6 1158.1L570.5 1157.5L575.1 1152.9L582.6 1152.1L589.5 1150.9L590.0 1154.0L582.0 1155.0L574.6 1160.6L571.9 1164.3L572.1 1170.5L574.4 1174.7L578.1 1170.7L582.0 1167.2L586.8 1164.1L589.3 1160.6L586.5 1159.8L590.0 1156.3L596.4 1156.5L605.5 1156.0L610.6 1154.0L615.2 1152.3L621.6 1150.9L625.9 1151.3L625.5 1146.7L622.0 1146.3L624.3 1146.7L630.0 1144.7L634.6 1144.7L641.5 1147.1L644.9 1146.7L651.3 1143.6L646.1 1141.6L639.2 1140.5L631.2 1137.8L624.3 1136.8L616.3 1135.8L607.1 1137.2L606.0 1135.3L599.1 1136.2L586.5 1136.2L582.0 1134.3L570.5 1133.3L563.6 1133.5L559.1 1132.0L547.6 1130.2L536.2 1129.8L533.9 1132.2L525.9 1132.0L515.6 1133.7L512.1 1132.2L509.8 1130.2L504.1 1128.1L497.2 1129.1L488.1 1128.9L475.5 1127.9L476.2 1125.0L467.5 1121.9L460.6 1120.9L454.4 1119.4L444.6 1121.9L433.1 1122.9L421.7 1123.8L414.8 1125.0L412.5 1127.1L401.1 1128.1L399.9 1130.2L393.1 1130.6L387.3 1129.6L381.6 1129.3L373.6 1130.2L368.8 1135.3L368.3 1137.4L372.4 1139.1L363.3 1136.8L354.1 1136.0L348.4 1137.8L339.2 1138.9L327.8 1139.7L322.1 1139.5L316.8 1138.5L315.2 1143.0L307.2 1143.0L308.3 1146.7L301.5 1148.2L295.7 1146.9L294.6 1143.6L291.2 1142.2L302.6 1143.4L309.5 1142.2L308.3 1139.9L299.2 1137.4L291.2 1136.6L284.3 1135.8L280.9 1133.3L274.4 1133.1L266.0 1134.7L258.0 1136.4L249.9 1139.5L245.4 1143.6L240.8 1146.7L235.1 1149.4L228.2 1151.9L227.0 1155.0L228.2 1158.1L231.6 1160.2L234.6 1159.8L239.9 1157.5L241.5 1158.3L242.6 1161.0L244.7 1164.3L248.3 1165.4L253.2 1163.3L254.1 1159.1L258.6 1156.5L255.2 1152.9L259.1 1149.2L264.1 1146.7L266.7 1144.2L272.8 1145.1L271.7 1146.7L264.8 1149.8L264.6 1154.0L268.0 1156.3L275.1 1155.2L283.1 1156.0L279.7 1157.1L271.7 1157.3L269.2 1159.1L271.2 1160.6L266.0 1161.0L263.7 1163.3L263.7 1166.4L260.2 1167.6L258.0 1167.0L248.1 1168.7L240.8 1168.5L240.3 1167.4L238.3 1165.4L239.6 1161.2L234.4 1162.3L234.4 1165.4L235.5 1168.5L231.6 1169.5L226.4 1170.5L223.6 1173.8L219.3 1174.9L216.1 1177.4L212.6 1177.4L211.9 1179.4L204.8 1179.8L209.2 1181.9L212.9 1185.0L212.2 1190.0L207.6 1190.2L197.3 1189.8L194.3 1191.2L195.5 1195.0L193.8 1200.1L195.2 1203.7L199.6 1203.2L201.9 1205.3L203.2 1205.5L205.5 1204.3L210.6 1204.1L214.2 1201.8L215.6 1200.1L214.9 1198.5L217.4 1195.4L222.9 1193.5L222.7 1191.0L225.9 1190.4L230.5 1191.0L232.8 1189.6L235.7 1188.3L239.2 1189.6L241.0 1192.5L244.5 1194.5L247.7 1195.8L251.5 1197.4L252.2 1200.5L251.5 1201.6L253.6 1199.9L254.8 1198.5L253.6 1197.4L254.5 1196.4L257.7 1197.4L256.8 1196.0L252.2 1193.7L249.3 1192.9L246.7 1190.0L244.0 1188.5L243.8 1186.3L247.0 1185.9L247.7 1187.1L249.9 1188.1L252.2 1190.2L256.8 1192.1L260.0 1193.7L260.0 1196.8L261.9 1198.3L263.7 1201.0L265.3 1204.1L267.8 1204.7L268.5 1202.6L270.6 1202.2L269.4 1200.5L267.8 1198.5L268.0 1196.6L270.1 1197.4L271.5 1195.6L275.1 1195.6L275.6 1197.4L275.6 1198.5L277.0 1200.5L278.1 1203.7L280.2 1204.3L283.6 1205.3L285.9 1203.9L290.0 1205.5L293.5 1205.1L297.1 1204.5L298.5 1204.3L297.8 1206.8L297.8 1208.8L296.0 1211.9L295.5 1214.0L294.1 1215.4L289.6 1215.7L286.6 1215.0L282.0 1216.3L272.8 1214.8L268.3 1212.8L261.6 1213.0L261.4 1216.1L259.1 1217.5L249.9 1213.2L241.9 1211.5L240.3 1209.9L239.0 1207.8L240.8 1203.9L238.5 1203.0L233.9 1203.7L222.5 1203.9L215.6 1206.1L211.0 1207.6ZM1026.4 1206.1L1024.3 1209.7L1020.4 1211.3L1017.9 1216.1L1017.5 1219.0L1013.6 1221.9L1010.1 1222.9L1006.0 1227.5L1003.3 1231.2L1001.0 1236.8L1002.6 1240.9L1002.1 1246.7L999.8 1249.8L1001.7 1254.6L1005.6 1257.9L1009.7 1261.8L1013.6 1266.0L1019.3 1269.9L1022.7 1271.1L1029.6 1269.5L1035.3 1270.3L1042.2 1268.0L1046.1 1267.2L1050.2 1267.2L1053.6 1271.3L1055.9 1271.1L1060.3 1270.9L1062.1 1273.6L1061.7 1278.2L1060.0 1281.7L1061.9 1285.2L1066.9 1289.5L1068.1 1292.7L1071.5 1302.4L1070.8 1306.1L1066.7 1312.9L1066.9 1317.5L1070.6 1323.3L1072.9 1326.8L1074.2 1334.7L1077.2 1339.2L1079.3 1342.3L1081.6 1346.5L1082.0 1350.8L1085.7 1352.3L1091.4 1350.6L1098.7 1350.6L1103.8 1348.5L1108.6 1344.8L1112.0 1340.7L1115.0 1336.1L1115.5 1333.0L1121.0 1329.9L1121.2 1325.8L1120.0 1321.6L1124.6 1317.3L1131.0 1314.0L1132.9 1310.2L1132.4 1302.0L1129.9 1297.8L1130.3 1294.7L1129.7 1290.6L1131.5 1287.5L1134.9 1284.0L1138.4 1281.3L1145.2 1275.5L1149.8 1270.9L1154.4 1263.7L1156.9 1258.7L1156.9 1255.6L1147.5 1257.3L1141.8 1258.7L1139.0 1256.4L1138.6 1254.2L1134.2 1250.6L1129.2 1248.2L1125.5 1241.5L1124.6 1236.8L1121.2 1230.6L1116.6 1222.5L1114.5 1218.3L1118.2 1222.7L1119.8 1219.2L1120.5 1222.3L1123.9 1226.8L1128.1 1231.2L1129.4 1236.1L1133.3 1240.9L1136.8 1246.1L1138.8 1252.7L1142.9 1253.7L1151.4 1251.3L1159.4 1247.9L1166.3 1244.0L1172.2 1240.9L1174.5 1238.0L1176.8 1233.7L1174.1 1231.4L1169.5 1229.5L1168.8 1226.0L1166.3 1227.5L1163.5 1230.4L1158.0 1230.1L1157.8 1226.6L1156.2 1227.5L1154.6 1225.4L1152.1 1223.3L1149.8 1219.2L1151.2 1218.1L1154.4 1218.1L1156.4 1220.6L1160.1 1223.3L1165.1 1225.4L1169.0 1224.1L1171.1 1227.0L1175.0 1227.7L1180.7 1228.3L1187.6 1228.1L1192.2 1227.7L1194.0 1229.3L1196.7 1231.6L1197.9 1234.1L1200.9 1237.2L1204.8 1236.8L1206.4 1235.5L1206.6 1240.5L1208.0 1247.1L1210.5 1253.3L1213.5 1257.1L1215.1 1261.6L1217.4 1263.5L1219.0 1261.8L1221.2 1258.9L1222.8 1258.9L1223.8 1252.7L1223.3 1248.6L1228.3 1245.9L1234.1 1240.9L1238.0 1238.2L1239.1 1235.7L1242.5 1235.3L1246.7 1234.7L1250.1 1233.9L1251.2 1237.4L1255.8 1241.3L1256.0 1246.7L1258.3 1247.5L1262.5 1245.5L1263.6 1249.2L1265.4 1254.4L1265.4 1258.5L1265.0 1263.3L1269.6 1267.4L1271.8 1274.2L1276.9 1277.5L1278.5 1277.3L1276.7 1272.0L1274.1 1267.4L1270.9 1265.1L1268.9 1261.0L1267.3 1258.5L1268.6 1255.0L1269.1 1252.5L1271.2 1252.7L1274.6 1255.2L1276.0 1257.5L1279.9 1258.5L1279.9 1262.2L1283.8 1260.0L1284.9 1258.7L1289.9 1256.0L1290.2 1252.3L1289.0 1248.6L1284.9 1245.0L1281.9 1240.9L1284.2 1237.4L1287.2 1235.7L1291.1 1235.7L1292.5 1238.2L1293.1 1236.1L1299.8 1234.1L1306.7 1232.6L1311.7 1229.1L1314.0 1226.4L1317.0 1221.9L1319.0 1218.6L1319.0 1216.1L1316.3 1213.0L1314.7 1209.2L1313.1 1207.8L1315.8 1205.3L1320.4 1203.7L1317.0 1202.2L1312.4 1203.0L1310.1 1201.0L1309.6 1199.3L1313.5 1197.6L1317.6 1195.6L1319.5 1196.6L1317.9 1199.5L1318.6 1199.7L1322.2 1198.1L1324.7 1197.4L1326.6 1198.5L1326.8 1201.6L1325.7 1201.8L1328.9 1203.2L1329.5 1209.0L1331.8 1208.4L1335.7 1207.2L1336.2 1203.7L1333.9 1200.3L1331.8 1198.1L1336.9 1195.8L1336.9 1194.3L1338.9 1192.5L1342.8 1190.6L1350.2 1188.1L1356.3 1184.0L1360.9 1179.8L1361.8 1174.7L1363.7 1170.1L1360.0 1168.1L1354.0 1168.7L1349.5 1166.8L1355.2 1163.7L1361.6 1160.6L1366.2 1157.7L1373.1 1157.3L1381.1 1157.1L1387.9 1158.1L1394.8 1157.5L1399.4 1152.9L1406.9 1152.1L1413.8 1150.9L1414.3 1154.0L1406.3 1155.0L1398.9 1160.6L1396.2 1164.3L1396.4 1170.5L1398.7 1174.7L1402.4 1170.7L1406.3 1167.2L1411.1 1164.1L1413.6 1160.6L1410.8 1159.8L1414.3 1156.3L1420.7 1156.5L1429.8 1156.0L1434.9 1154.0L1439.5 1152.3L1445.9 1150.9L1450.2 1151.3L1449.8 1146.7L1446.3 1146.3L1448.6 1146.7L1454.3 1144.7L1458.9 1144.7L1465.8 1147.1L1469.2 1146.7L1475.6 1143.6L1470.4 1141.6L1463.5 1140.5L1455.5 1137.8L1448.6 1136.8L1440.6 1135.8L1431.4 1137.2L1430.3 1135.3L1423.4 1136.2L1410.8 1136.2L1406.3 1134.3L1394.8 1133.3L1387.9 1133.5L1383.4 1132.0L1371.9 1130.2L1360.5 1129.8L1358.2 1132.2L1350.2 1132.0L1339.9 1133.7L1336.4 1132.2L1334.1 1130.2L1328.4 1128.1L1321.5 1129.1L1312.4 1128.9L1299.8 1127.9L1300.5 1125.0L1291.8 1121.9L1284.9 1120.9L1278.7 1119.4L1268.9 1121.9L1257.4 1122.9L1246.0 1123.8L1239.1 1125.0L1236.8 1127.1L1225.4 1128.1L1224.2 1130.2L1217.4 1130.6L1211.6 1129.6L1205.9 1129.3L1197.9 1130.2L1193.1 1135.3L1192.6 1137.4L1196.7 1139.1L1187.6 1136.8L1178.4 1136.0L1172.7 1137.8L1163.5 1138.9L1152.1 1139.7L1146.4 1139.5L1141.1 1138.5L1139.5 1143.0L1131.5 1143.0L1132.6 1146.7L1125.8 1148.2L1120.0 1146.9L1118.9 1143.6L1115.5 1142.2L1126.9 1143.4L1133.8 1142.2L1132.6 1139.9L1123.5 1137.4L1115.5 1136.6L1108.6 1135.8L1105.2 1133.3L1098.7 1133.1L1090.3 1134.7L1082.3 1136.4L1074.2 1139.5L1069.7 1143.6L1065.1 1146.7L1059.4 1149.4L1052.5 1151.9L1051.3 1155.0L1052.5 1158.1L1055.9 1160.2L1058.9 1159.8L1064.2 1157.5L1065.8 1158.3L1066.9 1161.0L1069.0 1164.3L1072.6 1165.4L1077.5 1163.3L1078.4 1159.1L1082.9 1156.5L1079.5 1152.9L1083.4 1149.2L1088.4 1146.7L1091.0 1144.2L1097.1 1145.1L1096.0 1146.7L1089.1 1149.8L1088.9 1154.0L1092.3 1156.3L1099.4 1155.2L1107.4 1156.0L1104.0 1157.1L1096.0 1157.3L1093.5 1159.1L1095.5 1160.6L1090.3 1161.0L1088.0 1163.3L1088.0 1166.4L1084.5 1167.6L1082.3 1167.0L1072.4 1168.7L1065.1 1168.5L1064.6 1167.4L1062.6 1165.4L1063.9 1161.2L1058.7 1162.3L1058.7 1165.4L1059.8 1168.5L1055.9 1169.5L1050.7 1170.5L1047.9 1173.8L1043.6 1174.9L1040.4 1177.4L1036.9 1177.4L1036.2 1179.4L1029.1 1179.8L1033.5 1181.9L1037.2 1185.0L1036.5 1190.0L1031.9 1190.2L1021.6 1189.8L1018.6 1191.2L1019.8 1195.0L1018.1 1200.1L1019.5 1203.7L1023.9 1203.2L1026.2 1205.3L1027.5 1205.5L1029.8 1204.3L1034.9 1204.1L1038.5 1201.8L1039.9 1200.1L1039.2 1198.5L1041.7 1195.4L1047.2 1193.5L1047.0 1191.0L1050.2 1190.4L1054.8 1191.0L1057.1 1189.6L1060.0 1188.3L1063.5 1189.6L1065.3 1192.5L1068.8 1194.5L1072.0 1195.8L1075.8 1197.4L1076.5 1200.5L1075.8 1201.6L1077.9 1199.9L1079.1 1198.5L1077.9 1197.4L1078.8 1196.4L1082.0 1197.4L1081.1 1196.0L1076.5 1193.7L1073.6 1192.9L1071.0 1190.0L1068.3 1188.5L1068.1 1186.3L1071.3 1185.9L1072.0 1187.1L1074.2 1188.1L1076.5 1190.2L1081.1 1192.1L1084.3 1193.7L1084.3 1196.8L1086.2 1198.3L1088.0 1201.0L1089.6 1204.1L1092.1 1204.7L1092.8 1202.6L1094.9 1202.2L1093.7 1200.5L1092.1 1198.5L1092.3 1196.6L1094.4 1197.4L1095.8 1195.6L1099.4 1195.6L1099.9 1197.4L1099.9 1198.5L1101.3 1200.5L1102.4 1203.7L1104.5 1204.3L1107.9 1205.3L1110.2 1203.9L1114.3 1205.5L1117.8 1205.1L1121.4 1204.5L1122.8 1204.3L1122.1 1206.8L1122.1 1208.8L1120.3 1211.9L1119.8 1214.0L1118.4 1215.4L1113.9 1215.7L1110.9 1215.0L1106.3 1216.3L1097.1 1214.8L1092.6 1212.8L1085.9 1213.0L1085.7 1216.1L1083.4 1217.5L1074.2 1213.2L1066.2 1211.5L1064.6 1209.9L1063.3 1207.8L1065.1 1203.9L1062.8 1203.0L1058.2 1203.7L1046.8 1203.9L1039.9 1206.1L1035.3 1207.6ZM282.0 1195.0L287.3 1195.2L291.8 1193.3L295.7 1193.3L299.2 1194.8L303.8 1195.6L310.6 1194.3L310.6 1191.9L306.5 1190.0L302.6 1188.1L300.3 1186.7L303.1 1184.6L305.6 1182.5L301.5 1182.7L296.2 1184.4L295.7 1185.9L299.2 1186.5L296.4 1187.1L292.5 1188.3L290.0 1186.3L292.3 1185.0L288.4 1183.8L285.9 1184.0L283.6 1186.5L281.1 1189.2L279.7 1191.6L279.0 1192.5L279.7 1193.5ZM323.2 1186.1L328.9 1184.0L332.8 1183.4L337.0 1184.0L337.0 1186.5L333.1 1187.1L330.5 1188.1L333.1 1190.8L335.8 1192.1L336.3 1195.0L339.2 1194.8L337.0 1197.4L338.8 1199.7L339.2 1203.0L334.7 1204.1L330.8 1203.2L327.8 1201.6L327.8 1198.9L328.9 1196.6L326.7 1193.7L324.4 1191.2L323.2 1189.2ZM203.0 1176.5L207.6 1176.1L213.3 1175.1L218.6 1174.3L219.5 1171.2L216.3 1170.5L215.1 1167.4L211.9 1165.4L211.0 1164.3L209.2 1163.5L211.0 1161.2L207.6 1160.8L208.3 1158.9L204.2 1158.9L202.3 1161.2L203.0 1164.3L204.6 1166.4L208.0 1166.6L208.3 1169.7L205.3 1169.9L206.0 1172.0L203.7 1173.0L208.0 1173.8L205.8 1174.7ZM1027.3 1176.5L1031.9 1176.1L1037.6 1175.1L1042.9 1174.3L1043.8 1171.2L1040.6 1170.5L1039.4 1167.4L1036.2 1165.4L1035.3 1164.3L1033.5 1163.5L1035.3 1161.2L1031.9 1160.8L1032.6 1158.9L1028.5 1158.9L1026.6 1161.2L1027.3 1164.3L1028.9 1166.4L1032.3 1166.6L1032.6 1169.7L1029.6 1169.9L1030.3 1172.0L1028.0 1173.0L1032.3 1173.8L1030.1 1174.7ZM1025.7 1172.2L1026.2 1169.5L1026.6 1167.2L1023.2 1165.8L1020.4 1167.4L1017.0 1168.1L1018.1 1170.1L1016.3 1172.6L1018.1 1173.6L1021.6 1173.0ZM988.4 1147.8L984.9 1144.7L988.4 1142.8L994.1 1144.0L998.7 1143.2L1003.3 1142.6L1006.7 1144.7L1008.5 1146.1L1004.4 1147.4L997.1 1149.0L993.0 1148.6ZM239.6 1115.7L247.7 1114.6L256.8 1114.6L266.0 1114.0L277.4 1114.6L272.8 1116.1L263.7 1117.1L264.8 1118.8L258.0 1120.2L253.4 1121.5L247.7 1119.8L241.9 1117.1ZM333.5 1132.2L337.0 1128.5L342.7 1125.0L353.0 1122.5L366.7 1121.3L372.4 1121.9L359.9 1124.4L349.5 1127.1L346.1 1130.2L347.3 1133.9L339.2 1133.7ZM433.1 1116.7L440.0 1112.6L453.7 1115.7L444.6 1118.2ZM323.2 1114.0L334.7 1113.0L353.0 1112.6L364.4 1113.0L348.4 1114.6L330.1 1114.6ZM529.3 1122.9L536.2 1124.0L547.6 1124.0L559.1 1125.0L554.5 1125.4L540.7 1127.1L531.6 1125.6ZM624.3 1132.9L630.0 1132.2L633.5 1133.3L627.8 1133.7ZM540.7 1167.8L543.0 1170.5L543.7 1174.7L546.5 1178.8L543.0 1184.0L540.7 1185.0L540.7 1180.9L540.7 1174.7L540.1 1169.9ZM536.2 1194.3L539.1 1190.8L540.3 1186.3L544.2 1188.5L548.3 1188.7L548.8 1190.8L544.2 1193.3L538.5 1192.3ZM515.6 1209.2L519.0 1207.0L524.7 1206.3L528.8 1203.7L530.0 1204.1L533.2 1202.4L535.5 1199.5L536.2 1196.2L539.1 1194.8L539.6 1197.4L540.7 1198.5L538.5 1201.6L538.0 1205.7L536.2 1207.8L533.4 1208.4L529.3 1208.6L527.0 1210.9L525.2 1209.2L521.3 1209.2L515.6 1209.9ZM512.6 1211.9L513.3 1215.4L515.6 1215.7L517.8 1211.9L515.6 1210.1ZM518.5 1210.9L520.1 1212.3L523.1 1210.9L523.6 1209.4L520.1 1209.9ZM492.7 1228.1L494.9 1228.5L492.7 1234.7L490.8 1232.6ZM464.5 1240.5L468.6 1238.8L469.8 1239.9L466.3 1242.6ZM398.3 1260.2L401.5 1262.6L402.9 1265.7L399.9 1267.8L398.3 1264.7ZM491.5 1241.9L495.4 1242.2L494.9 1246.1L493.8 1249.2L494.9 1251.3L499.5 1251.7L499.5 1254.2L496.1 1252.3L492.7 1251.9L491.5 1250.2L490.4 1247.1ZM494.9 1265.7L498.4 1262.6L503.0 1260.2L505.2 1263.7L504.1 1267.2L502.5 1267.8L499.5 1266.2L498.4 1264.7ZM500.7 1254.4L503.0 1257.5L501.8 1259.5L500.7 1257.9ZM484.2 1262.6L489.2 1257.9L488.8 1256.8L484.2 1261.8ZM494.9 1255.8L497.2 1257.5L497.9 1261.2L496.1 1260.4L494.9 1258.5ZM465.2 1277.1L466.6 1276.1L469.8 1276.7L470.4 1274.9L474.3 1273.6L477.8 1270.9L480.1 1268.9L483.0 1265.7L485.1 1267.4L488.1 1269.5L485.8 1271.3L485.3 1274.0L485.8 1278.2L484.6 1280.2L482.4 1283.3L481.2 1287.5L478.2 1288.5L474.3 1286.9L471.4 1286.4L467.9 1286.0L465.6 1281.3ZM433.8 1268.6L438.8 1269.5L441.1 1272.4L445.3 1275.1L448.0 1276.5L452.1 1279.2L453.7 1282.3L457.9 1286.4L457.9 1292.2L454.9 1292.2L449.8 1288.5L446.9 1285.4L444.6 1282.3L441.6 1277.1L437.7 1273.6ZM456.7 1294.3L459.5 1292.7L464.0 1293.9L469.3 1293.5L473.7 1294.5L477.8 1296.4L477.5 1298.2L469.8 1297.4L462.9 1296.4ZM481.2 1297.6L488.1 1297.4L496.8 1297.4L496.8 1298.4L488.1 1298.7L481.2 1298.7ZM498.4 1301.6L501.8 1298.2L506.4 1297.6L501.8 1300.5ZM489.2 1291.6L489.2 1287.5L487.6 1286.0L489.9 1279.8L492.2 1277.5L497.2 1278.2L501.8 1276.9L500.7 1279.4L492.7 1279.2L490.8 1282.1L493.8 1282.3L497.9 1281.9L493.8 1284.0L495.4 1287.1L497.2 1289.5L494.9 1290.6L493.8 1288.5L492.7 1285.8L491.1 1286.2L491.3 1291.6ZM507.5 1278.2L508.7 1275.7L510.3 1277.1L508.7 1279.2L509.4 1281.9L508.0 1280.9ZM515.6 1281.9L519.0 1281.1L522.4 1281.9L522.9 1285.4L525.9 1287.3L531.1 1283.3L538.5 1285.6L546.5 1288.1L549.4 1291.2L553.3 1292.7L554.0 1294.1L552.2 1294.3L554.5 1297.2L560.9 1301.6L556.8 1301.6L552.2 1299.9L549.9 1296.8L546.5 1296.0L543.0 1297.4L543.7 1298.9L538.5 1299.1L533.9 1297.0L530.9 1297.6L533.2 1295.3L531.6 1291.6L525.9 1289.3L521.3 1288.1L519.7 1288.5L517.8 1286.2L521.3 1285.2L518.5 1284.8L515.6 1283.1ZM555.2 1292.0L559.1 1291.6L563.6 1288.9L564.3 1290.6L561.3 1292.7L557.9 1293.3ZM560.7 1285.8L564.8 1288.1L565.9 1290.0L564.8 1288.5ZM570.5 1292.7L572.8 1294.3L571.7 1294.5ZM580.8 1297.4L583.8 1300.3L582.0 1299.9ZM591.1 1321.8L594.5 1323.7L598.0 1326.4L596.8 1326.6L592.3 1323.7ZM621.6 1316.5L624.5 1316.5L624.3 1317.9L621.6 1317.9ZM682.7 1238.4L685.0 1239.5L683.4 1241.1L682.7 1239.5ZM677.7 1235.5L678.8 1235.7L678.6 1236.4ZM476.9 1325.4L480.1 1323.7L483.5 1322.9L488.1 1321.6L492.7 1320.8L495.6 1317.5L495.6 1315.4L498.6 1313.8L501.8 1310.2L505.9 1308.8L509.1 1311.3L512.3 1311.1L514.0 1307.1L515.1 1305.9L519.0 1305.3L519.2 1303.8L524.7 1305.5L528.8 1305.5L528.1 1308.2L526.5 1310.9L529.3 1312.9L534.3 1316.0L538.0 1316.5L539.6 1312.3L539.8 1307.1L541.2 1302.6L544.2 1306.7L544.4 1309.8L548.3 1311.3L548.8 1314.4L550.4 1319.1L555.6 1322.0L557.9 1326.4L561.3 1329.3L565.5 1332.6L566.4 1336.7L567.3 1339.8L565.7 1345.4L562.5 1349.2L559.7 1354.7L558.8 1357.9L554.5 1358.7L550.6 1361.0L547.6 1359.5L544.2 1360.5L538.5 1359.3L535.7 1356.6L534.6 1354.1L532.3 1353.9L532.7 1351.6L531.4 1348.5L530.4 1350.6L530.9 1352.9L528.8 1350.6L526.5 1352.3L525.2 1351.0L522.9 1347.9L517.8 1346.5L511.0 1345.6L504.1 1347.1L499.5 1349.0L498.4 1350.4L490.4 1350.4L485.8 1352.7L481.2 1352.5L478.9 1351.2L480.5 1346.5L479.4 1342.3L477.8 1338.6L475.7 1334.5L475.5 1330.9L475.9 1326.8ZM546.9 1364.7L551.0 1365.5L554.9 1364.9L555.2 1367.6L552.9 1370.1L549.9 1370.3L548.3 1367.8ZM611.0 1351.6L614.7 1353.7L617.4 1356.4L619.0 1358.1L623.9 1358.3L622.9 1361.4L620.9 1361.8L619.0 1365.1L616.8 1366.3L615.6 1365.7L616.3 1363.0L613.6 1361.6L615.6 1358.9L615.2 1355.8L611.7 1352.7ZM611.0 1364.3L614.7 1366.5L611.3 1370.1L607.8 1371.9L606.7 1375.2L603.2 1376.7L599.6 1375.9L596.8 1375.0L601.0 1371.3L606.0 1369.2L608.3 1366.8ZM328.5 1305.1L330.8 1312.3L328.9 1316.5L325.5 1325.8L323.2 1332.0L319.1 1333.0L315.9 1328.9L315.2 1324.7L317.5 1320.6L316.3 1315.4L320.9 1312.7L325.5 1308.2ZM215.6 1427.0L247.7 1425.5L279.7 1425.5L293.5 1422.2L306.0 1423.3L320.9 1419.9L338.3 1416.6L351.4 1418.9L367.6 1420.6L372.4 1428.6L383.7 1425.5L396.5 1420.6L416.0 1418.1L441.8 1418.9L451.4 1416.4L474.3 1418.1L506.4 1418.1L525.9 1416.6L538.5 1418.9L558.4 1422.2L580.8 1425.5L606.7 1428.6L590.7 1436.7L582.4 1446.4L600.3 1443.8L627.8 1455.5L647.2 1454.5L675.8 1456.2L711.8 1456.2L691.9 1452.9L681.1 1448.1L703.8 1445.8L676.3 1440.6L692.3 1438.4L724.8 1434.2L757.1 1432.9L795.8 1433.6L808.6 1436.1L804.1 1432.0L828.1 1430.9L854.0 1432.9L870.2 1432.9L886.5 1428.6L868.6 1427.7L876.6 1423.9L886.5 1418.9L896.1 1413.5L907.3 1411.5L896.1 1414.8L891.1 1420.6L899.3 1430.3L896.1 1435.1L873.4 1439.4L862.2 1442.5L868.6 1445.8L905.7 1452.2L938.0 1449.1L957.5 1445.8L973.5 1445.8L959.1 1442.5L983.3 1438.4L1002.8 1435.1L1015.6 1428.6L1039.9 1427.0M681.6 1132.7L696.4 1134.3L717.0 1136.0L730.8 1136.8L744.5 1135.3L746.8 1134.3L762.8 1135.8L776.6 1137.8L776.6 1139.9L792.6 1139.5L806.3 1139.9L815.5 1138.5L820.1 1140.9L821.2 1137.4L824.7 1131.6L829.2 1134.3L833.8 1137.8L838.4 1139.5L844.1 1136.4L852.1 1135.8L853.3 1138.5L848.7 1143.0L843.0 1143.6L840.7 1146.7L832.7 1148.8L827.0 1152.9L823.1 1158.1L828.1 1162.3L838.4 1163.7L845.3 1165.8L851.5 1166.4L852.1 1170.5L855.6 1174.1L859.0 1173.6L859.0 1168.5L863.6 1164.3L864.7 1160.2L861.3 1156.0L862.4 1151.1L870.5 1151.3L878.5 1154.0L880.8 1158.1L885.3 1159.6L889.9 1157.1L892.2 1155.2L897.9 1161.2L902.5 1165.8L908.2 1168.5L911.7 1172.6L912.4 1173.6L906.0 1174.3L902.5 1176.1L893.4 1176.1L886.5 1177.8L880.8 1180.9L883.1 1179.6L888.8 1178.4L892.7 1179.2L891.1 1181.9L892.2 1184.6L894.5 1185.2L899.1 1185.9L901.8 1183.0L903.0 1185.0L900.2 1186.5L894.5 1187.9L889.5 1190.2L888.3 1188.5L888.8 1186.7L886.5 1187.7L881.9 1189.2L878.5 1190.6L877.8 1192.3L879.6 1193.7L876.2 1194.5L870.9 1195.8L870.0 1198.5L867.0 1201.6L865.9 1203.7L866.3 1206.8L862.4 1209.4L857.9 1211.9L854.4 1214.4L853.5 1218.1L856.0 1223.3L856.3 1227.5L854.4 1228.1L852.1 1225.0L850.3 1222.3L848.0 1218.1L844.1 1218.6L839.5 1217.5L835.4 1217.7L835.4 1220.0L831.5 1219.6L825.1 1218.8L822.4 1219.8L817.3 1222.9L816.7 1227.5L816.0 1233.7L817.3 1237.8L820.1 1240.9L823.5 1242.6L829.2 1241.7L832.2 1239.3L833.1 1236.8L838.4 1235.5L841.2 1236.1L839.5 1239.9L838.4 1243.0L837.7 1246.1L836.6 1247.5L843.0 1247.3L847.6 1247.7L849.2 1249.2L848.7 1254.4L848.5 1257.7L851.0 1261.0L854.4 1262.0L857.4 1260.6L861.3 1261.0L862.9 1262.6L863.6 1263.3L867.0 1258.3L868.6 1257.3L873.9 1255.4L876.2 1254.6L876.2 1257.5L879.2 1256.2L883.5 1258.1L888.8 1258.3L893.4 1258.7L897.9 1258.1L900.2 1260.6L900.7 1262.6L904.8 1264.1L908.2 1267.4L914.0 1268.0L919.7 1269.5L922.4 1271.5L924.3 1276.5L925.4 1280.2L928.8 1281.3L931.1 1281.7L936.9 1283.3L938.5 1285.8L943.7 1286.0L948.3 1286.2L951.7 1288.1L954.7 1290.4L959.1 1291.2L960.0 1295.8L959.3 1299.3L955.2 1303.0L951.7 1307.1L950.6 1312.3L950.1 1317.1L948.3 1321.6L946.0 1325.8L943.7 1327.6L940.3 1327.8L935.7 1329.5L931.1 1331.6L928.6 1334.1L928.4 1338.8L924.7 1343.4L920.4 1347.1L917.4 1350.6L914.0 1352.5L910.5 1352.3L906.4 1350.6L908.9 1353.7L909.8 1355.8L907.8 1359.1L902.5 1360.8L897.5 1361.0L897.3 1364.3L891.1 1365.1L891.1 1368.2L894.0 1367.8L891.1 1370.3L889.9 1373.4L885.3 1375.4L888.8 1377.9L889.2 1379.6L884.9 1382.7L881.9 1385.4L883.1 1388.5L883.5 1389.7L884.7 1392.0L890.6 1393.5L887.6 1394.5L881.9 1395.1L876.2 1393.0L871.6 1389.9L868.6 1385.8L867.0 1380.6L869.3 1377.1L867.0 1375.4L871.6 1372.3L872.8 1367.2L870.5 1366.1L870.9 1363.0L871.6 1357.9L873.4 1353.7L876.0 1348.5L876.2 1342.3L877.3 1337.2L878.5 1332.0L879.2 1323.7L878.7 1318.3L876.2 1316.0L870.9 1314.0L865.9 1309.6L863.1 1305.1L860.2 1299.9L857.2 1295.1L854.0 1292.7L853.7 1289.5L856.0 1287.3L856.7 1285.4L854.4 1284.8L855.6 1281.3L856.7 1278.6L859.5 1277.1L862.4 1272.4L862.4 1266.8L860.8 1264.7L860.2 1261.6L857.9 1261.6L856.3 1263.1L855.6 1265.1L853.3 1264.3L849.9 1263.1L848.3 1262.0L845.3 1259.5L843.4 1258.5L841.8 1255.4L839.5 1253.3L837.3 1252.9L833.8 1251.7L828.8 1250.2L824.7 1247.1L818.9 1247.7L814.4 1246.5L807.5 1244.0L802.9 1241.9L798.8 1239.5L798.3 1235.7L796.0 1232.0L791.5 1227.9L789.2 1225.0L786.4 1222.3L782.8 1220.2L781.2 1215.7L777.0 1214.4L777.7 1218.1L781.2 1222.3L783.5 1225.4L786.4 1229.5L789.2 1232.2L787.3 1232.0L783.0 1228.5L778.4 1224.3L777.7 1222.3L774.8 1218.8L772.7 1215.0L771.5 1212.6L768.6 1209.9L763.8 1208.6L760.8 1204.5L759.4 1202.0L756.4 1198.5L755.3 1196.4L755.5 1191.2L756.0 1184.6L754.4 1180.1L758.3 1179.8L759.4 1181.9L758.7 1178.8L754.8 1176.7L748.0 1174.7L746.8 1171.6L742.2 1167.8L738.8 1165.4L734.2 1161.2L729.6 1158.7L725.1 1158.5L719.8 1156.7L711.3 1156.0L704.5 1154.4L699.9 1155.4L694.2 1157.5L692.3 1154.4L696.4 1153.6L690.7 1155.4L687.7 1158.1L686.6 1160.2L681.6 1162.3L677.0 1164.3L671.3 1166.0L666.7 1167.0L662.6 1167.2L666.7 1165.4L672.4 1164.3L677.0 1161.2L679.3 1158.7L675.8 1158.7L669.0 1158.7L669.0 1156.0L663.2 1155.0L659.8 1152.5L662.1 1149.8L667.8 1148.8L671.3 1147.1L667.8 1146.7L662.6 1146.7L658.7 1145.7L655.2 1144.5L663.2 1142.6L669.0 1143.0L665.5 1141.6L662.1 1138.9L659.1 1137.6L665.5 1136.8L670.1 1134.7L675.8 1133.7ZM872.8 1118.4L886.5 1113.6L897.9 1110.9L920.8 1109.9L941.4 1108.0L964.3 1107.2L982.7 1108.4L994.1 1110.5L1012.4 1111.5L1001.0 1114.6L996.4 1117.8L997.5 1121.9L994.1 1125.0L995.3 1127.1L989.5 1129.1L989.5 1131.2L983.8 1132.2L989.5 1134.7L982.7 1136.4L980.4 1138.5L971.2 1139.3L964.3 1141.6L957.5 1144.0L948.8 1144.7L946.0 1148.8L942.6 1152.9L940.3 1156.0L936.9 1156.3L930.0 1154.0L924.3 1149.8L920.8 1145.7L916.9 1141.6L918.5 1138.5L923.1 1136.4L915.1 1134.3L914.0 1131.2L911.7 1128.1L907.1 1124.4L897.9 1122.5L886.5 1122.9L877.3 1120.4ZM891.1 1152.1L884.2 1151.3L875.0 1148.4L869.3 1146.7L861.3 1146.3L862.4 1144.7L870.5 1144.7L872.8 1140.5L862.4 1135.8L857.9 1135.3L846.4 1135.3L836.1 1133.3L835.0 1129.1L845.3 1127.7L854.4 1128.1L861.3 1129.1L869.3 1131.6L879.6 1133.9L885.3 1136.4L887.6 1139.5L897.9 1141.6L897.9 1143.6L892.2 1145.7L887.6 1149.2ZM772.0 1137.4L781.2 1138.5L792.6 1138.0L801.8 1137.6L807.5 1135.8L804.1 1132.2L799.5 1129.6L791.5 1128.7L788.0 1129.8L778.9 1128.5L769.7 1130.0L767.4 1132.0L774.3 1132.9L768.6 1134.7ZM752.5 1131.2L758.3 1132.9L764.0 1132.0L766.3 1128.1L770.9 1126.7L762.8 1126.0L754.8 1126.7ZM833.8 1121.9L856.7 1122.5L862.4 1119.2L868.2 1116.7L884.2 1113.2L891.1 1111.5L897.9 1109.5L879.6 1108.2L856.7 1108.4L838.4 1109.9L831.5 1112.0L843.0 1114.0L838.4 1117.8ZM856.7 1125.0L838.4 1126.0L829.2 1125.6L820.1 1121.9L833.8 1121.3L852.1 1122.3ZM772.0 1124.0L783.5 1126.0L797.2 1125.0L797.2 1122.9L788.0 1121.9L774.3 1121.9ZM806.3 1129.1L817.8 1131.2L827.0 1130.2L832.7 1127.5L827.0 1127.1L817.8 1127.1L810.9 1127.5ZM822.4 1117.8L838.4 1118.2L840.7 1114.0L827.0 1112.6L820.1 1114.6ZM840.7 1145.1L847.6 1144.0L856.7 1147.1L854.4 1148.8L845.3 1149.8L840.7 1147.8ZM904.1 1181.7L911.7 1183.6L918.5 1183.6L919.2 1181.7L917.4 1179.4L912.1 1177.2L912.8 1173.6L909.4 1174.7L906.0 1178.8ZM746.1 1175.1L752.5 1176.1L757.1 1179.8L753.7 1179.4ZM845.3 1235.1L851.0 1232.4L856.7 1232.6L863.6 1235.7L870.0 1238.4L862.4 1239.0L861.3 1237.4L859.0 1235.7L852.1 1234.1L847.6 1234.7ZM869.3 1242.2L872.8 1239.0L879.6 1239.3L883.3 1241.5L879.6 1242.6L875.7 1243.6L873.9 1242.6ZM860.6 1242.4L865.2 1242.6L863.6 1243.4ZM886.0 1242.2L889.5 1242.4L888.8 1243.1L886.0 1243.0ZM900.2 1386.8L907.1 1386.6L906.0 1388.3L901.4 1388.3ZM952.9 1392.0L957.5 1393.0L955.2 1393.2ZM373.6 1381.7L377.0 1382.1L375.9 1383.1L373.6 1382.7Z" fill="none" stroke="#000" stroke-opacity="0.95" stroke-width="0.8"/></g>

<text x="464.94" y="93.0" font-size="37.55" textLength="344.82" lengthAdjust="spacingAndGlyphs">LHFLX MAM global</text>
<path d="M208.7 154.0H216.0M216.0 526.0V533.3M208.7 216.0H216.0M353.0 526.0V533.3M208.7 278.0H216.0M490.0 526.0V533.3M208.7 340.0H216.0M628.0 526.0V533.3M208.7 402.0H216.0M765.0 526.0V533.3M208.7 464.0H216.0M903.0 526.0V533.3M208.7 526.0H216.0M1040.0 526.0V533.3" stroke="#000" stroke-width="2" fill="none"/>
<rect x="216.0" y="154.0" width="824.0" height="372.0" fill="none" stroke="#000" stroke-width="2"/>
<text x="158.68" y="160.5" font-size="17.67" textLength="42.23" lengthAdjust="spacingAndGlyphs">90°N</text>
<text x="158.72" y="222.6" font-size="17.67" textLength="42.19" lengthAdjust="spacingAndGlyphs">60°N</text>
<text x="159.07" y="284.7" font-size="17.67" textLength="41.82" lengthAdjust="spacingAndGlyphs">30°N</text>
<text x="182.21" y="346.8" font-size="17.67" textLength="18.35" lengthAdjust="spacingAndGlyphs">0°</text>
<text x="160.99" y="408.9" font-size="17.67" textLength="39.92" lengthAdjust="spacingAndGlyphs">30°S</text>
<text x="160.64" y="471.0" font-size="17.67" textLength="40.28" lengthAdjust="spacingAndGlyphs">60°S</text>
<text x="160.60" y="533.1" font-size="17.67" textLength="40.33" lengthAdjust="spacingAndGlyphs">90°S</text>
<text x="200.68" y="554.8" font-size="17.67" textLength="29.11" lengthAdjust="spacingAndGlyphs">0°E</text>
<text x="332.50" y="554.8" font-size="17.67" textLength="40.03" lengthAdjust="spacingAndGlyphs">60°E</text>
<text x="465.18" y="554.8" font-size="17.67" textLength="50.56" lengthAdjust="spacingAndGlyphs">120°E</text>
<text x="608.30" y="554.8" font-size="17.67" textLength="39.80" lengthAdjust="spacingAndGlyphs">180°</text>
<text x="737.05" y="554.8" font-size="17.67" textLength="56.40" lengthAdjust="spacingAndGlyphs">120°W</text>
<text x="878.64" y="554.8" font-size="17.67" textLength="45.86" lengthAdjust="spacingAndGlyphs">60°W</text>
<text x="1021.59" y="554.8" font-size="17.67" textLength="34.97" lengthAdjust="spacingAndGlyphs">0°W</text>
<path d="M208.7 624.0H216.0M216.0 996.0V1003.3M208.7 686.0H216.0M353.0 996.0V1003.3M208.7 748.0H216.0M490.0 996.0V1003.3M208.7 810.0H216.0M628.0 996.0V1003.3M208.7 872.0H216.0M765.0 996.0V1003.3M208.7 934.0H216.0M903.0 996.0V1003.3M208.7 996.0H216.0M1040.0 996.0V1003.3" stroke="#000" stroke-width="2" fill="none"/>
<rect x="216.0" y="624.0" width="824.0" height="372.0" fill="none" stroke="#000" stroke-width="2"/>
<text x="158.68" y="630.6" font-size="17.67" textLength="42.23" lengthAdjust="spacingAndGlyphs">90°N</text>
<text x="158.72" y="692.7" font-size="17.67" textLength="42.19" lengthAdjust="spacingAndGlyphs">60°N</text>
<text x="159.07" y="754.8" font-size="17.67" textLength="41.82" lengthAdjust="spacingAndGlyphs">30°N</text>
<text x="182.21" y="816.9" font-size="17.67" textLength="18.35" lengthAdjust="spacingAndGlyphs">0°</text>
<text x="160.99" y="879.0" font-size="17.67" textLength="39.92" lengthAdjust="spacingAndGlyphs">30°S</text>
<text x="160.64" y="941.1" font-size="17.67" textLength="40.28" lengthAdjust="spacingAndGlyphs">60°S</text>
<text x="160.60" y="1003.2" font-size="17.67" textLength="40.33" lengthAdjust="spacingAndGlyphs">90°S</text>
<text x="200.68" y="1024.8" font-size="17.67" textLength="29.11" lengthAdjust="spacingAndGlyphs">0°E</text>
<text x="332.50" y="1024.8" font-size="17.67" textLength="40.03" lengthAdjust="spacingAndGlyphs">60°E</text>
<text x="465.18" y="1024.8" font-size="17.67" textLength="50.56" lengthAdjust="spacingAndGlyphs">120°E</text>
<text x="608.30" y="1024.8" font-size="17.67" textLength="39.80" lengthAdjust="spacingAndGlyphs">180°</text>
<text x="737.05" y="1024.8" font-size="17.67" textLength="56.40" lengthAdjust="spacingAndGlyphs">120°W</text>
<text x="878.64" y="1024.8" font-size="17.67" textLength="45.86" lengthAdjust="spacingAndGlyphs">60°W</text>
<text x="1021.59" y="1024.8" font-size="17.67" textLength="34.97" lengthAdjust="spacingAndGlyphs">0°W</text>
<path d="M208.7 1094.0H216.0M216.0 1467.0V1474.3M208.7 1156.0H216.0M353.0 1467.0V1474.3M208.7 1218.0H216.0M490.0 1467.0V1474.3M208.7 1280.0H216.0M628.0 1467.0V1474.3M208.7 1342.0H216.0M765.0 1467.0V1474.3M208.7 1404.0H216.0M903.0 1467.0V1474.3M208.7 1467.0H216.0M1040.0 1467.0V1474.3" stroke="#000" stroke-width="2" fill="none"/>
<rect x="216.0" y="1094.0" width="824.0" height="373.0" fill="none" stroke="#000" stroke-width="2"/>
<text x="158.68" y="1100.7" font-size="17.67" textLength="42.23" lengthAdjust="spacingAndGlyphs">90°N</text>
<text x="158.72" y="1162.8" font-size="17.67" textLength="42.19" lengthAdjust="spacingAndGlyphs">60°N</text>
<text x="159.07" y="1224.9" font-size="17.67" textLength="41.82" lengthAdjust="spacingAndGlyphs">30°N</text>
<text x="182.21" y="1287.0" font-size="17.67" textLength="18.35" lengthAdjust="spacingAndGlyphs">0°</text>
<text x="160.99" y="1349.1" font-size="17.67" textLength="39.92" lengthAdjust="spacingAndGlyphs">30°S</text>
<text x="160.64" y="1411.2" font-size="17.67" textLength="40.28" lengthAdjust="spacingAndGlyphs">60°S</text>
<text x="160.60" y="1473.3" font-size="17.67" textLength="40.33" lengthAdjust="spacingAndGlyphs">90°S</text>
<text x="200.68" y="1494.9" font-size="17.67" textLength="29.11" lengthAdjust="spacingAndGlyphs">0°E</text>
<text x="332.50" y="1494.9" font-size="17.67" textLength="40.03" lengthAdjust="spacingAndGlyphs">60°E</text>
<text x="465.18" y="1494.9" font-size="17.67" textLength="50.56" lengthAdjust="spacingAndGlyphs">120°E</text>
<text x="608.30" y="1494.9" font-size="17.67" textLength="39.80" lengthAdjust="spacingAndGlyphs">180°</text>
<text x="737.05" y="1494.9" font-size="17.67" textLength="56.40" lengthAdjust="spacingAndGlyphs">120°W</text>
<text x="878.64" y="1494.9" font-size="17.67" textLength="45.86" lengthAdjust="spacingAndGlyphs">60°W</text>
<text x="1021.59" y="1494.9" font-size="17.67" textLength="34.97" lengthAdjust="spacingAndGlyphs">0°W</text>
<text x="215.44" y="140.6" font-size="19.88" textLength="205.66" lengthAdjust="spacingAndGlyphs">amipA1 (1930-1949)</text>
<text x="215.74" y="610.6" font-size="19.88" textLength="308.60" lengthAdjust="spacingAndGlyphs">MERRA2 Reanalysis 1980-2016</text>
<text x="984.01" y="141.0" font-size="19.88" textLength="55.56" lengthAdjust="spacingAndGlyphs">W/m2</text>
<text x="984.01" y="611.0" font-size="19.88" textLength="55.56" lengthAdjust="spacingAndGlyphs">W/m2</text>
<text x="555.44" y="1081.1" font-size="25.40" textLength="143.62" lengthAdjust="spacingAndGlyphs">Model - Obs</text>
<text x="1061.50" y="135.1" font-size="19.88" textLength="39.25" lengthAdjust="spacingAndGlyphs">Max</text>
<text x="1121.37" y="135.1" font-size="19.88" textLength="67.03" lengthAdjust="spacingAndGlyphs">256.87</text>
<text x="1061.49" y="156.9" font-size="19.88" textLength="52.05" lengthAdjust="spacingAndGlyphs">Mean</text>
<text x="1133.40" y="156.9" font-size="19.88" textLength="54.76" lengthAdjust="spacingAndGlyphs">89.30</text>
<text x="1061.48" y="178.7" font-size="19.88" textLength="33.75" lengthAdjust="spacingAndGlyphs">Min</text>
<text x="1138.15" y="178.7" font-size="19.88" textLength="49.78" lengthAdjust="spacingAndGlyphs">-3.74</text>
<text x="1061.50" y="605.2" font-size="19.88" textLength="39.25" lengthAdjust="spacingAndGlyphs">Max</text>
<text x="1121.51" y="605.2" font-size="19.88" textLength="66.86" lengthAdjust="spacingAndGlyphs">227.71</text>
<text x="1061.49" y="627.0" font-size="19.88" textLength="52.05" lengthAdjust="spacingAndGlyphs">Mean</text>
<text x="1133.77" y="627.0" font-size="19.88" textLength="54.63" lengthAdjust="spacingAndGlyphs">83.47</text>
<text x="1061.48" y="648.8" font-size="19.88" textLength="33.75" lengthAdjust="spacingAndGlyphs">Min</text>
<text x="1138.43" y="648.8" font-size="19.88" textLength="49.91" lengthAdjust="spacingAndGlyphs">-2.89</text>
<text x="1061.50" y="1075.2" font-size="19.88" textLength="39.25" lengthAdjust="spacingAndGlyphs">Max</text>
<text x="1133.73" y="1075.2" font-size="19.88" textLength="54.63" lengthAdjust="spacingAndGlyphs">94.81</text>
<text x="1061.49" y="1097.0" font-size="19.88" textLength="52.05" lengthAdjust="spacingAndGlyphs">Mean</text>
<text x="1146.28" y="1097.0" font-size="19.88" textLength="41.97" lengthAdjust="spacingAndGlyphs">5.83</text>
<text x="1061.48" y="1118.8" font-size="19.88" textLength="33.75" lengthAdjust="spacingAndGlyphs">Min</text>
<text x="1125.93" y="1118.8" font-size="19.88" textLength="62.33" lengthAdjust="spacingAndGlyphs">-61.46</text>
<text x="1061.68" y="1462.0" font-size="19.88" textLength="53.63" lengthAdjust="spacingAndGlyphs">RMSE</text>
<text x="1133.54" y="1462.0" font-size="19.88" textLength="54.71" lengthAdjust="spacingAndGlyphs">16.68</text>
<text x="1062.24" y="1484.1" font-size="19.88" textLength="55.61" lengthAdjust="spacingAndGlyphs">CORR</text>
<text x="1145.74" y="1484.1" font-size="19.88" textLength="42.52" lengthAdjust="spacingAndGlyphs">0.96</text>
<clipPath id="cb0"><path d="M1061.6 208.3L1082.3 194.4L1103.0 208.3V477.20000000000005L1082.3 490.9L1061.6 477.20000000000005Z"/></clipPath><g clip-path="url(#cb0)">
<rect x="1060.6" y="192.40" width="43.40000000000009" height="300.50" fill="#ff2a00"/>
<rect x="1060.6" y="227.80" width="43.40000000000009" height="265.10" fill="#ff5a00"/>
<rect x="1060.6" y="247.05" width="43.40000000000009" height="245.85" fill="#ff7f05"/>
<rect x="1060.6" y="266.30" width="43.40000000000009" height="226.60" fill="#ff9a10"/>
<rect x="1060.6" y="285.55" width="43.40000000000009" height="207.35" fill="#fdb81c"/>
<rect x="1060.6" y="304.80" width="43.40000000000009" height="188.10" fill="#f0cc28"/>
<rect x="1060.6" y="324.05" width="43.40000000000009" height="168.85" fill="#c8c420"/>
<rect x="1060.6" y="343.30" width="43.40000000000009" height="149.60" fill="#9cbb18"/>
<rect x="1060.6" y="362.55" width="43.40000000000009" height="130.35" fill="#6eb010"/>
<rect x="1060.6" y="381.80" width="43.40000000000009" height="111.10" fill="#3ea224"/>
<rect x="1060.6" y="401.05" width="43.40000000000009" height="91.85" fill="#3c9060"/>
<rect x="1060.6" y="420.30" width="43.40000000000009" height="72.60" fill="#1a7b8c"/>
<rect x="1060.6" y="439.55" width="43.40000000000009" height="53.35" fill="#0060c0"/>
<rect x="1060.6" y="458.80" width="43.40000000000009" height="34.10" fill="#0030fa"/>
</g>
<path d="M1061.6 208.3L1082.3 194.4L1103.0 208.3V477.20000000000005L1082.3 490.9L1061.6 477.20000000000005Z" fill="none" stroke="#000" stroke-width="1.67" stroke-linejoin="miter"/>
<text x="1136.01" y="465.7" font-size="19.88" textLength="29.31" lengthAdjust="spacingAndGlyphs">0.0</text>
<text x="1136.21" y="446.5" font-size="19.88" textLength="29.11" lengthAdjust="spacingAndGlyphs">5.0</text>
<text x="1123.98" y="427.2" font-size="19.88" textLength="41.35" lengthAdjust="spacingAndGlyphs">15.0</text>
<text x="1124.15" y="408.0" font-size="19.88" textLength="41.18" lengthAdjust="spacingAndGlyphs">30.0</text>
<text x="1123.75" y="388.7" font-size="19.88" textLength="41.58" lengthAdjust="spacingAndGlyphs">60.0</text>
<text x="1123.70" y="369.5" font-size="19.88" textLength="41.63" lengthAdjust="spacingAndGlyphs">90.0</text>
<text x="1111.90" y="350.2" font-size="19.88" textLength="53.44" lengthAdjust="spacingAndGlyphs">120.0</text>
<text x="1111.90" y="331.0" font-size="19.88" textLength="53.44" lengthAdjust="spacingAndGlyphs">150.0</text>
<text x="1111.90" y="311.7" font-size="19.88" textLength="53.44" lengthAdjust="spacingAndGlyphs">180.0</text>
<text x="1111.75" y="292.5" font-size="19.88" textLength="53.59" lengthAdjust="spacingAndGlyphs">210.0</text>
<text x="1111.75" y="273.2" font-size="19.88" textLength="53.59" lengthAdjust="spacingAndGlyphs">240.0</text>
<text x="1111.75" y="254.0" font-size="19.88" textLength="53.59" lengthAdjust="spacingAndGlyphs">270.0</text>
<text x="1112.07" y="234.8" font-size="19.88" textLength="53.26" lengthAdjust="spacingAndGlyphs">300.0</text>
<clipPath id="cb1"><path d="M1061.6 678.39L1082.3 664.49L1103.0 678.39V947.29L1082.3 960.99L1061.6 947.29Z"/></clipPath><g clip-path="url(#cb1)">
<rect x="1060.6" y="662.49" width="43.40000000000009" height="300.50" fill="#ff2a00"/>
<rect x="1060.6" y="697.89" width="43.40000000000009" height="265.10" fill="#ff5a00"/>
<rect x="1060.6" y="717.14" width="43.40000000000009" height="245.85" fill="#ff7f05"/>
<rect x="1060.6" y="736.39" width="43.40000000000009" height="226.60" fill="#ff9a10"/>
<rect x="1060.6" y="755.64" width="43.40000000000009" height="207.35" fill="#fdb81c"/>
<rect x="1060.6" y="774.89" width="43.40000000000009" height="188.10" fill="#f0cc28"/>
<rect x="1060.6" y="794.14" width="43.40000000000009" height="168.85" fill="#c8c420"/>
<rect x="1060.6" y="813.39" width="43.40000000000009" height="149.60" fill="#9cbb18"/>
<rect x="1060.6" y="832.64" width="43.40000000000009" height="130.35" fill="#6eb010"/>
<rect x="1060.6" y="851.89" width="43.40000000000009" height="111.10" fill="#3ea224"/>
<rect x="1060.6" y="871.14" width="43.40000000000009" height="91.85" fill="#3c9060"/>
<rect x="1060.6" y="890.39" width="43.40000000000009" height="72.60" fill="#1a7b8c"/>
<rect x="1060.6" y="909.64" width="43.40000000000009" height="53.35" fill="#0060c0"/>
<rect x="1060.6" y="928.89" width="43.40000000000009" height="34.10" fill="#0030fa"/>
</g>
<path d="M1061.6 678.39L1082.3 664.49L1103.0 678.39V947.29L1082.3 960.99L1061.6 947.29Z" fill="none" stroke="#000" stroke-width="1.67" stroke-linejoin="miter"/>
<text x="1136.01" y="935.8" font-size="19.88" textLength="29.31" lengthAdjust="spacingAndGlyphs">0.0</text>
<text x="1136.21" y="916.6" font-size="19.88" textLength="29.11" lengthAdjust="spacingAndGlyphs">5.0</text>
<text x="1123.98" y="897.3" font-size="19.88" textLength="41.35" lengthAdjust="spacingAndGlyphs">15.0</text>
<text x="1124.15" y="878.1" font-size="19.88" textLength="41.18" lengthAdjust="spacingAndGlyphs">30.0</text>
<text x="1123.75" y="858.8" font-size="19.88" textLength="41.58" lengthAdjust="spacingAndGlyphs">60.0</text>
<text x="1123.70" y="839.6" font-size="19.88" textLength="41.63" lengthAdjust="spacingAndGlyphs">90.0</text>
<text x="1111.90" y="820.3" font-size="19.88" textLength="53.44" lengthAdjust="spacingAndGlyphs">120.0</text>
<text x="1111.90" y="801.1" font-size="19.88" textLength="53.44" lengthAdjust="spacingAndGlyphs">150.0</text>
<text x="1111.90" y="781.8" font-size="19.88" textLength="53.44" lengthAdjust="spacingAndGlyphs">180.0</text>
<text x="1111.75" y="762.6" font-size="19.88" textLength="53.59" lengthAdjust="spacingAndGlyphs">210.0</text>
<text x="1111.75" y="743.3" font-size="19.88" textLength="53.59" lengthAdjust="spacingAndGlyphs">240.0</text>
<text x="1111.75" y="724.1" font-size="19.88" textLength="53.59" lengthAdjust="spacingAndGlyphs">270.0</text>
<text x="1112.07" y="704.8" font-size="19.88" textLength="53.26" lengthAdjust="spacingAndGlyphs">300.0</text>
<clipPath id="cb2"><path d="M1061.6 1148.47L1082.3 1134.57L1103.0 1148.47V1417.3700000000001L1082.3 1431.0700000000002L1061.6 1417.3700000000001Z"/></clipPath><g clip-path="url(#cb2)">
<rect x="1060.6" y="1132.57" width="43.40000000000009" height="300.50" fill="#ff2a00"/>
<rect x="1060.6" y="1165.07" width="43.40000000000009" height="268.00" fill="#ff4420"/>
<rect x="1060.6" y="1180.90" width="43.40000000000009" height="252.17" fill="#ff5f40"/>
<rect x="1060.6" y="1196.72" width="43.40000000000009" height="236.35" fill="#ff7a60"/>
<rect x="1060.6" y="1212.55" width="43.40000000000009" height="220.52" fill="#ff9480"/>
<rect x="1060.6" y="1228.38" width="43.40000000000009" height="204.69" fill="#ffafa0"/>
<rect x="1060.6" y="1244.20" width="43.40000000000009" height="188.87" fill="#ffcac0"/>
<rect x="1060.6" y="1260.03" width="43.40000000000009" height="173.04" fill="#ffe4e0"/>
<rect x="1060.6" y="1275.86" width="43.40000000000009" height="157.21" fill="#ffffff"/>
<rect x="1060.6" y="1291.68" width="43.40000000000009" height="141.39" fill="#dfe5fe"/>
<rect x="1060.6" y="1307.51" width="43.40000000000009" height="125.56" fill="#bfcafe"/>
<rect x="1060.6" y="1323.34" width="43.40000000000009" height="109.73" fill="#9fb0fd"/>
<rect x="1060.6" y="1339.16" width="43.40000000000009" height="93.91" fill="#8096fc"/>
<rect x="1060.6" y="1354.99" width="43.40000000000009" height="78.08" fill="#607bfc"/>
<rect x="1060.6" y="1370.82" width="43.40000000000009" height="62.25" fill="#4061fb"/>
<rect x="1060.6" y="1386.64" width="43.40000000000009" height="46.43" fill="#2046fb"/>
<rect x="1060.6" y="1402.47" width="43.40000000000009" height="30.60" fill="#002cfa"/>
</g>
<path d="M1061.6 1148.47L1082.3 1134.57L1103.0 1148.47V1417.3700000000001L1082.3 1431.0700000000002L1061.6 1417.3700000000001Z" fill="none" stroke="#000" stroke-width="1.67" stroke-linejoin="miter"/>
<text x="1104.57" y="1409.4" font-size="19.88" textLength="60.77" lengthAdjust="spacingAndGlyphs">-150.0</text>
<text x="1104.57" y="1393.6" font-size="19.88" textLength="60.77" lengthAdjust="spacingAndGlyphs">-120.0</text>
<text x="1116.64" y="1377.8" font-size="19.88" textLength="48.69" lengthAdjust="spacingAndGlyphs">-90.0</text>
<text x="1116.64" y="1361.9" font-size="19.88" textLength="48.69" lengthAdjust="spacingAndGlyphs">-60.0</text>
<text x="1116.64" y="1346.1" font-size="19.88" textLength="48.69" lengthAdjust="spacingAndGlyphs">-30.0</text>
<text x="1116.64" y="1330.3" font-size="19.88" textLength="48.69" lengthAdjust="spacingAndGlyphs">-20.0</text>
<text x="1116.64" y="1314.5" font-size="19.88" textLength="48.69" lengthAdjust="spacingAndGlyphs">-10.0</text>
<text x="1128.72" y="1298.6" font-size="19.88" textLength="36.61" lengthAdjust="spacingAndGlyphs">-5.0</text>
<text x="1136.21" y="1282.8" font-size="19.88" textLength="29.11" lengthAdjust="spacingAndGlyphs">5.0</text>
<text x="1123.98" y="1267.0" font-size="19.88" textLength="41.35" lengthAdjust="spacingAndGlyphs">10.0</text>
<text x="1123.83" y="1251.2" font-size="19.88" textLength="41.50" lengthAdjust="spacingAndGlyphs">20.0</text>
<text x="1124.15" y="1235.3" font-size="19.88" textLength="41.18" lengthAdjust="spacingAndGlyphs">30.0</text>
<text x="1123.75" y="1219.5" font-size="19.88" textLength="41.58" lengthAdjust="spacingAndGlyphs">60.0</text>
<text x="1123.70" y="1203.7" font-size="19.88" textLength="41.63" lengthAdjust="spacingAndGlyphs">90.0</text>
<text x="1111.90" y="1187.8" font-size="19.88" textLength="53.44" lengthAdjust="spacingAndGlyphs">120.0</text>
<text x="1111.90" y="1172.0" font-size="19.88" textLength="53.44" lengthAdjust="spacingAndGlyphs">150.0</text>
</svg>
</body></html>
